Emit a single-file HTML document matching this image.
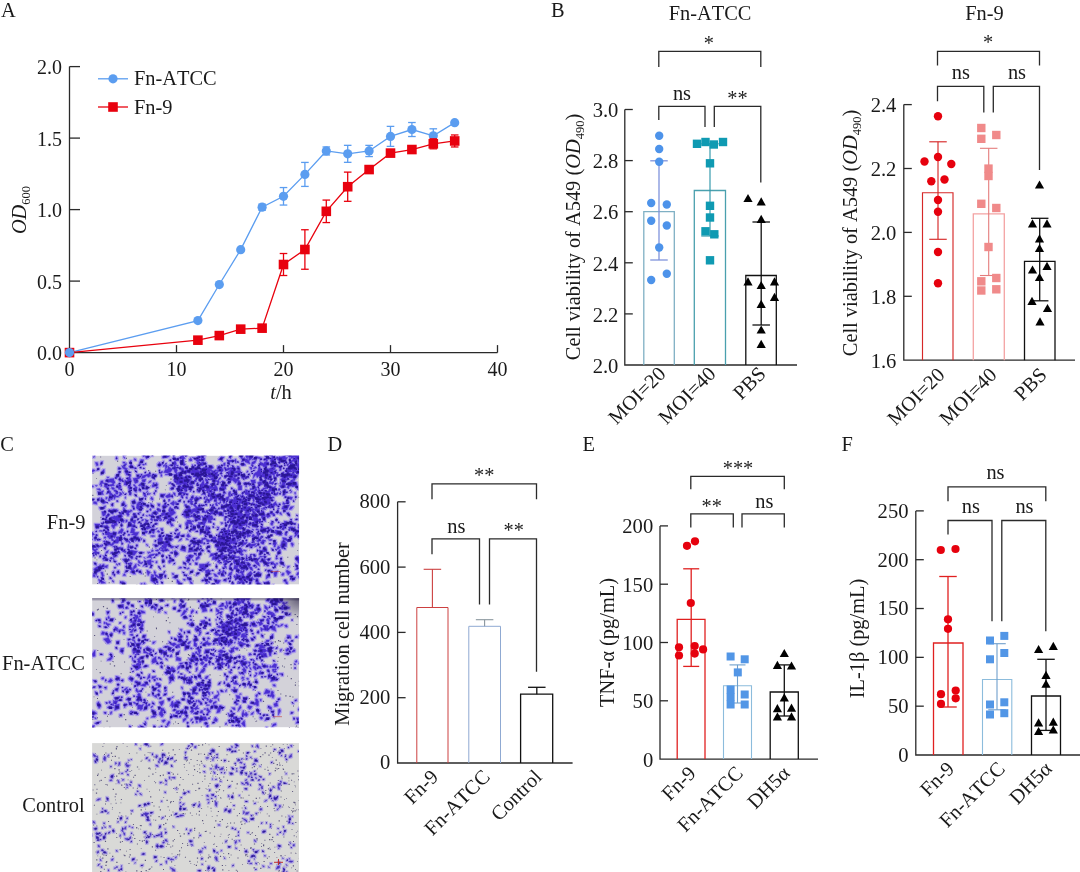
<!DOCTYPE html>
<html lang="en"><head><meta charset="utf-8"><title>Figure</title>
<style>html,body{margin:0;padding:0;background:#fff}svg{display:block}text{font-family:"Liberation Serif","DejaVu Serif",serif;font-kerning:none}</style>
</head><body>
<svg width="1080" height="872" viewBox="0 0 1080 872">
<rect width="1080" height="872" fill="#fff"/>
<g opacity="0.999">
<text x="1.00" y="16.50" text-anchor="start" font-size="20.4" fill="#1a1a1a">A</text>
<text x="551.00" y="16.50" text-anchor="start" font-size="20.4" fill="#1a1a1a">B</text>
<text x="0.30" y="450.80" text-anchor="start" font-size="20.4" fill="#1a1a1a">C</text>
<text x="327.50" y="450.50" text-anchor="start" font-size="20.4" fill="#1a1a1a">D</text>
<text x="582.50" y="450.50" text-anchor="start" font-size="20.4" fill="#1a1a1a">E</text>
<text x="841.50" y="450.50" text-anchor="start" font-size="20.4" fill="#1a1a1a">F</text>
<path d="M69.5,66.60V352.6H497.50" stroke="#2a2a2a" stroke-width="1.3" fill="none"/>
<text x="62.10" y="360.20" text-anchor="end" font-size="20" fill="#1a1a1a">0.0</text>
<line x1="69.50" y1="281.10" x2="80.00" y2="281.10" stroke="#2a2a2a" stroke-width="1.3"/>
<text x="62.10" y="288.70" text-anchor="end" font-size="20" fill="#1a1a1a">0.5</text>
<line x1="69.50" y1="209.60" x2="80.00" y2="209.60" stroke="#2a2a2a" stroke-width="1.3"/>
<text x="62.10" y="217.20" text-anchor="end" font-size="20" fill="#1a1a1a">1.0</text>
<line x1="69.50" y1="138.10" x2="80.00" y2="138.10" stroke="#2a2a2a" stroke-width="1.3"/>
<text x="62.10" y="145.70" text-anchor="end" font-size="20" fill="#1a1a1a">1.5</text>
<line x1="69.50" y1="66.60" x2="80.00" y2="66.60" stroke="#2a2a2a" stroke-width="1.3"/>
<text x="62.10" y="74.20" text-anchor="end" font-size="20" fill="#1a1a1a">2.0</text>
<line x1="176.50" y1="352.60" x2="176.50" y2="345.10" stroke="#2a2a2a" stroke-width="1.3"/>
<line x1="283.50" y1="352.60" x2="283.50" y2="345.10" stroke="#2a2a2a" stroke-width="1.3"/>
<line x1="390.50" y1="352.60" x2="390.50" y2="345.10" stroke="#2a2a2a" stroke-width="1.3"/>
<line x1="497.50" y1="352.60" x2="497.50" y2="345.10" stroke="#2a2a2a" stroke-width="1.3"/>
<text x="69.50" y="375.50" text-anchor="middle" font-size="20" fill="#1a1a1a">0</text>
<text x="176.50" y="375.50" text-anchor="middle" font-size="20" fill="#1a1a1a">10</text>
<text x="283.50" y="375.50" text-anchor="middle" font-size="20" fill="#1a1a1a">20</text>
<text x="390.50" y="375.50" text-anchor="middle" font-size="20" fill="#1a1a1a">30</text>
<text x="497.50" y="375.50" text-anchor="middle" font-size="20" fill="#1a1a1a">40</text>
<text x="281.00" y="398.50" text-anchor="middle" font-size="20.4" fill="#1a1a1a"><tspan font-style="italic">t</tspan>/h</text>
<text x="25.50" y="210.00" text-anchor="middle" font-size="20.4" fill="#1a1a1a" transform="rotate(-90 25.50 210.00)"><tspan font-style="italic">OD</tspan><tspan font-size="12.5" dy="4">600</tspan></text>
<polyline points="69.50,352.60 197.90,320.57 219.30,284.53 240.70,249.64 262.10,207.17 283.50,196.30 304.90,174.42 326.30,150.97 347.70,153.83 369.10,150.97 390.50,136.38 411.90,129.52 433.30,135.81 454.70,122.66" fill="none" stroke="#5b9df0" stroke-width="1.3"/>
<line x1="262.10" y1="204.17" x2="262.10" y2="210.17" stroke="#5b9df0" stroke-width="1.3"/>
<line x1="258.30" y1="204.17" x2="265.90" y2="204.17" stroke="#5b9df0" stroke-width="1.3"/>
<line x1="258.30" y1="210.17" x2="265.90" y2="210.17" stroke="#5b9df0" stroke-width="1.3"/>
<line x1="283.50" y1="187.55" x2="283.50" y2="205.05" stroke="#5b9df0" stroke-width="1.3"/>
<line x1="279.70" y1="187.55" x2="287.30" y2="187.55" stroke="#5b9df0" stroke-width="1.3"/>
<line x1="279.70" y1="205.05" x2="287.30" y2="205.05" stroke="#5b9df0" stroke-width="1.3"/>
<line x1="304.90" y1="162.42" x2="304.90" y2="186.42" stroke="#5b9df0" stroke-width="1.3"/>
<line x1="301.10" y1="162.42" x2="308.70" y2="162.42" stroke="#5b9df0" stroke-width="1.3"/>
<line x1="301.10" y1="186.42" x2="308.70" y2="186.42" stroke="#5b9df0" stroke-width="1.3"/>
<line x1="326.30" y1="146.97" x2="326.30" y2="154.97" stroke="#5b9df0" stroke-width="1.3"/>
<line x1="322.50" y1="146.97" x2="330.10" y2="146.97" stroke="#5b9df0" stroke-width="1.3"/>
<line x1="322.50" y1="154.97" x2="330.10" y2="154.97" stroke="#5b9df0" stroke-width="1.3"/>
<line x1="347.70" y1="145.33" x2="347.70" y2="162.33" stroke="#5b9df0" stroke-width="1.3"/>
<line x1="343.90" y1="145.33" x2="351.50" y2="145.33" stroke="#5b9df0" stroke-width="1.3"/>
<line x1="343.90" y1="162.33" x2="351.50" y2="162.33" stroke="#5b9df0" stroke-width="1.3"/>
<line x1="369.10" y1="145.37" x2="369.10" y2="156.57" stroke="#5b9df0" stroke-width="1.3"/>
<line x1="365.30" y1="145.37" x2="372.90" y2="145.37" stroke="#5b9df0" stroke-width="1.3"/>
<line x1="365.30" y1="156.57" x2="372.90" y2="156.57" stroke="#5b9df0" stroke-width="1.3"/>
<line x1="390.50" y1="126.38" x2="390.50" y2="146.38" stroke="#5b9df0" stroke-width="1.3"/>
<line x1="386.70" y1="126.38" x2="394.30" y2="126.38" stroke="#5b9df0" stroke-width="1.3"/>
<line x1="386.70" y1="146.38" x2="394.30" y2="146.38" stroke="#5b9df0" stroke-width="1.3"/>
<line x1="411.90" y1="122.52" x2="411.90" y2="136.52" stroke="#5b9df0" stroke-width="1.3"/>
<line x1="408.10" y1="122.52" x2="415.70" y2="122.52" stroke="#5b9df0" stroke-width="1.3"/>
<line x1="408.10" y1="136.52" x2="415.70" y2="136.52" stroke="#5b9df0" stroke-width="1.3"/>
<line x1="433.30" y1="128.81" x2="433.30" y2="142.81" stroke="#5b9df0" stroke-width="1.3"/>
<line x1="429.50" y1="128.81" x2="437.10" y2="128.81" stroke="#5b9df0" stroke-width="1.3"/>
<line x1="429.50" y1="142.81" x2="437.10" y2="142.81" stroke="#5b9df0" stroke-width="1.3"/>
<circle cx="69.50" cy="352.60" r="4.6" fill="#5b9df0"/>
<circle cx="197.90" cy="320.57" r="4.6" fill="#5b9df0"/>
<circle cx="219.30" cy="284.53" r="4.6" fill="#5b9df0"/>
<circle cx="240.70" cy="249.64" r="4.6" fill="#5b9df0"/>
<circle cx="262.10" cy="207.17" r="4.6" fill="#5b9df0"/>
<circle cx="283.50" cy="196.30" r="4.6" fill="#5b9df0"/>
<circle cx="304.90" cy="174.42" r="4.6" fill="#5b9df0"/>
<circle cx="326.30" cy="150.97" r="4.6" fill="#5b9df0"/>
<circle cx="347.70" cy="153.83" r="4.6" fill="#5b9df0"/>
<circle cx="369.10" cy="150.97" r="4.6" fill="#5b9df0"/>
<circle cx="390.50" cy="136.38" r="4.6" fill="#5b9df0"/>
<circle cx="411.90" cy="129.52" r="4.6" fill="#5b9df0"/>
<circle cx="433.30" cy="135.81" r="4.6" fill="#5b9df0"/>
<circle cx="454.70" cy="122.66" r="4.6" fill="#5b9df0"/>
<polyline points="69.50,352.60 197.90,340.16 219.30,335.58 240.70,329.15 262.10,328.15 283.50,264.51 304.90,249.50 326.30,211.32 347.70,186.72 369.10,169.56 390.50,153.12 411.90,149.54 433.30,143.82 454.70,140.96" fill="none" stroke="#e8000e" stroke-width="1.3"/>
<line x1="283.50" y1="253.51" x2="283.50" y2="275.51" stroke="#e8000e" stroke-width="1.3"/>
<line x1="279.70" y1="253.51" x2="287.30" y2="253.51" stroke="#e8000e" stroke-width="1.3"/>
<line x1="279.70" y1="275.51" x2="287.30" y2="275.51" stroke="#e8000e" stroke-width="1.3"/>
<line x1="304.90" y1="229.75" x2="304.90" y2="269.25" stroke="#e8000e" stroke-width="1.3"/>
<line x1="301.10" y1="229.75" x2="308.70" y2="229.75" stroke="#e8000e" stroke-width="1.3"/>
<line x1="301.10" y1="269.25" x2="308.70" y2="269.25" stroke="#e8000e" stroke-width="1.3"/>
<line x1="326.30" y1="200.07" x2="326.30" y2="222.57" stroke="#e8000e" stroke-width="1.3"/>
<line x1="322.50" y1="200.07" x2="330.10" y2="200.07" stroke="#e8000e" stroke-width="1.3"/>
<line x1="322.50" y1="222.57" x2="330.10" y2="222.57" stroke="#e8000e" stroke-width="1.3"/>
<line x1="347.70" y1="172.12" x2="347.70" y2="201.32" stroke="#e8000e" stroke-width="1.3"/>
<line x1="343.90" y1="172.12" x2="351.50" y2="172.12" stroke="#e8000e" stroke-width="1.3"/>
<line x1="343.90" y1="201.32" x2="351.50" y2="201.32" stroke="#e8000e" stroke-width="1.3"/>
<line x1="390.50" y1="150.12" x2="390.50" y2="156.12" stroke="#e8000e" stroke-width="1.3"/>
<line x1="386.70" y1="150.12" x2="394.30" y2="150.12" stroke="#e8000e" stroke-width="1.3"/>
<line x1="386.70" y1="156.12" x2="394.30" y2="156.12" stroke="#e8000e" stroke-width="1.3"/>
<line x1="411.90" y1="146.54" x2="411.90" y2="152.54" stroke="#e8000e" stroke-width="1.3"/>
<line x1="408.10" y1="146.54" x2="415.70" y2="146.54" stroke="#e8000e" stroke-width="1.3"/>
<line x1="408.10" y1="152.54" x2="415.70" y2="152.54" stroke="#e8000e" stroke-width="1.3"/>
<line x1="433.30" y1="138.82" x2="433.30" y2="148.82" stroke="#e8000e" stroke-width="1.3"/>
<line x1="429.50" y1="138.82" x2="437.10" y2="138.82" stroke="#e8000e" stroke-width="1.3"/>
<line x1="429.50" y1="148.82" x2="437.10" y2="148.82" stroke="#e8000e" stroke-width="1.3"/>
<line x1="454.70" y1="134.96" x2="454.70" y2="146.96" stroke="#e8000e" stroke-width="1.3"/>
<line x1="450.90" y1="134.96" x2="458.50" y2="134.96" stroke="#e8000e" stroke-width="1.3"/>
<line x1="450.90" y1="146.96" x2="458.50" y2="146.96" stroke="#e8000e" stroke-width="1.3"/>
<rect x="64.70" y="347.80" width="9.6" height="9.6" fill="#e8000e"/>
<rect x="193.10" y="335.36" width="9.6" height="9.6" fill="#e8000e"/>
<rect x="214.50" y="330.78" width="9.6" height="9.6" fill="#e8000e"/>
<rect x="235.90" y="324.35" width="9.6" height="9.6" fill="#e8000e"/>
<rect x="257.30" y="323.35" width="9.6" height="9.6" fill="#e8000e"/>
<rect x="278.70" y="259.71" width="9.6" height="9.6" fill="#e8000e"/>
<rect x="300.10" y="244.70" width="9.6" height="9.6" fill="#e8000e"/>
<rect x="321.50" y="206.52" width="9.6" height="9.6" fill="#e8000e"/>
<rect x="342.90" y="181.92" width="9.6" height="9.6" fill="#e8000e"/>
<rect x="364.30" y="164.76" width="9.6" height="9.6" fill="#e8000e"/>
<rect x="385.70" y="148.31" width="9.6" height="9.6" fill="#e8000e"/>
<rect x="407.10" y="144.74" width="9.6" height="9.6" fill="#e8000e"/>
<rect x="428.50" y="139.02" width="9.6" height="9.6" fill="#e8000e"/>
<rect x="449.90" y="136.16" width="9.6" height="9.6" fill="#e8000e"/>
<circle cx="69.50" cy="352.60" r="4.6" fill="#5b9df0"/>
<line x1="98.00" y1="78.80" x2="128.00" y2="78.80" stroke="#5b9df0" stroke-width="1.3"/>
<circle cx="113.00" cy="78.80" r="4.6" fill="#5b9df0"/>
<text x="134.00" y="85.00" text-anchor="start" font-size="20.4" fill="#1a1a1a">Fn-ATCC</text>
<line x1="98.00" y1="107.00" x2="128.00" y2="107.00" stroke="#e8000e" stroke-width="1.3"/>
<rect x="108.20" y="102.20" width="9.6" height="9.6" fill="#e8000e"/>
<text x="134.00" y="113.50" text-anchor="start" font-size="20.4" fill="#1a1a1a">Fn-9</text>
<path d="M624.8,109.50V365.0H797" stroke="#2a2a2a" stroke-width="1.3" fill="none"/>
<line x1="624.80" y1="313.90" x2="632.80" y2="313.90" stroke="#2a2a2a" stroke-width="1.3"/>
<line x1="624.80" y1="262.80" x2="632.80" y2="262.80" stroke="#2a2a2a" stroke-width="1.3"/>
<line x1="624.80" y1="211.70" x2="632.80" y2="211.70" stroke="#2a2a2a" stroke-width="1.3"/>
<line x1="624.80" y1="160.60" x2="632.80" y2="160.60" stroke="#2a2a2a" stroke-width="1.3"/>
<line x1="624.80" y1="109.50" x2="632.80" y2="109.50" stroke="#2a2a2a" stroke-width="1.3"/>
<text x="618.40" y="372.70" text-anchor="end" font-size="20.6" fill="#1a1a1a">2.0</text>
<text x="618.40" y="321.60" text-anchor="end" font-size="20.6" fill="#1a1a1a">2.2</text>
<text x="618.40" y="270.50" text-anchor="end" font-size="20.6" fill="#1a1a1a">2.4</text>
<text x="618.40" y="219.40" text-anchor="end" font-size="20.6" fill="#1a1a1a">2.6</text>
<text x="618.40" y="168.30" text-anchor="end" font-size="20.6" fill="#1a1a1a">2.8</text>
<text x="618.40" y="117.20" text-anchor="end" font-size="20.6" fill="#1a1a1a">3.0</text>
<text x="710.00" y="20.00" text-anchor="middle" font-size="20.4" fill="#1a1a1a">Fn-ATCC</text>
<text x="708.80" y="49.50" text-anchor="middle" font-size="20.4" fill="#1a1a1a">*</text>
<path d="M658.80,67.00V51.30H760.80V67.00" stroke="#2a2a2a" stroke-width="1.3" fill="none"/>
<path d="M658.80,120.00V106.30H705.00V127.00" stroke="#2a2a2a" stroke-width="1.3" fill="none"/>
<path d="M714.30,127.00V106.30H760.80V182.50" stroke="#2a2a2a" stroke-width="1.3" fill="none"/>
<text x="682.00" y="99.50" text-anchor="middle" font-size="20.4" fill="#1a1a1a">ns</text>
<text x="737.50" y="105.00" text-anchor="middle" font-size="20.4" fill="#1a1a1a">**</text>
<text x="579.50" y="237.00" text-anchor="middle" font-size="20.4" fill="#1a1a1a" transform="rotate(-90 579.50 237.00)">Cell viability of A549 (<tspan font-style="italic">OD</tspan><tspan font-size="12.5" dy="4">490</tspan><tspan dy="-4">)</tspan></text>
<path d="M643.80,365.00V211.70H674.30V365.00" stroke="#7fb0c4" stroke-width="1.3" fill="none"/>
<line x1="659.00" y1="160.80" x2="659.00" y2="260.00" stroke="#7f93dc" stroke-width="1.3"/>
<line x1="650.25" y1="160.80" x2="667.75" y2="160.80" stroke="#7f93dc" stroke-width="1.3"/>
<line x1="650.25" y1="260.00" x2="667.75" y2="260.00" stroke="#7f93dc" stroke-width="1.3"/>
<circle cx="659.20" cy="135.70" r="4.2" fill="#4d93ea"/>
<circle cx="659.20" cy="149.00" r="4.2" fill="#4d93ea"/>
<circle cx="659.20" cy="161.80" r="4.2" fill="#4d93ea"/>
<circle cx="651.20" cy="203.00" r="4.2" fill="#4d93ea"/>
<circle cx="666.80" cy="204.50" r="4.2" fill="#4d93ea"/>
<circle cx="651.20" cy="220.80" r="4.2" fill="#4d93ea"/>
<circle cx="666.80" cy="225.50" r="4.2" fill="#4d93ea"/>
<circle cx="659.20" cy="247.50" r="4.2" fill="#4d93ea"/>
<circle cx="666.80" cy="273.80" r="4.2" fill="#4d93ea"/>
<circle cx="651.20" cy="280.00" r="4.2" fill="#4d93ea"/>
<path d="M694.30,365.00V190.50H725.50V365.00" stroke="#4aa0ae" stroke-width="1.3" fill="none"/>
<line x1="710.00" y1="143.80" x2="710.00" y2="236.00" stroke="#2f97aa" stroke-width="1.15"/>
<line x1="701.25" y1="143.80" x2="718.75" y2="143.80" stroke="#2f97aa" stroke-width="1.15"/>
<line x1="701.25" y1="236.00" x2="718.75" y2="236.00" stroke="#2f97aa" stroke-width="1.15"/>
<rect x="692.80" y="139.60" width="8.4" height="8.4" fill="#0f9ab2"/>
<rect x="701.30" y="137.80" width="8.4" height="8.4" fill="#0f9ab2"/>
<rect x="709.60" y="140.30" width="8.4" height="8.4" fill="#0f9ab2"/>
<rect x="718.80" y="137.80" width="8.4" height="8.4" fill="#0f9ab2"/>
<rect x="705.80" y="159.10" width="8.4" height="8.4" fill="#0f9ab2"/>
<rect x="705.80" y="201.60" width="8.4" height="8.4" fill="#0f9ab2"/>
<rect x="705.80" y="213.30" width="8.4" height="8.4" fill="#0f9ab2"/>
<rect x="701.30" y="227.10" width="8.4" height="8.4" fill="#0f9ab2"/>
<rect x="710.10" y="230.10" width="8.4" height="8.4" fill="#0f9ab2"/>
<rect x="705.80" y="256.10" width="8.4" height="8.4" fill="#0f9ab2"/>
<path d="M745.80,365.00V275.50H776.30V365.00" stroke="#111" stroke-width="1.3" fill="none"/>
<line x1="761.20" y1="222.00" x2="761.20" y2="325.00" stroke="#111" stroke-width="1.3"/>
<line x1="752.45" y1="222.00" x2="769.95" y2="222.00" stroke="#111" stroke-width="1.3"/>
<line x1="752.45" y1="325.00" x2="769.95" y2="325.00" stroke="#111" stroke-width="1.3"/>
<path d="M748.00,193.90l4.60,8.20h-9.20z" fill="#000"/>
<path d="M761.20,197.20l4.60,8.20h-9.20z" fill="#000"/>
<path d="M761.20,214.70l4.60,8.20h-9.20z" fill="#000"/>
<path d="M748.00,277.20l4.60,8.20h-9.20z" fill="#000"/>
<path d="M761.20,280.90l4.60,8.20h-9.20z" fill="#000"/>
<path d="M774.50,277.20l4.60,8.20h-9.20z" fill="#000"/>
<path d="M774.50,292.70l4.60,8.20h-9.20z" fill="#000"/>
<path d="M761.20,299.70l4.60,8.20h-9.20z" fill="#000"/>
<path d="M761.20,325.40l4.60,8.20h-9.20z" fill="#000"/>
<path d="M761.20,339.70l4.60,8.20h-9.20z" fill="#000"/>
<text x="667.00" y="375.00" text-anchor="end" font-size="20.4" fill="#1a1a1a" transform="rotate(-45 667.00 375.00)">MOI=20</text>
<text x="717.00" y="375.00" text-anchor="end" font-size="20.4" fill="#1a1a1a" transform="rotate(-45 717.00 375.00)">MOI=40</text>
<text x="767.00" y="375.00" text-anchor="end" font-size="20.4" fill="#1a1a1a" transform="rotate(-45 767.00 375.00)">PBS</text>
<path d="M903.8,104.60V360.2H1075" stroke="#2a2a2a" stroke-width="1.3" fill="none"/>
<line x1="903.80" y1="296.30" x2="911.80" y2="296.30" stroke="#2a2a2a" stroke-width="1.3"/>
<line x1="903.80" y1="232.40" x2="911.80" y2="232.40" stroke="#2a2a2a" stroke-width="1.3"/>
<line x1="903.80" y1="168.50" x2="911.80" y2="168.50" stroke="#2a2a2a" stroke-width="1.3"/>
<line x1="903.80" y1="104.60" x2="911.80" y2="104.60" stroke="#2a2a2a" stroke-width="1.3"/>
<text x="896.40" y="368.00" text-anchor="end" font-size="20.6" fill="#1a1a1a">1.6</text>
<text x="896.40" y="304.10" text-anchor="end" font-size="20.6" fill="#1a1a1a">1.8</text>
<text x="896.40" y="240.20" text-anchor="end" font-size="20.6" fill="#1a1a1a">2.0</text>
<text x="896.40" y="176.30" text-anchor="end" font-size="20.6" fill="#1a1a1a">2.2</text>
<text x="896.40" y="112.40" text-anchor="end" font-size="20.6" fill="#1a1a1a">2.4</text>
<text x="984.50" y="20.00" text-anchor="middle" font-size="20.4" fill="#1a1a1a">Fn-9</text>
<text x="988.00" y="48.70" text-anchor="middle" font-size="20.4" fill="#1a1a1a">*</text>
<path d="M937.50,65.50V51.30H1039.50V65.50" stroke="#2a2a2a" stroke-width="1.3" fill="none"/>
<path d="M937.50,101.30V86.30H983.80V112.50" stroke="#2a2a2a" stroke-width="1.3" fill="none"/>
<path d="M993.30,112.50V86.30H1039.50V170.00" stroke="#2a2a2a" stroke-width="1.3" fill="none"/>
<text x="960.80" y="78.80" text-anchor="middle" font-size="20.4" fill="#1a1a1a">ns</text>
<text x="1017.00" y="78.80" text-anchor="middle" font-size="20.4" fill="#1a1a1a">ns</text>
<text x="857.00" y="233.00" text-anchor="middle" font-size="20.4" fill="#1a1a1a" transform="rotate(-90 857.00 233.00)">Cell viability of A549 (<tspan font-style="italic">OD</tspan><tspan font-size="12.5" dy="4">490</tspan><tspan dy="-4">)</tspan></text>
<path d="M922.50,360.20V192.70H953.00V360.20" stroke="#d62828" stroke-width="1.15" fill="none"/>
<line x1="938.00" y1="141.80" x2="938.00" y2="239.30" stroke="#d62828" stroke-width="1.15"/>
<line x1="929.25" y1="141.80" x2="946.75" y2="141.80" stroke="#d62828" stroke-width="1.15"/>
<line x1="929.25" y1="239.30" x2="946.75" y2="239.30" stroke="#d62828" stroke-width="1.15"/>
<circle cx="938.00" cy="116.30" r="4.2" fill="#e6000e"/>
<circle cx="924.50" cy="161.50" r="4.2" fill="#e6000e"/>
<circle cx="938.00" cy="157.00" r="4.2" fill="#e6000e"/>
<circle cx="951.30" cy="164.00" r="4.2" fill="#e6000e"/>
<circle cx="931.30" cy="181.30" r="4.2" fill="#e6000e"/>
<circle cx="944.50" cy="179.50" r="4.2" fill="#e6000e"/>
<circle cx="938.00" cy="200.00" r="4.2" fill="#e6000e"/>
<circle cx="938.00" cy="211.80" r="4.2" fill="#e6000e"/>
<circle cx="938.00" cy="252.00" r="4.2" fill="#e6000e"/>
<circle cx="938.00" cy="283.30" r="4.2" fill="#e6000e"/>
<path d="M973.30,360.20V213.80H1004.30V360.20" stroke="#f4a3a3" stroke-width="1.3" fill="none"/>
<line x1="988.70" y1="148.30" x2="988.70" y2="275.50" stroke="#e47c7c" stroke-width="1.1"/>
<line x1="979.95" y1="148.30" x2="997.45" y2="148.30" stroke="#e47c7c" stroke-width="1.1"/>
<line x1="979.95" y1="275.50" x2="997.45" y2="275.50" stroke="#e47c7c" stroke-width="1.1"/>
<rect x="977.10" y="123.80" width="8.4" height="8.4" fill="#f08a8a"/>
<rect x="977.10" y="134.60" width="8.4" height="8.4" fill="#f08a8a"/>
<rect x="992.10" y="130.80" width="8.4" height="8.4" fill="#f08a8a"/>
<rect x="984.30" y="164.40" width="8.4" height="8.4" fill="#f08a8a"/>
<rect x="984.30" y="171.80" width="8.4" height="8.4" fill="#f08a8a"/>
<rect x="977.10" y="199.60" width="8.4" height="8.4" fill="#f08a8a"/>
<rect x="992.10" y="203.80" width="8.4" height="8.4" fill="#f08a8a"/>
<rect x="984.30" y="242.80" width="8.4" height="8.4" fill="#f08a8a"/>
<rect x="977.10" y="277.10" width="8.4" height="8.4" fill="#f08a8a"/>
<rect x="992.10" y="273.80" width="8.4" height="8.4" fill="#f08a8a"/>
<rect x="977.10" y="286.30" width="8.4" height="8.4" fill="#f08a8a"/>
<rect x="992.10" y="285.10" width="8.4" height="8.4" fill="#f08a8a"/>
<path d="M1024.50,360.20V261.30H1055.00V360.20" stroke="#111" stroke-width="1.3" fill="none"/>
<line x1="1039.70" y1="218.30" x2="1039.70" y2="300.80" stroke="#111" stroke-width="1.3"/>
<line x1="1030.95" y1="218.30" x2="1048.45" y2="218.30" stroke="#111" stroke-width="1.3"/>
<line x1="1030.95" y1="300.80" x2="1048.45" y2="300.80" stroke="#111" stroke-width="1.3"/>
<path d="M1039.50,180.40l4.60,8.20h-9.20z" fill="#000"/>
<path d="M1032.50,219.20l4.60,8.20h-9.20z" fill="#000"/>
<path d="M1047.00,219.20l4.60,8.20h-9.20z" fill="#000"/>
<path d="M1039.50,234.20l4.60,8.20h-9.20z" fill="#000"/>
<path d="M1039.50,243.90l4.60,8.20h-9.20z" fill="#000"/>
<path d="M1032.50,265.40l4.60,8.20h-9.20z" fill="#000"/>
<path d="M1047.00,261.70l4.60,8.20h-9.20z" fill="#000"/>
<path d="M1039.50,272.90l4.60,8.20h-9.20z" fill="#000"/>
<path d="M1032.00,296.70l4.60,8.20h-9.20z" fill="#000"/>
<path d="M1047.50,303.90l4.60,8.20h-9.20z" fill="#000"/>
<path d="M1040.00,317.20l4.60,8.20h-9.20z" fill="#000"/>
<text x="946.00" y="376.00" text-anchor="end" font-size="20.4" fill="#1a1a1a" transform="rotate(-45 946.00 376.00)">MOI=20</text>
<text x="998.00" y="376.00" text-anchor="end" font-size="20.4" fill="#1a1a1a" transform="rotate(-45 998.00 376.00)">MOI=40</text>
<text x="1048.00" y="376.00" text-anchor="end" font-size="20.4" fill="#1a1a1a" transform="rotate(-45 1048.00 376.00)">PBS</text>
<text x="85.40" y="528.70" text-anchor="end" font-size="20.4" fill="#1a1a1a">Fn-9</text>
<text x="84.80" y="669.60" text-anchor="end" font-size="20.4" fill="#1a1a1a">Fn-ATCC</text>
<text x="84.60" y="812.00" text-anchor="end" font-size="20.4" fill="#1a1a1a">Control</text>
<defs><clipPath id="c1"><rect x="92.1" y="455.6" width="207" height="129"/></clipPath><clipPath id="c2"><rect x="92.1" y="598.2" width="207" height="129.2"/></clipPath><clipPath id="c3"><rect x="92.1" y="743.1" width="207" height="129"/></clipPath><filter id="halo" x="-2%" y="-2%" width="104%" height="104%"><feMorphology operator="dilate" radius="0.9" in="SourceAlpha" result="d"/><feGaussianBlur in="d" stdDeviation=".7" result="db"/><feFlood flood-color="#a08ef0" flood-opacity=".85"/><feComposite in2="db" operator="in" result="h"/><feMerge><feMergeNode in="h"/><feMergeNode in="SourceGraphic"/></feMerge></filter><filter id="halo3" x="-2%" y="-2%" width="104%" height="104%"><feMorphology operator="dilate" radius="0.5" in="SourceAlpha" result="d"/><feGaussianBlur in="d" stdDeviation=".6" result="db"/><feFlood flood-color="#9a8ae8" flood-opacity=".7"/><feComposite in2="db" operator="in" result="h"/><feMerge><feMergeNode in="h"/><feMergeNode in="SourceGraphic"/></feMerge></filter><filter id="soft" x="-2%" y="-2%" width="104%" height="104%"><feGaussianBlur stdDeviation=".45"/></filter><linearGradient id="vg" x1="0" y1="0" x2="0" y2="1"><stop offset="0" stop-color="#1a1040" stop-opacity=".55"/><stop offset="1" stop-color="#1a1040" stop-opacity="0"/></linearGradient><radialGradient id="vr" cx="1" cy="0" r="1"><stop offset="0" stop-color="#120a30" stop-opacity=".6"/><stop offset="1" stop-color="#120a30" stop-opacity="0"/></radialGradient></defs>
<g clip-path="url(#c1)"><rect x="92.1" y="455.6" width="207" height="129" fill="#d3d2da"/><g filter="url(#soft)"><path d="M245.0 554.0h0.8v0.8h-0.8zM275.4 506.0h1v1h-1zM290.8 455.8h1v1h-1zM216.3 500.1h0.8v0.8h-0.8zM101.1 550.0h1v1h-1zM267.9 522.2h0.8v0.8h-0.8zM141.9 551.0h0.8v0.8h-0.8zM141.8 481.9h0.8v0.8h-0.8zM213.3 555.0h1.2v1.2h-1.2zM282.5 477.2h0.8v0.8h-0.8zM136.5 584.5h0.8v0.8h-0.8zM268.5 475.2h1v1h-1zM220.2 466.0h1.2v1.2h-1.2zM171.7 580.7h1.2v1.2h-1.2zM104.8 498.3h1v1h-1zM243.1 543.0h1.2v1.2h-1.2zM293.3 565.9h1v1h-1zM219.7 553.5h1v1h-1zM185.2 460.9h1.2v1.2h-1.2zM239.7 468.7h1.2v1.2h-1.2zM172.3 549.6h0.8v0.8h-0.8zM181.9 470.3h1.2v1.2h-1.2zM273.3 515.2h1.2v1.2h-1.2zM117.0 460.6h1.2v1.2h-1.2zM167.7 577.8h1.2v1.2h-1.2zM282.4 566.7h1.2v1.2h-1.2zM149.7 473.3h0.8v0.8h-0.8zM120.0 558.8h0.8v0.8h-0.8zM117.7 495.5h0.8v0.8h-0.8zM244.4 555.7h0.8v0.8h-0.8zM165.7 473.4h1v1h-1zM114.4 477.2h1v1h-1zM104.0 575.3h0.8v0.8h-0.8zM137.4 509.9h1v1h-1zM254.8 540.1h1.2v1.2h-1.2zM287.0 512.5h1v1h-1zM215.4 527.3h1.2v1.2h-1.2zM251.1 559.6h1.2v1.2h-1.2zM100.3 456.6h0.8v0.8h-0.8zM164.7 519.3h1.2v1.2h-1.2zM150.3 482.0h0.8v0.8h-0.8zM222.1 572.4h1.2v1.2h-1.2zM265.2 520.9h0.8v0.8h-0.8zM271.6 513.3h1v1h-1zM251.2 495.2h0.8v0.8h-0.8zM186.2 565.5h0.8v0.8h-0.8zM293.9 485.7h1.2v1.2h-1.2zM144.7 575.4h1v1h-1zM143.0 573.4h1v1h-1zM102.0 555.2h0.8v0.8h-0.8zM97.1 583.0h1v1h-1zM186.5 555.0h1v1h-1zM224.0 463.1h1v1h-1zM189.5 503.3h1v1h-1zM176.8 495.8h1.2v1.2h-1.2zM286.5 462.6h0.8v0.8h-0.8zM106.7 573.6h1.2v1.2h-1.2zM271.0 475.4h0.8v0.8h-0.8zM213.1 562.8h0.8v0.8h-0.8zM211.6 517.3h1.2v1.2h-1.2zM131.2 504.4h0.8v0.8h-0.8zM194.7 462.2h0.8v0.8h-0.8zM267.7 529.4h1.2v1.2h-1.2zM172.4 533.9h0.8v0.8h-0.8zM279.4 565.4h1.2v1.2h-1.2zM183.3 574.4h1v1h-1zM150.2 485.4h1v1h-1zM250.5 533.5h1v1h-1zM295.7 461.9h1.2v1.2h-1.2zM140.9 520.9h1v1h-1zM100.5 516.7h1.2v1.2h-1.2zM105.0 533.0h0.8v0.8h-0.8zM111.0 508.7h1v1h-1zM196.0 517.3h0.8v0.8h-0.8zM104.3 505.5h1.2v1.2h-1.2zM297.3 550.0h0.8v0.8h-0.8zM200.0 487.9h1.2v1.2h-1.2zM114.9 496.7h1.2v1.2h-1.2zM219.1 533.5h1.2v1.2h-1.2zM125.5 552.9h1.2v1.2h-1.2zM257.8 510.5h0.8v0.8h-0.8zM214.9 539.1h1v1h-1zM115.1 487.6h0.8v0.8h-0.8zM151.1 517.9h1.2v1.2h-1.2zM148.8 546.6h1.2v1.2h-1.2zM224.2 527.4h1v1h-1zM262.5 518.7h0.8v0.8h-0.8zM287.3 556.7h1v1h-1zM155.2 470.7h1v1h-1zM180.8 538.2h1v1h-1zM164.9 489.4h0.8v0.8h-0.8zM255.2 466.8h1.2v1.2h-1.2zM280.1 571.8h1v1h-1zM147.0 573.7h1v1h-1zM228.7 576.8h0.8v0.8h-0.8zM100.6 571.1h0.8v0.8h-0.8zM279.9 563.3h1v1h-1zM259.7 532.8h0.8v0.8h-0.8zM245.5 519.9h0.8v0.8h-0.8zM295.8 459.7h1.2v1.2h-1.2zM237.3 565.5h1.2v1.2h-1.2zM128.4 468.8h1v1h-1zM113.8 567.0h0.8v0.8h-0.8zM117.9 472.8h1v1h-1zM174.6 547.9h0.8v0.8h-0.8zM206.5 477.8h1.2v1.2h-1.2zM286.9 470.7h1.2v1.2h-1.2zM155.0 516.1h1.2v1.2h-1.2zM230.9 552.3h1v1h-1zM272.2 485.8h0.8v0.8h-0.8zM133.5 459.3h0.8v0.8h-0.8zM141.7 481.5h1.2v1.2h-1.2zM96.5 559.4h0.8v0.8h-0.8zM92.3 472.7h1.2v1.2h-1.2zM94.4 557.2h1.2v1.2h-1.2zM275.3 484.9h0.8v0.8h-0.8zM256.7 560.0h1v1h-1zM132.7 479.9h1v1h-1zM228.7 513.5h1.2v1.2h-1.2zM298.6 496.7h1.2v1.2h-1.2zM131.4 568.9h0.8v0.8h-0.8zM144.0 502.5h0.8v0.8h-0.8zM196.2 497.7h1v1h-1zM129.7 576.0h1v1h-1zM278.6 545.1h1v1h-1zM267.5 533.0h1.2v1.2h-1.2zM112.3 514.2h1v1h-1zM130.0 512.0h1.2v1.2h-1.2zM298.7 543.2h1v1h-1zM217.8 582.9h0.8v0.8h-0.8zM211.4 573.3h1v1h-1zM134.5 565.8h0.8v0.8h-0.8zM125.8 457.8h1.2v1.2h-1.2zM192.5 580.4h1.2v1.2h-1.2zM280.1 478.2h1.2v1.2h-1.2zM252.5 459.5h1v1h-1zM119.2 526.8h1v1h-1zM248.9 549.7h0.8v0.8h-0.8zM263.4 537.4h1v1h-1zM252.8 467.4h1.2v1.2h-1.2zM115.8 486.7h1.2v1.2h-1.2zM193.6 574.6h1v1h-1zM257.1 485.5h0.8v0.8h-0.8zM256.0 518.4h0.8v0.8h-0.8zM243.7 479.6h1v1h-1zM106.6 558.9h1v1h-1zM290.0 572.7h0.8v0.8h-0.8zM170.4 478.6h1.2v1.2h-1.2zM293.6 484.2h1.2v1.2h-1.2zM108.7 582.2h1v1h-1zM159.0 498.6h1v1h-1zM115.7 543.4h0.8v0.8h-0.8zM192.0 539.4h0.8v0.8h-0.8zM104.8 570.4h1v1h-1zM101.5 491.9h0.8v0.8h-0.8zM204.1 564.1h1.2v1.2h-1.2zM92.2 494.7h1.2v1.2h-1.2zM215.2 553.9h0.8v0.8h-0.8zM253.6 523.3h1v1h-1zM267.1 563.9h0.8v0.8h-0.8zM129.7 566.7h0.8v0.8h-0.8zM256.1 576.8h1v1h-1zM177.1 521.6h1v1h-1zM165.5 571.0h0.8v0.8h-0.8zM249.2 567.8h1v1h-1zM295.1 462.2h1.2v1.2h-1.2zM155.5 548.0h1v1h-1zM150.2 572.0h1.2v1.2h-1.2zM188.9 521.5h1.2v1.2h-1.2zM132.9 499.9h0.8v0.8h-0.8zM152.4 544.4h1v1h-1zM235.4 513.0h1v1h-1zM145.3 572.1h1.2v1.2h-1.2zM225.8 572.8h1.2v1.2h-1.2zM111.6 536.6h1v1h-1zM150.3 536.2h1v1h-1zM174.4 508.5h1v1h-1zM148.1 470.1h1.2v1.2h-1.2zM204.3 479.4h1.2v1.2h-1.2zM165.9 512.6h1v1h-1zM125.6 462.3h1.2v1.2h-1.2zM136.6 568.2h0.8v0.8h-0.8zM159.7 538.7h0.8v0.8h-0.8zM186.6 579.0h0.8v0.8h-0.8zM130.5 511.8h0.8v0.8h-0.8zM165.9 485.0h0.8v0.8h-0.8zM182.7 490.6h0.8v0.8h-0.8zM235.4 562.2h0.8v0.8h-0.8zM268.0 563.5h1.2v1.2h-1.2zM193.7 519.0h1v1h-1zM206.1 538.3h1.2v1.2h-1.2zM216.8 465.1h0.8v0.8h-0.8zM148.3 502.1h1v1h-1zM184.2 517.0h1v1h-1zM118.8 470.7h1.2v1.2h-1.2zM128.6 543.1h1.2v1.2h-1.2zM199.0 531.9h0.8v0.8h-0.8zM186.8 495.1h1v1h-1zM159.7 551.5h0.8v0.8h-0.8zM118.7 514.3h0.8v0.8h-0.8zM240.0 542.9h1.2v1.2h-1.2zM103.1 523.4h1v1h-1zM275.9 456.1h1v1h-1zM166.5 551.0h0.8v0.8h-0.8zM132.4 538.0h1.2v1.2h-1.2zM96.1 478.0h0.8v0.8h-0.8zM169.2 534.7h1v1h-1zM247.1 474.8h0.8v0.8h-0.8zM166.7 548.5h1v1h-1zM229.9 569.3h1v1h-1zM130.2 559.6h1.2v1.2h-1.2zM187.8 575.2h0.8v0.8h-0.8zM131.7 469.4h0.8v0.8h-0.8zM152.0 501.2h1v1h-1zM228.5 580.8h1v1h-1zM151.1 520.1h0.8v0.8h-0.8zM271.4 476.8h0.8v0.8h-0.8zM191.5 498.4h0.8v0.8h-0.8zM231.2 530.2h1.2v1.2h-1.2zM212.0 499.0h1v1h-1zM162.2 462.0h0.8v0.8h-0.8zM188.4 561.6h1.2v1.2h-1.2zM191.3 505.4h1v1h-1zM295.1 499.2h1v1h-1zM226.0 560.8h1.2v1.2h-1.2zM105.0 539.0h1v1h-1zM209.6 465.1h1.2v1.2h-1.2zM229.0 540.0h1v1h-1zM186.2 505.1h1v1h-1zM200.9 570.1h1v1h-1zM125.4 469.1h1.2v1.2h-1.2zM179.1 523.7h0.8v0.8h-0.8zM267.5 554.5h0.8v0.8h-0.8zM270.7 466.7h1v1h-1zM249.5 475.2h1.2v1.2h-1.2zM152.0 547.7h1v1h-1zM277.3 544.6h1v1h-1zM195.1 543.4h0.8v0.8h-0.8zM102.3 516.7h0.8v0.8h-0.8zM130.7 502.8h1v1h-1zM110.1 488.2h0.8v0.8h-0.8zM189.3 482.0h1.2v1.2h-1.2zM204.5 553.4h0.8v0.8h-0.8zM107.2 565.3h1.2v1.2h-1.2zM278.5 483.2h1.2v1.2h-1.2zM254.0 539.5h1v1h-1zM164.0 500.1h1v1h-1zM92.4 500.7h0.8v0.8h-0.8zM152.5 557.3h1v1h-1zM187.0 531.8h0.8v0.8h-0.8z" fill="#3b3566" opacity=".8"/><path filter="url(#halo)" d="M254.4 521.7l-.9 -3.0l1.2 -2.0l.8 3.4zM256.0 521.8l.4 -1.8l1.7 1.0l-.2 .8zM255.6 527.2l-3.3 -.1l-.4 -4.3l2.2 .9zM249.7 497.2l.8 -2.5l2.3 -.0l-.8 1.2zM252.4 493.0l.6 -1.1l1.0 -.6l-.0 1.2zM254.5 495.4l-1.2 -2.0l.5 -.8l1.2 .3zM246.2 500.0l-1.8 -.8l-1.8 -2.9l2.6 1.4zM252.4 489.5l.6 -1.8l1.0 .6l-.2 1.2zM247.1 485.2l-1.4 .3l-.8 -1.2l1.7 .2zM180.1 483.5l-1.8 -1.0l-.9 -2.1l2.2 -.8zM176.0 482.8l-1.1 -.3l-.0 -1.7l1.3 .9zM174.1 481.9l.4 -2.1l2.1 .5l-.6 1.5zM181.3 486.6l-2.2 .5l-1.2 -1.5l1.5 -.1zM179.6 492.5l-1.3 -.3l-.6 -1.6l.8 .3zM177.4 488.6l.2 -2.4l2.8 -1.7l-.2 3.0zM184.5 473.9l1.4 -.9l.4 1.1l-.8 .7zM189.7 485.2l-.9 -2.2l2.1 -1.6l1.5 3.5zM236.0 539.7l-2.1 1.5l-1.3 -3.2l2.5 -.1zM230.9 541.1l-1.7 .6l-1.2 -1.1l1.0 -.6zM238.2 541.5l-1.6 -.0l.0 -1.0l1.9 -.3zM231.3 532.1l1.0 -.9l1.7 -.4l-1.1 1.1zM189.0 481.8l-2.1 .6l-.9 -.8l2.1 -.3zM186.4 483.4l-3.9 .7l-1.7 -2.0l2.3 -1.2zM187.3 489.1l-5.9 -1.3l1.0 -3.0l3.3 -2.2zM264.2 496.9l-1.0 -.9l.1 -1.5l.9 1.1zM259.3 498.8l-1.8 -1.7l.7 -1.2l1.3 1.2zM267.9 492.1l-2.6 -.7l-1.1 -1.4l1.8 -.3zM263.7 501.4l-2.4 -1.4l-.3 -1.7l1.9 1.0zM265.6 497.3l1.1 -1.2l3.7 1.0l-2.6 1.1zM258.9 503.2l1.4 -1.2l2.4 -.3l-.2 1.9zM259.6 506.1l.4 -.8l1.6 1.0l-.4 .4zM261.5 489.9l2.0 -2.1l2.8 .0l-2.8 2.2zM262.5 562.5l-1.6 -2.8l1.3 -1.9l2.8 2.9zM263.0 556.8l1.6 -1.0l2.1 .8l-1.4 1.7zM179.7 458.9l.9 -2.8l3.3 -.3l-1.1 2.7zM183.9 461.2l-2.1 -.2l.6 -2.6l1.3 1.5zM185.2 455.4l-2.8 .1l-3.5 -3.4l6.4 .7zM266.4 485.5l1.4 -1.7l1.1 .8l-1.1 .9zM265.3 487.5l-1.1 -1.5l.2 -1.5l1.0 1.3zM273.4 492.4l-.9 -3.7l2.0 -1.5l.7 1.9zM263.1 480.6l-1.6 .1l-1.5 -1.6l1.3 -.4zM264.8 478.3l.5 -2.3l1.2 -.8l.6 3.4zM272.0 485.1l-.1 -2.2l1.7 -2.1l-.1 2.4zM214.6 483.3l-2.4 -2.0l1.9 -3.3l2.4 2.5zM216.5 478.8l-1.2 -1.0l1.2 -2.8l1.6 2.0zM214.8 481.9l-1.1 -4.9l2.7 -3.0l1.3 3.2zM141.9 573.9l-3.0 -1.6l-.5 -1.6l2.4 -.4zM135.4 571.9l1.2 -2.3l1.7 -.4l-.6 2.3zM135.3 574.3l-1.9 -.8l-2.4 -4.6l3.5 1.2zM145.2 566.4l.5 -.8l2.5 .2l-1.2 1.0zM238.0 576.8l-1.2 -.6l-.3 -1.3l1.7 1.1zM237.0 578.8l-1.9 -.1l-1.5 -2.3l2.1 .5zM240.9 575.6l1.3 -1.8l1.3 .2l.6 2.0zM236.0 496.7l-.7 -2.5l.8 -1.9l1.4 1.4zM237.8 500.1l-1.3 -.7l.5 -1.9l.8 .9zM233.3 492.5l-.5 -3.0l1.6 -.2l1.2 1.6zM199.5 464.3l-2.6 -.1l-.2 -2.1l2.4 .3zM196.9 467.5l.7 -1.5l1.3 -.4l-.4 1.1zM201.2 465.2l4.1 -3.2l1.4 1.8l-2.9 1.2zM196.8 459.7l-2.8 -.7l-1.9 -1.7l3.5 .8zM279.4 528.5l-2.6 -.0l.0 -2.0l1.8 .5zM282.0 535.3l-2.9 -.1l-3.7 -5.0l4.7 .5zM184.5 488.7l.1 -3.6l4.0 .3l-2.1 3.4zM181.2 489.2l-.5 -1.3l.4 -.8l1.0 1.1zM179.2 494.3l-.1 -1.6l1.8 -.9l-.8 2.4zM182.8 496.0l1.0 -1.8l1.2 .2l-.6 .9zM186.3 492.9l-2.3 1.7l-4.5 -2.6l3.6 -.1zM182.8 498.8l-1.1 -1.2l.6 -1.9l1.0 1.4zM177.8 501.9l.5 -1.4l3.0 -1.4l-1.2 3.0zM179.4 484.3l-3.0 .3l-.4 -3.2l1.5 .4zM145.8 492.8l.4 -.8l1.6 -1.2l-.2 1.4zM145.2 489.0l.8 -1.0l2.0 .4l-1.6 1.4zM287.6 542.2l-.6 -1.1l.4 -.8l.7 .3zM282.8 462.3l.7 -2.4l2.7 -1.0l-.5 3.5zM289.0 461.0l-.1 -1.6l1.0 -1.1l.9 1.7zM288.6 463.7l1.5 -3.4l2.8 .2l-1.0 2.0zM276.5 458.9l-.1 -1.3l1.4 -.9l.2 1.3zM286.2 465.1l2.3 -1.0l.2 .6l-1.2 1.1zM189.6 574.2l.5 -2.9l2.9 -1.4l.4 1.7zM259.3 473.8l-2.4 -1.9l1.3 -2.0l1.3 .9zM253.0 498.3l-2.9 .0l-.3 -3.4l3.2 1.9zM255.3 491.9l-1.2 1.7l-1.4 -1.7l1.1 -.8zM246.4 501.4l-1.7 -.2l-.4 -.9l.9 -.4zM255.1 521.1l-1.9 -1.3l.2 -1.9l2.5 1.9zM254.7 523.3l.9 -2.0l1.4 -.1l-.9 1.4zM251.5 525.4l-2.4 -1.9l.4 -1.8l1.5 .3zM256.8 527.6l-.5 -.4l1.3 -2.0l.8 .8zM255.9 488.9l-1.9 -1.6l.8 -.9l1.8 .9zM242.6 531.8l.1 -2.4l3.6 -2.1l-1.7 3.4zM245.4 534.1l1.2 -1.9l3.0 -1.0l-1.0 2.5zM219.7 532.2l1.8 -2.0l1.8 2.2l-.3 1.6zM228.4 533.3l-3.4 -.3l-2.7 -2.3l6.3 .3zM225.0 532.4l.5 -2.1l.9 -.0l1.0 1.0zM160.5 580.0l-.2 -2.7l1.9 -.1l-.5 1.5zM159.5 577.4l-.6 -3.5l5.6 -.5l-2.9 3.3zM163.6 573.2l.2 -1.4l1.4 -1.1l-.9 2.1zM157.7 588.3l-.9 -3.5l.9 -1.1l1.3 3.2zM165.4 578.3l-1.1 -1.4l.4 -2.6l1.6 1.1zM153.0 576.2l-1.1 -.2l-.8 -1.6l2.2 .3zM174.2 575.1l-1.9 -.6l-.3 -1.3l1.6 .2zM238.7 561.6l.3 -2.1l1.0 .0l-.4 1.1zM234.6 564.4l-.8 -1.3l1.5 -2.0l.9 1.2zM244.9 564.6l-1.2 -.3l-1.3 -1.4l1.4 -.4zM236.8 563.9l-3.6 -1.4l.7 -3.9l2.9 2.3zM259.1 502.4l-1.6 .5l-.8 -2.2l1.4 .1zM252.1 504.7l-.0 -1.8l1.9 .3l-.7 2.2zM255.9 507.3l-.0 -1.7l2.2 -.1l-.4 1.5zM259.8 496.6l.6 -.7l1.4 .2l-1.1 1.6zM194.5 483.9l-3.3 .5l-.8 -4.3l4.1 2.0zM197.1 485.3l-.5 -1.3l.5 -1.4l1.5 .2zM178.5 530.3l-2.4 -.4l.3 -1.3l1.7 .9zM177.4 535.8l-.6 -1.8l3.0 -1.7l-.5 2.3zM178.2 536.6l-.2 -1.3l1.3 -2.6l.5 2.2zM175.6 534.7l-.8 -.4l-.6 -1.9l2.0 .8zM253.1 513.0l-.9 -1.9l1.7 -.7l.6 1.1zM251.9 518.1l.0 -3.8l3.3 -1.1l-1.1 4.0zM227.6 520.9l1.3 -.9l1.0 .0l-.9 1.0zM225.4 524.5l-.5 -1.6l.7 -.9l.3 1.4zM229.5 524.9l1.8 -4.9l1.9 -.7l-.3 4.9zM225.9 521.4l-1.6 -1.1l.1 -2.6l1.4 .6zM202.6 543.3l-2.1 .2l.1 -3.2l2.3 -1.0zM199.2 545.3l-1.4 -.5l.1 -1.6l1.2 .3zM201.5 546.9l-1.6 -.0l-.2 -.9l.9 -1.2zM203.0 539.3l1.3 -1.9l2.0 .8l-1.1 1.3zM198.8 546.9l-1.3 -2.4l.2 -1.9l1.4 1.3zM202.5 551.7l-1.7 -1.4l1.4 -1.0l1.6 1.3zM210.2 540.7l1.3 -1.7l2.7 1.5l-1.9 .7zM201.0 549.6l-1.0 -1.0l1.1 -1.2l.6 .6zM282.8 477.0l-1.0 -1.0l-.2 -1.0l.9 .6zM279.0 476.3l-1.0 -.9l.9 -1.3l.4 .4zM280.5 484.6l-.6 -1.6l1.0 -1.6l.2 1.4zM277.3 472.6l-1.7 1.4l-1.7 -1.1l2.2 -1.2zM163.9 549.1l-1.7 .6l-1.4 -1.7l2.2 -.0zM266.2 509.4l-4.0 .0l-1.5 -.7l3.1 -.5zM255.3 507.0l1.1 -2.5l4.8 1.3l-1.8 1.7zM230.7 504.1l-1.8 -1.3l.9 -4.1l2.7 2.8zM228.1 501.2l-3.3 -2.4l1.8 -1.9l2.5 -.2zM276.9 550.6l-.9 -.3l-.9 -1.6l1.4 1.0zM273.9 551.1l-1.5 -.7l-1.2 -2.2l2.1 .9zM282.1 549.1l-1.8 -3.5l2.2 -2.7l2.1 3.8zM275.7 559.1l.3 -1.9l2.0 1.0l-1.0 1.1zM296.4 461.7l-1.2 -4.1l1.9 -1.9l.7 2.5zM302.9 462.2l-2.7 -2.3l1.3 -2.5l2.5 2.9zM297.1 463.5l-2.3 -1.1l-.2 -1.2l1.9 .4zM300.5 468.3l-2.0 .3l-.5 -.9l1.3 -.9zM113.6 552.7l-.8 .7l-2.1 -.9l2.5 -.8zM117.8 556.0l-2.0 .2l-1.2 -1.2l.8 -.8zM114.3 559.9l-2.1 -1.4l.2 -.6l1.0 -.0zM96.8 548.6l-4.3 -1.8l-1.3 -2.7l4.9 2.2zM90.8 546.1l-1.3 -1.2l1.0 -3.1l1.6 2.1zM99.3 546.6l.6 -1.1l.9 -.4l-.6 1.6zM100.0 547.3l-.6 -1.6l1.0 -.7l.3 1.0zM227.7 514.1l.2 -1.7l3.3 -.3l-.6 1.2zM233.5 513.6l-2.0 -2.1l2.7 -1.9l1.9 2.8zM231.7 513.2l-.8 -2.8l3.0 -1.7l.1 3.5zM223.8 514.5l-3.9 1.2l-2.7 -3.1l4.0 .1zM230.4 505.4l-2.3 .5l-1.4 -1.3l2.6 -.3zM223.8 512.3l-.4 -1.8l1.4 -.2l.2 .9zM262.4 560.8l-1.4 -1.4l.9 -.7l1.7 -.1zM259.4 556.8l1.1 -.7l2.6 .3l-1.8 .9zM255.1 516.2l-.5 -2.0l1.9 -.7l.9 1.7zM254.7 510.8l.6 -2.2l2.1 1.2l-.7 2.3zM260.6 520.4l-1.2 -.1l.2 -2.0l.7 -.1zM258.0 521.4l.5 -1.8l2.5 .9l-1.7 1.5zM257.7 506.9l-1.5 1.9l-1.7 -1.5l2.3 -1.2zM251.4 509.5l1.0 -1.2l2.8 .6l-1.0 1.1zM127.3 553.9l3.9 -4.0l2.2 .7l-1.3 4.6zM130.1 558.0l1.2 -1.4l1.4 -1.2l-.5 2.0zM129.9 549.6l-2.6 .4l.1 -1.0l2.1 -.2zM137.6 559.2l-1.2 .2l-1.6 -1.3l1.2 -.6zM243.4 506.9l-1.3 -.4l-.6 -1.5l.8 .4zM243.4 510.8l1.2 -1.3l1.4 .6l-1.2 .4zM247.7 512.9l-1.0 .6l-2.1 -.9l1.7 -1.4zM250.7 511.6l-1.7 -1.8l-.8 -2.8l2.0 1.3zM225.8 535.9l1.7 -2.7l2.6 .0l-.8 2.0zM225.1 539.5l-1.6 -1.6l.9 -1.0l.9 1.0zM229.8 542.5l-.7 -4.0l4.2 .2l-.2 2.8zM237.7 535.5l-2.7 -2.1l1.0 -2.5l2.3 2.5zM233.2 540.6l-.3 -2.3l.9 -.5l.5 1.5zM234.5 540.3l-.6 -1.9l.2 -1.8l.9 2.5zM222.4 540.8l-1.5 -4.0l1.9 -1.0l2.7 3.5zM216.4 538.1l-1.4 -.4l-.5 -1.3l1.2 .7zM228.6 496.6l-.1 -3.8l2.1 -1.5l.1 2.8zM271.0 466.9l-.9 -2.2l1.6 -3.5l1.5 4.2zM270.9 469.3l.8 -1.3l1.8 .0l-.8 1.1zM265.0 470.7l-1.5 -2.7l2.0 -1.3l2.0 2.1zM273.1 471.7l-1.1 -.6l-.2 -.8l1.7 .9zM275.7 468.3l-1.3 .1l-.4 -.8l1.0 .1zM279.7 462.2l1.2 -2.4l3.6 .6l-1.7 1.5zM272.5 456.7l-3.0 -1.3l-.5 -2.7l3.7 2.2zM270.2 458.0l-1.6 1.4l-4.2 -3.5l3.9 .0zM130.8 484.7l-.9 -.4l-.8 -1.8l1.5 .8zM130.3 489.7l-1.5 -2.2l1.4 -1.8l1.7 2.9zM135.3 485.9l-1.4 .0l-.8 -1.2l1.9 -.1zM128.7 492.7l1.9 -.8l1.0 .6l-1.8 .9zM242.3 519.3l-1.1 -.1l-.5 -1.9l1.2 .0zM242.6 524.0l-1.7 -2.8l.6 -1.7l.9 1.3zM241.3 523.8l.9 -1.9l4.0 .6l-1.6 1.5zM247.6 519.8l-1.6 -1.3l1.0 -4.1l1.6 2.9zM236.0 527.3l-1.2 -.2l-.4 -1.3l1.3 .0zM249.5 519.8l-.9 -1.9l3.0 -2.3l-.9 3.6zM233.5 516.4l-1.8 -.8l.0 -1.0l1.7 .3zM238.7 505.9l-1.7 -.5l-.5 -1.1l1.0 .0zM184.5 483.2l1.2 -3.0l4.6 -1.4l-.4 2.8zM224.1 543.1l1.8 -3.8l3.3 -.2l-.8 3.1zM221.3 543.4l.7 -2.0l1.4 .1l-1.6 2.1zM230.5 536.8l-1.0 -1.1l.9 -1.4l.5 1.7zM219.0 538.1l-1.0 -.7l1.1 -4.3l1.0 2.1zM220.4 542.8l-2.0 1.0l-2.7 -2.0l4.8 -1.2zM233.6 537.2l-2.0 -1.4l.7 -1.0l1.4 .3zM216.5 547.6l-.2 -2.1l2.3 -2.9l.0 3.6zM226.2 530.8l-2.1 -.6l-.9 -1.9l1.8 -.6zM243.2 526.0l-4.9 -2.9l1.3 -3.9l4.2 2.4zM258.9 510.9l-3.1 -1.8l-.4 -2.0l2.5 1.5zM253.4 514.3l.1 -1.9l1.0 -1.0l.1 1.9zM294.5 537.2l.6 -3.0l4.6 -3.4l-2.5 4.3zM297.8 533.7l-2.8 -2.0l1.8 -2.5l1.7 1.9zM195.7 460.6l1.4 -1.4l1.9 1.1l-2.1 .9zM141.6 556.8l-2.7 .5l-.6 -.6l2.2 -1.1zM136.4 557.5l-.3 -1.6l1.7 .2l-.6 1.4zM249.4 460.7l-1.5 -4.7l6.1 -2.3l-1.3 4.4zM255.0 453.7l-1.3 -.2l-.2 -1.0l.9 .2zM247.3 459.0l-1.5 -2.0l.1 -4.4l2.7 2.3zM257.5 458.5l.2 -1.5l2.6 .3l.0 1.2zM251.8 460.0l4.0 -3.7l2.1 .6l-.9 1.7zM258.5 467.2l-.1 -2.4l1.1 -.7l.0 2.0zM251.1 470.1l-1.5 -2.8l2.0 -.2l.7 .9zM268.3 503.7l-4.3 .2l.2 -2.2l3.2 -1.0zM269.1 504.3l-.4 -1.8l1.5 -.8l.2 1.6zM233.5 504.8l1.5 -5.4l3.9 -.9l-.3 2.8zM280.4 460.1l-.1 -2.9l5.0 -1.7l-.0 2.9zM223.6 468.4l.9 -1.7l1.6 1.2l-1.7 1.1zM220.6 468.8l.2 -1.5l1.0 -.5l-.6 1.6zM256.4 564.2l-2.6 -3.5l.8 -2.5l3.5 2.9zM223.4 551.7l1.5 -1.1l2.2 .6l-1.7 1.1zM228.7 552.3l-1.2 -1.2l-.2 -1.1l1.0 .8zM224.3 550.0l-1.8 -4.0l3.3 .3l2.5 1.2zM220.7 559.1l1.2 -.8l1.7 .9l-1.8 .2zM241.3 547.0l.4 -1.4l2.0 -1.4l.2 .9zM238.3 547.1l-1.1 -.7l.7 -1.1l1.2 1.3zM241.0 548.6l-1.1 .7l-1.1 -1.2l1.9 -.6zM235.6 544.8l-1.0 -.6l.7 -2.6l.8 1.3zM214.3 525.2l-1.3 -.8l.4 -1.6l.9 1.3zM213.3 519.5l.6 -.7l1.2 -.1l-.0 1.2zM209.7 529.9l-1.3 -1.0l.0 -2.7l1.7 1.4zM258.6 582.4l-3.1 -.2l.4 -3.8l2.1 .2zM255.6 579.8l-3.3 -.5l-1.8 -1.6l3.1 .7zM260.4 585.9l-1.4 .1l-1.6 -1.7l2.3 -.6zM261.3 583.8l-2.1 2.6l-3.4 -2.6l1.8 -2.0zM258.0 576.5l-3.3 .7l-1.1 -2.8l2.6 .2zM266.5 589.3l-2.0 -1.7l1.4 -4.2l1.5 3.5zM257.8 576.0l-.7 -1.9l4.5 -.6l-1.1 3.3zM250.0 585.8l-1.0 -1.9l1.7 -3.4l.6 2.3zM152.2 487.3l.1 -2.5l1.5 .5l.3 1.2zM153.3 484.8l-.4 -1.7l1.3 -.5l.2 1.3zM148.3 483.2l1.2 -2.2l2.0 -.4l-1.0 1.5zM156.0 488.8l.1 -1.6l1.5 -.4l.5 .7zM298.6 471.3l-.1 -2.3l1.1 -1.8l.0 3.0zM300.9 471.7l-3.0 2.8l-3.6 -2.9l3.8 -1.6zM294.7 475.8l-2.1 .4l-3.0 -2.3l2.9 -.5zM289.4 466.3l.1 -.7l1.8 -.4l-.7 .9zM291.5 474.5l-3.7 2.6l-1.9 -1.9l1.6 -3.7zM235.5 544.5l-3.2 -2.0l2.6 -5.6l1.0 4.1zM234.9 546.1l.2 -3.4l1.6 -.9l.5 2.3zM113.7 533.8l-2.1 .5l-1.8 -1.2l2.9 -.3zM114.8 538.4l-2.2 -2.0l1.8 -2.2l.4 2.5zM111.0 534.1l-2.8 -.0l-.9 -1.6l1.8 -.1zM117.8 533.5l1.3 -2.6l3.3 .1l-1.9 2.3zM109.8 536.0l-4.7 -1.5l-.1 -4.6l4.9 2.6zM98.7 531.1l1.7 -.8l2.2 .3l-.7 .9zM111.6 544.9l.9 -2.3l1.2 .5l-.7 1.9zM121.6 534.1l-1.6 -3.7l1.6 -2.2l1.9 1.6zM196.8 550.8l-1.4 -1.5l2.7 -3.3l1.3 2.4zM192.9 551.3l2.2 -2.6l1.0 1.1l-.7 1.6zM197.9 557.8l.4 -3.4l2.7 -3.6l.5 3.1zM203.9 550.9l-2.3 .3l-.7 -1.1l1.4 -.5zM223.9 489.9l-.0 -1.6l1.8 -.8l.2 1.2zM222.5 489.1l-1.8 -4.4l2.4 -2.6l1.7 3.9zM180.7 475.4l-2.2 -2.3l3.1 -1.4l1.6 .9zM177.2 476.0l1.0 -1.5l1.2 .2l-.5 1.4zM188.7 469.8l-2.7 -1.0l-.3 -1.5l1.4 .0zM178.7 468.2l1.3 -1.8l2.3 1.5l-2.4 2.2zM188.0 478.7l-.8 -3.0l2.8 -.8l-.3 3.0zM189.2 479.8l.7 -1.3l2.0 -1.1l-.4 2.1zM130.6 494.4l-1.6 -1.9l-.2 -3.4l1.3 1.3zM130.0 495.3l-.2 -1.2l1.4 -1.0l.3 .8zM163.5 472.4l2.3 -3.5l3.2 1.0l-.6 3.3zM160.3 473.7l.9 -2.3l1.4 -.4l-.3 1.9zM167.0 474.9l-1.2 .2l-.7 -.6l.9 -.4zM165.6 469.4l-.6 -4.0l1.7 -.6l1.0 1.6zM269.6 536.1l.9 -1.5l2.3 -.2l-.5 1.4zM167.0 505.0l.7 -1.1l1.8 1.1l-1.0 .7zM164.6 505.4l.2 -2.7l1.8 -.4l-.3 1.3zM172.9 511.1l-.5 -1.9l.8 -.2l.5 .8zM163.0 509.8l-1.0 -3.6l3.0 -2.8l2.7 3.0zM275.1 564.3l-3.1 -.1l.5 -1.6l1.5 .3zM275.2 568.1l-.7 -.0l-.2 -2.5l1.5 1.9zM266.7 566.0l-2.8 -2.7l1.6 -2.7l3.1 3.3zM273.9 568.9l-1.2 -1.3l-.3 -1.0l2.1 1.2zM160.1 548.0l1.2 -1.1l1.0 .1l-1.2 .9zM163.5 544.1l-2.1 -1.2l-.7 -1.7l2.2 1.1zM165.2 543.7l2.4 -1.5l1.0 1.5l-2.0 1.8zM158.7 544.8l-.6 -.5l.8 -1.4l.7 1.5zM162.3 543.2l-4.6 -3.5l1.9 -3.0l3.1 1.5zM165.6 551.4l-.6 -1.0l1.4 -1.4l.6 1.7zM166.0 546.2l-.7 -1.5l.7 -.8l.4 1.2zM163.5 561.3l-1.1 -1.8l.6 -1.1l.9 1.7zM185.2 528.7l1.1 -.7l1.4 -.2l-.7 .7zM188.1 526.0l-2.2 -.2l-.6 -2.6l2.9 .1zM190.0 523.0l-.7 -1.4l1.8 -1.0l.1 2.1zM190.5 536.5l-2.7 .9l-1.3 -1.4l1.7 -2.5zM139.4 510.7l-3.3 -2.7l1.5 -3.0l2.4 2.5zM141.3 504.9l-.2 -1.9l.8 -.2l.5 .9zM136.4 503.3l-3.6 1.2l-1.4 -3.1l3.2 -1.8zM133.1 509.8l-.2 -1.9l1.1 -1.2l.4 2.9zM132.5 511.0l-1.8 .6l-.7 -1.6l1.2 -.2zM139.7 514.9l-2.1 -.6l.3 -1.5l.6 -.1zM269.8 472.1l.3 -4.0l3.6 -1.3l1.3 3.0zM270.5 474.6l-.1 -1.9l1.5 -2.7l.3 3.2zM118.0 548.1l-1.5 -.5l-1.0 -2.1l1.4 .7zM117.3 551.4l1.3 -.8l1.3 1.3l-.3 1.5zM112.6 546.7l.6 -.7l1.5 -.1l-1.5 .9zM121.7 545.1l-.1 -2.0l.7 -.7l1.0 1.4zM124.0 551.4l-2.6 -.7l-1.6 -2.6l1.7 -.9zM118.0 553.4l-3.4 1.8l-4.5 -2.1l2.4 -.7zM279.6 494.6l-.8 -1.4l2.0 -.3l-.3 1.6zM282.7 495.7l.2 -2.0l.8 -1.2l1.2 2.5zM284.5 497.8l.1 -2.0l2.0 .5l.0 1.9zM269.6 491.1l3.2 -4.4l2.4 2.8l-.3 2.3zM278.9 491.0l-.9 -1.8l1.3 -1.2l1.1 1.4zM285.0 485.2l2.6 -2.7l2.6 .5l-2.9 1.9zM272.4 491.5l-.2 -3.2l3.3 -2.6l-.3 5.1zM289.2 491.2l.4 -.7l1.2 -1.3l.0 1.3zM201.6 487.5l1.0 -1.6l1.8 .9l-.2 2.2zM136.9 505.3l.8 -2.8l2.6 -.9l.1 3.6zM142.1 506.6l-1.4 1.0l-1.7 -1.6l1.7 -.2zM158.5 550.4l.8 -2.1l1.4 -.6l-1.2 2.2zM160.5 554.2l-2.8 -.5l1.0 -2.1l1.8 1.1zM158.7 554.7l-3.2 1.2l-.3 -1.7l1.3 -.6zM169.2 550.7l-3.3 .0l-2.1 -1.0l3.8 -.9zM158.9 543.4l2.0 -1.9l1.2 1.6l-2.3 1.7zM166.4 550.3l-4.6 -3.3l.2 -2.1l4.1 .5zM167.7 546.2l.3 -3.8l2.2 .2l-.2 3.7zM161.6 544.9l-1.4 -1.1l.6 -1.6l1.4 .9zM215.4 498.8l-.7 .4l-1.2 -.3l.8 -.6zM210.4 498.0l1.8 -4.1l2.6 1.7l-1.4 3.0zM211.8 506.1l1.2 -1.7l1.1 -.2l-.7 1.2zM207.7 501.6l1.4 -.7l.8 1.2l-.7 .7zM211.3 490.4l-2.1 .7l-2.5 -.6l2.0 -.9zM220.8 499.6l-1.6 -2.2l4.3 -2.6l-.2 2.0zM209.6 501.0l-1.1 -.3l-1.8 -1.0l1.7 -.2zM212.9 513.3l-2.6 -5.1l1.6 -.8l1.2 1.2zM266.2 496.6l1.3 -2.6l1.7 1.0l.1 1.5zM264.4 496.6l-1.5 -3.8l1.3 -2.5l1.1 2.6zM274.6 492.0l-1.6 .7l-1.7 -1.9l1.9 -.3zM270.2 490.8l-.9 -1.2l1.0 -2.4l.7 2.3zM270.7 493.5l.5 -1.5l2.0 .0l-.3 2.2zM256.6 494.4l-.9 -.4l-.1 -2.3l1.3 1.1zM198.5 461.7l-1.0 .4l-.9 -1.7l1.2 -.1zM194.8 458.8l2.7 -2.2l1.8 .8l-1.2 2.2zM211.6 499.7l.7 -2.0l1.9 -1.2l-.1 1.5zM208.3 496.2l1.5 -2.3l2.1 .4l-.7 3.1zM209.0 491.6l1.3 -1.1l1.8 .3l-2.0 .9zM281.7 508.9l1.3 -3.2l6.6 -.9l-2.5 5.1zM289.0 509.5l1.5 -2.8l3.1 -.3l-2.4 3.0zM278.4 507.5l-1.0 -.7l1.6 -1.9l.4 1.5zM289.2 513.7l-2.2 .3l-.7 -1.3l1.2 .1zM118.1 550.4l.2 -1.6l2.1 -2.0l-.6 2.7zM114.7 551.7l-.6 -3.2l2.6 -.5l.5 2.0zM114.2 555.1l.4 -3.0l2.5 -2.2l-.4 3.5zM118.6 554.1l-2.2 .2l-.7 -.5l1.3 -.6zM125.6 557.1l-1.1 -1.4l.2 -1.2l.9 .6zM124.3 551.1l-.6 -1.4l1.6 -.5l-.1 1.3zM129.7 554.4l-2.9 -.5l.2 -2.2l3.0 1.2zM124.3 552.6l.8 -1.0l1.2 -.3l-.7 1.1zM205.9 537.4l-.7 -.9l-.1 -1.6l.9 1.2zM243.4 564.1l-1.6 -1.1l-.1 -3.5l1.5 1.7zM246.8 570.7l-4.3 -3.6l2.6 -3.5l2.0 4.0zM245.3 558.2l-3.0 2.0l-2.2 -1.1l3.3 -1.5zM248.5 568.4l-1.4 1.2l-.7 -2.7l1.9 .5zM239.3 573.8l-3.3 -2.2l.5 -4.7l1.9 2.0zM235.7 551.9l.8 -1.1l2.0 1.0l-1.8 1.1zM242.0 569.2l.9 -1.9l2.8 -.4l-1.2 2.7zM250.0 555.8l1.0 -1.9l.5 .0l-.2 1.7zM147.0 495.2l.2 -1.4l1.2 -1.4l-.1 1.9zM146.4 496.9l-2.4 -.5l-.8 -4.0l2.4 .9zM145.4 489.2l-3.4 -.4l-1.0 -3.2l2.5 1.0zM152.5 500.2l-1.1 -.6l-.1 -2.9l2.1 2.3zM142.4 489.4l1.5 -1.4l.9 .2l-.4 .6zM145.9 506.2l-2.5 -1.3l-1.2 -3.5l3.2 2.2zM110.9 498.3l.4 -1.4l1.5 -.6l-.6 1.8zM114.1 499.7l-.6 -3.2l1.5 -2.2l.4 3.5zM111.5 504.6l1.2 -1.6l.9 .6l-.6 1.3zM293.2 577.0l-2.2 1.3l-1.5 -2.2l3.4 -.3zM292.2 580.9l.6 -3.4l2.8 -.6l-1.0 2.9zM300.5 578.4l-1.9 -.9l-.4 -1.4l1.2 .9zM288.2 575.2l-2.2 -3.9l1.0 -1.3l3.7 2.3zM238.2 551.0l.5 -3.2l3.6 1.3l-2.8 2.6zM209.2 475.9l-.2 -1.7l1.0 -1.5l.1 1.6zM206.6 475.1l-2.3 -.6l-.6 -2.8l3.1 .0zM217.7 477.4l-3.0 3.1l-5.2 -.8l3.3 -2.8zM214.4 473.5l-1.5 -.3l-3.5 -3.4l3.2 .4zM287.2 476.9l-2.0 .3l-1.2 -1.8l2.0 -1.0zM282.8 476.8l-1.8 .1l-.1 -1.6l1.4 -.1zM282.1 480.7l1.6 -2.3l3.4 .7l-2.0 1.5zM285.0 479.1l-1.0 -1.6l-.3 -2.3l1.7 1.6zM100.5 566.5l2.9 -2.5l1.3 .9l-2.2 3.1zM102.7 568.8l-1.6 .6l-.8 -1.4l1.2 -.7zM98.7 571.5l-1.7 -3.2l3.3 -4.1l1.9 4.1zM172.0 517.8l-5.3 -.2l-2.6 -3.8l4.4 -1.3zM167.8 519.9l.4 -.8l2.0 -.0l-.3 1.9zM167.6 518.4l-1.5 1.0l-3.8 -2.2l4.3 -.5zM164.4 514.7l-1.9 1.5l-1.3 -2.0l1.4 -.9zM242.3 564.0l-.9 -.8l.7 -1.6l.7 .8zM242.0 567.2l-.8 -.8l1.1 -2.3l.9 .3zM239.5 564.8l-2.5 -.6l-.3 -3.3l2.2 .7zM244.9 569.2l-3.3 .8l-2.7 -2.5l4.2 -.6zM126.0 478.7l1.7 -1.3l1.5 .7l-1.2 1.2zM125.4 482.7l1.5 -1.9l.7 .9l.0 1.0zM127.5 484.2l-3.4 .5l.7 -4.9l2.8 1.7zM124.0 482.2l-2.2 -.8l-.6 -1.3l1.5 -.2zM229.7 542.7l.4 -1.1l1.9 -.8l-.8 1.4zM229.8 544.7l-1.5 .5l-2.6 -1.3l2.3 -1.7zM204.9 531.4l1.1 -5.7l2.3 1.6l.1 4.3zM210.8 532.5l-2.2 1.8l-1.3 -3.7l2.3 .5zM204.3 530.2l-2.0 -.7l-.1 -1.4l1.8 1.2zM208.7 522.2l1.2 -1.5l2.3 1.4l-1.4 .6zM253.6 524.3l-1.6 -1.6l1.4 -.6l.9 1.4zM249.5 525.7l.4 -1.5l1.7 -1.1l-.7 2.1zM247.9 524.8l.6 -1.6l1.7 .2l.1 1.1zM117.4 521.9l1.1 -1.9l1.1 -.6l-.2 2.0zM141.3 510.7l-2.5 -1.1l-.8 -1.9l2.8 1.0zM139.2 509.7l-2.6 -2.3l.3 -3.3l2.3 1.2zM228.5 462.1l-1.3 -1.3l.1 -1.3l1.7 1.3zM231.1 458.5l-.9 .1l-1.2 -1.6l1.9 .3zM225.2 465.8l-1.9 -.1l.2 -2.5l1.8 -.5zM230.3 457.3l-.6 -2.6l1.5 -.8l.8 2.7zM218.3 459.9l2.8 -3.2l3.3 .5l-3.1 3.0zM239.1 462.8l-1.9 -.3l-.2 -1.0l1.1 -.3zM235.1 471.6l-2.3 -1.3l.4 -1.8l1.4 1.7zM239.9 468.6l-2.5 .0l-.2 -2.5l2.0 .5zM238.0 522.9l-1.8 -1.9l3.2 -3.1l.6 2.0zM238.2 526.3l.3 -4.8l3.5 .5l-.9 3.1zM233.2 517.2l1.7 -1.9l1.6 1.8l-.7 1.2zM230.8 518.1l.4 -2.1l2.9 -.5l-1.3 2.3zM275.0 476.6l-4.4 -3.1l-1.4 -2.8l4.3 .5zM274.6 478.4l.8 -1.3l1.1 -.6l-.1 1.0zM269.8 473.8l-.8 -1.9l.2 -.8l.8 .3zM276.5 480.5l-2.8 -1.5l-.3 -3.1l2.7 1.9zM253.4 561.4l-2.5 -1.2l-.9 -2.7l3.1 1.9zM251.4 557.9l-1.1 -.2l-.0 -2.4l1.2 1.3zM248.6 566.5l-1.4 -1.5l1.0 -2.8l1.2 .9zM256.9 560.3l-1.0 -.6l.2 -1.6l1.1 .4zM258.1 560.5l-1.0 .1l.2 -1.8l1.1 -.3zM257.8 558.5l2.0 -1.3l.6 1.0l-1.7 1.1zM113.7 557.8l-1.2 -3.4l1.8 -1.1l2.0 3.1zM261.2 554.7l-1.0 -1.1l1.1 -3.2l1.2 2.4zM260.0 548.8l-.5 -1.8l.3 -1.3l.7 1.4zM256.4 555.3l-1.8 1.0l-2.4 -1.7l1.9 -.6zM257.4 552.0l-.6 -2.0l.7 -.9l.9 1.7zM269.9 560.3l-1.5 1.1l-2.1 -2.4l4.4 -.8zM265.2 551.4l-2.1 -1.7l2.8 -3.2l1.1 4.4zM194.9 531.6l2.7 -1.1l.6 .9l-.3 .7zM200.1 534.4l-.4 -5.8l2.3 -1.3l1.4 4.4zM191.4 530.1l1.7 -5.1l3.0 1.2l-.7 4.0zM203.9 539.2l-1.9 .9l-.3 -1.7l1.4 -.1zM203.3 524.3l-4.3 .4l-1.0 -2.5l2.4 .1zM190.7 527.2l-.2 -1.4l.9 -.8l.2 1.6zM193.7 540.8l-3.0 1.7l-.9 -1.6l2.0 -1.7zM205.8 534.9l.4 -1.0l2.1 -.5l-.2 1.9zM159.3 473.4l-.1 -1.7l1.1 .0l.1 1.5zM161.0 476.8l-.3 -2.2l.8 -.5l.6 1.7zM159.4 466.9l-2.2 -1.8l2.4 -2.8l2.2 2.7zM253.8 521.1l-4.7 -1.8l-.8 -2.7l2.8 .4zM252.5 524.0l-.6 -1.2l2.5 -1.3l.2 2.3zM254.4 520.7l1.0 -1.6l3.0 .2l-2.7 1.8zM244.4 516.6l.7 -2.6l5.6 -.9l-2.4 4.2zM241.6 523.7l-2.4 .2l.1 -2.0l1.3 -.1zM241.1 519.4l1.1 -4.0l3.2 -.4l-.8 2.3zM185.9 495.1l-.3 -1.9l2.8 .6l-.8 1.6zM263.1 527.7l-2.4 -.6l-.6 -1.2l1.6 .1zM264.6 531.6l-1.9 -.8l-.2 -2.8l2.6 2.5zM266.9 528.8l.2 -1.6l2.5 .4l-.7 2.4zM255.7 523.0l.3 -2.3l2.6 -.5l-1.5 3.1zM255.7 529.4l.8 -.9l2.3 .7l-2.0 1.0zM272.1 525.7l-1.8 -1.8l1.4 -2.5l1.5 2.2zM250.8 533.4l-1.9 -.3l.7 -1.4l1.1 -.2zM256.7 518.0l-2.2 -1.0l.8 -4.9l2.4 3.1zM229.5 461.2l.2 -1.1l2.3 -.2l-.5 1.6zM236.0 463.6l-2.0 -3.2l1.9 -1.6l.5 3.3zM234.4 467.1l-1.4 .1l-1.6 -1.8l1.3 -.2zM222.5 461.9l-1.2 -1.2l-.5 -1.5l1.2 -.0zM235.6 470.1l-1.9 1.8l-4.4 -3.6l5.8 -.6zM242.2 459.8l-3.1 -3.8l2.2 -2.3l2.0 .9zM116.7 459.5l-1.0 -.9l.9 -2.1l.9 2.3zM222.4 490.2l.6 -2.4l3.0 -1.2l-2.0 2.9zM225.2 487.3l-.8 -.9l1.6 -2.8l.6 1.4zM215.8 489.7l.4 -1.6l.9 .4l.2 1.5zM219.4 482.5l-1.3 .7l-2.3 -2.1l2.8 -1.2zM273.6 458.5l-.3 -1.3l1.3 -.9l.4 1.7zM270.0 460.8l2.9 -2.2l3.0 2.9l-3.5 2.2zM266.8 456.1l-1.6 -1.6l2.5 -4.3l2.1 3.2zM280.0 464.0l-1.2 -.5l-.9 -1.4l2.3 -.8zM281.5 461.7l-1.1 -1.3l1.2 -1.7l1.1 1.3zM271.2 506.8l-.6 -1.5l.6 -2.3l.6 1.3zM268.2 506.7l.5 -1.3l2.3 .3l-1.2 .8zM274.4 497.8l-2.1 .1l-.7 -.8l1.4 -.5zM269.8 503.2l-4.7 -3.0l1.7 -2.5l2.8 1.0zM260.3 504.4l2.1 -2.5l3.9 2.8l-1.6 1.5zM274.8 514.4l-2.3 .0l.1 -1.0l1.2 -.3zM202.2 491.7l-.2 -2.1l2.1 .3l.4 1.7zM201.3 495.1l1.7 -2.6l1.7 -.1l-.5 1.7zM208.8 487.7l-1.7 .0l-1.9 -2.3l3.8 .4zM250.3 500.4l-1.4 -.4l-.3 -3.2l1.4 .2zM245.2 500.0l.5 -1.0l2.2 .8l-1.1 1.4zM253.9 502.8l-1.1 -2.2l.2 -3.4l1.6 2.9zM258.4 499.9l-.8 -1.3l-.0 -1.3l.7 1.1zM185.0 492.3l-1.3 -3.1l1.1 -2.9l2.6 3.6zM188.6 488.2l-1.9 -.9l-.2 -1.6l2.7 .6zM178.4 495.8l.5 -2.5l2.6 -1.6l-1.5 3.4zM183.4 491.0l-3.6 .1l.3 -2.4l1.6 .2zM179.6 482.2l1.2 -.9l.8 .5l-.7 2.0zM194.1 492.7l-1.1 -.5l.3 -1.4l1.2 .7zM196.9 491.4l.1 -2.3l.7 -.8l.5 1.4zM183.6 478.7l-3.3 .1l-.6 -1.5l2.5 .3zM123.9 494.7l1.8 -1.2l1.2 .1l-1.2 1.1zM130.3 495.2l-1.1 -.6l.4 -2.3l1.4 1.9zM125.3 498.8l-.5 -1.2l.7 -1.1l.3 1.0zM252.5 565.9l2.0 -1.4l2.0 .8l-2.0 1.7zM255.0 568.0l1.2 -1.7l.7 -.1l.2 1.4zM259.7 566.3l-2.9 -1.9l-.3 -2.5l2.4 .7zM254.0 560.3l-1.8 .9l-1.7 -.9l2.5 -.7zM253.3 572.8l1.1 -1.3l1.6 .3l-2.0 1.4zM253.8 575.8l4.2 -4.3l2.8 1.6l-2.5 2.6zM276.9 477.1l-.2 -3.1l1.3 -2.0l.0 4.1zM208.0 485.4l-.8 2.3l-3.3 -2.5l1.4 -1.3zM210.2 488.3l.2 -1.7l2.5 -1.4l-.8 3.1zM202.5 487.2l-2.1 -2.4l3.2 -5.1l.8 4.5zM202.7 489.4l-2.1 -.1l-1.2 -.2l2.2 -.5zM213.1 481.9l-1.1 -.4l1.0 -1.8l1.2 .8zM206.9 497.4l-.9 -.2l-.7 -1.7l1.5 1.2zM223.6 564.8l.4 -1.2l3.6 -.6l-2.2 2.6zM222.5 568.6l.1 -1.7l2.6 1.0l-1.3 1.3zM226.8 561.4l-.8 -1.2l1.0 -1.0l.2 .6zM210.3 574.5l-2.3 .2l-2.1 -.6l2.1 -1.8zM207.8 575.2l-1.4 .8l-.5 -.5l.7 -1.0zM211.2 570.6l1.3 -.8l1.5 .7l-1.5 .5zM201.4 580.7l1.4 -1.2l1.4 1.1l-1.3 .9zM205.3 583.8l1.3 -1.3l1.5 .7l-1.9 .7zM201.1 569.9l1.1 -2.5l1.4 .2l-.5 2.0zM150.7 553.1l-1.0 .1l-.7 -1.0l.9 -.5zM151.5 552.1l.0 -1.5l.7 -1.1l1.5 1.5zM151.8 558.7l-1.3 -.8l-1.2 -2.7l1.7 .7zM148.2 546.2l-1.6 -1.0l-.4 -1.2l1.1 .5zM265.0 466.7l-3.9 -1.4l-1.4 -3.9l4.9 2.6zM261.0 464.8l-.9 .6l-1.4 -1.7l2.1 -.3zM269.0 464.6l-3.5 .9l-.2 -4.0l3.7 .8zM220.3 564.1l-3.0 -2.0l.6 -1.9l1.3 .5zM217.6 559.6l.3 -1.2l1.8 .1l-.9 1.5zM217.1 568.8l-1.3 -1.6l.5 -3.3l.9 2.4zM216.3 556.6l-1.0 -.5l-.6 -1.6l1.6 .9zM219.3 571.2l-.3 -.9l1.2 -1.0l-.1 1.0zM230.1 566.4l-.3 -1.8l1.9 -.8l-.1 1.2zM120.2 537.1l.6 -2.2l1.2 .7l-.4 1.1zM121.6 542.9l-2.4 -4.7l.9 -3.3l1.5 1.8zM125.5 533.8l-1.3 .7l-.9 -2.0l1.8 -.5zM168.3 522.1l-.8 -.6l1.6 -1.1l.5 .7zM172.7 521.4l.1 -1.6l1.2 .1l-.2 1.1zM170.6 518.0l-2.9 -1.9l-.4 -1.9l1.9 1.3zM175.0 520.5l-4.0 -.1l-1.9 -2.3l3.8 -.3zM166.4 516.7l-1.6 -3.2l3.8 -1.5l-.2 2.1zM166.4 515.9l-.6 -1.2l.8 -1.8l.9 1.8zM200.2 487.2l-.7 -1.1l1.6 -1.2l-.0 1.3zM199.5 487.9l-1.5 .5l-.7 -1.1l1.1 -.5zM204.0 490.8l.4 -1.3l1.4 1.0l-.5 .8zM205.2 484.5l1.6 -.9l.9 .1l-1.5 1.1zM200.8 479.7l-1.6 -.6l-.4 -1.5l1.0 .2zM204.9 485.4l-.5 -1.2l2.8 -1.9l.3 2.9zM206.8 476.5l-1.5 -.3l-.6 -3.6l2.4 .7zM207.3 481.0l-1.6 .2l-.3 -1.9l1.5 .0zM146.8 528.8l-2.8 2.0l-.8 -2.3l1.0 -1.1zM151.8 527.6l-4.9 2.0l-1.7 -2.5l3.6 -1.7zM146.5 533.2l-1.5 -1.0l-.1 -2.3l3.1 1.7zM175.8 463.1l-1.6 .7l-1.5 -.2l1.2 -1.7zM175.5 468.7l-.2 -.9l1.4 -.9l.1 1.2zM178.3 459.7l-3.7 .3l-2.5 -1.7l2.4 -1.1zM178.0 468.7l-.7 -1.8l.7 -.5l.5 .8zM163.7 467.0l-.6 -1.7l1.6 -.8l.1 1.5zM178.9 457.7l1.4 -.4l1.2 .3l-1.5 1.1zM203.4 519.5l-1.6 -2.4l-.1 -1.5l2.2 1.6zM208.5 517.6l-2.9 5.4l-3.7 -2.9l3.0 -4.7zM199.1 517.3l-.8 -1.1l.5 -.9l1.0 .9zM108.1 503.3l-1.2 -.4l-1.1 -1.1l1.1 .1zM103.8 503.4l-1.2 .0l-.2 -3.8l1.8 .3zM105.2 508.4l-4.6 1.2l-1.5 -2.0l2.2 -.6zM102.1 509.0l.5 -2.0l3.0 -1.3l-.4 1.8zM116.3 501.2l.6 -.9l1.4 .6l-.5 1.1zM113.1 497.5l-1.9 -.8l1.4 -2.3l2.0 1.4zM213.3 514.4l-1.3 -.5l-1.3 -1.5l1.4 .3zM216.0 515.5l-1.3 -.2l-1.1 -1.7l1.6 -.5zM214.2 509.4l-1.2 -1.0l-.2 -2.4l2.3 .7zM219.3 536.8l1.2 -1.3l3.3 .3l-1.6 1.6zM220.8 541.5l-2.4 1.7l-1.0 -4.1l3.2 -1.6zM224.5 544.5l-2.9 1.8l-2.8 -5.1l5.2 1.3zM226.0 549.9l-1.6 -1.0l1.0 -1.9l.9 1.6zM226.1 551.4l-3.0 -.7l-.8 -.7l2.7 -.2zM233.6 548.7l-2.8 .3l-.2 -2.9l1.5 -.0zM231.3 549.7l-1.8 -1.2l1.1 -.7l1.0 .9zM219.9 551.8l-2.7 -3.1l.3 -4.8l2.6 3.7zM215.6 543.8l3.8 -3.0l2.9 .6l-4.6 3.3zM231.3 560.7l.8 -3.0l1.4 -1.8l.9 2.0zM219.8 545.5l-.9 -.6l1.7 -1.6l-.0 1.7zM192.8 488.5l-.9 -1.3l.1 -1.2l1.5 1.1zM190.0 489.0l-1.1 -1.9l.2 -1.5l1.4 2.1zM186.1 491.8l-.2 -.8l.5 -1.2l.3 .8zM196.4 485.4l.3 -.7l2.6 .2l-1.8 1.4zM202.8 479.8l-4.2 .9l-.7 -2.2l2.7 .1zM203.5 487.6l-3.0 .7l-.6 -4.1l3.2 1.8zM298.0 533.1l-.3 -2.9l1.3 -.7l-.0 2.5zM300.1 529.0l-1.8 -.4l-.6 -1.7l1.8 1.1zM298.4 527.5l-.3 -3.3l4.7 .4l-1.8 3.8zM299.3 538.4l-2.2 -2.7l1.6 -1.4l2.6 2.6zM191.0 556.8l-1.2 .9l-.9 -2.6l2.2 .7zM185.8 557.8l2.0 -1.2l1.0 1.2l-1.1 1.5zM245.8 523.9l-2.2 -2.8l3.9 -2.6l1.1 2.0zM243.7 520.5l-1.0 -.3l.5 -3.3l1.0 2.8zM244.9 525.3l-1.6 -.0l-.2 -2.3l1.7 1.2zM239.2 529.0l-1.2 -1.2l2.1 -2.0l.3 1.5zM267.7 478.5l1.3 -4.5l2.5 .7l-.5 4.2zM237.8 578.2l1.3 -3.2l1.5 -.2l-.2 3.1zM238.8 579.5l-2.4 -.4l-.0 -3.1l2.7 1.0zM242.7 571.5l.7 -1.1l1.0 .0l-.3 .9zM236.0 576.6l-1.8 .4l-.2 -1.4l.9 -.3zM232.1 583.7l.1 -1.9l.8 -.7l-.4 2.4zM230.0 579.6l-.3 -2.3l1.7 .2l-.1 .7zM236.6 570.6l-1.1 -2.0l1.3 -1.1l.4 1.3zM248.0 569.9l-1.8 -.9l.4 -1.9l1.3 1.2zM240.1 576.6l-3.4 1.5l-1.2 -2.3l3.1 -1.0zM239.4 572.4l1.8 -1.9l2.8 1.3l-1.2 2.7zM241.3 578.8l-.6 -.3l-1.1 -1.6l1.6 .7zM245.9 581.6l-1.1 -.1l-2.1 -3.5l2.1 .6zM228.0 575.7l1.2 -2.7l3.1 -1.8l-1.0 4.0zM231.7 571.0l-2.4 -2.2l.2 -3.2l2.0 1.8zM245.7 577.6l-2.3 .8l-2.4 -2.0l3.0 -.5zM229.9 545.0l-.9 -1.6l.0 -1.0l1.1 1.1zM225.2 542.7l-.0 -2.9l2.4 -2.2l-.7 3.5zM217.5 475.1l-4.4 2.3l-3.1 -2.1l4.9 -2.4zM214.0 475.6l-1.7 .4l-4.1 -1.9l5.9 -2.5zM213.9 471.2l1.3 -1.4l1.8 .3l-1.0 1.3zM209.5 470.3l-2.8 -2.0l2.6 -1.7l2.3 1.5zM222.5 476.4l-.5 .4l-.9 -1.7l1.2 .3zM215.5 483.4l-3.0 2.5l-2.2 -1.1l4.0 -3.4zM224.1 501.9l.7 -2.0l1.0 -.7l-.3 1.5zM222.9 496.5l-.6 -1.4l.6 -.8l.8 1.0zM219.8 500.9l.2 -3.1l1.6 -1.9l.6 3.7zM230.8 507.2l-1.0 -1.0l1.7 -1.3l.9 1.1zM217.8 505.9l-1.9 -.2l-.9 -2.0l1.5 -1.5zM218.6 500.2l-.0 -2.0l1.7 -1.4l.1 2.6zM219.9 504.3l-1.4 -.3l-1.3 -1.4l1.5 .3zM216.1 495.4l-1.1 .7l-1.2 -1.7l1.6 -.6zM263.4 495.2l-4.9 -.9l-1.6 -3.8l6.1 1.8zM261.2 491.7l-2.1 .4l-.9 -1.9l1.5 -.3zM258.3 499.6l.6 -1.3l1.1 -.5l-.4 1.5zM254.2 487.3l-.5 -2.1l1.0 -.4l.4 1.0zM264.8 501.9l-1.6 -2.3l2.5 -2.3l.2 2.2zM267.0 501.7l-1.4 1.4l-2.3 -2.7l1.7 -.5zM240.3 553.6l-.9 .0l-.9 -1.7l2.1 .6zM111.8 545.6l-.1 -1.7l1.7 -.8l-.1 1.9zM106.6 544.3l1.6 -3.4l2.3 1.6l-1.7 2.6zM114.1 547.8l-.5 -1.7l1.8 .1l.1 1.7zM112.9 543.0l2.5 -3.5l4.9 .1l-2.5 3.6zM133.8 490.3l-.5 -2.0l2.5 -.6l-.4 1.4zM286.1 469.2l.4 -.7l1.8 -.4l-1.0 1.7zM283.9 469.5l-.8 -1.1l.7 -1.1l.7 1.3zM287.7 474.9l-.8 -1.6l.8 -1.7l1.1 1.2zM279.1 470.8l.9 -2.0l1.4 -.2l-.3 2.0zM292.7 469.9l-1.8 -3.5l-.1 -2.8l3.2 5.1zM284.7 464.5l-.8 -.6l.4 -1.6l.4 .8zM263.8 460.7l-.5 -1.6l2.9 -1.1l-.8 2.2zM297.3 463.1l-1.7 -1.9l-.0 -1.6l1.5 1.4zM295.7 465.4l-2.8 1.6l-1.0 -2.2l2.8 -1.0zM299.3 464.1l.1 -3.5l3.4 -.6l-1.1 3.4zM294.8 453.9l-1.8 1.5l-.7 -1.7l1.7 -.7zM303.2 456.9l-5.9 .7l-.1 -3.5l4.5 -.0zM287.6 463.4l-1.7 -.3l-.4 -1.2l1.0 -.1zM227.9 510.5l.3 -1.6l.7 -.6l.3 1.3zM224.1 511.9l1.0 -1.4l1.8 .9l-1.1 .7zM235.0 507.3l-3.9 -1.6l1.6 -2.5l1.8 -.3zM227.1 515.9l2.1 -1.3l1.6 .4l-1.5 1.3zM233.5 504.4l-1.0 -.7l-.4 -3.2l1.6 .8zM236.7 511.0l-2.0 .1l-.2 -1.1l1.7 .1zM283.6 530.3l-1.6 -4.3l2.3 -2.9l2.3 2.7zM245.8 465.2l-3.6 .6l-2.4 -1.7l3.9 -1.5zM241.3 462.3l1.1 -3.2l2.1 -1.8l-.1 3.7zM250.2 464.0l-5.2 -2.0l-.3 -3.5l3.8 1.0zM240.0 469.4l-2.4 .1l-1.4 -1.6l1.7 -.4zM245.5 475.4l-2.1 -.6l-.1 -1.2l1.5 .1zM241.7 473.4l-1.4 -.0l.2 -1.7l1.9 1.0zM287.6 477.5l-1.1 -.6l-.7 -1.6l1.0 .2zM289.5 479.7l-2.7 -.2l-.1 -1.8l1.9 .2zM285.2 482.6l-.1 -1.5l.8 -.5l-.2 1.9zM221.9 467.7l-.8 -2.2l.8 -1.3l1.0 1.9zM225.3 471.0l-.3 -2.0l1.1 -1.4l.4 2.1zM230.2 465.3l-2.4 -1.3l-.7 -2.0l2.1 .7zM158.2 546.2l-2.6 1.2l-2.3 -3.0l3.1 -.2zM154.3 541.3l.9 -1.2l1.2 .3l-.9 1.8zM257.4 496.1l-.9 -1.0l.7 -1.3l.6 .5zM254.0 492.2l.8 -3.1l2.4 -.2l-.8 1.8zM259.0 491.0l-.6 -1.2l-.2 -2.8l1.4 1.8zM261.5 497.6l-1.9 -2.0l1.3 -2.8l1.9 1.9zM256.4 490.5l-1.5 .4l-1.5 -.5l1.3 -.6zM259.7 500.5l3.6 -3.6l2.2 -.3l-3.0 3.5zM252.1 488.9l.0 -1.4l3.2 -.9l-2.0 2.2zM258.4 503.7l-.9 -2.4l.9 -1.3l1.0 2.7zM227.1 532.6l-3.0 .1l-1.1 -1.8l2.4 -.7zM227.6 534.0l.7 -1.6l3.2 1.1l-3.0 2.1zM221.2 530.4l.2 -1.4l1.7 -.3l-.4 1.2zM217.8 539.0l.7 -1.5l1.4 -.6l-.3 1.0zM218.8 528.4l-1.3 -.7l-.5 -.9l1.9 .4zM228.4 528.7l-.6 -.3l1.1 -1.8l.3 1.2zM224.2 542.5l-1.7 -4.4l.4 -3.1l1.9 3.1zM217.0 530.3l-.2 -.8l2.2 -1.7l-1.0 2.3zM265.1 587.3l-1.0 -4.8l4.8 -1.4l.9 3.8zM265.5 584.9l-1.7 -1.7l-.1 -1.4l2.2 2.0zM262.5 585.4l-1.8 1.0l-2.2 -1.4l3.2 -.1zM267.4 577.4l.5 -2.5l.7 .1l-.4 2.2zM271.4 588.7l-.0 -2.3l2.0 -1.8l-.3 2.7zM261.5 586.5l-1.8 -.4l-.2 -.6l1.0 .1zM260.7 472.7l.5 -1.4l1.0 -.7l-.4 1.4zM261.5 476.7l1.2 -4.3l5.8 1.1l-1.6 2.9zM266.1 475.0l-2.4 -.9l.3 -1.8l1.3 .0zM297.2 464.3l-1.4 .3l-1.4 -2.4l2.1 .3zM296.6 460.3l-2.0 .8l-2.0 -2.8l2.9 .0zM295.0 471.8l-.7 -1.3l.7 -1.2l.5 1.2zM290.0 468.9l-.8 -1.8l1.6 -1.5l.5 1.1zM295.5 458.7l-1.1 .6l-1.6 -1.7l1.8 -.1zM295.9 458.4l-3.3 -4.1l2.7 -.5l2.1 .4zM299.0 455.3l2.4 -3.0l1.0 2.2l-1.8 1.0zM265.3 570.8l-.4 -.4l1.5 -1.6l-.4 1.9zM267.1 565.7l.7 -.8l1.6 .9l-2.0 .8zM269.9 577.6l-1.6 -1.7l.4 -4.3l1.0 3.0zM266.0 579.1l.4 -3.5l1.4 -.9l1.2 2.3zM127.5 484.4l-1.5 -.5l.4 -1.5l1.2 .7zM130.7 483.9l-1.4 -.4l-1.3 -3.6l2.4 .7zM118.0 484.4l1.5 -1.8l1.5 1.0l-1.1 1.0zM130.5 475.1l-1.0 .3l-2.7 -.5l1.2 -1.4zM132.4 487.7l-3.2 1.9l-1.2 -2.3l1.3 -1.3zM129.2 477.1l.8 -2.3l.6 -.7l.3 2.2zM140.2 477.8l-2.2 1.0l-.8 -.9l1.0 -1.0zM117.1 488.1l-1.2 -2.3l1.6 -1.4l.7 2.6zM160.5 533.8l1.6 -1.5l1.8 .1l-2.0 1.7zM161.5 537.5l.4 -1.5l1.5 .1l-.7 1.2zM163.1 530.7l-1.4 .6l-1.3 -2.7l2.3 -.4zM170.4 533.6l-.1 -.8l1.7 -.1l-.8 1.7zM185.4 458.6l-3.2 1.0l-1.5 -2.4l1.7 -2.1zM184.4 463.7l-4.7 -1.0l.5 -3.0l3.7 .7zM185.0 456.7l.8 -1.8l1.8 -.2l-1.0 1.4zM180.8 465.5l.2 -4.8l2.8 1.5l-.2 1.7zM178.6 465.8l-1.6 .5l-.9 -1.5l1.1 .2zM185.7 464.5l-1.6 1.4l-3.2 -1.6l2.4 -1.1zM240.6 570.7l-2.6 .7l-.1 -1.8l1.0 -.8zM233.5 569.3l1.0 -4.4l3.1 .7l-2.0 3.5zM246.1 568.6l-2.5 -.6l-.9 -2.8l3.6 -1.1zM232.1 568.1l-2.3 1.7l-.8 -1.7l2.1 -.4zM240.9 565.0l-2.1 .6l-1.9 -1.5l2.5 -.5zM240.7 565.5l-1.5 -.1l-.1 -1.4l1.0 .2zM269.4 537.7l-1.3 .4l-1.0 -1.6l.9 -.2zM267.7 538.9l-2.2 -.9l.0 -.7l1.5 .3zM281.6 524.5l.8 -1.5l2.3 .2l-.6 1.1zM285.1 528.2l-1.1 -5.6l2.3 -1.3l1.1 3.5zM293.4 523.1l-2.8 .1l-1.3 -2.3l2.5 .2zM290.5 530.6l-1.3 -.2l-1.4 -.8l2.1 .1zM291.4 521.0l-1.1 -1.3l.5 -1.0l1.0 .6zM289.4 516.6l-2.0 -2.0l.7 -2.7l2.1 3.3zM274.1 522.6l-1.8 -.4l-1.0 -1.4l2.3 .8zM293.2 532.0l-.6 -1.4l2.3 -4.1l1.0 4.6zM187.7 514.6l-.7 -3.7l2.2 -4.4l3.3 5.8zM186.0 514.2l-2.4 -2.2l1.8 -2.8l2.1 3.6zM183.5 513.7l-.3 -1.4l.8 -.3l.2 .8zM189.3 518.4l-1.2 -.5l-.5 -1.0l.9 .5zM199.3 512.0l-1.7 2.1l-4.6 -3.4l4.6 -3.5zM196.7 506.9l-2.0 -.5l-2.1 -1.9l2.9 -.2zM178.8 508.6l-1.9 .2l-.8 -1.2l1.3 -.8zM185.7 515.4l-1.5 1.0l-1.0 -2.2l1.2 -.2zM242.3 545.3l1.5 -2.2l3.6 -1.0l-1.2 2.2zM249.4 546.4l-1.2 -.8l.5 -2.1l1.5 .8zM244.4 542.4l-2.4 -.7l.0 -1.7l1.2 .0zM249.8 547.5l1.1 -.4l1.5 .1l-1.0 1.1zM253.7 542.1l-1.5 1.0l-1.0 -1.1l2.3 -.3zM244.6 537.4l.2 -.7l1.5 -.7l-.4 1.0zM239.4 563.0l-3.4 -.1l-2.6 -2.1l3.8 -1.8zM233.5 559.3l-2.8 -2.0l1.7 -2.9l1.7 1.8zM241.1 567.0l-1.3 -.4l-.0 -2.3l1.7 2.0zM139.9 565.7l-1.7 -.3l-.6 -1.4l1.6 .7zM133.1 569.7l.2 -2.7l2.8 -3.5l.4 3.7zM280.9 529.2l-1.6 -1.0l.7 -3.0l1.8 2.0zM280.1 525.7l.4 -1.9l.9 -.6l.1 1.2zM230.7 477.0l-.7 -.6l.1 -1.2l1.1 .8zM226.9 476.0l1.5 -1.0l1.5 .7l-1.4 .9zM235.2 474.9l-3.9 -1.4l-.7 -2.5l3.3 1.3zM236.2 477.2l-1.1 -.4l-.9 -1.0l1.0 -.6zM233.2 472.8l4.2 -2.6l3.6 .8l-2.3 2.1zM219.1 471.1l1.1 -2.4l2.2 -.6l-2.2 3.4zM221.5 472.7l-3.9 -4.2l1.6 -3.2l4.4 4.6zM217.6 476.7l-1.2 .2l-1.0 -.8l1.0 -.4zM186.4 528.8l-.2 -2.6l1.9 -1.1l-.0 3.0zM190.4 531.2l.1 -2.2l1.1 -1.7l-.4 3.0zM192.9 525.0l-3.5 -1.1l-2.6 -4.0l3.5 -.0zM180.6 527.8l-1.8 -1.9l1.6 -1.2l.6 1.1zM190.5 532.0l-1.1 -.3l-.7 -2.0l1.9 1.0zM176.0 532.0l-.7 -1.2l.6 -1.5l.8 1.1zM197.0 521.0l-1.9 -1.3l-.2 -2.2l2.5 1.2zM196.0 520.3l2.2 -4.5l2.4 1.0l-.6 2.9zM197.9 520.3l.8 -3.0l1.6 -.1l-.6 1.6zM204.5 526.2l-2.1 -2.2l-.1 -4.3l3.1 2.3zM232.1 549.5l-.0 -2.0l.2 -1.2l.8 1.7zM232.7 544.4l.2 -1.4l1.6 -1.0l-.3 1.9zM228.2 544.7l-1.0 .8l-2.9 -.8l1.9 -1.1zM236.5 553.0l.4 -1.9l1.3 -.5l.8 1.7zM246.6 583.1l-1.2 -1.3l.4 -1.5l2.5 1.6zM244.0 578.0l3.6 -3.3l3.2 3.7l-2.5 2.3zM249.5 577.7l-1.5 -1.9l1.6 -2.9l1.7 1.8zM201.2 460.7l-1.5 .3l-1.0 -1.7l1.2 -.3zM200.8 463.0l-2.0 -.4l-.8 -1.3l1.5 .3zM204.2 458.4l-2.2 -.7l-.7 -1.9l2.1 .1zM203.1 465.9l-2.1 -.3l.5 -4.2l2.6 .4zM201.1 457.8l-.1 -4.0l4.4 -2.1l-.0 3.8zM190.7 460.9l-.7 -1.7l.8 -1.8l1.3 3.0zM122.3 550.2l-.5 -1.1l.9 -1.9l.5 2.1zM126.0 552.1l-3.1 -.3l-2.3 -2.5l3.7 .7zM128.1 548.9l-.6 -1.2l1.0 -3.6l1.0 2.4zM221.2 539.8l-1.5 -.7l-.7 -1.1l1.3 .3zM220.3 535.8l-1.9 -1.0l.8 -1.5l.9 -.0zM221.6 543.9l-.8 -.7l.2 -1.1l.9 -.3zM215.2 547.0l1.1 -1.9l2.1 1.5l-.6 .6zM216.2 536.2l.3 -1.7l.8 -.3l-.0 1.0zM224.4 537.6l1.8 -1.2l2.8 -.4l-1.5 1.2zM225.1 544.3l-.8 -1.1l.1 -2.0l1.1 1.7zM226.9 537.3l-4.7 -1.3l.3 -3.8l4.4 .7zM105.7 548.1l-.5 -4.3l1.7 -2.1l.3 2.8zM111.8 545.7l-2.6 -.8l-.2 -1.9l2.2 .4zM110.4 539.1l-1.2 -.4l-.6 -.9l1.8 .7zM150.3 523.5l-.1 -1.1l2.0 -.7l-.2 1.1zM154.7 526.8l-1.6 -.5l-.0 -2.3l1.1 .9zM158.0 521.1l-1.3 -.6l-.3 -.8l1.4 .0zM141.3 520.6l.8 -1.4l2.0 .6l-1.5 1.1zM148.6 533.7l.8 -2.5l2.0 -1.2l-.6 3.6zM161.3 518.4l-3.0 1.5l-2.6 -3.2l3.7 -1.5zM142.6 535.0l.8 -3.4l3.2 -.0l-2.0 2.6zM150.4 535.8l2.6 -.6l2.4 .9l-2.7 1.0zM233.4 586.1l-2.2 -2.0l.7 -1.3l2.2 .3zM246.3 523.0l-2.8 1.4l-4.9 -1.2l2.8 -2.6zM237.5 524.1l-.7 -2.2l.7 -2.4l1.3 2.5zM246.6 527.0l-1.0 -1.9l1.7 -1.7l-.1 1.3zM236.7 528.1l-.1 -1.7l1.1 -.8l.5 1.6zM250.1 528.1l-2.2 -1.0l-.3 -1.4l1.7 .8zM237.3 528.9l-1.7 -.8l.2 -1.8l1.1 -.3zM256.2 527.5l-4.2 -1.9l3.8 -2.9l2.0 1.4zM242.1 535.7l-2.3 .2l-2.1 -2.7l3.5 -.3zM196.0 465.5l-1.6 .6l-.1 -.9l.4 -.6zM199.8 468.8l-2.0 .2l-1.7 -1.5l2.0 -.7zM202.6 469.8l-5.3 -1.1l-3.0 -1.9l6.2 .7zM191.1 473.1l1.5 -4.1l5.5 -.7l-2.7 5.8zM194.8 469.8l-.8 .9l-1.2 -.9l1.0 -1.5zM195.8 476.0l1.0 -5.0l1.7 .2l2.1 2.2zM299.3 472.7l-2.9 .5l-1.7 -1.8l4.1 .2zM301.6 475.5l-1.3 -.5l.3 -1.7l1.6 1.3zM100.8 539.6l-.8 .4l-2.3 -1.0l1.3 -.3zM200.9 481.9l-2.3 -.9l.6 -1.4l1.8 .5zM198.1 478.0l-.3 -1.0l1.5 -.6l-.2 1.5zM269.7 555.0l-3.1 -1.5l-.8 -2.9l2.9 2.4zM266.4 550.0l-1.6 .6l-1.1 -.7l1.7 -.3zM259.8 555.6l-1.1 -1.5l1.7 -2.1l1.5 1.9zM262.3 561.4l1.3 -1.1l.9 .3l-.2 .7zM261.3 552.1l-1.7 -.3l-.2 -1.6l1.4 .8zM276.7 549.4l1.3 -3.3l2.4 1.1l-1.7 2.0zM263.1 553.9l-2.2 -.5l-1.5 -3.6l2.2 .7zM275.9 564.7l-1.1 1.1l-1.3 -1.4l2.1 -.7zM228.1 462.8l1.0 -2.3l1.3 -.2l-.1 1.9zM164.2 519.9l-.0 -1.6l1.3 -1.1l.2 1.1zM169.4 521.8l-.7 .5l-1.6 -.8l1.4 -.6zM160.9 513.9l1.8 -1.5l1.1 .9l-.7 1.1zM173.5 525.8l-2.3 .5l-.6 -2.3l1.7 -.5zM261.7 517.5l-1.2 -5.5l3.1 -1.4l1.9 5.5zM261.3 511.9l-.2 -1.6l.8 -.6l.3 1.3zM258.0 513.3l-1.5 -2.5l2.9 -3.0l.6 5.1zM269.2 508.3l-1.0 -1.4l.8 -.9l.8 .1zM258.5 523.6l-2.5 -.2l-.9 -1.8l1.9 .2zM256.7 509.4l-2.5 -3.0l1.6 -2.9l1.7 .9zM274.0 510.7l-.8 -1.6l.5 -.9l.5 1.2zM274.4 508.1l-2.2 -.2l-1.3 -1.2l1.2 -1.3zM270.4 506.0l2.7 -2.4l2.8 .7l-2.0 2.7zM275.3 512.3l1.2 -1.1l2.2 .4l-2.4 1.7zM269.3 506.8l-1.2 .1l-.8 -.7l1.1 -.2zM268.0 504.3l-2.0 .7l-2.0 -1.7l1.3 -.4zM267.9 504.0l-1.7 1.3l-1.7 -2.1l2.1 -1.0zM264.0 507.5l1.7 -1.6l.3 1.1l-.7 .8zM255.1 474.9l.2 -2.1l2.1 -.9l-.9 2.2zM253.3 468.7l.7 -1.0l.9 -.1l-.1 1.1zM253.5 474.0l-1.7 -.2l-.4 -1.1l1.5 .7zM259.6 473.1l-1.6 -4.0l1.6 -3.7l1.7 5.1zM253.7 465.8l-.8 .9l-1.7 -.9l.8 -.7zM262.9 476.8l-2.1 .6l-.8 -2.0l2.8 -.0zM198.0 543.8l-3.6 2.2l-3.2 -3.9l2.3 -2.5zM189.7 545.2l1.3 -1.8l1.0 .0l-.5 .9zM202.7 543.3l-4.9 -.4l-1.6 -2.7l3.7 -.6zM194.9 547.5l-1.7 -.6l.4 -1.5l1.5 .6zM109.3 527.7l-2.4 1.7l-3.7 -2.3l4.0 -2.2zM106.9 523.6l-.0 -1.2l1.8 -.8l-.0 1.3zM102.6 531.6l1.3 -2.5l1.5 .6l-1.5 1.6zM99.3 526.5l2.1 -1.4l2.7 1.0l-2.0 1.3zM96.0 529.0l-1.2 -5.1l5.3 .2l-1.2 4.3zM101.5 519.4l1.7 -1.6l1.5 .7l-.2 1.3zM104.4 516.0l-1.3 -.1l-.6 -.8l1.0 -.0zM108.5 543.1l-2.8 -.5l.1 -2.0l1.6 .3zM246.8 476.4l-4.9 2.3l-1.5 -3.2l3.5 -1.1zM244.8 479.2l-.9 .3l-1.3 -.6l1.8 -.4zM248.6 476.9l-1.4 1.1l-1.7 -.9l1.4 -.9zM252.9 471.9l-1.6 .4l-.3 -1.2l1.5 .0zM157.0 582.3l-2.2 -3.1l1.3 -1.1l1.4 2.0zM155.1 583.7l-4.3 -2.9l.2 -5.0l4.7 2.2zM162.6 584.3l-1.1 -.8l-.7 -2.2l2.2 .9zM156.1 584.6l-1.1 -.1l-.3 -1.4l1.4 .7zM217.2 475.7l-.4 -.9l2.4 -.6l-.7 1.7zM238.8 504.4l-.2 -2.8l3.3 -1.8l.1 3.3zM229.3 474.8l-.9 .4l-1.3 -2.5l2.7 .5zM230.7 474.1l-1.9 -1.2l1.3 -3.0l1.3 2.4zM226.3 480.4l2.5 -2.6l2.3 .6l-.2 1.8zM262.9 550.8l.5 -3.6l1.1 -.8l.7 1.6zM265.7 551.7l-2.5 .6l-1.3 -2.2l2.6 -.9zM269.2 531.8l-1.1 -1.0l-.2 -2.2l2.8 1.0zM275.3 533.1l-4.4 -.5l-.7 -4.6l3.4 2.5zM250.0 583.4l-1.2 -3.6l3.8 -3.3l.0 4.2zM245.2 579.0l1.1 -1.4l2.2 .0l-1.7 1.4zM243.6 579.9l-1.6 -1.8l1.4 -2.5l1.3 2.7zM249.4 586.5l-.4 -1.7l.4 -2.0l.8 1.2zM234.1 495.7l.2 -3.9l2.5 -2.0l.0 3.9zM239.6 495.3l-1.2 1.8l-1.4 -1.5l2.2 -1.1zM169.6 511.1l-.9 -1.5l1.4 -3.1l1.8 2.6zM170.8 516.3l-2.4 -6.1l4.0 -1.7l3.2 4.6zM224.5 541.3l-2.0 -1.5l.7 -2.1l1.5 .5zM223.7 540.0l-3.6 1.6l-2.2 -3.2l1.8 -.4zM106.2 516.0l2.0 -3.1l1.9 1.7l-1.3 1.9zM105.2 515.4l-2.9 -.6l-.5 -3.3l4.4 .4zM104.4 519.9l1.1 -2.0l1.9 1.3l-1.4 1.4zM111.4 512.6l-2.7 -.7l-.8 -1.5l1.9 -.9zM103.4 523.9l-.8 -.5l.8 -2.2l1.2 1.4zM112.6 522.1l-2.3 -2.0l.6 -2.1l1.6 2.1zM103.1 525.1l-1.6 -1.0l-.5 -1.4l1.6 .0zM118.4 510.6l-2.9 2.0l-3.9 -2.5l1.9 -1.2zM154.6 521.3l.9 -1.9l1.8 -1.1l.0 2.6zM152.6 521.1l-2.4 -1.6l.7 -1.2l2.0 .9zM154.0 524.8l1.8 -2.2l2.0 .8l-.6 1.0zM158.9 520.2l2.5 -1.1l.7 1.0l-1.8 .9zM168.4 519.1l-2.3 -1.0l-1.7 -2.5l3.4 -.2zM160.5 511.6l-1.5 -1.4l.3 -1.8l1.0 1.0zM295.2 494.5l-.9 -1.8l1.1 -.7l.3 1.6zM290.5 493.1l-.0 -.9l.8 -1.5l.6 1.2zM293.4 468.5l-1.8 -.3l.2 -2.2l1.1 .4zM290.1 470.5l-2.4 -1.4l.4 -2.9l2.8 2.5zM286.1 470.7l.2 -2.5l.9 -.1l-.3 1.6zM285.2 470.8l1.9 -.8l4.8 1.3l-4.6 1.2zM288.6 463.4l1.5 -1.7l2.1 .2l-1.8 2.4zM297.8 474.2l-1.7 -1.1l-.2 -1.3l1.5 .9zM237.4 581.8l1.3 -.9l1.2 -.0l-1.6 1.6zM235.4 580.4l-.4 -1.2l1.2 -1.5l.3 2.0zM240.1 578.9l-.0 -1.4l3.7 -1.6l-2.0 2.9zM240.8 587.4l-2.6 -.0l-3.4 -1.1l2.0 -.8zM242.2 524.9l2.3 -1.9l2.6 .2l-2.4 2.3zM242.8 523.4l-1.0 -1.2l1.2 -2.7l1.9 1.8zM243.6 521.4l-2.6 .9l-.5 -1.1l1.8 -1.0zM192.6 550.3l1.9 -1.1l4.9 .6l-4.8 1.4zM198.8 550.2l.3 -.6l1.4 -1.0l-.5 1.5zM194.4 554.3l1.5 -1.2l1.1 -.2l-1.4 1.4zM196.5 543.8l-1.6 -.3l-.9 -1.1l2.5 .2zM188.4 552.3l.6 -4.3l4.3 -1.3l-.0 4.8zM198.0 544.2l-3.6 -1.6l-.3 -1.3l3.6 1.4zM206.1 547.7l3.1 -2.5l1.2 1.6l-.8 1.1zM188.7 539.9l-2.4 -.4l-.5 -.8l1.3 -.4zM134.2 540.6l-1.0 -4.1l2.4 -1.3l1.6 2.6zM134.1 542.5l-2.5 -.9l-1.5 -1.8l3.4 1.0zM130.4 543.1l-1.5 -.5l.0 -1.1l1.2 .6zM138.1 541.5l-.2 -2.2l2.6 -2.1l-.9 4.3zM144.5 542.0l-1.1 .1l.2 -3.0l1.8 1.7zM133.1 548.1l-2.2 .9l-2.0 -2.1l3.1 -.2zM263.1 516.7l-3.8 -1.9l-1.7 -2.5l2.7 1.0zM263.6 513.8l-.7 .6l-2.1 -.7l2.4 -.5zM261.7 521.6l-2.6 1.8l-.1 -1.2l1.7 -1.1zM258.3 522.3l-1.4 -2.8l-.3 -2.5l2.0 2.8zM251.1 518.1l-1.8 -.6l-.4 -1.3l2.5 .4zM261.7 518.8l3.0 -2.3l1.2 .1l-1.4 2.1zM250.5 546.8l.9 -1.5l1.2 .3l-.4 1.5zM252.1 545.6l-1.7 .1l-1.6 -2.6l2.9 .8zM230.1 507.1l-2.0 .2l-3.7 -3.4l3.1 .3zM226.3 502.4l.5 -1.8l.8 -.4l-.3 1.7zM229.2 506.8l2.9 -.9l1.9 1.1l-3.6 .8zM233.0 505.8l-.6 -1.9l1.5 -.2l.2 .9zM217.6 509.5l1.0 -2.1l1.3 .4l-.3 1.7zM223.7 501.9l-.8 -.9l2.0 -1.5l.1 3.2zM238.5 512.8l-2.4 -.0l-.1 -1.9l1.9 1.0zM221.1 497.1l.8 -1.6l2.7 -1.1l-1.7 3.9zM226.6 531.1l.7 -1.0l3.2 -.3l-.8 2.2zM224.3 531.7l-1.3 -1.6l.8 -.7l1.0 .7zM252.3 533.7l-4.5 -.4l-1.4 -3.8l2.5 -.3zM243.9 531.1l-.3 -2.0l.7 -1.1l.5 2.3zM236.8 539.6l.5 -2.0l1.4 -1.5l.4 3.5zM241.9 537.8l-2.7 .5l-4.0 -3.2l4.6 -1.6zM231.0 540.7l-1.2 -2.0l-.3 -1.2l1.9 1.3zM108.1 531.5l-1.3 -1.7l1.2 -1.8l1.2 2.7zM106.9 534.6l-1.8 -1.7l.0 -1.8l1.8 .1zM111.5 538.8l-4.0 -1.7l-.1 -1.2l1.4 -.3zM113.6 526.7l-2.0 -.6l.1 -1.5l1.9 .6zM224.6 559.9l-1.5 -1.3l-.0 -1.0l1.4 .7zM224.4 562.7l-1.4 -.1l.8 -1.8l1.1 .7zM241.6 498.8l-.5 -1.9l.2 -.8l.6 1.0zM236.9 499.8l.4 -1.1l3.3 .0l-2.0 1.8zM243.3 502.9l-.9 -1.8l.5 -2.2l.7 1.7zM248.2 497.5l-2.0 .7l-.3 -1.6l1.2 -.1zM236.0 504.3l-1.8 -1.1l-1.6 -3.7l3.8 -.6zM230.9 501.7l.7 -2.9l.9 .6l.2 2.0zM232.8 495.9l-1.9 -.6l-.0 -1.7l1.7 1.1zM228.9 494.7l-.1 -2.1l.6 -1.2l.5 2.3zM211.0 490.8l-1.1 .5l-1.0 -1.5l1.1 -.6zM207.4 490.0l-1.8 -.9l.4 -1.8l1.4 1.2zM234.0 509.8l-3.2 -.4l-1.9 -2.8l4.7 .9zM232.4 504.3l1.6 -1.3l1.0 .2l-.6 1.2zM264.1 513.0l-1.1 .0l-.8 -1.2l1.5 .4zM269.7 514.1l-2.4 1.9l-1.8 -1.3l3.7 -1.9zM262.7 508.0l.6 -.6l1.9 .7l-.8 .6zM146.8 557.9l2.7 -3.2l2.7 -.5l-1.9 3.1zM150.9 555.5l1.7 -1.4l2.5 -.4l-1.8 2.0zM145.6 558.5l-1.1 -.3l-.9 -.6l1.4 .1zM157.6 554.8l-.8 1.3l-1.9 -1.2l1.7 -.8zM142.7 566.4l2.1 -3.2l2.8 -.9l-1.3 2.5zM153.2 557.7l1.3 -.9l1.3 -.1l-1.1 1.0zM144.4 552.7l-4.4 1.5l-1.8 -1.8l3.1 -.3zM158.6 550.6l-1.3 .9l-2.2 -1.1l2.8 -.9zM259.6 501.9l-1.4 -2.2l1.3 -2.2l1.3 .8zM256.1 500.9l2.3 -.8l2.6 1.9l-2.7 1.7zM252.9 497.3l1.2 -1.8l1.1 .2l-.4 1.5zM214.9 472.8l-1.0 -.6l-.3 -1.8l1.2 .9zM213.8 476.5l-.6 -2.3l2.4 .2l-.6 1.7zM247.2 506.2l-1.6 -1.5l.1 -.8l1.0 .3zM247.4 501.0l1.2 -2.3l1.3 .8l-.4 1.8zM242.4 504.4l-1.8 -2.3l1.5 -1.5l2.0 1.5zM140.1 509.7l-.2 -2.7l.9 -1.9l1.9 1.5zM140.1 513.5l-1.1 -.5l1.3 -1.5l.6 .8zM150.3 475.3l-.9 -1.3l.0 -2.2l.9 1.9zM154.9 474.5l-1.8 1.0l-1.4 -1.0l1.9 -.7zM154.8 479.6l-1.3 -.5l.3 -1.8l.7 -.1zM107.3 523.9l-1.8 -.5l-.5 -4.2l2.3 1.5zM107.0 518.6l-.8 -.1l-.5 -2.0l1.8 -.3zM110.7 521.4l.6 -1.3l1.9 -.3l-.1 1.1zM106.9 528.4l-1.6 .2l-1.6 -3.1l3.4 .6zM112.8 522.3l1.8 -3.1l1.4 1.9l-.5 1.4zM105.9 513.3l-3.2 -.9l2.1 -2.3l1.3 1.1zM274.3 500.3l-1.9 1.0l-3.2 -1.2l3.0 -.7zM245.3 503.1l-1.1 -1.5l.7 -3.3l1.1 2.9zM243.4 498.1l-1.7 -1.1l.3 -2.0l.9 .1zM247.4 499.5l.7 -1.5l1.0 .0l-.3 .8zM247.0 493.8l-.7 .4l-1.4 -1.4l1.9 -.3zM246.7 509.7l-.4 -1.3l.9 -1.0l.6 1.1zM245.5 509.0l2.2 -1.1l.4 .6l-1.3 1.4zM179.3 477.2l-.1 -1.7l1.1 -.7l.1 1.4zM174.9 475.5l.4 -.9l1.9 -.4l-.9 1.8zM181.0 479.4l-.0 -.5l1.6 -.8l.0 .7zM183.5 472.9l-1.4 -.5l-1.4 -1.9l2.5 .0zM176.2 472.9l-1.4 -.5l-.4 -1.8l1.5 1.2zM180.3 483.8l-.7 -4.5l5.1 -.9l-1.4 5.2zM168.6 465.3l2.2 -.7l2.7 .3l-.9 1.3zM178.6 489.3l-.4 -1.0l1.0 -2.0l.3 1.9zM194.8 474.9l-3.2 -.2l-1.1 -1.6l4.0 -.2zM229.3 562.7l-1.4 .2l-.9 -1.0l1.5 -.6zM244.9 511.6l1.3 -2.7l4.8 -.9l-1.4 2.2zM244.4 510.9l-1.2 -1.1l-.6 -2.7l2.4 1.5zM251.3 503.8l-1.9 .5l-1.3 -1.2l2.2 .0zM242.1 505.5l1.9 -2.9l6.1 1.0l-3.3 1.9zM233.0 526.9l1.6 -4.0l3.1 -1.7l-1.1 2.6zM233.6 524.6l-2.0 -1.8l.1 -1.9l2.8 1.9zM234.9 518.9l-.4 -1.2l1.6 -1.8l.3 2.7zM198.9 507.0l-1.0 -1.3l1.9 -1.9l.9 1.9zM197.9 509.9l3.1 -1.4l2.3 -.2l-3.1 2.2zM272.9 544.5l.5 -1.9l1.5 -.6l-.3 1.8zM268.5 540.0l2.5 -1.0l1.8 1.2l-2.6 .6zM271.4 543.7l-1.7 .3l-1.0 -.3l1.9 -.5zM190.7 498.2l1.3 -2.4l1.2 1.1l-.4 1.5zM264.5 482.7l-.9 .3l-.9 -1.9l1.2 -.3zM265.4 479.9l-1.0 -1.6l.9 -1.7l.7 2.0zM267.1 483.5l-.9 -1.0l-.3 -.9l1.6 .2zM258.9 488.3l-1.7 -.7l.1 -1.4l1.5 .6zM267.8 489.2l-1.7 -2.9l.6 -3.9l2.0 1.2zM267.9 479.9l-.6 -1.2l1.3 -1.0l.7 1.4zM119.6 572.6l-2.2 1.0l-1.1 -1.6l1.9 -1.3zM114.1 576.4l-.6 -2.5l1.4 -.2l.1 1.8zM114.9 568.8l-.9 -1.7l1.3 -.1l.9 .4zM112.4 574.8l-.1 -2.2l1.7 -1.9l-.1 2.9zM286.8 464.3l-1.2 -1.6l.2 -2.7l1.0 1.9zM284.0 460.1l-1.4 -1.5l1.7 -2.7l1.5 1.6zM287.0 455.7l.4 -.9l1.8 -.0l-.4 .7zM279.4 467.6l-1.6 -1.0l.0 -.7l.8 .3zM135.0 483.6l-2.0 -5.0l4.7 -1.0l.2 4.9zM139.5 477.9l-2.9 -1.1l-.2 -2.4l3.0 -.1zM230.7 550.5l-1.3 .3l-1.5 -.8l1.5 -1.6zM96.5 553.2l1.4 -1.2l1.6 .8l-1.0 1.5zM99.6 557.4l.0 -1.9l1.2 -.6l.1 2.4zM93.9 556.9l-.6 -1.5l.3 -1.1l.7 .8zM94.4 547.3l-2.9 .2l-.9 -1.1l2.9 -.5zM96.6 565.6l-2.0 -1.0l-.8 -2.1l2.5 .6zM89.1 556.3l-.6 -1.6l1.9 -1.4l.2 1.9zM105.6 557.1l-1.9 1.0l-.4 -2.2l.7 -.5zM88.6 559.8l-1.8 -2.7l1.4 -1.5l1.3 .6zM219.6 491.4l.0 -4.0l1.8 -1.2l-.2 4.4zM221.8 486.3l1.4 -1.6l1.7 -.1l-1.3 1.6zM220.1 483.5l.2 -1.1l1.2 -1.4l-.2 1.0zM224.4 486.7l-2.5 -5.5l1.0 -.6l2.3 2.0zM210.2 486.2l2.5 -1.9l1.0 .9l-1.2 1.6zM216.0 487.8l-2.8 1.2l-2.1 -.7l1.3 -1.9zM167.0 498.0l-1.7 -1.9l4.5 -2.6l1.7 3.3zM172.0 498.1l-.7 -2.6l.9 -1.4l1.0 3.0zM161.9 495.2l1.4 -1.0l1.0 .1l-1.0 .8zM168.5 501.8l.0 -2.7l1.5 -.0l-.2 2.0zM162.2 496.4l-1.8 -.9l.3 -.7l1.2 -.4zM171.4 490.0l.2 -1.3l2.7 -1.5l-.5 1.2zM221.7 557.3l-1.1 -.2l1.5 -2.3l.5 .9zM240.1 559.9l1.0 -.4l1.3 -.2l.0 .8zM240.9 564.0l.3 -2.1l1.4 -.3l.6 1.1zM244.5 562.9l-.2 -1.8l.5 -1.1l.4 2.4zM243.5 563.7l-2.6 2.0l-.8 -2.7l2.1 -1.4zM223.6 550.8l-1.1 .5l-1.1 -1.4l1.4 .2zM220.4 555.9l.3 -2.2l1.5 -1.4l-.5 3.1zM227.3 547.4l-1.8 .4l-.3 -1.3l1.8 .4zM228.2 550.4l.5 -2.3l1.2 -2.1l.8 2.9zM219.3 557.7l1.1 -2.2l3.5 1.5l-3.6 1.8zM232.6 552.8l-1.2 -1.5l1.6 -1.8l.5 1.7zM217.0 542.8l-2.9 -1.2l.8 -1.4l2.0 .3zM223.7 540.5l-3.2 .6l-2.6 -2.1l3.3 -.6zM228.9 543.5l-5.7 1.6l-2.2 -3.9l3.1 -.3zM222.4 547.9l-.4 -1.3l1.5 -2.2l.2 2.2zM218.9 546.9l1.5 -1.8l1.8 -.4l-.6 1.5zM121.2 527.3l-.5 -3.0l.8 -1.7l1.3 3.1zM120.8 521.4l-1.1 -1.1l.6 -1.1l.6 .6zM124.5 521.1l-1.7 .1l-1.0 -.9l1.7 -.2zM122.0 522.6l-1.1 -1.6l.4 -1.2l1.1 1.5zM111.3 526.1l3.6 -1.8l2.9 .5l-4.3 1.9zM131.8 521.8l-1.3 -.5l1.5 -5.1l1.4 1.9zM127.8 535.6l.3 -1.5l2.1 .2l-.5 1.3zM116.1 521.7l-1.6 -4.9l3.8 -1.7l2.2 4.5zM235.0 511.5l-1.7 -.6l-.8 -1.2l1.9 .9zM239.5 510.0l-2.1 .3l-2.1 -1.3l2.6 -.9zM236.5 510.3l1.1 -2.7l1.7 .9l-.4 1.9zM233.5 519.9l-.7 .2l-.8 -1.2l.5 -.1zM238.3 521.3l.4 -2.3l1.2 .6l-.5 2.1zM225.4 512.0l-1.9 -1.0l.3 -.8l1.7 .3zM243.4 519.0l-1.0 -1.5l.8 -.8l1.0 .7zM228.6 517.6l-3.5 .5l-.9 -1.7l2.5 -.3zM171.0 524.6l-2.0 -1.8l.5 -1.1l1.6 1.3zM228.1 561.2l1.6 -.3l1.5 .4l-1.2 .9zM227.3 563.1l-1.0 -2.2l1.2 .0l.5 1.3zM131.0 559.0l.3 -1.7l1.9 -.6l-.5 2.1zM130.6 555.5l.1 -2.8l1.9 -.4l-.3 2.1zM129.5 560.8l-1.5 -.0l-.3 -1.6l1.2 -1.0zM141.3 563.4l-2.7 -.2l-.6 -2.7l1.0 -.3zM136.1 549.7l-1.4 -1.1l.1 -1.4l1.4 1.3zM124.0 551.6l-2.4 -1.0l-.8 -1.4l2.0 1.1zM130.6 566.8l-2.0 -2.4l1.5 -2.2l2.1 1.0zM127.0 567.5l-1.9 -.6l1.2 -1.4l1.0 .2zM149.2 531.2l2.1 -2.5l4.4 .5l-1.8 2.3zM127.5 532.9l-.9 -1.5l1.1 -1.2l.8 1.0zM187.2 569.5l.1 -1.3l1.5 -.6l.5 1.0zM185.6 565.6l-.9 -1.4l.3 -2.3l1.1 1.7zM189.2 564.6l-.2 -.9l2.0 -.5l-.1 1.4zM178.3 568.4l1.6 -1.7l2.2 .9l-.9 .7zM188.3 578.6l-1.4 -.4l.4 -1.1l1.4 .4zM191.4 580.6l-4.1 -1.0l1.4 -2.3l1.9 -.1zM227.0 470.0l-1.3 .7l-.6 -.5l.9 -1.2zM225.8 473.5l1.3 -1.5l1.3 -.1l-.5 .8zM262.5 525.6l-1.2 -1.0l.4 -1.5l1.1 1.6zM289.8 472.3l-1.8 -4.5l3.5 -3.8l.6 4.5zM292.5 466.0l.2 -1.1l1.3 -1.2l-.1 1.6zM296.5 466.0l-.9 -.3l.5 -2.3l.8 1.0zM230.5 509.5l1.8 -1.5l1.2 .5l-1.2 1.1zM230.9 511.7l-.4 -.7l1.2 -1.3l.1 1.5zM231.0 512.2l-1.8 -.3l.4 -1.0l1.2 -.3zM235.4 504.7l-1.4 -1.2l-.2 -1.2l1.2 1.0zM238.1 509.3l-1.8 .6l-1.3 -1.6l2.0 -1.0zM223.6 507.5l1.4 -1.7l.7 .8l-.7 1.5zM189.2 500.3l1.2 -1.7l2.9 .2l-1.5 1.6zM105.9 499.6l-.1 -2.4l1.4 .0l.2 1.1zM110.3 496.6l-.7 -1.7l-.4 -3.3l1.5 3.2zM112.2 499.2l-3.9 .2l1.3 -4.2l2.7 1.1zM214.9 514.2l-1.5 -1.9l4.0 -3.4l.5 3.4zM213.8 508.7l.7 -1.0l1.9 .4l-.7 1.7zM209.1 516.8l.5 -2.7l2.7 -4.1l-.2 3.6zM224.7 510.1l-4.3 -1.2l1.0 -4.8l2.9 1.3zM244.1 539.1l-.6 -2.0l1.5 -1.1l.3 2.7zM247.6 536.4l-1.1 -1.4l.5 -1.6l.9 1.9zM245.0 536.9l-3.0 -4.7l.5 -1.6l4.2 2.0zM239.0 540.8l.6 -1.7l1.2 -.6l-.5 1.6zM281.6 492.4l-1.1 .2l-.5 -1.5l.7 .3zM277.1 491.0l-2.0 -1.6l-.5 -1.4l2.5 1.5zM273.5 492.0l.8 -.9l.7 -.0l-.9 1.1zM276.7 494.9l-2.7 .2l-.6 -1.5l2.2 .1zM119.8 538.6l-3.0 1.4l-.9 -3.0l2.6 -.5zM117.2 539.7l3.9 -1.0l2.2 .5l-4.0 1.5zM115.5 536.7l-4.0 -1.6l1.8 -3.7l3.7 1.1zM114.2 543.5l-.4 -1.8l.8 -1.4l.9 2.0zM136.0 526.9l-2.2 .6l-2.2 -1.9l2.8 -1.5zM127.2 527.7l1.1 -5.4l2.4 -.8l2.2 3.9zM131.3 521.6l2.3 -1.7l2.6 .3l-1.5 3.8zM194.4 504.8l.1 -1.5l1.8 -1.6l.7 1.2zM189.7 502.6l1.9 -.8l1.2 .4l-2.4 1.9zM193.8 498.9l2.2 -2.3l4.5 2.0l-3.4 2.3zM198.7 509.4l-2.2 .1l-2.1 -4.1l3.8 1.9zM201.7 507.8l-1.7 1.0l-1.3 -2.2l1.6 -.7zM190.1 512.9l-1.6 -.2l-.3 -1.6l1.9 -.2zM188.6 503.0l-1.2 -1.3l1.2 -1.9l1.1 1.9zM195.0 518.7l-2.6 -4.9l2.6 -.8l1.3 4.0zM245.0 533.6l1.0 -2.1l2.5 -.1l-.5 2.2zM241.3 535.3l-.2 -1.2l.9 -1.9l.8 1.5zM239.8 535.9l.9 -1.5l.9 -.0l-.6 1.5zM185.2 505.9l-.7 -1.4l2.0 -.4l-.1 1.8zM190.5 507.7l-2.9 1.3l-3.1 -3.4l4.7 .1zM187.3 512.4l-1.0 -3.7l.3 -2.0l1.6 4.7zM184.5 515.5l1.1 -6.0l1.7 .5l1.4 2.4zM192.9 498.9l-1.1 -1.9l1.2 -1.9l1.0 2.2zM193.5 501.9l-2.2 .5l-2.3 -1.3l3.0 -.7zM186.4 498.8l-.7 -1.8l1.6 -.5l.2 2.2zM175.5 505.0l1.6 -2.0l1.9 .3l-1.2 1.8zM293.9 524.7l.3 -1.7l1.5 .1l-.0 1.7zM300.5 526.8l-1.5 -1.4l.7 -.7l1.4 .3zM294.8 520.0l2.3 -1.4l1.0 .8l-1.1 .8zM293.1 523.4l-2.6 1.0l-1.0 -1.3l1.9 -.5zM246.6 521.4l-1.5 .3l-.7 -1.2l1.9 -.0zM245.6 522.3l-4.5 .6l-2.4 -2.5l4.0 -1.2zM237.9 526.4l2.5 -2.9l2.5 1.6l-1.7 1.7zM243.5 517.1l.8 -1.8l1.2 -.2l-.3 1.2zM216.3 539.4l-4.0 .4l-.2 -2.9l3.4 .1zM216.8 541.6l-1.9 -1.1l.5 -1.1l.7 .1zM217.9 543.8l1.7 -1.4l1.0 .3l-.8 1.1zM215.4 547.1l-.6 -2.0l1.7 -1.8l.4 1.0zM211.9 476.4l-2.8 .3l-.5 -.7l1.7 -.3zM209.5 480.1l-1.0 -.2l-.7 -1.3l1.5 .5zM212.2 476.4l.4 -3.0l4.4 -1.5l-.0 2.3zM229.4 582.4l-.3 -2.0l1.4 -.9l.1 1.8zM227.8 579.8l.3 -2.0l1.1 -.4l.2 1.2zM230.6 577.9l-1.0 -1.3l1.1 -1.7l.5 2.1zM177.6 478.0l.8 -5.5l3.8 -.8l-.7 4.5zM184.0 474.3l-2.7 -2.7l2.1 -2.0l1.7 2.2zM184.0 481.2l-1.1 -.9l.4 -3.9l1.8 2.6zM184.0 469.4l-1.9 .9l-2.3 -.7l3.2 -1.9zM128.1 552.2l.4 -2.7l2.0 1.0l-1.2 2.0zM131.4 548.3l-1.2 -1.0l-.1 -2.1l1.7 1.8zM133.9 547.4l-1.9 .7l-.6 -2.0l.9 -.5zM131.5 557.2l-1.8 .5l-1.7 -2.8l1.4 -.7zM131.2 553.7l1.5 -3.1l4.8 .7l-3.4 4.4zM136.5 547.2l-.8 -2.2l1.4 -1.0l.9 1.8zM210.7 488.9l-3.0 .9l-2.9 -3.0l4.9 -1.4zM211.2 486.4l.6 -1.7l2.1 -.2l-.7 1.5zM209.9 487.7l1.0 -1.8l2.2 .0l-1.0 2.3zM207.9 496.4l.0 -.9l1.0 -.7l.1 .9zM214.6 495.2l-2.6 1.0l-1.7 -4.0l3.4 .5zM210.4 496.0l.1 -1.7l1.6 -.2l-.3 1.0zM214.4 498.2l2.6 -4.2l2.8 1.0l-.8 2.9zM214.9 491.2l-.1 -1.2l.7 -.6l.1 1.3zM270.9 508.7l-2.1 -2.0l1.6 -2.5l1.6 2.5zM269.5 505.9l-2.1 -3.3l1.3 -4.3l2.1 4.4zM277.7 506.2l-1.5 -.5l.3 -2.2l1.1 1.5zM262.9 499.6l.9 -2.6l5.6 -1.6l-3.2 4.0zM199.7 471.5l-4.5 3.0l-1.2 -3.3l2.5 -3.4zM197.7 469.7l-2.2 -1.7l1.0 -1.1l1.5 .9zM202.5 473.6l.1 -1.1l.9 -.9l1.0 1.8zM201.5 470.8l2.1 -1.9l3.3 .9l-.7 2.3zM207.3 466.6l-1.3 1.3l-.6 -2.4l1.0 -.9zM210.5 472.9l-4.8 .4l.7 -3.6l3.6 -.1zM199.2 464.7l.1 -1.4l3.1 -.2l-.7 1.8zM267.9 478.0l-3.1 -2.9l.7 -3.9l3.4 3.0zM267.2 472.8l-1.2 -.2l-1.3 -3.4l2.3 .8zM268.7 470.5l.5 -1.0l1.7 -.3l-.6 1.8zM264.1 482.2l-.6 -1.7l2.5 -1.3l.4 1.8zM263.8 484.0l-1.7 -.9l.5 -2.2l2.2 1.2zM271.8 480.5l-.8 .0l-1.4 -1.0l1.0 -.1zM145.5 499.8l-.6 -1.2l.2 -1.1l.8 .5zM143.6 504.3l-1.3 -1.1l.3 -.7l1.1 .7zM141.7 502.2l-2.2 -1.7l-.5 -3.1l2.9 2.2zM148.6 494.6l.9 -1.3l1.1 .2l-.4 .7zM143.5 494.4l-.2 -2.1l1.8 1.1l-.2 1.0zM141.2 502.7l-1.5 .4l-.9 -1.4l1.9 .5zM232.0 472.6l-.5 -1.7l1.0 -1.3l.5 1.0zM235.4 472.9l2.4 -.8l1.2 .4l-1.4 .4zM225.0 471.2l3.0 -3.6l2.0 .5l-.5 1.8zM235.5 475.7l.5 -.9l1.0 -.1l-.2 .5zM237.1 478.1l2.0 -.8l.8 .9l-1.3 .9zM240.3 481.4l-1.0 .4l-1.2 -1.1l1.4 -.3zM271.8 462.5l-.7 -3.6l1.6 -4.1l.8 2.7zM273.1 459.0l.8 -2.6l1.2 -1.0l-.6 2.5zM269.4 464.9l-2.0 .4l-1.8 -2.0l2.7 -.6zM272.9 466.7l-.9 -3.0l3.3 -5.1l.8 6.0zM269.4 455.6l-2.4 -1.5l-.7 -2.3l3.0 1.4zM283.1 462.6l-.5 -1.6l.5 -1.3l.9 .9zM259.8 460.5l.2 -2.0l1.8 -.6l.4 1.7zM273.4 472.3l.9 -1.5l2.5 -.5l-1.7 2.0zM238.5 518.0l-1.0 -3.4l1.9 -4.6l3.5 4.5zM239.1 517.0l.9 -1.3l1.7 .4l-1.7 1.2zM236.2 508.4l1.3 -2.7l2.8 1.6l-3.0 2.5zM194.1 560.9l-.9 .5l-1.2 -1.6l.8 -.2zM188.7 563.0l-2.7 -1.6l2.1 -5.0l3.0 1.4zM195.9 560.5l-.0 -2.8l2.8 -1.6l1.1 2.0zM197.4 564.9l-2.2 -.5l-.2 -2.0l2.6 .3zM197.0 555.5l-1.1 -.0l-.8 -1.3l1.5 .1zM197.6 551.5l-1.7 -.0l-.8 -1.1l2.1 -.6zM215.6 555.5l-2.1 -1.2l2.9 -1.8l.2 2.9zM218.5 557.8l-1.2 -1.5l.5 -1.8l1.7 1.3zM215.7 560.9l-1.1 -3.6l1.9 -2.1l1.4 3.5zM210.3 553.1l-3.0 -1.8l.3 -1.9l2.5 1.7zM266.0 471.1l.6 -1.5l1.3 -.5l-.1 1.6zM270.1 471.3l-1.5 -1.9l.3 -1.6l1.4 1.9zM266.0 466.2l-.8 -.8l.3 -1.8l.7 1.0zM264.7 477.7l-2.2 -.9l-1.0 -2.6l2.5 .8zM268.8 479.8l1.7 -1.3l2.7 .2l-1.0 1.0zM266.9 461.8l-1.9 -2.2l1.4 -2.3l1.5 2.7zM178.5 507.2l-2.6 .8l-1.8 -1.3l2.3 -.7zM170.1 503.4l3.8 -2.6l.9 2.2l-1.1 2.8zM171.8 511.4l-.7 -1.1l1.7 -1.2l-.0 2.0zM240.9 509.3l-3.3 -2.8l-.7 -4.2l3.7 2.5zM237.8 508.2l-3.2 .5l-1.6 -4.8l5.8 1.8zM241.0 500.5l-2.9 -.1l-.4 -1.7l1.8 -1.4zM242.7 499.4l.2 -1.8l.9 .2l.2 1.3zM249.5 511.3l-1.7 1.0l-1.5 -2.9l1.1 -.1zM246.2 517.1l-1.2 -1.6l.5 -1.1l1.3 1.2zM253.3 511.5l-3.8 -1.0l-1.6 -1.8l4.8 -.1zM245.4 504.6l-.5 -2.9l5.0 .3l-2.8 3.6zM292.8 457.6l.8 -2.1l1.3 -.7l-.5 1.9zM290.1 458.5l1.2 -1.0l1.0 .5l-.8 .5zM300.3 457.7l-1.7 -.2l-.2 -1.9l1.2 .1zM302.5 461.4l-3.9 1.7l-1.1 -3.2l3.4 -1.6zM286.1 455.9l-1.3 -1.4l-1.1 -2.4l3.3 2.1zM113.1 514.2l-1.9 -.7l-2.2 -4.0l4.7 .9zM113.7 512.2l.4 -2.9l2.4 .6l.3 1.7zM112.6 506.4l-1.8 -1.5l1.1 -1.1l1.5 1.4zM108.5 520.9l.9 -2.9l3.4 .9l-1.4 1.4zM108.3 521.5l1.1 -3.2l2.2 -1.6l-.1 2.1zM121.5 513.5l-1.6 .2l-1.5 -1.8l1.0 .1zM121.4 505.6l1.5 -1.9l2.3 .2l-1.6 1.8zM110.9 519.7l-1.6 -1.0l1.2 -.9l.6 .4zM233.5 540.9l-1.3 -1.2l.5 -2.8l2.2 1.8zM236.4 538.7l-.9 -1.7l2.2 -3.2l1.0 3.6zM232.5 536.7l-1.2 -5.0l.5 -3.3l1.6 3.9zM237.5 542.8l4.1 -1.6l2.8 1.5l-4.3 2.9zM224.1 544.6l1.3 -3.1l1.0 -1.0l.8 1.8zM228.8 543.9l.2 -1.4l1.6 -1.4l-.9 2.2zM273.8 488.1l-1.7 .9l-1.2 -.5l1.6 -1.3zM268.6 484.0l1.8 -1.8l3.5 -.3l-.8 2.2zM268.6 497.4l-1.5 -3.1l1.2 -1.7l1.8 .6zM275.4 494.4l-1.2 -.7l-.3 -2.2l1.3 1.0zM108.7 490.0l-1.5 -.5l-.2 -3.2l2.1 1.4zM106.4 494.1l.8 -2.3l2.2 -2.1l-1.0 3.7zM217.2 557.4l1.1 -2.5l3.9 -.6l-2.4 2.5zM224.3 559.3l-.8 .6l-1.6 -.6l.9 -.5zM221.7 563.6l-1.9 -1.1l.7 -.8l.7 .3zM219.0 549.8l-1.6 .4l-.8 -.5l.7 -.5zM177.8 479.3l.8 -2.2l4.0 1.5l-2.2 1.9zM178.3 484.6l-.8 -3.2l4.8 -3.4l1.8 4.0zM178.2 483.0l-1.8 .0l-.2 -2.1l1.5 .4zM181.6 485.3l-2.2 -1.1l-.3 -1.4l2.3 .5zM173.6 476.9l2.9 -4.1l1.4 -.0l-2.1 3.1zM180.6 490.3l-1.4 1.4l-3.3 -3.1l5.0 -1.4zM237.8 508.6l.8 -1.2l1.8 -.5l-1.2 1.4zM237.7 515.2l.7 -3.1l1.6 -.3l-.9 2.6zM241.4 514.9l-2.1 -2.3l1.7 -1.6l1.2 2.0zM234.6 506.4l.2 -1.8l.5 -.3l-.1 1.8zM232.8 510.1l-2.9 -.0l-2.3 -3.3l5.5 -1.2zM237.9 502.6l-.7 -.8l-.6 -1.6l1.0 1.0zM246.8 505.7l-2.7 -2.7l.5 -3.7l3.3 3.2zM229.6 519.7l1.0 -1.1l1.7 .7l-1.3 .7zM219.6 503.8l-.2 -1.5l1.3 -1.3l.3 1.7zM223.6 503.7l-1.3 -3.9l1.5 -.1l1.4 2.5zM223.7 500.3l-1.3 -1.0l.7 -2.2l1.5 1.5zM210.5 500.4l.3 -1.9l1.3 .1l-.1 1.4zM216.7 501.1l-1.1 -.0l-1.0 -2.5l1.8 1.8zM211.2 506.1l-1.1 -.6l-.2 -1.1l1.2 .6zM215.2 502.4l-1.3 -1.3l.6 -1.3l1.1 .3zM212.9 508.7l-1.0 -1.3l.7 -2.6l1.1 2.3zM135.1 468.2l-5.1 .0l-1.2 -1.8l2.2 -2.2zM119.4 519.6l-1.5 -3.9l3.3 -3.3l1.4 4.3zM123.9 522.6l-4.6 -2.6l.0 -3.6l4.9 3.6zM118.8 523.5l-.3 -1.6l1.2 -.5l.4 1.1zM117.3 524.2l-3.2 1.0l-.7 -4.6l2.7 -.3zM127.4 521.6l-1.7 1.0l.1 -2.8l1.5 .3zM121.9 506.1l-.2 -2.6l2.2 -2.2l1.2 3.0zM286.2 507.2l-.1 -.9l1.0 -.8l-.1 1.6zM284.9 504.8l-2.4 -.5l.9 -2.3l1.8 1.7zM288.1 503.1l-2.3 -1.0l1.4 -3.2l1.3 .9zM277.2 533.5l-2.2 -.2l-1.5 -1.5l.9 -.1zM277.9 534.6l2.4 -1.9l2.5 .6l-2.4 1.7zM268.7 539.6l-1.0 -2.2l1.0 -2.9l1.4 2.9zM272.4 528.0l.8 -1.0l1.5 -.3l-.9 1.8zM226.7 538.0l-2.6 -2.1l-.1 -3.1l2.8 2.1zM150.0 487.7l-1.9 .8l-1.8 -2.0l2.7 .5zM145.1 486.6l-2.5 .7l-1.5 -3.2l4.1 1.1zM213.3 537.9l-3.6 .1l-2.4 -4.5l4.2 1.1zM205.6 533.9l1.1 -1.9l2.6 .2l-1.4 2.1zM217.2 542.4l-3.4 .7l-1.4 -1.5l2.7 -2.2zM97.4 501.4l-.3 -2.4l2.5 -1.4l.3 2.8zM97.0 504.3l-3.6 -.8l.1 -1.9l3.0 .2zM106.6 502.6l-2.9 1.2l-3.6 -2.6l1.1 -3.7zM144.4 473.2l.8 -1.5l1.0 .1l-.6 1.7zM150.9 476.1l-2.5 1.2l-2.3 -1.7l2.6 -2.2zM140.3 477.5l-.6 -1.2l.6 -1.1l.9 1.4zM144.1 465.3l-1.5 -.2l.0 -1.2l2.0 .2zM141.5 468.4l-1.5 -.1l-.5 -1.4l1.8 -.1zM151.4 476.8l-.2 -1.0l1.8 -.9l-.1 1.3zM155.0 478.4l-2.9 -.4l-.7 -.8l1.4 -.7zM151.7 477.6l3.4 -3.5l2.1 1.1l-2.3 2.2zM186.4 483.7l.5 -1.4l1.8 -.6l-.6 1.6zM199.4 473.5l-1.8 1.1l-1.5 -1.3l1.6 -1.3zM193.0 477.0l1.1 -2.8l2.5 -1.8l1.1 4.7zM193.0 475.7l-1.0 -1.5l-.0 -1.7l1.4 .2zM200.0 470.5l3.5 -3.2l3.1 .4l-3.6 3.7zM194.3 470.7l-2.8 -2.2l.7 -4.2l2.3 3.3zM211.6 477.7l-2.1 .1l-2.2 -2.7l3.3 -.0zM193.7 484.2l-1.3 -1.7l.2 -1.9l1.4 2.0zM206.4 470.6l-3.0 -.2l-1.0 -.7l3.3 -.2zM209.7 475.1l-1.4 -.5l-1.2 -1.4l2.6 -.3zM205.2 474.3l-1.5 1.3l-.8 -1.6l1.2 -.5zM211.5 475.0l-.1 -1.0l1.4 -.4l.1 1.1zM214.6 473.7l2.3 -2.3l1.3 .3l-.6 2.0zM205.0 492.7l-.6 .6l-1.6 -1.1l.8 -.9zM206.5 492.4l.6 -.9l1.9 .1l-.8 .9zM228.1 539.2l-4.4 -2.0l-.8 -3.2l4.5 1.0zM231.9 535.7l-1.3 .3l-.6 -1.0l1.1 -.4zM128.0 516.6l-1.7 -2.6l1.5 -1.9l1.6 2.1zM244.2 498.9l-2.2 -2.8l.3 -2.0l1.2 1.4zM244.6 500.3l.0 -.8l3.2 -1.3l-.9 3.4zM241.5 494.0l.7 -2.1l1.7 .6l-.3 1.6zM204.9 474.9l-.9 -2.9l2.2 -.9l1.3 1.8zM204.6 471.8l-.9 -1.5l1.5 -.3l.5 1.2zM201.4 474.6l-2.3 -1.0l.9 -3.8l2.3 1.6zM209.3 476.3l-2.6 .7l-.9 -.6l1.2 -1.5zM258.8 533.1l-1.5 -1.3l.7 -1.7l1.2 .9zM259.1 536.9l-1.8 -1.5l-1.0 -3.3l2.2 2.0zM262.8 537.8l-2.2 -.5l.4 -1.5l2.3 .6zM258.6 539.4l-1.0 -1.6l.2 -1.7l.9 1.3zM131.3 466.4l-2.0 -4.3l1.8 -1.9l.6 3.5zM124.7 464.9l.9 -1.6l1.4 .7l-1.1 1.1zM134.2 468.4l1.3 -1.0l1.2 .5l-.6 1.1zM126.6 475.2l-2.3 -4.4l2.4 -1.5l2.4 3.0zM125.1 463.5l-2.3 -.4l.5 -1.2l1.6 .1zM123.6 455.3l.4 -1.6l1.1 -.2l.5 1.0zM125.1 458.7l-1.5 -1.1l-.1 -1.4l1.2 1.1zM127.8 472.5l1.3 -.7l2.2 .5l-1.1 .6zM257.0 502.6l.9 -1.8l1.1 -.5l-.5 2.7zM256.7 501.3l-1.7 -2.9l-.2 -3.2l2.9 4.0zM259.9 504.4l.7 -1.4l2.0 .5l-.8 1.3zM257.8 498.8l-.6 -1.5l2.0 -1.2l-.3 2.2zM119.7 565.0l-1.0 -.5l-.4 -1.1l1.9 .1zM117.5 565.7l-1.2 -1.0l.1 -1.3l1.3 .8zM126.8 564.8l-1.5 -2.2l1.0 -.9l1.3 1.8zM115.6 557.2l-.9 -1.7l.0 -1.0l1.2 1.3zM174.0 484.5l-2.1 .4l-.9 -1.4l1.0 -.3zM141.4 585.6l-.9 -1.6l1.6 -.8l.2 1.4zM145.3 589.6l-2.9 -2.1l2.0 -4.8l3.5 5.4zM251.6 546.2l.5 -2.2l4.7 -.7l-1.9 2.5zM251.0 545.5l-2.4 .6l-.9 -2.0l3.0 -.1zM95.3 470.6l-4.1 2.2l-1.0 -2.4l3.4 -.8zM140.5 491.7l-2.2 -1.5l1.0 -2.7l2.0 2.5zM134.0 574.3l-3.7 -2.1l1.3 -2.0l3.3 .8zM233.1 519.4l.1 -1.7l1.6 -.3l-.7 2.4zM238.4 522.1l-3.0 -.3l.0 -1.2l2.6 -.4zM226.3 522.9l1.5 -1.7l1.9 -.2l-.8 1.8zM152.7 581.3l.2 -1.0l2.6 -.6l-1.0 1.4zM159.8 578.9l-4.9 -2.8l-.1 -2.4l4.3 2.9zM158.1 583.0l-2.0 -.3l-.3 -1.4l2.0 -.1zM94.2 550.2l1.4 -.9l2.5 -.6l-1.3 1.6zM92.9 553.1l2.8 -2.7l2.0 2.2l-1.9 1.6zM92.5 554.4l-.1 -1.1l1.6 -1.4l-.7 1.8zM99.2 581.1l-.6 -.9l-.0 -1.5l1.1 .7zM99.2 583.0l.1 -1.7l1.2 -.8l-.4 2.3zM102.9 578.1l-1.2 .6l-.8 -.6l.6 -.9zM191.2 521.4l1.2 -.9l1.5 .3l-.1 1.0zM197.0 521.1l-1.6 .5l-.7 -1.9l1.0 -.9zM198.1 520.3l-2.8 1.1l-.8 -1.2l2.3 -.5zM191.2 516.8l-5.2 1.4l-2.3 -4.8l4.9 .1zM197.9 517.0l1.1 -1.9l1.6 .9l-1.5 1.4zM186.9 514.0l-2.2 -2.4l2.7 -1.2l-.1 1.7zM202.0 531.4l-.0 -2.8l1.4 -1.9l.0 2.7zM192.5 530.5l.7 -1.2l1.0 -.0l-.1 .7zM227.5 478.7l1.4 -1.3l.3 .8l-.8 1.2zM229.4 477.5l-.0 -2.9l4.7 .4l-2.0 4.4zM258.7 535.4l.2 -2.1l1.1 -.6l-.1 1.9zM263.5 532.0l-.8 1.6l-3.2 -3.7l3.1 -1.4zM260.9 530.3l-.4 -1.4l.9 -2.8l.6 2.8zM263.3 532.9l-1.2 -5.2l3.6 .2l1.1 3.8zM155.5 492.3l-.5 -1.6l1.2 -.9l.2 1.6zM154.5 494.8l-.9 -1.1l.8 -1.8l.5 .8zM153.2 486.6l.9 -2.1l4.0 -.3l-1.1 2.4zM242.5 499.5l-2.8 .5l-3.1 -2.1l2.7 -.2zM258.8 533.4l-1.0 -.0l-1.2 -.7l1.6 -.4zM230.4 563.5l1.0 -.8l1.5 1.3l-.8 .4zM235.6 564.4l.8 -1.2l1.4 -.3l-.2 .7zM237.5 567.8l-1.4 -6.6l2.8 -.1l.6 1.3zM240.5 567.1l-3.3 -1.3l-2.2 -4.4l2.3 .8zM230.8 570.4l1.2 -1.0l1.5 .7l-.7 .5zM238.6 557.9l-1.1 .2l-1.5 -1.4l1.6 -.1zM243.0 515.8l1.8 -2.4l2.5 .8l-1.8 2.4zM249.4 513.2l-1.9 -.8l-2.5 -2.0l3.9 1.0zM241.9 508.9l1.5 -2.9l3.1 1.0l-1.3 2.9zM240.0 519.8l-1.8 -1.0l1.7 -2.3l1.3 .5zM240.3 509.6l1.0 -1.9l2.1 -.2l-.9 2.0zM259.1 515.3l-3.3 .0l-1.3 -1.2l1.5 -.6zM171.3 461.4l-1.7 -.6l-.5 -.6l2.0 -.9zM165.7 457.9l.6 -1.9l3.4 -.8l-.5 1.4zM175.7 461.0l.8 -2.0l1.8 -1.5l.7 3.2zM217.0 469.5l.6 -3.1l3.4 -.6l-.9 2.7zM216.9 470.7l1.9 -.9l1.0 1.0l-.7 .9zM186.0 484.6l1.4 -.8l1.2 .5l-.4 .8zM187.1 483.6l-1.0 .1l-1.8 -1.3l1.7 -.0zM192.7 487.5l-1.6 1.4l-2.4 -2.4l2.3 -1.1zM193.1 487.5l-1.3 -.3l.0 -2.2l1.2 .9zM177.7 491.7l-.7 -2.8l2.1 -2.9l.1 3.5zM184.0 488.9l-1.8 -.1l-.2 -1.0l1.2 -.3zM184.2 495.1l-.8 -1.3l.6 -.6l1.3 1.2zM175.5 480.5l-2.2 -.3l3.1 -4.6l1.9 2.2zM233.8 536.0l1.4 -1.1l1.9 .2l-.3 .8zM238.9 531.3l-1.6 1.6l-5.4 -1.1l4.3 -1.8zM242.4 532.0l-1.9 1.1l-1.9 -1.4l1.3 -.7zM243.7 537.4l-2.9 -1.8l.8 -3.1l3.2 2.1zM231.3 538.3l-2.4 -.3l-.2 -1.0l1.6 .2zM245.2 541.1l.6 -1.6l1.5 .3l-.4 1.6zM205.4 502.0l.2 -2.8l2.0 -1.8l.2 2.0zM238.8 528.9l1.1 -2.6l1.9 .7l-.6 2.4zM260.3 542.9l2.5 -3.4l2.1 1.1l-1.6 3.9zM160.4 496.9l.3 -3.0l3.8 .6l-1.0 3.5zM164.5 495.7l-.6 -.8l1.3 -1.2l-.2 1.6zM165.1 502.5l-1.9 -1.3l1.1 -2.4l.9 1.5zM242.9 483.2l2.4 -.6l2.1 .4l-2.4 .9zM248.6 484.0l-.4 -.8l1.0 -1.6l.0 1.3zM251.3 482.5l-.5 -2.4l4.9 -.3l-1.7 2.6zM247.2 478.4l-2.3 .7l-.1 -2.0l1.5 .0zM255.8 483.0l-2.4 .4l-1.1 -1.5l3.1 -.6zM253.3 485.7l-1.3 -1.4l.9 -3.1l1.8 3.6zM169.8 488.9l1.9 -1.8l2.1 -.1l-2.0 2.4zM175.5 486.9l-2.9 -.6l-.2 -1.7l2.1 -.3zM171.3 483.3l-1.4 .7l-1.3 -.8l2.0 -1.3zM232.1 551.4l2.4 -.8l.4 .9l-.5 1.0zM228.6 552.6l3.8 -3.2l2.0 .5l-2.7 3.3zM237.5 552.0l.5 -1.5l2.4 .6l-1.0 1.6zM238.6 546.8l-.0 -1.8l1.2 -1.4l.4 1.7zM246.6 550.7l-1.3 .9l-2.2 -1.7l1.2 -.2zM224.3 551.4l-1.2 -1.8l1.1 -1.1l.7 1.9zM226.0 563.7l-2.4 -2.8l.8 -1.4l2.9 1.0zM245.7 547.2l1.8 -3.0l1.6 .9l-1.5 2.0zM204.4 499.1l-.5 -.7l.9 -1.8l.6 .9zM205.6 495.2l-1.5 -.8l-1.3 -3.0l2.4 1.1zM205.3 503.3l-1.0 -1.1l1.9 -2.6l.8 1.7zM134.3 533.2l-4.0 -.2l1.3 -5.4l3.2 1.3zM131.2 534.8l3.5 -2.5l4.1 -.1l-1.7 3.5zM136.6 528.2l-1.0 -1.0l.7 -.5l.8 .3zM128.9 539.5l2.5 -2.3l3.9 .2l-2.0 4.5zM128.4 540.3l-3.4 .1l.1 -1.6l2.1 -.4zM122.4 535.1l.9 -1.3l1.3 1.2l-1.1 .4zM135.6 541.6l-.5 -3.8l3.1 -1.4l.9 2.0zM137.3 517.7l-3.9 .5l-.5 -2.8l2.9 -2.2zM297.5 468.4l-.8 -3.6l2.7 -2.4l.9 6.2zM294.4 469.9l-1.2 -2.4l1.5 -2.7l.9 2.6zM301.0 473.3l-4.4 .2l.7 -3.0l2.5 .2zM294.9 471.6l.1 -1.4l1.6 -.6l-.5 1.2zM196.1 542.6l-4.2 -1.0l.8 -1.8l2.9 .2zM197.7 543.3l-1.9 .5l-.7 -1.1l1.7 -.5zM190.5 546.8l-1.6 .3l-.4 -1.9l1.8 -.8zM199.5 567.3l-.3 -3.1l5.4 -.2l-1.9 3.2zM203.8 568.8l-.2 -2.9l5.1 -3.8l-.9 4.8zM199.3 567.8l4.3 -3.1l2.8 3.4l-2.4 3.0zM210.7 564.8l-1.9 1.0l-1.8 -1.2l2.3 -.6zM190.3 487.2l-2.3 .4l-1.7 -2.9l2.4 .9zM188.1 489.6l2.6 -1.5l1.9 .4l-1.5 1.7zM187.1 491.0l-1.2 -.4l-.3 -.9l1.4 .4zM180.9 488.1l2.0 -1.8l2.1 -.1l-1.0 1.5zM249.3 486.0l.6 -1.9l1.2 -1.1l.5 1.1zM248.4 484.8l-1.4 -1.0l-.2 -1.0l1.5 -.1zM244.4 485.1l-.6 -.5l1.0 -2.1l.7 2.2zM248.4 478.3l-1.0 -1.5l.5 -1.2l1.0 1.6zM258.9 485.6l-1.5 -2.9l2.9 -1.5l2.4 3.3zM247.3 495.0l-2.4 -.8l.5 -5.0l2.5 1.0zM224.9 536.1l.3 -2.7l.8 -1.2l.7 1.9zM222.4 532.6l-2.5 .6l-.6 -1.2l2.6 -.5zM276.4 466.9l.1 -2.3l1.5 -.1l.3 2.2zM276.1 467.2l-1.9 -.1l-1.4 -2.8l2.9 .2zM270.9 463.0l1.8 -1.1l1.5 1.0l-1.7 1.2zM281.3 476.2l-.8 -2.3l3.6 -2.4l.2 1.9zM298.0 567.0l-2.0 .3l-.9 -3.8l3.0 1.8zM296.0 569.2l1.2 -2.6l1.5 1.9l-1.4 1.4zM298.8 563.6l-.4 -.8l1.3 -1.3l.2 1.6zM296.8 561.1l-1.5 -2.7l1.5 -2.1l1.2 2.7zM299.0 572.6l.1 -1.6l1.6 -1.2l-.0 1.4zM300.3 559.2l-2.2 3.7l-2.4 -4.9l2.2 -1.9zM209.7 556.6l1.1 -3.1l4.3 .1l-1.4 2.1zM214.9 556.4l.7 -1.7l1.3 .3l-.2 1.6zM218.9 558.5l-1.7 .1l-.3 -1.8l1.5 .4zM212.0 559.4l.9 -3.2l4.2 .2l-.4 3.4zM206.9 549.7l-.7 -1.6l1.0 -1.5l1.0 1.0zM205.6 565.5l-1.4 -.8l1.8 -1.0l.7 .7zM291.8 473.4l.7 -1.2l2.0 .1l-.8 1.5zM229.2 549.8l-.8 -1.7l2.0 -4.3l1.4 4.2zM229.9 542.9l.4 -2.2l.8 -.5l.2 2.3zM230.0 543.4l1.1 -2.6l1.5 -.1l-.4 3.2zM263.0 476.0l.2 -.8l2.3 -1.1l-1.6 2.2zM268.2 476.7l-3.1 -.7l-1.6 -2.8l2.7 .4zM255.4 473.3l3.1 -2.2l4.4 1.3l-5.8 5.4zM268.9 482.7l.6 -1.6l2.1 -.8l-1.1 2.2zM226.1 545.7l1.6 -1.3l2.5 .5l-1.7 1.6zM224.9 544.8l.5 -1.4l1.0 -.2l-.2 1.1zM228.4 539.7l.4 -1.9l2.5 -2.0l-1.1 2.9zM238.1 550.3l-2.3 .3l-.5 -.6l1.2 -.9zM220.5 543.9l-2.8 -.9l.2 -.9l1.5 .8zM232.5 547.7l.2 -1.8l1.8 .3l-.4 1.6zM228.1 536.2l-.5 -1.2l1.2 -1.7l.9 1.2zM217.3 552.3l2.3 -1.8l3.1 -1.2l-.8 2.3zM207.5 502.9l1.1 -3.4l2.9 -.5l-1.3 2.3zM211.1 500.0l-1.4 -.6l.6 -1.9l1.4 .8zM213.0 507.5l-1.5 .1l-.6 -.2l1.5 -.9zM204.6 499.6l-.7 -1.0l.4 -1.5l.8 1.1zM203.8 511.3l-3.1 -2.9l.3 -1.2l2.6 1.2zM208.5 496.9l-.6 -3.2l1.4 -2.8l1.3 4.5zM218.8 497.0l-1.4 -.3l-1.1 -1.6l1.5 .1zM214.6 493.9l-.8 -.2l-.7 -2.3l1.5 .5zM225.5 574.5l-.6 -1.2l-.1 -2.4l1.2 1.8zM224.6 576.3l-3.3 -.0l-.3 -3.2l2.9 .8zM226.6 568.8l-2.6 -2.1l.5 -1.8l1.8 1.3zM261.7 539.0l-1.8 .2l-.4 -1.4l1.5 -1.1zM257.1 540.9l-1.1 -3.2l.2 -2.4l1.4 2.6zM206.9 519.2l.4 -4.4l2.0 -.1l.2 3.9zM203.8 516.7l1.5 -1.9l1.2 .2l-.7 1.0zM209.5 513.6l-1.3 .5l-2.5 -2.5l2.1 .2zM205.7 513.3l-.9 -.6l-.4 -1.3l1.1 .7zM130.3 491.2l.4 -1.1l1.2 -.9l-.5 2.0zM131.8 489.1l-1.4 -.6l-.7 -1.7l1.5 .1zM137.3 496.7l-1.9 -.8l-1.2 -1.9l1.7 .6zM128.9 487.9l-1.1 -1.8l2.1 -2.5l.9 1.7zM230.8 502.6l1.9 -2.2l.9 .8l-1.1 1.7zM237.5 497.4l-1.0 1.2l-2.1 -.6l1.2 -1.1zM231.3 505.9l-3.0 -.7l1.3 -2.4l1.6 .7zM237.0 497.7l-1.9 -.4l-.3 -1.3l.9 -.1zM228.9 512.3l-2.2 -2.1l.2 -2.8l2.6 2.3zM242.4 503.9l-.0 -.7l2.2 -1.0l-.7 1.2zM227.9 507.7l-1.8 -1.7l.1 -3.8l2.0 2.9zM224.0 508.1l-.6 -2.0l2.2 -1.8l1.1 3.6zM246.6 473.0l.3 -1.7l.8 -.6l.6 .9zM247.9 475.5l-.0 -1.4l1.8 -.8l.1 2.0zM252.5 471.2l.8 -1.2l2.1 .1l-.9 .7zM237.4 476.5l.2 -2.4l2.5 -2.3l-.3 3.9zM283.2 580.8l2.0 -1.3l1.7 .5l-2.4 1.7zM288.0 584.7l-2.0 -.8l-1.4 -3.7l2.7 1.5zM283.1 575.7l-1.7 -.7l1.4 -2.3l1.6 1.1zM289.8 579.0l1.5 -1.2l.8 .9l-.8 1.5zM116.6 549.7l.7 -2.2l2.7 -.0l-1.9 2.1zM118.2 553.2l-1.2 -.3l-1.3 -1.1l2.0 .2zM140.2 527.0l.3 -2.6l3.6 -.0l.0 1.5zM140.1 523.3l.6 -.6l1.2 .3l-1.0 1.4zM143.1 531.1l-1.2 -2.0l.1 -1.3l1.0 .5zM284.8 477.7l.2 -4.3l2.9 -1.5l.2 5.6zM285.3 478.9l-.7 -.4l1.6 -2.1l.4 1.2zM280.4 475.2l-.8 .0l-1.5 -.8l2.4 .0zM289.1 476.8l1.3 -3.0l2.4 .4l-.2 2.9zM288.2 467.0l1.2 -1.4l1.2 .2l-.6 .9zM293.2 480.8l.4 -1.6l1.4 -.3l-.4 1.8zM294.7 479.8l-2.8 -3.2l2.1 -3.2l3.8 2.3zM294.4 470.6l.1 -3.2l1.8 -1.2l.3 2.4zM200.2 481.4l-.7 -3.0l3.7 -.7l-.2 2.3zM201.2 480.0l-3.1 -2.2l1.7 -2.7l1.3 2.7zM196.9 479.6l-1.5 -.6l.4 -1.2l1.3 .6zM199.2 478.4l-1.5 -1.8l1.1 -4.2l2.3 3.4zM103.3 560.4l3.2 -2.4l2.0 .9l-.7 1.8zM103.2 560.0l-.5 -1.7l.5 -.5l.5 .5zM103.5 566.8l1.3 -.9l2.8 -.8l-.4 3.0zM113.1 561.3l.8 -1.4l2.6 1.6l-1.0 .9zM184.4 473.4l-3.9 1.3l-1.9 -2.0l3.9 -1.5zM178.2 477.9l1.4 -2.4l3.4 -.1l-1.3 3.8zM178.1 478.3l-.6 -.6l1.0 -1.1l-.0 1.2zM185.1 469.0l-.3 -2.4l1.2 -.5l.8 1.8zM182.3 480.6l-2.5 1.4l-1.6 -3.6l2.4 .6zM183.3 484.5l1.6 -1.2l1.0 .9l-.8 1.3zM175.2 480.2l2.0 -1.5l1.5 .8l-1.3 .8zM184.9 478.6l1.1 -1.2l1.0 .6l-.5 .7zM285.1 459.2l.6 -1.5l2.1 -.4l-1.3 2.0zM283.2 461.6l-1.1 -.7l-.3 -1.7l1.1 .7zM289.5 457.6l-1.1 -1.5l2.3 -2.9l.4 2.7zM296.4 460.6l-1.4 .3l-1.4 -1.4l2.1 -.1zM290.4 462.7l-1.6 -2.6l.6 -1.6l1.6 2.4zM108.4 486.8l-.2 -1.8l.9 -.3l.1 1.0zM107.1 488.6l-3.3 -2.4l.9 -.8l2.6 -.1zM113.0 489.3l-1.3 -.5l-.2 -2.2l1.8 1.3zM108.4 482.3l1.0 -3.4l4.9 -.5l-1.6 3.7zM226.3 493.3l-3.0 .7l-.4 -2.3l1.6 -.8zM221.1 490.6l-.4 -2.6l4.6 -.3l-1.1 3.4zM221.2 497.6l-1.4 -.3l-1.1 -2.7l1.9 1.1zM228.8 496.6l1.0 -1.6l2.1 .3l-1.2 1.3zM216.5 502.2l-2.0 -1.6l.6 -4.7l2.3 -.1zM219.4 499.9l2.6 -3.2l4.0 3.3l-2.1 1.0zM213.0 489.4l-.6 .6l-1.3 -.5l1.4 -.4zM231.5 494.2l3.3 -2.2l1.9 .7l-.9 1.4zM138.3 485.5l1.9 -.4l.9 .6l-1.6 .6zM136.8 491.0l-2.2 -3.5l.3 -1.8l2.3 1.5zM138.7 484.9l2.8 -2.6l4.1 1.3l-1.4 1.7zM142.6 481.7l-.4 -2.3l3.8 -.4l-1.0 3.1zM136.3 492.7l-2.5 -2.0l.1 -1.9l2.9 1.3zM147.5 490.1l-1.3 -.5l-.1 -4.3l1.3 1.3zM281.8 515.1l-2.1 -1.2l.1 -1.5l1.3 .1zM286.1 511.4l-2.6 1.2l-.5 -3.1l2.5 .6zM279.3 512.3l-1.6 .7l-1.1 -1.2l2.0 -.4zM276.6 521.6l-1.3 -1.0l1.0 -2.6l1.1 1.2zM194.2 469.8l-4.5 .6l-1.0 -2.1l3.3 .2zM192.0 472.0l-2.6 1.5l-4.9 -3.1l4.9 -1.1zM198.1 473.8l-1.6 .1l-2.6 -1.8l3.0 .4zM187.4 473.0l-4.0 .6l-.6 -1.0l3.0 -2.4zM194.5 468.8l.5 -.8l2.0 .6l-1.0 .5zM185.4 479.7l1.5 -1.1l1.4 .4l-1.2 .4zM201.5 472.7l-.6 -1.9l1.9 -.3l.2 1.3zM189.2 460.6l.1 -1.5l2.8 .4l-1.2 1.6zM247.0 509.0l.4 -1.2l1.1 -.0l-.2 .8zM274.6 547.3l-.7 -.7l.1 -1.3l1.4 1.2zM271.6 499.9l-3.0 -2.0l.2 -2.8l2.3 1.2zM267.9 501.8l.3 -2.3l2.6 -1.0l-1.4 3.3zM262.7 543.6l.2 -1.0l1.2 -.3l-.1 .7zM266.0 541.2l-.7 .0l-1.1 -.6l.8 -.5zM203.8 544.7l-.3 -2.0l1.1 -.2l.7 1.1zM206.5 543.7l1.3 -1.0l1.0 -.2l-.3 1.4zM209.7 541.7l-2.8 .2l-1.0 -2.9l3.7 1.1zM210.7 541.6l-.1 -1.3l2.1 -.6l-.2 1.5zM260.5 471.0l-.1 -2.1l1.3 -.4l.3 2.4zM259.4 474.3l-1.5 -1.2l1.0 -1.4l1.2 1.1zM256.9 468.1l-1.7 .2l-.7 -1.6l1.0 -.2zM263.1 473.8l3.5 -5.1l3.8 1.2l-4.0 3.9zM264.1 469.1l1.9 -2.9l1.1 .4l-.6 1.3zM252.9 478.8l.9 -4.8l2.1 -1.4l-.5 3.0zM203.4 474.9l-.8 .0l-.5 -1.4l.9 .3zM229.0 530.9l-1.2 -1.6l.4 -.7l.9 1.2zM230.4 532.1l-1.3 .2l-.6 -1.0l1.1 -.5zM230.0 526.5l-.8 -.3l.5 -2.0l1.0 1.4zM224.0 535.4l1.6 -2.0l1.6 1.4l-2.2 2.1zM236.8 558.0l-5.1 .3l-1.8 -2.4l4.8 -1.3zM231.8 554.3l-.8 -1.7l.4 -1.0l.9 .5zM239.6 562.4l-1.4 -.4l.2 -1.5l.9 .3zM238.9 559.9l.1 -2.0l.9 -1.0l.6 1.4zM237.9 557.6l.2 -.9l1.2 -.7l-.1 1.6zM229.7 551.0l-2.7 -.7l1.0 -2.2l1.3 1.1zM295.6 534.2l-1.3 -1.0l1.3 -2.1l1.2 1.0zM295.7 531.6l-4.6 -1.4l-1.0 -2.4l2.8 -1.0zM291.0 539.1l-1.9 -.4l-.0 -1.5l1.2 .2zM238.0 563.3l-1.8 -.8l.1 -2.8l1.6 .5zM274.2 461.2l-.2 -2.5l1.9 -1.1l-.2 2.0zM271.8 459.0l-1.9 .6l-.9 -1.7l1.5 -.2zM277.0 465.8l-1.2 .4l-1.1 -.9l2.3 -1.0zM264.2 566.1l-.6 -4.3l1.2 -2.6l.8 2.7zM265.4 559.7l-.7 .2l-.7 -1.7l1.2 .5zM233.3 480.1l-1.5 .2l-.9 -1.2l1.6 -.2zM227.8 484.1l-.3 -1.7l4.4 -3.0l-2.4 4.5zM229.1 477.4l-.0 -1.5l3.0 -.6l-.8 1.4zM239.2 550.9l1.9 -1.3l2.4 1.2l-2.1 2.6zM239.7 554.2l2.1 -1.2l1.7 1.5l-1.5 1.3zM218.0 582.3l-2.3 .6l-2.0 -3.9l3.5 .3zM215.9 585.0l-1.5 .7l-1.4 -1.0l1.6 -1.0zM217.5 586.7l2.0 -1.2l.6 .4l-.6 .7zM223.3 580.8l.2 -1.3l3.2 -1.2l-.4 3.1zM215.6 587.0l-2.1 .3l-1.6 -1.4l2.8 -.7zM209.8 582.7l-.7 -.1l-1.0 -1.3l1.0 -.0zM193.8 518.0l1.9 -1.8l4.5 1.2l-2.7 .9zM199.7 513.3l-1.8 -.3l-2.0 -2.0l3.3 .2zM193.1 517.5l-.6 -1.2l1.7 -2.4l.0 2.8zM198.0 525.9l.7 -1.7l1.9 -.3l-1.1 1.8zM203.7 523.4l-2.0 .5l-1.1 -1.2l1.6 -.5zM191.0 514.5l.2 -4.8l4.4 -2.0l-1.7 4.1zM198.5 529.1l-2.1 -4.2l2.7 -1.3l1.7 4.1zM201.1 528.3l1.1 -2.3l2.9 -.4l-2.2 2.3zM144.9 456.3l3.6 -1.0l1.4 1.1l-3.5 2.5zM149.3 453.7l-1.4 .2l-.3 -.9l1.0 -.2zM152.0 456.4l-.2 -1.5l.6 -.6l.5 1.0zM145.7 455.6l-2.6 1.1l-.6 -3.7l1.8 -1.2zM145.9 464.9l-.6 -1.4l.2 -.5l.4 .4zM151.5 513.3l3.7 -2.8l3.3 2.6l-2.8 2.0zM153.1 518.0l-1.4 .0l-1.4 -2.2l2.3 .7zM160.8 511.6l-2.4 -.3l-.3 -1.6l2.7 .2zM158.7 511.0l-2.0 -1.2l1.1 -2.0l1.2 .9zM159.6 506.4l-1.6 -.7l-.4 -2.1l2.5 .3zM161.7 516.4l-1.7 .4l-.8 -.9l2.0 -1.2zM298.7 465.1l-1.0 .1l-1.2 -.8l1.9 .1zM296.9 468.9l-2.1 .5l-1.0 -1.4l1.4 -.6zM294.2 472.3l-1.9 -.9l-.6 -3.3l2.7 1.2zM300.8 467.4l.9 -1.7l1.5 1.0l-.6 1.2zM293.4 455.7l-.8 2.0l-4.3 -1.5l2.4 -1.9zM292.3 461.0l.7 -2.3l3.7 .2l-1.4 3.3zM117.8 469.2l1.0 -2.3l2.7 1.8l-2.3 1.2zM124.0 467.0l-.6 -2.1l1.8 -.2l.1 1.6zM117.8 472.3l1.2 -1.2l2.0 .3l-.9 1.3zM125.7 466.1l-.8 .1l-.9 -1.9l1.2 .6zM115.6 478.5l.1 -3.1l4.3 -3.4l-1.3 5.0zM126.1 470.3l-3.5 -2.1l-.9 -2.7l5.9 3.2zM237.3 526.1l-1.8 .4l-2.3 -.7l3.3 -.8zM233.8 530.2l.5 -1.9l3.1 1.3l-2.3 1.5zM235.9 532.9l-2.2 -.0l-.8 -4.9l3.4 2.1zM236.1 535.8l-1.8 -.1l-.5 -1.4l1.6 .1zM229.1 528.1l-.7 -2.5l1.0 -.8l.3 1.9zM244.7 529.0l-1.6 .3l-1.6 -1.5l.5 -.3zM229.7 476.7l2.0 -5.0l2.4 -.3l-.7 2.7zM229.2 471.2l3.7 -4.0l3.6 1.7l-2.3 3.9zM237.1 472.3l1.0 -1.9l1.9 -.9l-.3 1.9zM235.1 476.1l.6 -.9l1.7 .4l-.6 .9zM231.8 471.2l-1.2 -2.5l-.1 -1.8l2.1 1.6zM235.8 471.1l-2.6 -1.3l-1.3 -2.2l2.6 .1zM150.7 511.0l-1.4 -1.3l1.3 -1.6l.7 1.7zM147.0 512.5l-.6 -1.7l1.9 -.3l.1 1.2zM152.4 508.3l-1.8 -2.1l.0 -3.1l3.2 3.0zM153.8 508.2l-1.6 -1.7l.8 -1.1l1.0 .4zM154.8 518.7l-1.6 -.6l-.6 -3.3l1.0 .7zM150.9 515.9l-1.6 .2l-.7 -1.2l1.5 -.5zM150.8 499.1l-.2 -.9l1.2 -.9l.6 1.0zM140.4 510.3l-.9 .1l-.3 -2.4l.9 1.1zM287.2 487.6l1.1 -5.3l3.4 -1.4l.5 4.9zM286.4 480.8l.7 -2.0l.7 .2l-.3 1.2zM297.5 486.5l-5.4 -.5l-.4 -5.5l5.2 2.0zM297.8 489.8l-2.3 -2.3l.9 -2.4l1.1 .7zM285.8 493.2l.9 -1.5l1.2 -.2l-.2 1.2zM284.8 495.3l-2.5 -3.6l1.9 -1.6l2.5 1.4zM205.4 535.3l-1.4 -2.3l-.5 -3.2l2.2 2.8zM208.2 531.2l-.3 -2.1l.6 -.3l.6 1.9zM203.8 532.1l-1.2 .9l-2.9 -2.9l3.0 -.0zM207.1 536.8l-1.7 -.4l-.9 -.9l1.6 .2zM146.5 521.7l-.1 -.7l1.9 -.8l-1.3 1.6zM150.5 525.0l-4.0 -.5l-1.5 -3.0l3.2 1.3zM142.4 516.2l.0 -1.3l1.4 -1.2l.1 1.9zM96.7 466.1l-1.4 -3.6l2.2 .1l.7 2.7zM100.3 465.2l.9 -3.4l1.6 -.3l-1.3 3.2zM93.7 457.9l-.2 -1.1l.9 -1.4l.2 1.2zM96.5 470.7l1.7 -2.9l1.2 .6l-.3 1.4zM208.3 513.4l1.4 -.4l.5 .5l-.7 .2zM214.8 511.4l-4.0 .7l-3.2 -1.9l4.4 -1.7zM205.4 512.4l-2.6 .1l-1.0 -2.9l3.2 1.6zM208.0 522.5l.1 -5.7l4.0 -1.4l1.2 3.6zM204.7 505.9l-1.8 -.0l-.4 -.9l1.3 -.4zM224.2 513.0l-5.0 2.8l-2.3 -3.7l4.1 -.6zM241.9 584.5l.8 -2.5l2.1 -.3l-.4 2.6zM238.2 583.7l1.4 -1.6l1.5 -.1l-.4 1.6zM242.5 581.3l-2.6 -1.2l-1.0 -3.0l2.3 .8zM238.3 574.8l-1.5 1.0l-1.0 -1.8l.8 -.4zM246.8 574.5l4.0 -3.6l1.8 3.0l-2.4 1.2zM149.5 526.6l-1.9 .0l-.4 -.8l1.8 -.6zM143.5 527.1l-.7 -2.6l2.9 -1.9l.4 2.7zM277.5 476.6l-1.2 -1.7l.7 -.9l.5 1.5zM275.9 478.2l-1.1 .9l-1.1 -2.2l1.5 -.2zM266.9 483.0l-1.9 .2l-.1 -1.9l1.2 -.4zM259.8 481.1l.3 -3.4l1.0 -.9l.9 3.6zM145.6 563.8l-1.6 -1.7l.1 -2.1l2.3 1.1zM151.2 565.3l-2.9 -.5l-1.5 -4.0l4.4 -1.5zM140.7 563.9l1.3 -2.1l1.1 .8l-1.2 1.0zM170.1 547.5l.3 -2.2l4.1 1.5l-2.6 1.5zM178.0 548.5l-2.4 -1.2l-.8 -1.3l1.8 1.0zM176.5 546.6l.4 -.7l2.2 -.2l-1.3 1.2zM173.5 539.1l-2.5 2.2l-4.7 -2.7l2.3 -1.7zM167.2 545.5l-2.2 -1.2l1.0 -5.1l4.1 2.3zM166.8 547.1l-1.5 -1.1l-.1 -1.5l1.5 .8zM165.8 550.1l-2.3 1.8l-3.5 -1.9l2.7 -.5zM166.8 559.1l-.8 -2.2l.8 -.9l.6 1.4zM192.4 538.9l1.0 -1.1l3.3 .6l-2.0 1.2zM190.9 540.7l1.3 -.5l1.9 -.3l-1.4 1.3zM265.0 477.2l-1.1 -1.5l4.0 -2.7l2.8 4.2zM230.2 551.3l.2 -1.3l.8 -.4l.3 .6zM230.1 554.1l-1.0 -.0l.0 -2.5l2.0 1.4zM225.0 550.3l-1.1 -1.6l.3 -1.7l1.2 2.4zM228.4 544.6l-2.0 -.4l-.3 -1.9l1.5 .7zM231.4 559.2l-1.1 -.7l.4 -1.2l1.5 .4zM234.9 557.8l-1.0 .2l-1.3 -1.9l.8 -.2zM220.6 545.7l-1.1 -1.4l1.2 -1.0l.6 1.9zM231.1 540.1l2.0 -1.8l3.0 1.4l-2.0 1.9zM113.5 582.4l-1.1 -1.3l.0 -1.2l1.3 1.5zM214.2 527.7l-1.1 -.0l-1.0 -.9l1.6 -.4zM202.9 506.4l-1.0 .7l-1.1 -2.2l1.2 -.7zM207.2 505.1l-1.3 .6l-1.2 -1.6l1.9 -.4zM203.7 512.3l-1.6 .3l-.3 -2.9l2.5 .4zM201.9 498.4l-2.0 -.2l-.7 -1.5l1.9 .8zM193.0 515.8l-1.0 .6l-1.3 -.5l1.1 -.6zM183.7 516.2l3.3 -2.2l4.2 -.2l-2.4 1.9zM189.7 523.5l-2.1 .5l-1.9 -1.9l2.2 -.8zM181.7 514.6l1.2 -1.0l1.0 1.0l-.7 .4zM206.7 473.1l-1.7 .8l-.9 -1.3l1.3 -.2zM199.1 476.8l2.1 -4.1l2.3 -.4l-.5 2.6zM201.7 469.8l.3 -.8l1.8 .4l-1.5 1.4zM208.5 482.5l-2.6 -1.2l-.9 -3.1l2.7 1.6zM213.5 468.1l-2.8 1.1l-2.4 -3.8l4.1 .4zM215.8 474.8l-1.0 -1.4l.4 -1.0l1.1 .7zM197.0 475.0l1.9 -.8l1.4 .5l-1.7 2.1zM201.1 461.0l-.2 -3.0l4.1 .4l-.7 2.6zM137.2 466.2l1.8 -1.6l2.4 -.3l-2.3 1.7zM139.0 463.8l1.8 -4.2l3.0 .2l-1.0 3.3zM137.1 473.1l-1.8 -1.4l-.8 -2.0l2.3 1.5zM144.8 468.5l-1.6 .5l-.2 -.7l.6 -.7zM136.2 460.8l-1.8 -.6l.0 -1.8l1.5 .8zM142.5 475.0l-1.0 .7l-.9 -.9l.8 -1.0zM290.7 523.8l-4.1 .3l-2.6 -3.1l3.1 .9zM290.2 524.8l.5 -.7l1.9 .0l-1.0 1.1zM294.5 524.1l-1.5 .4l-1.6 -1.4l.6 -.7zM95.7 550.7l-1.7 .3l-2.4 -2.3l1.6 -1.1zM259.3 541.4l-1.2 .3l-1.8 -.7l2.0 -.3zM261.3 540.7l-1.4 .7l-2.0 -2.3l1.6 -.4zM178.6 541.3l1.1 -2.0l2.2 -1.3l-.6 2.0zM174.1 537.7l3.0 -2.9l2.3 .9l-1.2 2.6zM184.9 536.6l-3.5 .4l-1.5 -1.5l4.4 -1.0zM185.4 551.5l-5.1 -1.6l1.7 -4.5l3.9 1.9zM267.6 492.1l2.0 -3.9l1.4 .8l-1.0 2.9zM271.0 486.7l-3.6 1.4l-1.9 -1.7l1.6 -1.1zM264.9 486.6l-1.7 -3.7l3.8 -1.0l1.1 4.1zM266.0 489.3l-.9 -1.3l1.6 -1.4l.6 1.5zM186.4 469.2l-.8 -1.2l.7 -2.1l1.7 1.0zM287.0 499.3l.6 -2.7l2.1 .1l-.7 2.5zM289.6 499.2l.5 -2.5l2.5 .6l-1.1 2.5zM295.8 498.3l-.9 -.7l.6 -1.8l1.2 .6zM284.5 503.4l4.1 -1.8l.6 1.2l-1.0 1.4zM293.8 502.1l-.9 -1.5l.6 -.9l.6 1.8zM275.7 495.6l.6 -2.5l1.9 -1.2l-.4 2.6zM236.4 524.2l-4.6 -2.6l-.4 -4.2l5.3 3.7zM231.9 520.9l-2.2 -.2l-1.3 -2.2l3.2 .1zM237.4 525.9l-.4 -1.2l.4 -1.2l.5 .5zM232.8 530.7l-.2 -4.8l1.1 -1.1l1.3 3.3zM228.0 514.1l.0 -1.6l1.1 -.4l.1 1.0zM223.4 522.9l-1.7 1.7l-1.1 -2.1l1.9 -.0zM116.1 492.1l.3 -1.0l1.6 .1l-.9 .8zM119.0 489.9l-2.2 -4.0l2.6 -1.2l2.1 2.2zM121.4 494.0l-1.3 -.3l-.9 -1.6l2.1 .7zM118.5 495.9l1.6 -3.1l2.3 1.2l-2.3 1.9zM98.0 540.8l-1.2 -1.2l-.1 -1.1l1.2 1.0zM95.1 541.0l-1.3 -3.0l2.3 -3.3l.8 2.5zM99.6 546.8l-1.5 1.3l-3.1 -3.7l2.5 -.6zM96.9 536.2l-1.2 -1.3l.1 -.7l2.2 .8zM104.1 534.8l-1.3 -.6l-.1 -1.6l1.3 1.1zM95.4 532.1l.3 -1.1l1.3 -.4l-.3 1.5zM255.2 562.7l.5 -1.5l1.1 .5l-.2 .8zM257.1 559.0l-3.2 .9l-1.7 -1.2l2.0 -1.0zM247.4 560.0l2.5 -1.6l1.6 .9l-2.3 1.1zM259.4 561.3l1.9 -1.1l.7 1.1l-.8 1.2zM249.3 559.7l-1.0 -2.4l1.4 -1.3l.1 2.3zM259.0 552.2l1.1 -1.1l2.6 -.1l-1.7 1.4zM245.5 564.1l-1.4 .2l-.8 -2.5l.9 .3zM259.5 570.0l-1.8 -.2l-.2 -.9l1.3 -.4zM239.1 516.3l-1.7 -.2l-3.1 -3.7l3.3 .5zM237.1 509.5l.4 -1.0l2.0 .2l-.9 .7zM230.8 514.1l-1.2 -2.0l.7 -.9l1.4 1.9zM230.7 518.0l-1.7 -2.2l.9 -.9l1.4 1.6zM242.5 521.2l-2.3 1.7l-.2 -1.7l.3 -.8zM237.2 520.6l-.9 -.8l1.4 -1.7l.6 1.1zM243.0 509.8l.3 -2.1l3.6 -1.6l-1.7 2.3zM245.0 529.4l-6.2 -1.2l.4 -2.7l3.4 1.1zM198.3 511.0l-.8 -1.3l.7 -3.1l1.8 1.4zM229.4 556.7l-1.5 -.6l.7 -2.6l.8 1.3zM230.0 558.1l-5.0 .4l-2.9 -1.6l3.1 -.5zM227.2 548.7l-1.4 -.8l-.1 -1.4l1.5 .5zM260.8 527.1l1.0 -.5l.8 .1l-1.3 .8zM264.5 529.1l1.6 -1.1l1.4 .1l-1.5 1.4zM258.1 502.2l-2.2 -.1l-.5 -.4l2.0 -.2zM154.9 574.7l-1.0 -2.3l.4 -1.8l1.7 2.0zM152.5 579.3l-1.0 -1.5l2.2 -3.1l-.1 3.4zM160.7 569.9l-.8 -.8l-.7 -1.5l1.3 .3zM162.8 578.0l-3.8 -.0l.9 -3.3l2.3 .0zM148.1 575.8l-1.1 -3.5l-.1 -2.3l3.4 2.1zM155.4 579.7l-.4 -1.8l.7 -.9l.3 1.1zM272.8 572.6l-1.4 -.1l-.2 -.5l1.0 -.5zM274.5 576.5l-.9 -3.9l4.1 -1.9l-1.5 5.6zM253.5 519.4l-.1 -2.2l3.3 -.4l.1 2.7zM257.3 523.5l-2.5 -1.2l.3 -2.5l1.6 -.3zM185.6 580.0l-1.4 .6l-1.2 -1.3l1.8 -.3zM185.1 576.2l-1.4 -1.3l1.2 -1.3l.8 .8zM181.7 588.7l-3.4 -3.1l.9 -3.3l3.1 .9zM185.9 576.4l-.5 -.8l1.7 -1.3l-.1 2.1zM172.5 577.2l4.0 -2.2l1.6 .4l-2.2 3.4zM178.7 584.4l-1.6 -1.8l-.2 -3.4l3.0 2.8zM192.5 584.2l-2.0 -.7l-1.2 -3.3l2.9 2.3zM184.0 479.7l-.9 .6l-.9 -1.8l1.9 -.0zM185.4 483.1l-2.6 -.3l.7 -4.8l4.1 1.8zM177.2 480.8l-.2 -2.7l2.0 -2.3l.5 2.6zM153.9 487.2l-1.2 -1.4l.2 -1.0l1.5 -.0zM156.6 484.9l-.9 -.6l.4 -1.9l1.1 1.1zM297.4 516.6l-1.0 -1.3l.4 -.9l.7 .8zM302.4 516.6l-1.6 -.2l.1 -1.7l1.5 .1zM187.1 477.4l3.8 -1.3l1.0 .8l-3.1 1.4zM186.7 479.5l.5 -1.2l.7 -.6l-.4 1.7zM185.7 472.2l-.4 -.7l.8 -1.5l.7 1.0zM183.9 477.5l2.6 -2.6l2.2 1.3l-2.0 2.7zM189.2 488.8l-1.5 -1.2l.5 -1.8l1.4 1.1zM191.6 490.2l-3.0 -.7l.3 -2.1l2.2 .5zM180.7 479.0l-1.7 .1l-1.1 -.8l1.5 -.3zM178.4 475.8l1.7 -1.3l1.0 .4l-1.1 1.4zM241.3 498.0l-1.3 -1.8l.6 -1.7l1.0 2.3zM236.2 497.1l1.2 -1.6l1.0 .2l-.8 1.8zM234.5 503.7l-1.0 -6.2l.9 -.4l2.0 3.2zM243.2 492.9l.0 -.9l1.7 -1.4l-.2 1.8zM238.2 490.1l.1 -4.4l3.5 -.3l-.0 4.5zM238.5 503.7l-1.6 .5l-1.8 -1.9l3.0 .4zM240.0 486.0l-2.8 -.9l.6 -4.8l3.2 2.8zM232.9 488.9l-1.6 .5l-.2 -1.7l1.3 .2zM270.2 504.3l-1.8 .1l-.3 -.9l.7 -.4zM272.6 506.1l-1.9 1.0l-1.9 -.6l.8 -.8zM198.3 459.0l-.2 -3.3l2.6 .4l-.2 1.7zM199.0 461.1l-.7 -.5l-.1 -1.3l.9 1.0zM250.5 506.4l.8 -3.1l1.8 -.7l-1.0 3.0zM250.3 508.0l.8 -.7l1.7 -.4l-.7 .8zM251.4 508.9l-3.7 .7l-2.3 -1.7l3.8 -1.8zM249.9 512.2l-.1 -1.6l.6 -1.6l.6 1.6zM245.7 507.7l.2 -2.7l1.6 .2l-.7 1.6zM254.5 497.7l-2.1 .6l-1.2 -1.8l1.1 -.1zM261.6 522.8l-.1 -1.6l1.4 -.8l.1 1.5zM262.7 525.8l-1.1 -.5l-1.3 -1.9l1.4 .8zM265.7 521.6l-2.6 -1.2l-1.7 -3.5l3.5 .7zM283.1 526.7l-1.2 -.3l-1.1 -1.8l2.0 1.2zM281.5 529.8l.5 -1.1l1.6 -.9l-.1 1.8zM279.5 522.9l-1.1 .3l-.6 -1.4l.7 -.5zM243.6 519.6l-2.3 .3l-.8 -1.2l1.8 -.4zM238.4 522.1l-.8 -3.4l1.0 -1.3l.4 2.7zM237.9 519.0l-.7 -2.5l2.9 -1.4l-.4 2.4zM243.1 515.6l-3.8 1.1l-.7 -3.1l2.8 -.8zM238.8 511.6l-1.1 -.8l.0 -1.4l1.4 1.4zM239.6 511.9l1.7 -2.6l1.8 1.1l-1.5 2.2zM270.6 516.2l-3.1 1.7l-1.4 -1.9l2.9 -2.5zM269.8 514.0l.3 -2.7l2.5 -.2l.1 3.3zM261.9 515.4l-1.4 -1.7l.7 -.9l.9 1.1zM266.1 564.2l.7 -2.3l3.8 .7l-3.5 2.6zM270.7 564.6l.1 -2.7l2.8 -.1l-1.1 2.6zM267.2 571.7l.1 -1.6l3.1 -.6l-1.4 2.4zM206.9 583.2l-3.2 -3.0l.7 -2.8l3.9 2.5zM208.3 579.3l.8 -2.0l3.2 .4l-3.0 2.2zM211.5 574.0l-4.2 .2l-.8 -1.4l2.0 -.2zM208.7 575.2l-3.0 -2.0l-.3 -3.1l5.5 .4zM215.5 583.1l2.6 -3.2l2.7 .6l-2.8 3.6zM196.0 575.8l.5 -2.8l3.1 -.8l.1 1.1zM211.1 587.7l.4 -3.7l3.7 -1.2l-1.6 3.4zM286.1 528.8l-.8 -.3l-.7 -1.8l1.6 1.0zM285.0 532.3l1.8 -1.0l1.2 .3l-1.0 1.6zM293.3 527.5l-3.6 2.3l-1.4 -2.4l2.5 -.8zM279.6 534.3l-3.1 .4l-1.5 -4.5l3.2 .3zM293.2 531.7l-.5 -1.2l1.9 -1.0l.1 .9zM292.0 539.0l-1.5 .3l-1.0 -1.3l2.0 -.1zM238.4 561.4l-.2 -1.7l.2 -1.0l1.5 .9zM233.6 546.7l1.2 -1.3l1.6 .9l-.5 1.1zM151.3 561.4l1.6 -.5l.7 .7l-.3 .6zM156.7 563.2l-1.2 -.8l1.2 -1.6l.7 1.3zM150.8 567.3l-.3 -1.8l1.5 -1.1l.7 1.3zM159.7 568.3l-1.4 -1.3l.2 -1.3l1.3 1.4zM148.3 553.9l-.7 -2.0l.5 -.3l.7 1.1zM149.6 567.8l.8 -1.7l1.4 1.1l-.5 1.0zM252.6 489.5l-2.5 .5l.1 -1.6l1.4 .0zM251.1 494.3l-.2 -2.8l1.9 -.8l.5 2.1zM247.8 484.6l-.1 -1.2l2.3 -.1l-.5 1.5zM260.1 479.8l.5 -1.1l1.8 .8l-.5 .6zM265.5 483.5l-4.7 -1.3l1.5 -1.7l3.0 .6zM260.4 476.9l-1.2 -1.8l1.4 -1.4l.7 1.2zM263.6 473.5l1.6 -1.6l1.6 .5l-2.2 1.1zM126.9 539.6l-1.7 .7l-2.0 -2.1l1.3 -1.1zM130.1 541.3l-3.6 .9l-1.1 -1.6l2.0 -.5zM116.2 521.6l-1.5 -.1l-.5 -2.1l2.3 .9zM114.1 523.2l-3.8 -.1l-.6 -2.0l2.3 .4zM122.0 522.3l-.8 -1.0l.5 -1.2l.9 .9zM224.7 556.7l-1.3 -1.1l.9 -.9l1.6 1.0zM221.7 555.2l-1.2 -2.6l1.3 -1.3l2.1 2.5zM296.4 575.1l1.0 -2.6l1.9 -.0l-1.1 2.8zM295.1 569.4l2.0 -1.5l.4 .5l-.5 1.2zM96.3 555.8l-.8 -1.5l.3 -1.9l.6 1.7zM106.8 485.2l-2.1 -.3l-.7 -1.8l2.3 .5zM108.7 479.8l-2.3 2.2l-1.5 -1.1l2.2 -2.0zM275.5 495.2l-1.8 -.3l-.2 -.9l.8 -.2zM216.1 496.7l-.6 -1.1l.1 -1.5l1.0 1.5zM216.1 498.2l-4.0 -1.1l1.3 -2.3l2.5 .6zM210.9 492.4l-.7 -1.7l1.6 -.9l.8 1.9zM234.7 530.2l-.4 -.8l1.6 -1.3l-.2 1.1zM237.2 533.7l.5 -1.9l.8 -.4l.1 1.3zM275.7 471.1l-.3 -.8l.6 -1.0l.3 1.1zM168.3 517.3l-.5 -2.8l1.7 -1.2l-.4 2.8zM164.7 515.5l1.0 -1.6l1.5 .2l-.8 1.8zM163.7 515.1l-1.3 -5.2l1.9 -1.5l1.6 3.4zM168.5 521.0l1.5 -1.9l3.9 -.7l-2.5 2.7zM217.5 574.0l1.1 -2.1l2.8 -.8l-1.6 3.6zM217.9 576.7l-3.0 -.3l-1.3 -2.9l2.5 .8zM223.0 574.5l-1.3 -1.8l1.6 -2.9l1.3 1.1zM252.6 559.3l-1.9 -.7l-.7 -1.2l1.4 .1zM246.6 559.3l-.8 -1.4l1.2 -.4l.6 1.2zM253.4 557.1l1.1 -1.6l1.2 .5l-.0 1.0zM246.2 560.5l-.2 -2.9l.5 -3.0l.8 2.0zM249.3 566.8l-1.7 -.8l-.1 -1.9l1.7 1.0zM252.4 546.8l-1.1 .9l-2.0 -.8l1.5 -1.1zM250.0 563.8l-1.9 .8l-2.8 -2.1l2.5 -.2zM265.9 554.9l-2.2 .5l.2 -1.1l.8 -.7zM291.7 539.3l-1.4 -.2l-.6 -1.1l1.9 .1zM285.8 540.6l3.3 -1.5l2.7 .3l-1.0 1.9zM288.8 541.0l-5.8 -1.3l-.4 -2.2l3.5 .5zM286.3 536.0l-1.7 -1.7l.7 -2.1l1.8 1.3zM120.8 486.5l-1.2 -.4l-.2 -1.4l.5 -.8zM119.7 481.1l-.1 -.9l3.6 -1.6l-1.3 2.3zM121.5 490.9l-1.7 -1.5l1.2 -1.2l1.0 1.8zM124.7 485.0l3.2 -4.8l3.3 1.8l-4.5 3.2zM248.5 574.9l1.7 -2.0l1.2 1.2l.3 1.1zM202.6 571.6l-3.7 -1.3l-.6 -1.1l3.7 .4zM103.8 538.2l.6 -1.4l1.6 .0l-.1 1.4zM104.3 542.5l-1.2 -1.2l1.5 -.9l1.0 1.3zM104.1 544.7l-.3 -1.8l1.8 -.7l-.2 2.0zM253.3 532.5l-2.2 -.6l-.9 -1.5l2.0 .4zM254.2 529.9l-1.1 .5l-1.4 -1.3l.9 -.1zM257.2 528.0l-.3 -1.6l.8 -1.2l1.1 1.0zM247.4 537.4l-.5 -4.0l1.9 -.9l.7 3.6zM111.4 540.4l.2 -1.4l1.9 .6l.2 1.6zM112.3 539.4l-2.6 -2.5l.4 -2.9l3.0 1.1zM261.5 496.6l-.2 -3.0l2.4 -1.7l.1 2.5zM260.7 490.6l1.0 -1.1l2.0 .1l-.9 1.6zM266.1 496.5l1.6 -1.7l1.4 .7l-.9 .9zM262.0 504.1l-1.3 -.1l.4 -2.9l1.8 1.4zM268.4 496.5l-3.8 -1.1l1.6 -4.9l3.4 1.7zM256.4 488.4l-2.3 .1l-3.4 -3.4l3.8 .9zM240.0 519.3l1.1 -2.4l.9 1.2l-.2 .8zM241.1 517.8l-2.3 -1.8l.3 -1.2l1.1 .8zM241.3 523.5l-.8 .3l-.9 -1.8l1.0 -.4zM238.7 522.9l-2.3 1.1l-1.3 -1.7l2.6 -.9zM239.7 527.0l-2.4 -3.5l2.3 -1.3l1.7 2.4zM251.6 515.4l-.2 -.9l1.0 -2.0l.4 1.7zM234.3 516.0l-3.9 -1.2l-.5 -3.0l5.9 1.9zM243.4 509.5l-1.2 .6l-1.0 -1.3l.9 -.5zM163.9 545.6l-1.6 -3.5l1.9 -1.4l2.1 4.0zM164.4 539.7l1.0 -2.6l3.5 -1.1l-.0 4.4zM172.2 546.3l-3.6 .8l-.7 -2.2l1.9 -1.0zM227.6 485.8l-1.3 -.5l-.3 -.5l1.4 .5zM244.5 500.1l-1.5 -.1l1.2 -3.8l1.2 1.1zM252.7 497.2l-3.2 .6l-2.5 -2.4l3.9 -.6zM242.1 500.1l-2.2 .7l-1.6 -1.8l2.4 -.2zM225.6 550.7l-1.4 -1.2l1.3 -1.5l.9 1.0zM228.8 552.1l-.8 -1.0l-.2 -2.9l1.5 2.4zM223.7 548.8l-3.6 -.4l-2.1 -.9l3.5 -.6zM222.9 560.9l-2.3 -4.1l2.3 -2.5l2.3 4.3zM217.3 554.7l-1.2 -1.8l.8 -.5l.4 .5zM222.6 539.2l-1.3 .2l-1.2 -1.8l1.6 -.1zM228.1 476.7l-1.4 -.3l.0 -1.6l1.3 1.0zM233.1 470.2l-.9 -1.0l-.5 -1.3l1.4 -.8zM111.2 561.1l-.9 .7l-1.1 -1.9l.8 -.2zM109.8 559.0l1.1 -1.7l1.3 .3l-.6 1.8zM106.3 556.7l-1.3 -1.4l.1 -1.5l1.4 1.4zM271.6 489.7l-3.5 -2.7l1.7 -2.1l2.3 2.2zM285.6 541.6l-1.5 .8l-1.8 -1.4l1.0 -.9zM286.3 546.9l-5.5 -2.0l1.0 -3.6l5.1 1.2zM289.1 538.2l1.1 -2.2l1.8 .2l-.4 2.3zM292.3 546.6l-1.5 -3.2l1.3 -1.0l1.6 1.8zM282.0 548.0l-.3 -3.3l1.8 -.4l1.3 2.5zM286.1 549.0l-1.3 .6l-1.7 -1.4l1.2 -.7zM280.9 534.1l-.8 -1.9l.2 -1.8l1.4 1.2zM277.3 555.4l.2 -3.7l2.6 -2.6l.9 4.0zM238.5 517.6l2.8 -.4l2.6 1.6l-2.1 .8zM238.1 518.5l-.1 -1.7l1.6 -.7l.5 1.1zM247.8 522.9l-3.6 1.1l-1.4 -2.9l3.8 -2.2zM238.5 515.4l-4.0 -.5l-.3 -2.8l3.4 1.0zM235.7 525.5l1.2 -5.2l1.8 -1.3l-1.1 4.5zM244.9 529.0l-1.8 .8l-3.2 -2.5l2.8 -.6zM245.6 515.7l-.9 -1.2l1.1 -1.0l.6 1.5zM233.8 515.5l-.1 -1.9l1.9 .0l.2 1.4zM169.8 556.8l-1.2 -.7l.2 -1.3l1.8 .7zM169.0 558.1l.6 -1.7l2.2 1.9l-2.0 1.1zM162.5 558.0l-1.1 -3.1l1.5 -1.0l1.0 1.3zM162.4 563.2l-.6 -3.4l2.7 -.1l.1 2.2zM174.3 561.1l-1.8 .4l-.5 -2.7l1.8 .8zM173.2 560.8l-4.1 2.5l-.9 -2.2l2.0 -1.9zM151.7 519.1l-.7 -4.3l1.9 -.5l.5 1.3zM157.1 514.9l-1.1 .4l-1.4 -1.2l1.1 -.5zM147.4 516.5l-1.0 -.3l-.5 -.6l1.4 -.2zM156.9 511.2l2.3 -1.5l1.8 .4l-.9 1.1zM156.5 520.9l-2.7 -.6l-.2 -.7l1.9 .0zM147.8 508.1l-2.4 -3.0l2.9 -.8l1.2 1.6zM154.1 527.4l-2.0 -.1l-.3 -2.3l1.6 1.2zM137.2 520.1l-.1 -1.0l2.4 -.8l-1.6 2.4zM231.5 519.8l-1.4 .1l-1.6 -1.1l1.8 -.0zM231.4 515.2l-.9 -1.0l.4 -1.1l.7 .9zM234.8 518.9l-1.0 -.8l.1 -1.7l1.4 1.5zM232.1 511.6l-.4 -1.1l1.4 -2.1l1.1 1.5zM226.2 527.2l-1.3 -.7l.6 -3.6l2.2 1.6zM227.0 514.0l-1.2 .2l-1.1 -.8l1.8 .0zM224.0 516.0l-2.3 .0l-.3 -1.8l1.2 -.3zM234.9 525.9l-1.1 -.0l-.8 -1.5l1.7 .4zM200.1 524.2l.9 -1.9l1.5 .0l-1.0 1.3zM199.4 520.0l.5 -1.0l1.2 .3l-.8 .8zM200.3 518.2l-2.8 -.8l-1.1 -3.4l3.3 2.3zM197.5 517.8l-.9 -.8l1.4 -1.5l1.1 1.5zM106.6 558.4l-2.6 .5l-.5 -1.5l2.8 -.4zM263.3 471.4l-.1 -1.5l.9 -.1l-.2 1.2zM261.6 474.8l2.5 -4.4l3.4 -.7l-3.4 4.6zM263.2 467.0l1.2 -5.2l2.0 1.4l.2 3.2zM253.0 570.7l-2.5 -1.0l-2.1 -3.5l3.6 1.1zM247.8 565.1l.9 -1.3l2.1 1.1l-1.3 .4zM245.6 567.9l.3 -1.2l1.5 -.2l-.5 .6zM247.8 565.8l.8 -2.1l1.9 .4l-.3 1.9zM247.8 560.9l-1.7 -.0l-1.0 -1.4l2.6 .3zM255.7 576.4l2.3 -1.9l2.3 1.4l-1.3 1.3zM247.6 568.3l-2.7 -1.8l.4 -2.1l1.3 .4zM240.9 558.0l.7 -1.0l1.5 .0l-.7 1.1zM293.8 486.4l-1.8 .3l-.5 -1.0l1.6 -.4zM292.3 484.6l-1.3 -.5l-.6 -1.7l2.0 .7zM288.9 489.0l-1.9 -1.2l.8 -1.9l1.2 1.3zM220.2 546.2l3.0 -3.0l2.3 .6l-1.1 2.0zM225.7 548.3l-4.3 5.2l-2.1 -3.5l4.0 -4.7zM223.3 548.7l-1.1 -.8l.2 -1.4l1.0 1.0zM181.1 497.6l-.4 -2.5l1.7 -.5l.2 1.2zM178.7 494.9l1.2 -2.8l1.9 .1l-.5 2.2zM184.4 503.5l-.8 -1.1l.4 -1.8l.6 .7zM179.7 492.9l.2 -1.6l1.8 -.4l-.6 2.1zM176.2 505.2l-1.1 -2.3l.7 -1.6l1.0 1.3zM175.4 496.2l-2.1 -2.3l.0 -1.3l1.9 .4zM176.0 508.7l-1.9 -.4l.0 -1.4l1.3 -.3zM190.1 492.0l-.2 -1.2l1.8 -1.6l-.4 1.6zM259.8 499.3l-2.3 -.3l-1.5 -3.7l2.2 -.8zM256.8 502.7l-.0 -3.5l3.9 .9l-2.0 3.1zM264.0 496.9l.4 -1.5l1.6 -.1l-.7 1.8zM259.3 503.7l-.0 -.7l1.1 -1.4l-.0 1.3zM218.6 561.3l.1 -1.4l2.1 .9l-1.5 .8zM222.6 559.5l-.1 -1.0l1.1 -1.6l.2 1.3zM221.4 559.1l1.2 -1.5l.8 -.2l-.7 1.4zM227.1 559.9l.9 -1.1l1.0 -.2l.0 1.5zM296.8 462.1l-2.3 -.0l.2 -.8l1.5 -.5zM300.9 462.2l-1.5 -1.7l.7 -2.0l1.6 1.6zM299.0 459.5l.9 -1.1l1.8 .8l-.8 1.6zM289.9 468.7l-1.5 -1.7l.1 -1.2l1.5 .5zM101.1 546.9l.6 -2.5l1.3 .3l-.1 1.3zM106.4 545.2l.4 -1.4l1.8 1.1l-1.1 .7zM105.9 549.7l-1.4 -.5l-1.0 -1.6l2.3 -.3zM105.5 553.6l.5 -1.8l2.5 -1.5l-.8 2.6zM229.1 457.8l.7 -1.8l1.0 -.8l-.1 1.9zM230.8 461.1l2.3 -1.6l1.3 1.3l-1.9 2.3zM227.8 467.1l-.9 -2.0l1.2 -.2l.8 1.1zM218.1 470.7l1.7 -1.0l.8 .1l-.6 1.0zM220.9 468.3l-1.9 .0l-1.0 -1.3l1.8 .2zM221.0 474.8l-1.5 -1.8l2.0 -.6l1.0 .9zM228.1 473.5l.3 -2.0l.8 -.6l-.5 2.5zM225.0 478.8l-1.0 -2.4l2.5 -1.9l.9 1.0zM224.0 477.6l.6 -1.7l2.2 .7l-.6 1.3zM218.0 480.2l1.0 -2.0l1.8 -1.1l-.4 2.0zM231.1 469.6l1.6 -2.5l1.9 .3l-1.7 1.9zM196.3 471.7l-1.8 .2l-1.2 -1.1l1.9 -.1zM114.8 488.4l-1.9 1.0l-1.1 -.7l1.7 -1.5zM117.8 494.2l-2.0 -.0l-.6 -3.9l3.1 1.9zM115.0 482.9l-1.5 -1.3l.1 -1.3l.9 .8zM111.2 494.3l-2.5 -1.1l-.9 -3.2l2.6 1.1zM117.2 478.7l-1.2 .2l-1.2 -1.2l.5 -.5zM120.3 481.9l-1.9 -2.1l1.5 -3.4l1.3 2.8zM114.6 483.0l-1.7 1.3l-.6 -1.9l1.6 -.8zM110.3 500.6l-1.3 .6l-1.0 -.7l.9 -1.3zM272.7 470.2l.0 -2.3l1.0 -.5l-.4 1.7zM275.4 473.5l-1.5 1.1l-.8 -1.1l1.3 -1.3zM272.2 466.7l-.5 -1.4l.9 -1.1l.5 .9zM273.7 464.9l-1.9 -.2l-.9 -1.9l1.8 .5zM276.8 464.7l-1.6 .5l.0 -1.9l1.3 -.2zM280.9 469.0l-1.6 -.5l-.6 -3.0l2.5 .8zM207.7 477.7l-3.7 -1.0l-1.4 -2.3l2.0 .6zM143.1 529.2l-.5 -1.6l2.7 -1.9l-1.0 3.0zM143.5 525.4l.8 -2.4l2.4 -1.1l-.5 3.0zM148.1 521.7l-2.2 -.3l-1.1 -2.5l3.4 1.7zM145.3 535.5l-2.9 -1.7l-.1 -2.4l1.8 1.9zM196.8 475.1l-1.7 -1.3l.8 -3.2l1.1 1.2zM196.1 477.6l.7 -1.7l2.5 -.6l-2.0 2.5zM204.2 476.1l-2.4 -.7l-.7 -3.4l2.1 1.0zM201.2 469.8l-.9 -.5l-.3 -1.3l1.3 1.0zM203.6 472.1l1.6 -5.8l3.8 2.8l-2.3 3.0zM195.6 478.1l1.3 -.9l1.5 1.0l-1.9 1.0zM196.6 474.4l-1.8 -.1l-.6 -1.3l.8 -.7zM196.1 471.8l-2.3 -2.3l2.4 -2.7l1.6 1.8zM193.3 482.1l.8 -2.0l2.3 -1.1l.0 2.8zM199.8 476.2l-1.2 -1.8l1.7 -.9l1.1 1.8zM200.5 466.8l-2.9 -.1l.5 -3.4l2.7 1.9zM199.7 470.2l.9 -.7l2.2 1.4l-1.7 .7zM200.2 477.9l-.6 -.8l1.4 -1.7l.6 2.3zM205.3 470.7l.0 -1.9l1.2 -.7l.6 1.6zM137.6 523.3l.9 -1.2l1.9 -1.0l-.9 2.1zM139.9 517.6l1.7 -.7l.8 .7l-.4 .9zM134.6 526.6l-1.7 1.0l-2.3 -1.6l2.0 -.8zM141.0 528.6l1.0 -.9l2.3 1.2l-1.4 .6zM129.6 524.0l-1.0 -.7l.2 -1.5l1.0 .7zM147.7 528.1l-.5 -2.0l2.3 -1.6l-.1 2.6zM219.0 484.1l-1.3 .9l-1.6 -.7l1.8 -1.6zM292.3 471.6l-1.8 .7l-.8 -1.3l1.5 -.5zM295.5 470.2l-.2 -2.4l2.0 .5l.1 1.3zM293.4 478.2l-4.8 -.8l-.0 -2.8l2.4 .2zM280.3 476.6l2.5 -3.8l3.1 2.0l-1.4 3.6zM288.8 472.1l-2.7 -.1l-1.4 -1.3l1.2 -.8zM291.4 484.1l-.7 -3.9l1.8 -.5l2.4 4.8zM288.3 467.9l2.6 -4.1l2.2 -1.1l.1 6.3zM292.5 479.7l.7 -1.1l1.6 -.7l-.9 1.2zM239.0 500.5l-2.2 -.2l-.5 -2.7l2.4 1.4zM245.2 486.3l.8 -.4l1.1 .6l-1.2 .8zM248.4 484.5l-3.1 -.2l-.7 -1.0l1.7 -.4zM211.2 470.0l-1.3 -1.3l1.5 -1.7l.2 1.3zM274.3 566.4l.8 -1.1l1.7 -.5l-1.3 1.2zM276.0 563.6l1.1 -1.0l.7 .7l-.3 1.3zM272.2 564.5l-.9 -.3l-.3 -1.8l1.7 .7zM277.1 557.2l-.9 -.3l-.1 -1.6l1.1 .3zM284.7 566.3l-5.3 -3.2l1.3 -2.8l2.5 2.0zM272.4 572.9l-1.3 .1l-1.2 -2.7l2.3 -.1zM280.9 560.6l-.9 -2.3l1.3 -1.1l.8 1.6zM287.3 568.4l.2 -2.1l2.1 -.4l-1.2 1.9zM235.5 554.5l-1.4 -1.2l.5 -2.4l.8 1.4zM241.2 553.4l-2.5 -1.6l-.9 -2.1l1.9 1.4zM233.5 559.4l-4.0 .3l-.4 -4.4l3.4 1.4zM234.5 557.2l-.5 .5l-2.0 -.9l1.2 -1.8zM229.8 554.8l-.2 -2.1l1.3 -.8l.4 1.4zM231.9 548.6l1.4 -3.2l3.4 1.1l-.3 2.5zM223.4 545.2l.2 -1.5l1.9 .7l-1.0 1.7zM225.3 555.1l.4 -.6l1.5 .1l-.1 1.3zM144.0 506.3l-3.1 -.6l-.8 -2.0l1.6 -.3zM143.4 508.2l-1.3 1.3l-1.2 -1.4l1.4 -.6zM139.3 511.2l.2 -2.5l2.4 -.3l.3 1.2zM139.4 500.1l1.9 -2.0l2.6 -.5l-1.1 2.6zM212.3 513.7l-.4 -1.9l.3 -.6l.5 1.0zM216.9 514.9l-1.5 -2.5l.8 -1.5l2.1 1.9zM207.3 518.1l-1.6 -.7l1.2 -2.6l2.1 .6zM207.8 513.0l-1.5 -.5l-.1 -2.3l1.8 .2zM226.0 543.4l.9 -.8l1.7 -.3l-1.6 1.2zM226.6 541.2l-1.9 -.2l.1 -1.1l1.0 -.2zM226.4 538.9l1.4 -1.7l1.5 .8l-.6 1.5zM203.5 489.4l-4.5 .5l-.9 -2.1l3.7 -.9zM202.0 489.2l1.6 -.8l.6 .2l-.3 1.2zM199.4 485.3l-2.1 .2l-.8 -1.2l1.5 -.7zM213.1 514.3l.4 -1.5l2.3 -.6l-1.0 1.9zM95.0 574.1l-1.3 -5.2l4.0 -2.7l1.2 5.2zM95.3 577.1l-2.4 -.6l.7 -3.4l1.6 1.9zM102.2 568.1l-2.3 .1l-1.6 -1.4l2.7 -.5zM97.7 577.7l-.9 -1.4l.6 -.2l.8 .5zM127.7 485.0l-1.3 .4l-1.3 -1.4l1.8 -.3zM127.9 483.0l-.7 -4.2l2.5 -2.9l2.0 5.5zM129.5 492.8l-.9 -1.7l.8 -.7l1.3 .2zM256.9 537.5l-1.7 1.6l-3.0 -1.8l3.7 -1.2zM251.6 536.6l1.4 -2.7l1.8 1.4l-1.9 2.0zM131.0 511.4l-2.3 1.7l-3.7 -2.0l3.3 -.8zM126.6 513.6l-3.8 -2.0l.9 -4.6l3.4 4.4zM124.0 506.6l1.4 -1.8l1.2 .6l-1.0 1.6zM134.9 509.3l-2.6 -2.1l-.7 -1.7l2.2 .2zM123.9 514.8l-3.0 -1.0l.7 -2.7l2.1 1.0zM135.6 514.6l-3.0 -.0l.9 -1.6l1.8 .4zM257.0 517.6l-.8 -1.4l1.6 -1.5l.6 1.2zM296.6 464.5l-1.4 -.7l1.2 -1.9l1.5 1.5zM299.5 461.0l-2.0 -2.9l.4 -1.5l2.4 -.0zM290.5 464.3l.5 -1.4l2.8 1.0l-1.8 1.7zM292.3 457.9l-.9 .1l-1.0 -1.3l1.3 -.5zM288.8 469.7l.5 -1.1l.9 -.7l-.7 2.0zM300.4 460.5l1.7 -2.8l1.2 -.7l.2 2.2zM290.3 471.0l-2.0 .5l-.4 -1.0l.8 -.7zM267.3 533.8l-.7 -3.2l2.0 -.5l.4 1.8zM258.9 506.1l-.3 -3.9l.7 -1.0l1.4 1.3zM257.4 500.9l.6 -1.9l2.1 -1.2l.7 3.4zM266.3 479.4l-.8 -1.2l1.3 -1.3l.2 1.8zM268.6 483.1l-1.2 .4l-1.2 -1.1l1.0 -.5zM261.7 479.5l-2.1 -1.6l-.1 -2.9l1.5 1.5zM265.3 472.8l-1.0 -1.4l1.4 -2.6l1.0 1.2zM258.9 486.7l-.9 -.5l1.0 -2.3l1.7 1.3zM265.5 483.6l.5 -.3l1.1 .5l-.1 .5zM277.6 514.1l-.7 -2.3l1.0 -1.3l.3 2.5zM174.5 467.4l-.7 -1.3l.9 -1.3l1.0 2.1zM95.0 485.7l2.1 -.5l.4 .4l-.9 .8zM101.8 486.2l-1.1 .3l.2 -2.2l1.0 .2zM90.9 487.3l.8 -1.8l1.7 .4l.1 1.2zM101.1 490.4l-1.4 .2l-3.2 -1.7l3.3 -.3zM102.2 483.0l.8 -.5l1.7 .7l-1.4 .3zM103.6 494.5l-5.1 .5l-1.0 -3.5l4.5 .1zM86.7 477.7l1.2 -1.1l.9 .2l-1.1 1.2zM90.1 499.8l2.5 -1.0l2.4 .2l-2.1 1.6zM112.2 524.2l-.7 -5.0l4.5 .5l.7 2.6zM117.7 518.9l-4.9 .1l-2.2 -1.5l4.0 -1.8zM111.9 522.6l-5.6 1.5l-.3 -3.2l4.4 -1.4zM109.7 521.4l-1.8 .3l-1.1 -1.5l1.1 -.2zM113.9 529.0l-1.6 -1.7l.3 -2.5l2.3 1.8zM106.7 523.1l-1.5 -1.3l1.7 -1.2l1.2 2.0zM117.3 511.4l-2.8 .5l-.3 -2.6l2.9 .1zM107.8 516.7l-1.3 .5l-.9 -1.4l1.7 -.1zM170.3 472.6l-3.4 -.6l1.3 -5.9l4.2 3.4zM173.6 474.7l-3.5 .9l-3.3 -1.1l2.3 -1.7zM175.8 469.3l-2.2 -.4l.3 -2.7l1.6 1.7zM173.6 477.4l.4 -3.0l5.4 -.1l-4.1 4.6zM159.2 471.7l-.4 -1.0l1.0 -1.5l.2 2.0zM162.0 464.8l-.3 -1.9l2.2 -2.0l-.5 2.9zM219.9 538.4l.4 -1.4l1.4 -.6l.8 .9zM223.8 535.0l-1.1 .2l-1.0 -.9l1.1 -.6zM228.5 538.0l-1.5 -.8l.9 -1.0l1.1 .2zM258.3 546.3l-.8 -1.9l.6 -2.5l.8 2.0zM254.5 546.9l1.7 -1.6l1.6 -.2l-.8 1.1zM254.0 542.1l-1.7 -.7l-.2 -1.6l1.4 .4zM171.7 522.1l-1.2 1.1l-2.1 -1.4l1.6 -.9zM168.3 524.4l-1.4 -1.4l.2 -2.5l1.4 1.4zM175.6 518.7l-.1 -1.5l1.1 -1.0l.4 .8zM163.4 520.9l-.3 -1.2l1.2 -.7l.2 .6zM284.2 485.4l-4.0 -5.9l3.3 -2.4l2.8 4.6zM282.9 488.5l-1.4 -4.7l1.7 -1.1l1.7 2.6zM280.7 486.6l2.0 -1.9l2.7 .9l-1.1 .8zM286.5 487.3l-5.3 .9l-2.1 -2.7l4.5 -.5zM282.5 490.6l2.6 -1.3l.9 .3l-.4 1.4zM290.2 482.5l.8 -1.0l2.0 .5l-1.2 1.5zM176.1 473.3l-3.1 -4.5l2.7 -1.9l1.8 3.3zM171.8 469.1l.3 -1.5l1.7 -.4l-.4 1.9zM174.7 466.6l-1.2 -4.3l1.7 -2.1l1.3 3.6zM124.8 586.8l-4.6 -4.1l2.4 -1.4l3.0 1.6zM121.3 583.3l-1.3 -.5l.8 -1.9l1.0 1.7zM205.7 493.7l-1.8 .7l-.9 -1.4l1.2 -.6zM203.1 491.6l-.1 -1.6l1.1 -1.5l.2 1.8zM197.2 492.0l2.7 -2.1l1.5 -.0l-1.6 1.6zM205.3 490.5l1.4 -.8l2.4 .2l-2.8 .9zM209.2 487.8l-5.6 -.6l-.0 -1.8l3.1 .3zM199.2 493.0l-1.4 -2.3l2.1 -2.2l.2 1.8zM213.1 490.1l1.0 -2.6l3.1 1.1l.6 1.9zM208.2 483.8l-2.2 -1.5l.8 -1.1l1.9 1.7zM206.0 578.0l-.1 -4.8l2.4 -2.0l-.0 3.3zM211.9 580.1l-2.8 -.3l-1.1 -2.6l1.7 -.1zM209.4 571.6l-3.2 1.7l-.4 -2.6l3.0 -1.4zM275.1 546.8l-2.1 -3.0l1.9 -3.0l1.8 2.1zM272.8 541.4l1.4 -1.5l2.0 .8l-1.7 1.5zM115.5 496.7l-1.4 -.9l.1 -1.8l1.8 1.3zM119.3 496.9l-2.5 .4l-1.8 -1.6l2.8 .2zM112.8 495.8l-2.0 -.5l-.7 -3.0l2.1 1.5zM123.7 494.0l-1.2 -1.2l-.2 -1.5l1.3 1.3zM116.9 491.5l-2.6 .0l-.9 -2.0l3.1 .5zM111.0 499.7l.0 -1.1l1.7 -.7l-.3 1.4zM108.1 485.7l-3.6 -.2l.8 -2.8l3.4 1.5zM99.5 485.1l1.4 -4.2l2.2 -.2l-.4 2.5zM109.2 481.9l-1.4 .8l-2.1 -2.5l3.3 -.7zM106.7 477.2l1.2 -.3l1.3 .4l-1.2 1.0zM114.9 483.2l-3.3 -.4l.1 -3.4l2.1 .3zM114.4 485.7l-5.2 .5l.0 -1.5l4.4 -.9zM100.9 474.7l.8 -3.1l2.4 -2.5l.4 3.4zM101.9 493.3l-.1 -2.0l1.7 -.9l-.2 1.5zM172.2 561.0l-.7 -.9l.3 -2.1l1.3 2.1zM173.3 564.6l.6 -1.1l1.3 -1.0l-.4 1.4zM175.1 557.0l-1.3 -5.5l1.8 -1.3l3.1 3.7zM169.8 553.0l1.8 -1.2l.7 .5l-1.5 .9zM171.8 554.0l-.1 -1.4l.9 -.8l-.0 .9zM163.8 567.3l-.3 -1.0l.5 -1.5l.6 1.5zM273.9 484.1l2.0 -1.0l1.4 .3l-2.4 1.5zM275.3 481.9l-1.3 -.6l.3 -1.5l1.0 .4zM259.7 499.4l-1.4 1.0l-3.1 -.9l2.4 -1.5zM256.6 502.8l-.4 -1.3l.5 -2.0l.6 2.1zM264.0 502.3l-1.2 .1l-1.6 -1.0l1.1 -.3zM250.6 499.3l-1.9 -4.4l.2 -3.0l2.8 4.0zM250.3 495.9l.2 -1.6l4.6 -.6l-1.9 5.1zM247.8 492.9l.5 -2.5l1.9 -.0l-.2 1.7zM249.8 494.4l-3.3 -.0l-.4 -1.3l2.8 .0zM269.9 496.2l-.9 -1.7l.7 -1.1l1.6 2.0zM124.6 572.7l1.3 -2.8l3.1 .3l-2.8 2.3zM127.0 569.1l-.8 -1.2l-.6 -1.7l1.7 1.4zM129.4 568.7l-1.2 -2.4l2.0 -2.2l.9 1.3zM125.5 575.8l-2.6 -.2l1.0 -1.7l1.1 -.1zM119.0 573.8l-1.6 -.9l.7 -2.7l.9 .5zM128.7 560.9l-3.1 2.2l-3.1 -3.7l3.8 -1.5zM94.7 534.5l-2.6 1.0l-.8 -1.4l.9 -2.0zM93.0 539.5l-2.8 .6l-.5 -1.9l1.5 -.3zM89.1 534.7l-2.4 -.5l1.7 -6.0l3.5 4.9zM100.2 539.5l-1.0 1.2l-3.0 -1.1l1.9 -.8zM88.2 540.1l-2.6 -.5l4.7 -6.2l2.1 3.3zM281.5 468.1l-1.0 -1.1l.7 -1.9l.9 1.4zM285.1 466.3l-1.1 -.7l.3 -1.5l1.2 .6zM276.9 459.6l2.4 -3.2l4.6 2.0l-3.8 3.3zM285.4 461.2l-3.4 1.0l-2.9 -1.6l2.3 -.7zM237.6 584.1l-.3 -1.2l.9 -.8l.4 1.0zM242.9 584.2l-2.7 -2.4l1.2 -1.6l2.1 1.5zM243.9 582.1l-3.2 -.3l-2.3 -3.0l3.9 .2zM244.1 586.1l-1.0 -1.0l.2 -1.2l1.1 .1zM240.1 578.6l1.1 -.9l1.4 1.1l-1.9 .7zM251.5 587.7l-3.1 -.5l-.6 -2.6l2.8 1.0zM187.9 555.9l2.3 -1.4l3.7 1.1l-2.1 2.7zM195.4 554.5l-1.2 -.2l-.4 -1.6l1.5 .1zM160.9 545.3l-2.4 -.9l-.8 -5.0l2.3 2.4zM103.7 576.1l-1.3 1.1l-1.7 -4.9l2.0 -.2zM104.3 580.3l-2.8 -1.4l-.8 -1.7l2.2 .3zM102.2 568.8l1.7 -1.2l.7 .1l-.4 .9zM99.7 571.5l-2.5 -2.7l2.2 -1.3l1.4 2.7zM100.6 581.8l-1.1 -1.2l2.4 -1.6l.1 2.2zM111.8 579.1l-2.2 -.4l.2 -1.9l1.6 1.2zM105.6 583.1l-4.3 .4l-1.2 -3.0l2.7 .6zM96.6 575.6l-2.2 -2.4l.1 -2.7l2.0 .6zM186.3 569.1l-2.6 -1.3l-.4 -1.0l2.8 .7zM184.3 573.1l-.8 .3l-1.4 -1.6l2.1 .5zM185.7 563.7l-2.0 .8l-.7 -1.9l.6 -1.0zM217.9 497.4l-.3 -3.0l2.7 -1.5l1.4 2.3zM195.5 502.8l-1.5 -4.3l2.7 -1.6l1.6 3.4zM193.2 503.8l-1.3 1.0l-1.2 -.5l.8 -1.0zM130.7 570.0l-.7 -1.5l1.8 -1.6l.8 1.8zM131.2 569.7l-4.2 -1.2l1.8 -2.8l2.0 .3zM129.7 564.3l-1.4 .2l-.2 -1.3l.9 -.3zM253.8 458.9l1.2 -1.9l1.6 .5l-.5 1.7zM251.3 465.4l.6 -3.2l4.7 -2.4l-1.4 3.2zM141.2 540.3l-.2 -1.4l.8 -.8l.4 .3zM217.8 488.5l-2.7 -.4l-2.5 -4.2l3.2 .7zM214.4 492.0l-.7 -3.1l.7 -.4l1.1 1.7zM211.9 484.5l-1.8 -.1l-.1 -.6l.4 -.1zM254.1 543.0l-.8 -1.0l.5 -1.1l1.1 1.2zM252.8 541.8l-.3 -3.5l1.4 -1.4l1.7 1.2zM257.7 541.3l.3 -1.6l1.4 -.2l-.1 1.3zM274.5 505.1l-.7 -2.1l1.9 -1.5l.9 3.4zM280.6 505.3l-2.2 -.5l.6 -1.3l1.2 .1zM277.3 509.0l1.0 -1.0l1.3 .4l-1.1 1.1zM272.8 498.8l-3.7 -.1l-2.5 -1.6l3.9 -.7zM277.0 511.5l.2 -1.2l.6 -.8l.7 1.0zM265.7 508.3l-.4 -1.3l2.5 -.1l-1.2 1.7zM288.7 503.3l-1.7 -2.3l1.4 -.9l.9 1.8zM272.7 515.8l.7 -1.6l1.7 .6l-.6 1.1zM162.9 458.3l-.7 -1.5l3.5 -3.5l2.2 3.6zM173.8 457.5l-.7 -2.3l.7 -1.9l.6 2.2zM174.0 465.1l-2.1 -1.6l.5 -1.6l1.9 1.6zM165.2 464.8l.5 -1.4l.7 -.6l.0 1.3zM234.0 477.5l.2 -3.3l2.1 .4l-.9 2.8zM237.9 481.0l-1.1 -.9l.7 -2.0l1.6 .8zM236.0 483.4l-3.1 -2.7l.1 -3.4l5.0 1.9zM243.3 477.6l-2.0 -1.7l-.2 -2.9l2.2 1.8zM259.7 499.3l-2.9 .7l-2.9 -2.5l4.2 .5zM252.0 497.1l.3 -2.0l1.4 -1.9l-.3 2.2zM252.8 505.0l1.5 -1.7l.9 .7l-.4 1.3zM265.9 502.6l-1.3 .7l-1.6 -2.4l2.0 -.8zM160.7 539.1l-2.3 -2.6l.9 -2.5l2.4 .6zM160.3 532.1l-1.6 .3l-1.7 -1.0l1.2 -1.3zM162.9 536.8l-.1 -1.7l1.8 -.1l-.1 1.0zM153.7 533.7l-1.7 -1.0l.9 -2.4l1.8 1.0zM156.2 546.6l.5 -1.2l1.7 -.5l-.1 1.2zM165.2 536.3l3.0 -1.8l4.7 1.5l-3.0 3.1zM168.3 536.3l-1.9 .0l-.2 -1.9l2.1 .4zM155.8 529.6l.3 -.9l1.3 -.7l-.3 1.0zM245.8 533.2l-.1 -2.6l1.8 -.9l.2 1.6zM249.1 536.8l.1 -1.9l1.5 -.2l.3 .8zM242.3 527.8l.6 -.6l2.0 .7l-1.2 .4zM144.5 482.1l-1.6 -.3l-1.1 -1.1l2.6 .3zM138.0 478.9l.4 -1.6l2.0 -.5l-.8 1.4zM138.6 481.1l-1.2 .5l-2.3 -.8l1.5 -.6zM141.2 478.8l1.1 -3.1l5.5 -1.6l-3.0 3.6z" fill="#4c2ed2" stroke="#4c2ed2" stroke-width=".5" stroke-linejoin="round"/><path d="M256.5 520.5h1.3v1.0h-1.3zM252.1 524.3h2.3v1.8h-2.3zM252.5 492.1h1.2v0.9h-1.2zM253.4 493.2h1.3v1.0h-1.3zM252.6 488.3h1.1v0.9h-1.1zM245.5 484.3h1.1v0.9h-1.1zM174.8 481.4h1.1v0.9h-1.1zM178.9 485.8h1.6v1.3h-1.6zM177.9 490.9h1.2v1.0h-1.2zM177.9 486.1h2.0v1.6h-2.0zM228.5 540.2h1.3v1.1h-1.3zM182.9 485.0h3.0v2.4h-3.0zM263.0 495.2h1.2v1.0h-1.2zM257.8 496.3h1.6v1.3h-1.6zM265.0 490.2h1.7v1.4h-1.7zM267.0 496.5h1.9v1.5h-1.9zM260.1 502.2h1.6v1.3h-1.6zM259.9 505.6h1.2v1.0h-1.2zM261.4 559.5h2.2v1.7h-2.2zM264.2 556.6h1.5v1.2h-1.5zM182.3 459.6h1.3v1.0h-1.3zM264.1 485.5h1.2v1.0h-1.2zM272.5 488.8h2.6v2.1h-2.6zM264.9 476.5h1.6v1.3h-1.6zM212.6 479.8h2.4v1.9h-2.4zM215.7 476.8h1.8v1.4h-1.8zM214.0 476.5h3.1v2.4h-3.1zM138.7 571.0h2.3v1.8h-2.3zM136.0 570.1h1.7v1.3h-1.7zM146.0 565.7h1.2v0.9h-1.2zM237.0 575.7h1.1v0.9h-1.1zM235.4 493.7h1.8v1.4h-1.8zM232.9 490.1h2.0v1.6h-2.0zM197.4 465.8h1.1v0.9h-1.1zM203.3 462.7h2.6v2.1h-2.6zM193.9 457.7h2.3v1.8h-2.3zM277.3 527.0h1.8v1.5h-1.8zM277.2 531.3h3.2v2.6h-3.2zM184.4 485.8h2.5v2.0h-2.5zM181.8 496.7h1.3v1.1h-1.3zM178.9 500.1h1.8v1.4h-1.8zM146.1 488.2h1.1v0.9h-1.1zM283.7 460.0h1.9v1.5h-1.9zM289.0 459.0h1.6v1.3h-1.6zM276.4 457.4h1.1v0.9h-1.1zM287.2 464.5h1.2v0.9h-1.2zM190.2 570.9h2.6v2.0h-2.6zM253.0 491.7h1.3v1.0h-1.3zM255.2 521.6h1.1v0.9h-1.1zM249.4 522.7h1.8v1.4h-1.8zM243.1 528.6h2.3v1.8h-2.3zM246.7 532.0h2.3v1.8h-2.3zM221.2 531.6h1.8v1.4h-1.8zM225.5 530.7h1.3v1.1h-1.3zM160.4 577.8h1.3v1.0h-1.3zM159.5 573.9h3.1v2.4h-3.1zM163.6 571.6h1.2v1.0h-1.2zM164.5 575.4h1.6v1.3h-1.6zM260.0 496.0h1.1v0.9h-1.1zM190.8 481.2h3.2v2.6h-3.2zM196.7 483.2h1.2v0.9h-1.2zM176.9 529.2h1.2v1.0h-1.2zM174.4 533.1h1.3v1.0h-1.3zM252.3 514.7h2.1v1.7h-2.1zM224.8 522.6h1.1v0.9h-1.1zM230.2 520.9h2.7v2.1h-2.7zM197.9 543.3h1.3v1.0h-1.3zM197.2 543.6h2.1v1.7h-2.1zM201.6 549.7h1.6v1.3h-1.6zM210.9 539.6h2.0v1.6h-2.0zM200.4 548.0h1.1v0.9h-1.1zM278.2 474.6h1.2v0.9h-1.2zM274.9 472.3h1.3v1.0h-1.3zM257.2 505.1h2.6v2.1h-2.6zM229.3 501.2h2.6v2.1h-2.6zM275.4 549.3h1.1v0.9h-1.1zM271.8 549.3h1.8v1.5h-1.8zM300.7 458.9h2.0v1.6h-2.0zM295.1 461.5h1.5v1.2h-1.5zM298.5 467.5h1.1v0.9h-1.1zM115.0 554.8h1.5v1.2h-1.5zM92.7 545.2h2.7v2.2h-2.7zM231.2 509.8h2.9v2.3h-2.9zM219.2 513.0h2.8v2.2h-2.8zM227.9 504.2h1.8v1.4h-1.8zM223.6 510.8h1.3v1.0h-1.3zM261.9 559.0h1.1v0.9h-1.1zM255.2 514.1h1.6v1.2h-1.6zM259.3 518.9h1.4v1.1h-1.4zM255.3 506.9h1.7v1.3h-1.7zM129.3 551.5h3.2v2.6h-3.2zM130.9 556.3h1.4v1.1h-1.4zM127.8 548.9h1.4v1.1h-1.4zM135.9 558.2h1.3v1.0h-1.3zM241.6 505.3h1.3v1.0h-1.3zM248.5 508.2h2.1v1.7h-2.1zM235.8 532.8h2.1v1.7h-2.1zM233.7 538.1h1.4v1.1h-1.4zM270.0 463.4h2.4v1.9h-2.4zM271.7 468.2h1.1v0.9h-1.1zM264.0 468.0h2.4v1.9h-2.4zM280.6 459.8h3.2v2.5h-3.2zM265.9 456.2h3.1v2.5h-3.1zM129.5 483.2h1.3v1.0h-1.3zM129.7 487.4h1.9v1.5h-1.9zM242.8 522.0h2.3v1.8h-2.3zM245.7 516.7h2.2v1.8h-2.2zM232.0 514.7h1.1v0.9h-1.1zM186.2 479.2h3.1v2.5h-3.1zM225.7 539.7h2.9v2.3h-2.9zM221.2 541.9h1.6v1.3h-1.6zM229.7 534.9h1.3v1.1h-1.3zM217.7 535.5h2.3v1.8h-2.3zM217.6 541.3h2.2v1.8h-2.2zM232.2 535.3h1.2v0.9h-1.2zM216.0 544.3h2.9v2.3h-2.9zM223.5 528.5h1.8v1.4h-1.8zM253.4 512.4h1.3v1.1h-1.3zM295.9 530.5h2.3v1.8h-2.3zM138.6 555.8h1.7v1.4h-1.7zM136.4 556.2h1.3v1.1h-1.3zM249.4 454.9h3.3v2.6h-3.3zM253.9 457.1h3.0v2.4h-3.0zM258.1 465.0h1.4v1.1h-1.4zM264.7 501.5h2.4v1.9h-2.4zM268.9 502.6h1.2v1.0h-1.2zM220.3 467.1h1.2v1.0h-1.2zM224.5 550.8h1.7v1.3h-1.7zM227.5 550.8h1.1v0.9h-1.1zM223.8 547.0h2.7v2.2h-2.7zM237.6 545.6h1.1v0.9h-1.1zM239.1 548.0h1.3v1.0h-1.3zM234.8 542.9h1.4v1.1h-1.4zM213.1 523.4h1.2v0.9h-1.2zM213.6 518.8h1.2v0.9h-1.2zM208.4 527.7h1.8v1.4h-1.8zM255.9 579.8h1.8v1.4h-1.8zM257.9 584.1h1.9v1.5h-1.9zM257.1 583.2h2.3v1.9h-2.3zM254.2 574.8h2.2v1.8h-2.2zM264.8 585.2h2.2v1.8h-2.2zM258.3 573.9h2.8v2.3h-2.8zM249.1 582.2h2.0v1.6h-2.0zM298.0 468.5h2.0v1.6h-2.0zM296.6 471.0h2.5v2.0h-2.5zM289.7 465.3h1.1v0.9h-1.1zM287.4 473.6h2.8v2.2h-2.8zM235.1 543.0h2.0v1.6h-2.0zM196.3 547.5h2.4v1.9h-2.4zM198.2 552.7h3.1v2.5h-3.1zM201.6 550.1h1.2v0.9h-1.2zM221.3 484.1h2.7v2.2h-2.7zM179.9 472.5h2.3v1.8h-2.3zM186.0 467.8h1.8v1.5h-1.8zM179.2 467.7h1.6v1.3h-1.6zM188.0 475.9h2.0v1.6h-2.0zM128.4 490.7h2.2v1.7h-2.2zM270.0 534.5h2.4v1.9h-2.4zM167.5 504.1h1.3v1.0h-1.3zM164.6 502.9h1.6v1.3h-1.6zM163.0 506.2h2.7v2.1h-2.7zM274.2 566.3h1.6v1.2h-1.6zM264.8 562.6h2.6v2.1h-2.6zM272.6 567.1h1.4v1.1h-1.4zM160.9 541.6h2.6v2.1h-2.6zM165.5 549.8h1.3v1.0h-1.3zM186.2 527.8h1.2v0.9h-1.2zM141.0 503.2h1.5v1.2h-1.5zM132.2 501.0h2.9v2.4h-2.9zM133.0 508.1h1.4v1.1h-1.4zM137.8 513.3h1.2v0.9h-1.2zM270.5 471.9h2.0v1.6h-2.0zM115.8 546.3h1.5v1.2h-1.5zM117.6 551.1h1.7v1.3h-1.7zM121.5 543.3h1.2v0.9h-1.2zM120.8 548.5h2.3v1.8h-2.3zM112.2 552.7h3.0v2.4h-3.0zM279.5 493.2h1.2v1.0h-1.2zM282.8 493.3h1.6v1.3h-1.6zM284.9 496.7h1.3v1.0h-1.3zM271.9 488.6h2.7v2.1h-2.7zM286.1 483.2h2.4v1.9h-2.4zM289.6 489.9h1.1v0.9h-1.1zM202.4 486.7h1.7v1.4h-1.7zM139.7 505.9h1.5v1.2h-1.5zM158.3 552.3h1.4v1.1h-1.4zM167.8 543.5h2.3v1.8h-2.3zM211.6 495.4h2.2v1.7h-2.2zM212.2 504.7h1.1v0.9h-1.1zM220.1 496.1h3.1v2.4h-3.1zM207.4 499.5h1.5v1.2h-1.5zM210.7 508.4h2.9v2.3h-2.9zM266.8 494.8h1.9v1.5h-1.9zM262.7 492.4h2.8v2.2h-2.8zM271.3 492.7h1.3v1.1h-1.3zM196.4 457.6h1.9v1.5h-1.9zM212.4 497.0h1.8v1.4h-1.8zM209.7 490.7h1.3v1.0h-1.3zM284.2 505.6h3.1v2.5h-3.1zM277.9 505.9h1.3v1.1h-1.3zM287.2 513.0h1.1v0.9h-1.1zM114.3 548.7h2.2v1.7h-2.2zM114.0 551.8h2.8v2.2h-2.8zM124.5 555.2h1.3v1.0h-1.3zM124.1 549.8h1.1v0.9h-1.1zM127.3 552.1h2.0v1.6h-2.0zM204.9 535.7h1.3v1.0h-1.3zM241.5 561.5h2.2v1.7h-2.2zM243.8 565.8h3.1v2.5h-3.1zM241.9 557.8h2.4v1.9h-2.4zM246.9 567.5h1.3v1.0h-1.3zM236.2 569.5h2.9v2.3h-2.9zM243.2 567.5h1.7v1.3h-1.7zM250.4 554.3h1.1v0.9h-1.1zM147.2 493.5h1.2v0.9h-1.2zM142.1 487.1h2.2v1.8h-2.2zM143.2 488.2h1.2v0.9h-1.2zM143.0 503.0h2.7v2.1h-2.7zM111.0 496.7h1.4v1.2h-1.4zM111.8 503.4h1.3v1.1h-1.3zM290.4 575.7h2.3v1.9h-2.3zM292.0 578.0h2.6v2.1h-2.6zM208.8 473.8h1.2v1.0h-1.2zM203.7 472.1h2.7v2.1h-2.7zM284.5 475.4h1.7v1.3h-1.7zM281.1 475.6h1.2v0.9h-1.2zM283.7 476.5h1.8v1.5h-1.8zM101.9 565.4h1.7v1.4h-1.7zM101.0 568.1h1.1v0.9h-1.1zM98.1 566.5h3.2v2.6h-3.2zM164.2 516.6h2.6v2.1h-2.6zM241.4 562.3h1.3v1.0h-1.3zM240.8 566.7h2.3v1.9h-2.3zM126.5 477.8h1.5v1.2h-1.5zM125.9 481.6h1.3v1.1h-1.3zM122.2 480.5h1.4v1.1h-1.4zM207.6 531.4h2.1v1.6h-2.1zM202.3 528.4h1.8v1.4h-1.8zM209.8 521.4h1.2v1.0h-1.2zM252.5 522.5h1.1v0.9h-1.1zM248.7 523.5h1.2v1.0h-1.2zM139.1 508.4h2.0v1.6h-2.0zM227.5 460.3h1.1v0.9h-1.1zM219.9 457.7h2.5v2.0h-2.5zM237.3 461.6h1.1v0.9h-1.1zM233.4 469.8h1.5v1.2h-1.5zM237.0 519.3h2.6v2.1h-2.6zM231.1 515.8h1.7v1.3h-1.7zM274.0 477.6h2.5v2.0h-2.5zM250.9 559.3h2.4v1.9h-2.4zM250.2 556.3h1.2v0.9h-1.2zM247.5 563.6h1.8v1.5h-1.8zM255.8 558.6h1.3v1.0h-1.3zM257.2 559.3h1.1v0.9h-1.1zM260.1 551.7h2.4v1.9h-2.4zM259.4 546.8h1.2v1.0h-1.2zM253.4 554.4h1.6v1.3h-1.6zM257.3 550.0h1.1v0.9h-1.1zM267.9 558.4h1.9v1.5h-1.9zM264.0 548.6h2.4v1.9h-2.4zM196.3 530.8h1.4v1.2h-1.4zM200.0 528.9h3.3v2.6h-3.3zM193.0 526.4h2.9v2.3h-2.9zM190.4 525.8h1.2v0.9h-1.2zM190.5 540.2h1.8v1.5h-1.8zM206.5 533.9h1.3v1.0h-1.3zM159.1 472.1h1.2v0.9h-1.2zM158.2 464.1h2.4v1.9h-2.4zM248.8 517.3h3.3v2.6h-3.3zM252.7 522.4h1.5v1.2h-1.5zM239.9 522.7h1.4v1.1h-1.4zM241.7 516.1h2.7v2.1h-2.7zM186.1 493.8h1.3v1.0h-1.3zM267.4 527.4h1.6v1.3h-1.6zM256.4 520.8h1.7v1.4h-1.7zM249.3 532.1h1.2v0.9h-1.2zM254.7 514.5h2.8v2.2h-2.8zM232.1 465.6h1.4v1.1h-1.4zM239.6 454.7h2.8v2.3h-2.8zM115.9 457.7h1.2v1.0h-1.2zM224.8 484.7h2.0v1.6h-2.0zM271.8 460.5h2.1v1.7h-2.1zM266.1 452.6h3.1v2.5h-3.1zM278.4 461.8h1.4v1.1h-1.4zM281.0 459.9h1.3v1.1h-1.3zM270.6 504.1h1.6v1.3h-1.6zM268.8 505.3h1.2v0.9h-1.2zM261.9 503.5h2.6v2.1h-2.6zM202.2 490.1h1.8v1.4h-1.8zM206.6 485.8h1.9v1.5h-1.9zM248.1 497.5h2.6v2.1h-2.6zM245.9 499.4h1.3v1.1h-1.3zM257.4 497.9h1.1v0.9h-1.1zM187.1 486.2h1.6v1.2h-1.6zM178.4 492.9h2.4v1.9h-2.4zM180.5 489.2h2.1v1.7h-2.1zM179.9 481.8h1.3v1.0h-1.3zM193.1 491.1h1.2v0.9h-1.2zM196.8 489.1h1.4v1.2h-1.4zM180.5 477.3h2.2v1.7h-2.2zM124.7 493.8h1.4v1.1h-1.4zM129.3 493.5h1.2v1.0h-1.2zM253.7 565.1h1.6v1.3h-1.6zM251.7 559.8h1.3v1.0h-1.3zM253.7 571.6h1.3v1.1h-1.3zM255.8 573.3h3.2v2.6h-3.2zM205.4 485.0h1.9v1.6h-1.9zM224.8 563.3h1.8v1.5h-1.8zM222.9 567.8h1.5v1.2h-1.5zM226.1 559.5h1.2v1.0h-1.2zM207.5 573.1h1.7v1.4h-1.7zM206.1 574.9h1.2v0.9h-1.2zM211.9 569.8h1.2v0.9h-1.2zM202.4 579.8h1.1v0.9h-1.1zM201.8 568.0h1.6v1.3h-1.6zM259.2 463.4h1.5v1.2h-1.5zM215.5 565.7h1.9v1.5h-1.9zM219.1 569.8h1.2v0.9h-1.2zM230.2 564.1h1.4v1.1h-1.4zM120.4 535.6h1.3v1.0h-1.3zM119.1 537.1h3.2v2.5h-3.2zM123.8 532.8h1.4v1.1h-1.4zM172.6 519.9h1.1v0.9h-1.1zM167.9 515.2h2.3v1.8h-2.3zM165.6 513.1h2.2v1.8h-2.2zM166.1 513.5h1.5v1.2h-1.5zM199.9 485.5h1.1v0.9h-1.1zM204.8 473.9h2.4v1.9h-2.4zM143.7 528.1h2.2v1.8h-2.2zM175.7 467.3h1.1v0.9h-1.1zM172.8 457.7h3.0v2.4h-3.0zM177.1 467.0h1.5v1.2h-1.5zM180.0 457.3h1.2v0.9h-1.2zM202.9 517.8h3.3v2.6h-3.3zM198.4 516.0h1.1v0.9h-1.1zM106.6 502.2h1.2v0.9h-1.2zM100.5 507.1h3.1v2.5h-3.1zM116.6 500.5h1.1v0.9h-1.1zM111.9 495.3h1.8v1.4h-1.8zM214.5 514.1h1.4v1.1h-1.4zM213.3 507.1h1.6v1.3h-1.6zM220.5 535.8h2.0v1.6h-2.0zM220.4 542.3h3.1v2.5h-3.1zM230.8 547.0h1.6v1.3h-1.6zM230.1 548.2h1.2v1.0h-1.2zM217.1 541.6h2.7v2.2h-2.7zM232.0 557.4h2.3v1.8h-2.3zM219.4 544.0h1.1v0.9h-1.1zM192.1 486.9h1.1v0.9h-1.1zM189.1 486.8h1.3v1.1h-1.3zM185.8 490.4h1.2v0.9h-1.2zM196.8 484.6h1.8v1.4h-1.8zM198.9 478.6h2.1v1.7h-2.1zM297.5 530.8h1.6v1.3h-1.6zM297.6 535.2h2.8v2.2h-2.8zM189.1 555.4h1.7v1.4h-1.7zM244.9 520.1h2.1v1.7h-2.1zM269.0 475.9h2.4v2.0h-2.4zM238.6 575.9h1.7v1.4h-1.7zM236.4 576.8h2.3v1.9h-2.3zM243.1 570.6h1.2v1.0h-1.2zM231.6 581.8h1.8v1.5h-1.8zM229.8 577.7h1.2v0.9h-1.2zM246.4 568.3h1.6v1.3h-1.6zM243.7 579.3h2.1v1.7h-2.1zM229.5 567.7h2.6v2.1h-2.6zM242.6 576.3h2.1v1.7h-2.1zM228.9 543.0h1.2v1.0h-1.2zM224.9 539.2h2.4v1.9h-2.4zM212.4 474.3h2.9v2.3h-2.9zM210.6 472.8h2.6v2.1h-2.6zM211.6 482.7h3.1v2.5h-3.1zM222.4 495.0h1.2v1.0h-1.2zM230.4 505.6h1.4v1.1h-1.4zM218.7 498.0h1.6v1.3h-1.6zM258.8 491.9h3.0v2.4h-3.0zM259.0 490.3h1.3v1.0h-1.3zM263.7 498.9h1.8v1.4h-1.8zM264.2 500.7h2.3v1.9h-2.3zM239.2 552.5h1.1v0.9h-1.1zM107.4 541.9h2.4v1.9h-2.4zM114.1 546.6h1.2v0.9h-1.2zM133.4 488.2h1.7v1.4h-1.7zM286.6 468.5h1.1v0.9h-1.1zM283.1 467.8h1.3v1.1h-1.3zM286.9 472.4h1.7v1.4h-1.7zM290.6 466.1h3.2v2.6h-3.2zM283.8 463.0h1.2v0.9h-1.2zM264.0 458.8h1.5v1.2h-1.5zM295.7 460.4h1.6v1.3h-1.6zM292.4 464.3h2.7v2.2h-2.7zM299.7 461.0h2.0v1.6h-2.0zM292.7 453.7h1.2v0.9h-1.2zM285.7 462.2h1.2v1.0h-1.2zM224.9 510.5h1.5v1.2h-1.5zM227.8 514.8h2.0v1.6h-2.0zM234.9 509.9h1.2v0.9h-1.2zM241.2 463.1h2.8v2.3h-2.8zM242.3 458.7h2.4v2.0h-2.4zM237.6 468.0h1.9v1.6h-1.9zM243.4 473.7h1.5v1.2h-1.5zM240.6 472.1h1.2v0.9h-1.2zM286.2 475.7h1.2v0.9h-1.2zM287.3 478.3h1.7v1.3h-1.7zM284.9 481.3h1.1v0.9h-1.1zM221.1 464.7h1.7v1.3h-1.7zM224.9 468.7h1.3v1.0h-1.3zM227.4 462.5h2.2v1.8h-2.2zM155.0 544.8h2.2v1.8h-2.2zM155.0 540.3h1.1v0.9h-1.1zM256.5 494.3h1.2v0.9h-1.2zM261.6 497.1h2.8v2.2h-2.8zM252.4 487.0h2.1v1.7h-2.1zM224.0 530.9h1.7v1.4h-1.7zM228.3 533.0h1.8v1.4h-1.8zM221.5 529.1h1.2v0.9h-1.2zM221.9 536.8h3.1v2.5h-3.1zM216.9 528.9h1.5v1.2h-1.5zM266.4 582.3h3.2v2.5h-3.2zM264.0 582.7h1.5v1.2h-1.5zM260.3 584.6h1.9v1.5h-1.9zM260.9 471.1h1.2v1.0h-1.2zM295.0 462.7h1.9v1.6h-1.9zM289.4 466.4h1.5v1.2h-1.5zM293.6 457.9h1.4v1.1h-1.4zM265.1 569.7h1.1v0.9h-1.1zM267.5 565.0h1.1v0.9h-1.1zM267.6 574.1h2.4v1.9h-2.4zM126.3 483.4h1.1v0.9h-1.1zM128.8 481.0h2.3v1.8h-2.3zM118.7 483.1h1.3v1.0h-1.3zM127.9 473.8h2.0v1.6h-2.0zM116.3 486.1h1.8v1.4h-1.8zM161.2 532.2h2.2v1.8h-2.2zM170.5 533.0h1.2v0.9h-1.2zM180.4 460.3h2.6v2.1h-2.6zM185.3 455.3h1.3v1.1h-1.3zM180.1 462.2h3.1v2.5h-3.1zM243.2 565.3h3.2v2.6h-3.2zM267.8 536.6h1.1v0.9h-1.1zM265.7 537.3h1.2v1.0h-1.2zM282.5 523.0h1.4v1.1h-1.4zM283.9 523.6h3.2v2.5h-3.2zM289.6 521.2h2.2v1.8h-2.2zM288.6 529.5h1.2v1.0h-1.2zM290.5 519.1h1.1v0.9h-1.1zM287.6 513.7h2.2v1.8h-2.2zM272.0 521.2h1.3v1.0h-1.3zM293.1 529.0h2.7v2.2h-2.7zM187.6 509.6h3.1v2.5h-3.1zM184.5 510.9h2.2v1.8h-2.2zM176.8 507.5h1.5v1.2h-1.5zM248.6 544.6h1.2v0.9h-1.2zM242.1 540.2h1.8v1.4h-1.8zM250.9 547.1h1.2v1.0h-1.2zM252.2 541.9h1.1v0.9h-1.1zM244.9 536.4h1.1v0.9h-1.1zM234.8 559.7h2.9v2.3h-2.9zM239.5 565.3h1.7v1.4h-1.7zM279.6 525.9h2.3v1.8h-2.3zM280.2 524.0h1.1v0.9h-1.1zM230.0 475.6h1.2v1.0h-1.2zM227.8 475.5h1.2v1.0h-1.2zM231.1 471.4h2.7v2.2h-2.7zM234.4 475.5h1.3v1.0h-1.3zM219.1 469.2h2.1v1.7h-2.1zM216.0 475.9h1.2v0.9h-1.2zM186.0 526.4h2.3v1.8h-2.3zM190.0 528.7h1.9v1.6h-1.9zM179.3 525.7h1.4v1.1h-1.4zM189.1 530.3h1.3v1.0h-1.3zM175.5 530.1h1.1v0.9h-1.1zM198.3 517.9h1.5v1.2h-1.5zM225.5 543.8h2.0v1.6h-2.0zM236.9 551.1h1.4v1.1h-1.4zM245.7 581.0h1.7v1.4h-1.7zM246.4 576.1h2.9v2.4h-2.9zM248.6 574.4h2.5v2.0h-2.5zM199.3 459.5h1.2v0.9h-1.2zM198.9 461.9h1.2v0.9h-1.2zM201.6 456.3h1.8v1.5h-1.8zM202.2 452.7h3.2v2.6h-3.2zM219.5 538.3h1.3v1.0h-1.3zM220.7 542.4h1.1v0.9h-1.1zM216.0 534.9h1.2v1.0h-1.2zM225.8 535.8h2.3v1.9h-2.3zM104.8 543.6h2.4v1.9h-2.4zM150.7 522.0h1.2v1.0h-1.2zM153.0 525.0h1.2v0.9h-1.2zM156.5 519.7h1.3v1.1h-1.3zM149.1 531.1h2.2v1.8h-2.2zM156.5 516.2h2.6v2.1h-2.6zM143.0 532.3h2.1v1.7h-2.1zM241.5 521.6h3.2v2.5h-3.2zM236.8 526.4h1.2v1.0h-1.2zM235.6 526.9h1.2v1.0h-1.2zM254.3 523.9h3.1v2.5h-3.1zM238.7 533.0h2.4v1.9h-2.4zM194.6 464.8h1.2v0.9h-1.2zM197.2 467.1h1.6v1.3h-1.6zM196.8 466.8h3.2v2.5h-3.2zM196.4 472.6h2.7v2.1h-2.7zM300.5 474.0h1.3v1.1h-1.3zM98.8 539.0h1.4v1.1h-1.4zM199.4 480.0h1.5v1.2h-1.5zM198.2 476.6h1.2v0.9h-1.2zM266.4 552.0h2.3v1.8h-2.3zM264.2 549.5h1.1v0.9h-1.1zM259.6 553.5h1.4v1.1h-1.4zM262.9 560.4h1.4v1.1h-1.4zM260.4 551.0h2.2v1.7h-2.2zM164.3 518.1h1.1v0.9h-1.1zM261.4 512.9h2.9v2.3h-2.9zM261.0 510.3h1.2v1.0h-1.2zM256.9 510.4h2.7v2.1h-2.7zM268.2 506.5h1.5v1.2h-1.5zM256.2 522.2h1.7v1.4h-1.7zM273.0 508.8h1.3v1.1h-1.3zM271.4 506.0h1.9v1.5h-1.9zM276.2 511.6h1.5v1.2h-1.5zM251.8 473.1h1.2v0.9h-1.2zM252.0 465.4h1.3v1.1h-1.3zM260.5 475.4h1.5v1.2h-1.5zM192.2 541.0h3.1v2.5h-3.1zM190.3 543.7h1.1v0.9h-1.1zM197.4 540.4h3.2v2.5h-3.2zM193.6 545.9h1.1v0.9h-1.1zM105.4 526.8h2.4v1.9h-2.4zM106.9 522.0h1.3v1.0h-1.3zM103.2 529.7h1.7v1.3h-1.7zM100.0 525.2h2.4v1.9h-2.4zM95.6 525.4h3.1v2.5h-3.1zM102.0 518.0h2.2v1.8h-2.2zM106.0 541.3h1.5v1.2h-1.5zM242.0 474.8h3.0v2.4h-3.0zM242.9 478.5h1.3v1.0h-1.3zM246.3 476.6h1.2v1.0h-1.2zM251.2 471.0h1.2v0.9h-1.2zM155.3 578.7h2.0v1.6h-2.0zM152.4 578.1h3.2v2.6h-3.2zM161.3 582.1h1.5v1.2h-1.5zM154.8 583.5h1.1v0.9h-1.1zM217.5 474.4h1.3v1.0h-1.3zM227.8 473.4h1.5v1.2h-1.5zM228.2 478.4h2.2v1.7h-2.2zM262.8 547.6h2.2v1.8h-2.2zM268.2 529.8h1.6v1.3h-1.6zM271.2 530.0h3.0v2.4h-3.0zM249.1 578.6h2.9v2.3h-2.9zM241.9 576.4h2.4v1.9h-2.4zM248.9 584.2h1.4v1.1h-1.4zM234.0 491.4h2.8v2.2h-2.8zM237.9 495.3h1.2v1.0h-1.2zM223.1 538.5h1.6v1.2h-1.6zM107.4 514.3h1.6v1.3h-1.6zM104.7 518.8h1.5v1.2h-1.5zM108.6 510.3h1.9v1.5h-1.9zM103.0 522.4h1.3v1.1h-1.3zM110.7 519.5h1.6v1.3h-1.6zM101.5 523.3h1.1v0.9h-1.1zM113.6 509.9h2.6v2.0h-2.6zM154.5 523.2h2.0v1.6h-2.0zM291.8 466.7h1.3v1.0h-1.3zM287.9 467.6h2.5v2.0h-2.5zM285.9 468.6h1.3v1.0h-1.3zM289.8 462.0h1.4v1.1h-1.4zM296.1 472.7h1.1v0.9h-1.1zM235.2 578.6h1.3v1.0h-1.3zM241.3 520.9h1.3v1.1h-1.3zM194.3 548.8h2.8v2.2h-2.8zM199.1 549.2h1.2v1.0h-1.2zM194.5 542.2h1.6v1.3h-1.6zM189.3 547.7h2.9v2.3h-2.9zM195.1 541.8h2.5v2.0h-2.5zM206.9 545.8h2.7v2.2h-2.7zM133.5 536.5h2.7v2.2h-2.7zM131.4 540.0h2.1v1.7h-2.1zM137.8 538.9h2.3v1.9h-2.3zM143.4 540.3h1.4v1.1h-1.4zM130.1 546.8h1.8v1.4h-1.8zM258.8 513.3h2.6v2.1h-2.6zM259.2 521.4h1.3v1.1h-1.3zM249.4 516.3h1.3v1.0h-1.3zM263.3 517.0h1.9v1.5h-1.9zM226.1 504.2h2.7v2.2h-2.7zM226.3 500.8h1.3v1.0h-1.3zM218.2 507.9h1.1v0.9h-1.1zM223.6 500.5h1.4v1.1h-1.4zM223.2 529.8h1.2v0.9h-1.2zM247.1 530.3h3.1v2.5h-3.1zM243.4 529.2h1.3v1.1h-1.3zM237.1 537.7h1.6v1.3h-1.6zM237.7 535.2h3.2v2.6h-3.2zM107.4 529.0h1.4v1.2h-1.4zM105.1 531.5h1.8v1.4h-1.8zM223.3 558.1h1.6v1.3h-1.6zM237.5 498.7h1.6v1.3h-1.6zM242.2 500.7h2.0v1.6h-2.0zM246.2 496.8h1.1v0.9h-1.1zM231.3 499.7h1.3v1.0h-1.3zM230.9 494.4h1.2v0.9h-1.2zM230.6 507.2h2.4v1.9h-2.4zM262.7 512.1h1.1v0.9h-1.1zM267.1 513.5h2.1v1.7h-2.1zM155.7 554.4h1.3v1.1h-1.3zM144.6 562.9h2.8v2.2h-2.8zM153.9 556.8h1.2v1.0h-1.2zM139.4 551.8h2.7v2.1h-2.7zM258.4 498.5h2.3v1.8h-2.3zM256.9 500.5h2.2v1.8h-2.2zM253.8 496.3h1.2v0.9h-1.2zM213.6 471.2h1.2v1.0h-1.2zM213.7 474.2h1.6v1.3h-1.6zM245.6 504.3h1.2v1.0h-1.2zM248.0 499.7h1.7v1.4h-1.7zM241.6 502.2h1.5v1.2h-1.5zM140.1 506.5h1.9v1.5h-1.9zM149.1 472.6h1.5v1.2h-1.5zM152.7 474.1h1.2v1.0h-1.2zM153.5 477.8h1.2v0.9h-1.2zM104.9 520.7h2.7v2.2h-2.7zM105.8 516.9h1.4v1.1h-1.4zM111.6 520.1h1.4v1.1h-1.4zM104.6 526.5h2.2v1.7h-2.2zM103.9 511.0h2.0v1.6h-2.0zM270.8 499.6h2.1v1.7h-2.1zM244.0 500.4h2.2v1.7h-2.2zM241.6 495.9h1.6v1.3h-1.6zM247.6 498.0h1.4v1.1h-1.4zM179.3 475.4h1.2v1.0h-1.2zM175.6 474.6h1.1v0.9h-1.1zM181.3 478.2h1.2v0.9h-1.2zM181.7 470.6h1.7v1.4h-1.7zM170.6 464.4h2.3v1.9h-2.3zM178.3 487.4h1.1v0.9h-1.1zM191.4 473.1h2.5v2.0h-2.5zM228.0 561.7h1.1v0.9h-1.1zM249.0 503.1h1.3v1.1h-1.3zM243.9 502.6h3.2v2.6h-3.2zM233.9 522.3h2.9v2.4h-2.9zM231.6 521.7h2.1v1.7h-2.1zM234.7 517.0h1.4v1.1h-1.4zM198.5 505.0h1.9v1.6h-1.9zM199.0 508.4h2.6v2.1h-2.6zM273.3 542.5h1.3v1.0h-1.3zM269.4 543.1h1.3v1.1h-1.3zM191.3 496.7h1.5v1.2h-1.5zM263.0 481.4h1.2v1.0h-1.2zM266.4 482.0h1.2v0.9h-1.2zM257.9 486.9h1.1v0.9h-1.1zM266.3 484.4h2.6v2.1h-2.6zM267.8 478.4h1.1v0.9h-1.1zM113.8 574.3h1.4v1.1h-1.4zM114.4 567.4h1.2v0.9h-1.2zM112.4 571.9h1.6v1.3h-1.6zM285.2 461.7h1.9v1.5h-1.9zM136.9 475.1h1.9v1.5h-1.9zM228.4 549.2h1.6v1.3h-1.6zM97.6 552.6h1.1v0.9h-1.1zM99.7 556.0h1.2v1.0h-1.2zM93.1 554.6h1.4v1.1h-1.4zM91.7 546.1h1.8v1.4h-1.8zM94.3 562.8h1.8v1.4h-1.8zM88.7 554.6h1.5v1.2h-1.5zM86.9 556.3h2.3v1.8h-2.3zM219.4 488.0h2.1v1.7h-2.1zM222.7 484.8h1.4v1.1h-1.4zM222.2 481.7h3.2v2.5h-3.2zM211.4 485.1h1.6v1.3h-1.6zM171.2 495.5h1.7v1.3h-1.7zM160.8 494.9h1.3v1.1h-1.3zM171.5 487.7h2.3v1.9h-2.3zM240.7 561.9h1.9v1.5h-1.9zM222.1 550.2h1.2v0.9h-1.2zM220.4 553.7h1.7v1.4h-1.7zM215.1 540.6h1.8v1.4h-1.8zM219.9 545.1h1.5v1.2h-1.5zM120.4 524.6h2.0v1.6h-2.0zM121.1 520.8h1.1v0.9h-1.1zM130.4 518.5h2.7v2.2h-2.7zM237.2 508.4h1.8v1.4h-1.8zM238.7 519.9h1.1v0.9h-1.1zM224.0 510.6h1.3v1.0h-1.3zM224.9 516.2h2.0v1.6h-2.0zM229.3 561.0h1.4v1.1h-1.4zM226.5 561.3h1.2v1.0h-1.2zM130.3 553.0h2.2v1.8h-2.2zM128.2 559.2h1.2v1.0h-1.2zM134.5 547.7h1.7v1.3h-1.7zM126.0 565.8h1.2v1.0h-1.2zM151.4 528.7h2.9v2.3h-2.9zM127.0 531.0h1.1v0.9h-1.1zM184.9 563.2h1.3v1.1h-1.3zM189.4 563.7h1.1v0.9h-1.1zM187.1 577.6h1.2v0.9h-1.2zM188.7 577.9h2.7v2.1h-2.7zM226.6 472.1h1.2v0.9h-1.2zM261.4 523.9h1.1v0.9h-1.1zM288.9 466.9h3.2v2.6h-3.2zM295.6 464.6h1.2v1.0h-1.2zM231.6 508.3h1.2v1.0h-1.2zM229.6 511.1h1.1v0.9h-1.1zM234.1 503.1h1.1v0.9h-1.1zM224.1 506.6h1.2v1.0h-1.2zM109.0 496.2h2.4v1.9h-2.4zM214.5 510.5h3.1v2.5h-3.1zM221.0 505.7h3.3v2.6h-3.3zM243.8 537.4h1.3v1.0h-1.3zM242.7 531.9h3.0v2.4h-3.0zM274.7 488.3h2.3v1.8h-2.3zM273.7 491.1h1.1v0.9h-1.1zM274.1 493.6h1.4v1.2h-1.4zM118.9 538.7h2.6v2.1h-2.6zM112.9 532.4h3.0v2.4h-3.0zM113.6 540.8h1.7v1.4h-1.7zM133.3 525.4h2.0v1.6h-2.0zM128.0 523.6h3.3v2.6h-3.3zM194.6 502.4h2.1v1.7h-2.1zM195.9 498.2h2.4v1.9h-2.4zM188.1 500.9h1.3v1.1h-1.3zM193.7 514.5h2.5v2.0h-2.5zM241.2 533.3h1.3v1.1h-1.3zM240.1 534.7h1.3v1.0h-1.3zM185.6 505.7h2.9v2.4h-2.9zM185.6 511.3h2.8v2.2h-2.8zM176.7 503.5h1.9v1.5h-1.9zM294.1 523.5h1.3v1.0h-1.3zM299.3 525.0h1.2v0.9h-1.2zM295.7 518.8h1.5v1.2h-1.5zM290.0 522.7h1.7v1.3h-1.7zM245.1 520.5h1.2v1.0h-1.2zM239.4 524.4h2.1v1.7h-2.1zM244.1 515.7h1.1v0.9h-1.1zM215.3 539.8h1.3v1.1h-1.3zM218.8 542.7h1.1v0.9h-1.1zM215.1 544.2h1.7v1.4h-1.7zM208.1 478.9h1.3v1.0h-1.3zM229.0 580.8h1.5v1.2h-1.5zM227.9 578.1h1.3v1.0h-1.3zM229.9 576.1h1.2v0.9h-1.2zM179.0 473.4h3.1v2.5h-3.1zM128.3 550.4h1.8v1.5h-1.8zM130.1 546.6h1.4v1.1h-1.4zM131.9 546.6h1.3v1.1h-1.3zM128.4 554.8h2.2v1.7h-2.2zM136.3 545.2h1.2v0.9h-1.2zM206.7 486.4h2.3v1.9h-2.3zM212.1 485.0h1.2v1.0h-1.2zM207.9 495.3h1.1v0.9h-1.1zM211.4 493.0h2.6v2.1h-2.6zM210.7 494.4h1.2v1.0h-1.2zM216.4 495.1h2.7v2.2h-2.7zM264.2 496.4h3.1v2.4h-3.1zM196.2 467.7h1.2v1.0h-1.2zM202.9 472.1h1.1v0.9h-1.1zM202.9 469.2h3.2v2.6h-3.2zM205.5 465.8h1.4v1.1h-1.4zM199.9 463.5h1.6v1.3h-1.6zM265.5 473.5h2.5v2.0h-2.5zM264.1 480.0h1.5v1.2h-1.5zM262.7 482.2h1.6v1.3h-1.6zM270.3 479.6h1.1v0.9h-1.1zM144.8 498.5h1.2v1.0h-1.2zM139.1 498.6h2.4v1.9h-2.4zM143.6 493.1h1.2v0.9h-1.2zM139.7 501.9h1.1v0.9h-1.1zM231.4 470.8h1.2v0.9h-1.2zM235.5 474.7h1.1v0.9h-1.1zM237.5 477.2h1.8v1.5h-1.8zM273.2 456.3h1.9v1.6h-1.9zM266.5 463.1h2.1v1.7h-2.1zM272.8 461.4h3.3v2.6h-3.3zM267.4 453.0h2.3v1.8h-2.3zM282.7 460.6h1.2v0.9h-1.2zM260.3 458.7h1.5v1.2h-1.5zM274.2 470.8h1.7v1.3h-1.7zM236.9 506.6h2.6v2.1h-2.6zM187.2 558.7h2.9v2.3h-2.9zM195.7 563.4h1.4v1.2h-1.4zM214.5 553.2h2.1v1.7h-2.1zM215.3 557.2h2.1v1.7h-2.1zM207.8 550.5h1.7v1.4h-1.7zM266.6 469.6h1.2v1.0h-1.2zM270.3 478.4h2.0v1.6h-2.0zM175.2 506.1h1.8v1.4h-1.8zM171.1 509.5h1.5v1.2h-1.5zM237.4 504.7h3.1v2.5h-3.1zM242.8 498.5h1.2v0.9h-1.2zM246.6 509.7h2.4v1.9h-2.4zM110.3 510.6h3.2v2.6h-3.2zM114.4 510.3h1.6v1.3h-1.6zM111.6 504.5h1.3v1.1h-1.3zM109.4 518.7h2.1v1.7h-2.1zM108.9 517.8h2.6v2.1h-2.6zM118.9 512.2h1.6v1.3h-1.6zM122.1 504.0h2.2v1.7h-2.2zM232.5 537.9h1.8v1.4h-1.8zM236.3 535.4h2.4v1.9h-2.4zM230.8 531.1h3.2v2.6h-3.2zM239.6 542.2h3.2v2.6h-3.2zM224.8 541.9h1.9v1.5h-1.9zM272.1 487.7h1.4v1.1h-1.4zM267.3 493.5h2.6v2.1h-2.6zM273.9 492.5h1.2v0.9h-1.2zM106.9 488.1h1.7v1.4h-1.7zM107.2 491.2h1.9v1.5h-1.9zM217.6 554.8h3.1v2.5h-3.1zM222.5 558.9h1.2v0.9h-1.2zM220.3 562.1h1.1v0.9h-1.1zM217.1 549.3h1.1v0.9h-1.1zM179.5 480.7h3.1v2.4h-3.1zM176.5 481.4h1.1v0.9h-1.1zM177.1 488.4h2.9v2.3h-2.9zM238.1 507.3h1.4v1.1h-1.4zM240.2 512.1h1.5v1.2h-1.5zM229.6 506.7h2.6v2.0h-2.6zM236.9 501.0h1.1v0.9h-1.1zM222.8 498.3h1.3v1.1h-1.3zM209.9 504.6h1.1v0.9h-1.1zM214.2 500.3h1.3v1.0h-1.3zM130.0 465.7h3.0v2.4h-3.0zM118.3 515.2h2.9v2.4h-2.9zM120.1 518.6h3.0v2.4h-3.0zM118.9 522.0h1.2v1.0h-1.2zM113.8 521.1h2.4v1.9h-2.4zM121.7 503.6h2.3v1.9h-2.3zM286.1 505.9h1.2v1.0h-1.2zM286.0 499.6h2.1v1.7h-2.1zM279.2 533.0h1.8v1.5h-1.8zM267.4 535.6h2.9v2.3h-2.9zM147.4 486.9h1.6v1.3h-1.6zM142.5 484.8h1.9v1.5h-1.9zM209.0 534.9h3.2v2.6h-3.2zM206.6 532.4h1.6v1.3h-1.6zM213.2 540.5h2.3v1.8h-2.3zM97.0 498.8h2.1v1.7h-2.1zM100.9 499.8h3.3v2.6h-3.3zM144.7 472.0h1.2v0.9h-1.2zM139.7 476.0h1.1v0.9h-1.1zM139.9 466.9h1.3v1.1h-1.3zM151.9 475.4h1.1v0.9h-1.1zM152.2 476.8h2.0v1.6h-2.0zM153.9 475.1h2.6v2.1h-2.6zM187.1 482.1h1.3v1.1h-1.3zM194.5 473.6h3.0v2.4h-3.0zM201.6 468.4h3.1v2.5h-3.1zM191.4 466.2h3.0v2.4h-3.0zM192.4 482.0h1.5v1.2h-1.5zM203.5 469.3h1.8v1.5h-1.8zM208.1 473.4h1.4v1.1h-1.4zM211.6 474.0h1.2v1.0h-1.2zM203.1 491.6h1.2v1.0h-1.2zM206.7 491.5h1.2v0.9h-1.2zM230.1 534.9h1.1v0.9h-1.1zM245.1 499.0h1.6v1.3h-1.6zM242.0 492.4h1.3v1.0h-1.3zM204.2 472.1h2.0v1.6h-2.0zM204.2 470.2h1.1v0.9h-1.1zM200.1 471.2h2.0v1.6h-2.0zM257.9 531.1h1.2v0.9h-1.2zM261.5 536.4h1.3v1.0h-1.3zM257.4 537.4h1.3v1.0h-1.3zM129.3 462.0h2.7v2.1h-2.7zM135.0 467.8h1.1v0.9h-1.1zM125.4 470.4h2.6v2.0h-2.6zM124.1 453.6h1.1v0.9h-1.1zM128.8 471.8h1.4v1.1h-1.4zM254.7 497.0h2.9v2.3h-2.9zM260.3 503.5h1.2v1.0h-1.2zM118.7 563.4h1.2v0.9h-1.2zM125.9 562.4h1.3v1.1h-1.3zM114.8 555.3h1.1v0.9h-1.1zM171.6 483.2h1.9v1.5h-1.9zM139.3 488.9h1.7v1.4h-1.7zM132.1 571.0h2.4v1.9h-2.4zM233.0 518.1h1.3v1.0h-1.3zM227.1 521.6h1.5v1.2h-1.5zM153.2 580.2h1.4v1.1h-1.4zM156.4 581.4h1.2v1.0h-1.2zM92.2 552.9h1.4v1.1h-1.4zM101.3 577.4h1.1v0.9h-1.1zM195.2 519.6h1.9v1.5h-1.9zM185.8 513.8h3.2v2.5h-3.2zM198.3 515.8h1.2v1.0h-1.2zM185.7 511.7h1.5v1.2h-1.5zM227.8 478.1h1.1v0.9h-1.1zM229.9 475.4h2.4v1.9h-2.4zM258.8 533.2h1.7v1.3h-1.7zM260.4 529.7h2.5v2.0h-2.5zM262.6 529.0h3.2v2.6h-3.2zM155.2 490.5h1.1v0.9h-1.1zM153.6 492.8h1.2v0.9h-1.2zM154.3 484.2h2.3v1.9h-2.3zM257.4 532.4h1.1v0.9h-1.1zM230.9 563.2h1.4v1.1h-1.4zM236.2 563.1h1.4v1.1h-1.4zM236.1 562.5h3.1v2.5h-3.1zM231.8 569.4h1.4v1.1h-1.4zM243.4 514.1h2.3v1.9h-2.3zM241.0 508.1h1.5v1.2h-1.5zM169.7 459.8h1.4v1.1h-1.4zM176.7 458.3h2.2v1.7h-2.2zM218.0 466.5h2.2v1.7h-2.2zM187.1 484.0h1.1v0.9h-1.1zM189.9 486.4h2.2v1.8h-2.2zM176.7 488.1h2.8v2.2h-2.8zM182.3 487.9h1.4v1.1h-1.4zM183.6 493.7h1.3v1.0h-1.3zM174.3 476.7h3.3v2.6h-3.3zM234.1 530.2h3.0v2.4h-3.0zM239.5 531.5h1.5v1.2h-1.5zM242.0 534.4h2.1v1.7h-2.1zM229.2 537.0h1.3v1.1h-1.3zM245.9 539.8h1.2v0.9h-1.2zM160.8 494.8h2.5v2.0h-2.5zM163.5 500.2h1.8v1.5h-1.8zM244.6 482.4h2.0v1.6h-2.0zM248.2 482.6h1.1v0.9h-1.1zM245.3 477.4h1.2v1.0h-1.2zM252.1 483.4h2.0v1.6h-2.0zM172.9 484.8h1.8v1.4h-1.8zM233.2 551.3h1.4v1.1h-1.4zM238.3 544.6h1.8v1.5h-1.8zM246.1 545.2h2.2v1.7h-2.2zM204.1 497.4h1.2v0.9h-1.2zM202.9 491.7h2.3v1.8h-2.3zM204.7 501.3h1.7v1.4h-1.7zM135.7 527.0h1.1v0.9h-1.1zM130.8 538.0h2.5v2.0h-2.5zM125.6 538.7h2.4v1.9h-2.4zM122.8 534.3h1.5v1.2h-1.5zM136.0 537.6h2.6v2.1h-2.6zM133.9 515.4h2.8v2.3h-2.8zM293.6 466.7h1.7v1.4h-1.7zM297.9 471.2h2.1v1.7h-2.1zM195.9 542.5h1.2v1.0h-1.2zM188.9 545.1h1.4v1.1h-1.4zM205.2 564.7h2.9v2.3h-2.9zM186.9 485.6h2.0v1.6h-2.0zM189.1 488.4h2.2v1.7h-2.2zM249.8 483.6h1.5v1.2h-1.5zM247.0 482.7h1.6v1.3h-1.6zM243.9 483.7h1.2v0.9h-1.2zM247.5 476.2h1.4v1.1h-1.4zM225.0 532.9h2.0v1.6h-2.0zM220.2 531.9h1.3v1.0h-1.3zM273.9 464.9h2.1v1.7h-2.1zM271.4 462.4h2.2v1.8h-2.2zM281.1 472.8h2.3v1.8h-2.3zM295.7 565.0h2.2v1.8h-2.2zM296.7 567.6h1.6v1.2h-1.6zM295.4 557.6h2.6v2.1h-2.6zM215.5 555.0h1.2v0.9h-1.2zM217.1 557.0h1.2v1.0h-1.2zM206.4 547.8h1.2v1.0h-1.2zM292.6 472.3h1.2v1.0h-1.2zM228.9 545.5h2.7v2.1h-2.7zM265.0 474.0h2.9v2.3h-2.9zM227.6 544.6h1.8v1.4h-1.8zM225.0 543.6h1.2v0.9h-1.2zM228.4 537.3h2.5v2.0h-2.5zM235.7 549.4h1.2v1.0h-1.2zM218.1 542.4h1.5v1.2h-1.5zM228.0 533.9h1.4v1.1h-1.4zM219.4 549.6h2.9v2.3h-2.9zM211.2 506.7h1.3v1.1h-1.3zM201.4 507.9h2.5v2.0h-2.5zM216.4 495.2h1.6v1.3h-1.6zM213.5 492.3h1.2v0.9h-1.2zM224.6 572.3h1.5v1.2h-1.5zM220.9 573.6h2.4v1.9h-2.4zM255.6 537.3h2.3v1.8h-2.3zM204.6 515.0h1.4v1.1h-1.4zM207.0 512.2h1.8v1.4h-1.8zM130.5 489.9h1.4v1.1h-1.4zM130.0 487.0h1.7v1.3h-1.7zM134.8 494.6h2.0v1.6h-2.0zM128.4 485.0h1.6v1.3h-1.6zM235.5 497.3h1.1v0.9h-1.1zM229.1 503.9h1.7v1.3h-1.7zM226.9 509.7h2.4v1.9h-2.4zM223.9 505.2h2.9v2.3h-2.9zM248.0 474.0h1.4v1.1h-1.4zM253.1 470.1h1.3v1.0h-1.3zM237.6 473.0h2.5v2.0h-2.5zM284.2 579.6h1.5v1.2h-1.5zM290.2 578.3h1.2v1.0h-1.2zM116.5 547.7h2.1v1.7h-2.1zM116.5 551.9h1.4v1.1h-1.4zM140.5 524.7h2.9v2.4h-2.9zM140.4 522.8h1.1v0.9h-1.1zM141.7 528.8h1.4v1.1h-1.4zM285.0 473.9h2.8v2.3h-2.8zM278.9 474.2h1.3v1.0h-1.3zM290.4 474.8h1.8v1.4h-1.8zM289.1 465.9h1.1v0.9h-1.1zM293.3 475.6h2.9v2.3h-2.9zM294.0 467.3h2.4v1.9h-2.4zM200.4 477.8h2.6v2.1h-2.6zM195.8 478.5h1.1v0.9h-1.1zM197.5 474.0h2.9v2.3h-2.9zM105.4 558.8h2.4v1.9h-2.4zM102.7 558.3h1.2v1.0h-1.2zM113.9 560.9h1.6v1.3h-1.6zM180.2 471.9h2.6v2.1h-2.6zM184.9 467.0h1.2v1.0h-1.2zM184.1 483.7h1.2v1.0h-1.2zM176.5 479.0h1.8v1.5h-1.8zM185.5 477.8h1.1v0.9h-1.1zM282.0 459.8h1.1v0.9h-1.1zM289.1 454.1h2.3v1.8h-2.3zM289.0 459.9h1.9v1.5h-1.9zM108.1 485.0h1.1v0.9h-1.1zM223.4 491.5h1.6v1.3h-1.6zM221.3 488.4h2.7v2.1h-2.7zM219.5 495.9h1.7v1.4h-1.7zM222.2 498.2h2.9v2.3h-2.9zM211.6 488.9h1.1v0.9h-1.1zM141.2 482.8h3.0v2.4h-3.0zM134.5 489.5h2.0v1.6h-2.0zM145.5 486.6h2.6v2.1h-2.6zM283.1 510.0h2.2v1.7h-2.2zM277.4 511.5h1.1v0.9h-1.1zM275.4 518.9h2.3v1.9h-2.3zM189.3 468.0h3.0v2.4h-3.0zM187.2 470.0h2.9v2.4h-2.9zM195.4 472.4h1.7v1.4h-1.7zM183.5 471.2h2.7v2.2h-2.7zM194.8 468.1h1.3v1.0h-1.3zM186.2 478.6h1.1v0.9h-1.1zM201.7 470.8h1.1v0.9h-1.1zM269.4 496.9h2.3v1.8h-2.3zM262.8 542.4h1.1v0.9h-1.1zM203.7 542.7h1.2v0.9h-1.2zM207.4 543.0h1.1v0.9h-1.1zM211.0 540.0h1.7v1.3h-1.7zM260.8 469.1h1.2v1.0h-1.2zM265.4 470.1h3.3v2.6h-3.3zM265.0 466.7h1.7v1.4h-1.7zM202.1 473.8h1.3v1.0h-1.3zM229.0 531.2h1.1v0.9h-1.1zM229.2 525.3h1.2v0.9h-1.2zM231.0 552.3h1.1v0.9h-1.1zM238.6 561.2h1.1v0.9h-1.1zM227.6 549.2h1.4v1.2h-1.4zM294.9 532.5h1.3v1.1h-1.3zM291.0 527.9h3.2v2.6h-3.2zM289.2 537.3h1.2v1.0h-1.2zM236.0 560.8h1.7v1.4h-1.7zM274.0 458.7h1.8v1.4h-1.8zM269.9 458.1h1.1v0.9h-1.1zM263.2 561.5h2.6v2.1h-2.6zM227.9 480.7h2.8v2.2h-2.8zM229.1 475.7h2.0v1.6h-2.0zM214.8 580.1h2.1v1.7h-2.1zM213.6 584.3h1.2v1.0h-1.2zM218.4 585.8h1.2v0.9h-1.2zM224.1 579.0h1.6v1.3h-1.6zM213.0 585.7h1.6v1.2h-1.6zM208.4 581.5h1.2v0.9h-1.2zM195.4 516.1h2.7v2.2h-2.7zM196.7 511.0h2.0v1.6h-2.0zM201.6 522.5h1.2v1.0h-1.2zM197.1 525.3h3.1v2.5h-3.1zM202.1 526.1h2.0v1.6h-2.0zM146.5 455.8h2.5v2.0h-2.5zM151.8 454.8h1.2v0.9h-1.2zM145.2 463.4h1.1v0.9h-1.1zM153.5 511.9h2.6v2.1h-2.6zM151.1 516.1h1.4v1.1h-1.4zM157.3 508.8h1.3v1.0h-1.3zM159.8 515.1h1.5v1.2h-1.5zM301.4 466.5h1.4v1.1h-1.4zM118.6 467.7h1.8v1.4h-1.8zM123.5 465.3h1.2v1.0h-1.2zM118.7 471.2h1.9v1.5h-1.9zM116.2 474.0h2.9v2.4h-2.9zM233.4 529.7h2.2v1.8h-2.2zM242.1 527.9h1.7v1.3h-1.7zM230.6 472.8h2.8v2.3h-2.8zM236.1 475.3h1.1v0.9h-1.1zM233.1 468.0h2.2v1.8h-2.2zM146.7 511.1h1.2v1.0h-1.2zM150.9 504.9h2.0v1.6h-2.0zM152.5 505.9h1.5v1.2h-1.5zM152.6 516.1h2.1v1.7h-2.1zM288.2 482.8h3.2v2.6h-3.2zM292.6 482.1h3.3v2.6h-3.3zM295.4 485.9h2.6v2.1h-2.6zM286.3 492.0h1.1v0.9h-1.1zM282.9 491.1h2.4v1.9h-2.4zM203.4 531.2h2.7v2.2h-2.7zM200.1 529.9h3.2v2.6h-3.2zM146.5 520.6h1.1v0.9h-1.1zM146.3 522.7h2.8v2.2h-2.8zM142.7 514.5h1.2v1.0h-1.2zM100.5 462.6h2.0v1.6h-2.0zM96.9 468.3h2.3v1.8h-2.3zM208.8 513.0h1.1v0.9h-1.1zM209.3 509.2h3.0v2.4h-3.0zM203.2 505.0h1.2v1.0h-1.2zM219.2 512.4h2.8v2.3h-2.8zM242.5 582.5h1.4v1.2h-1.4zM239.1 582.5h1.2v1.0h-1.2zM239.0 577.9h2.8v2.3h-2.8zM143.7 524.1h2.0v1.6h-2.0zM276.4 474.7h1.3v1.0h-1.3zM274.4 477.4h1.2v1.0h-1.2zM265.0 481.5h1.1v0.9h-1.1zM259.6 478.5h2.5v2.0h-2.5zM144.6 561.2h2.0v1.6h-2.0zM175.6 546.8h1.5v1.2h-1.5zM168.3 538.1h3.0v2.4h-3.0zM165.5 540.8h2.8v2.3h-2.8zM166.2 557.0h1.2v0.9h-1.2zM193.4 538.0h1.8v1.4h-1.8zM191.9 540.1h1.2v1.0h-1.2zM230.3 549.9h1.2v0.9h-1.2zM229.3 552.4h1.5v1.2h-1.5zM223.8 548.2h1.3v1.0h-1.3zM226.5 543.2h1.2v1.0h-1.2zM233.1 556.6h1.2v0.9h-1.2zM219.9 544.3h1.1v0.9h-1.1zM232.0 538.9h2.3v1.8h-2.3zM112.4 580.7h1.1v0.9h-1.1zM212.8 526.6h1.1v0.9h-1.1zM201.3 504.9h1.4v1.1h-1.4zM205.5 503.9h1.1v0.9h-1.1zM202.1 510.4h1.6v1.3h-1.6zM200.0 497.3h1.5v1.2h-1.5zM191.1 515.5h1.1v0.9h-1.1zM186.2 514.0h2.8v2.2h-2.8zM182.0 514.0h1.4v1.1h-1.4zM204.8 472.8h1.2v1.0h-1.2zM200.1 473.4h2.7v2.1h-2.7zM202.0 469.2h1.2v1.0h-1.2zM208.9 465.5h2.9v2.3h-2.9zM215.1 472.9h1.1v0.9h-1.1zM201.4 459.3h2.1v1.7h-2.1zM138.5 464.6h1.6v1.3h-1.6zM140.3 461.0h2.6v2.1h-2.6zM135.0 470.9h1.6v1.2h-1.6zM143.3 467.9h1.1v0.9h-1.1zM141.0 474.4h1.1v0.9h-1.1zM286.3 521.8h3.2v2.6h-3.2zM291.0 524.1h1.1v0.9h-1.1zM291.7 522.8h1.9v1.5h-1.9zM258.8 539.2h1.6v1.3h-1.6zM176.3 536.0h2.4v1.9h-2.4zM181.6 535.3h2.2v1.8h-2.2zM181.8 546.2h3.1v2.5h-3.1zM267.1 485.7h2.6v2.1h-2.6zM264.7 483.2h3.2v2.6h-3.2zM185.5 466.8h2.2v1.7h-2.2zM287.3 497.3h2.2v1.7h-2.2zM295.1 496.5h1.5v1.2h-1.5zM286.5 502.4h2.1v1.7h-2.1zM293.1 500.8h1.2v0.9h-1.2zM232.2 520.1h3.2v2.5h-3.2zM227.9 512.7h1.1v0.9h-1.1zM116.4 491.1h1.1v0.9h-1.1zM96.9 539.3h1.1v0.9h-1.1zM94.5 536.9h2.3v1.9h-2.3zM96.5 545.0h2.2v1.7h-2.2zM96.0 534.5h1.1v0.9h-1.1zM102.8 533.4h1.1v0.9h-1.1zM95.8 530.9h1.1v0.9h-1.1zM253.6 558.2h2.3v1.8h-2.3zM249.0 558.8h1.7v1.4h-1.7zM248.4 557.1h1.4v1.2h-1.4zM243.3 562.5h1.7v1.3h-1.7zM258.1 568.8h1.2v1.0h-1.2zM237.5 508.5h1.1v0.9h-1.1zM230.0 511.8h1.3v1.0h-1.3zM229.5 515.6h1.4v1.1h-1.4zM243.7 506.6h2.3v1.9h-2.3zM197.5 508.5h2.1v1.7h-2.1zM227.8 554.4h1.9v1.5h-1.9zM223.9 556.2h3.3v2.6h-3.3zM226.0 547.2h1.3v1.0h-1.3zM261.0 526.6h1.2v0.9h-1.2zM265.5 528.3h1.1v0.9h-1.1zM159.5 567.9h1.2v0.9h-1.2zM159.3 575.4h2.3v1.8h-2.3zM154.8 577.5h1.3v1.0h-1.3zM271.4 571.8h1.2v0.9h-1.2zM183.8 574.6h1.3v1.1h-1.3zM178.5 583.6h3.2v2.6h-3.2zM185.5 575.0h1.1v0.9h-1.1zM174.5 575.2h3.2v2.6h-3.2zM184.0 479.6h2.7v2.2h-2.7zM177.1 477.3h1.9v1.5h-1.9zM296.4 515.1h1.1v0.9h-1.1zM301.1 515.1h1.2v1.0h-1.2zM188.9 476.4h2.0v1.6h-2.0zM186.8 478.4h1.1v0.9h-1.1zM185.2 470.9h1.1v0.9h-1.1zM184.8 476.4h2.1v1.7h-2.1zM189.4 488.0h1.6v1.3h-1.6zM178.9 478.4h1.1v0.9h-1.1zM236.6 496.0h1.5v1.2h-1.5zM243.6 491.2h1.5v1.2h-1.5zM236.0 502.7h1.7v1.4h-1.7zM238.2 482.6h2.6v2.1h-2.6zM231.1 487.8h1.2v0.9h-1.2zM198.6 456.5h1.6v1.3h-1.6zM250.6 503.8h1.8v1.4h-1.8zM250.8 506.9h1.5v1.2h-1.5zM249.6 510.3h1.4v1.1h-1.4zM261.6 521.1h1.2v1.0h-1.2zM260.9 524.0h1.2v1.0h-1.2zM262.8 517.9h2.6v2.1h-2.6zM282.1 528.4h1.2v0.9h-1.2zM278.1 521.9h1.1v0.9h-1.1zM241.6 518.5h1.1v0.9h-1.1zM237.6 516.0h2.0v1.6h-2.0zM240.3 510.3h2.3v1.8h-2.3zM270.7 511.5h1.8v1.5h-1.8zM260.9 513.6h1.1v0.9h-1.1zM268.0 569.9h2.2v1.7h-2.2zM205.0 579.0h2.8v2.3h-2.8zM207.5 572.5h2.4v1.9h-2.4zM196.7 572.4h2.4v1.9h-2.4zM211.7 583.3h3.1v2.5h-3.1zM284.9 527.1h1.2v1.0h-1.2zM285.7 531.5h1.5v1.2h-1.5zM238.3 559.5h1.2v0.9h-1.2zM234.3 545.9h1.6v1.3h-1.6zM150.8 565.1h1.5v1.2h-1.5zM158.3 566.4h1.5v1.2h-1.5zM150.3 566.6h1.1v0.9h-1.1zM251.4 491.8h1.5v1.2h-1.5zM248.3 483.3h1.4v1.1h-1.4zM260.9 478.9h1.2v1.0h-1.2zM262.6 480.7h2.7v2.2h-2.7zM264.5 472.2h1.3v1.0h-1.3zM124.2 538.2h1.6v1.3h-1.6zM110.7 521.5h2.0v1.6h-2.0zM221.2 552.4h1.7v1.4h-1.7zM95.3 553.7h1.3v1.1h-1.3zM104.7 483.7h1.9v1.5h-1.9zM106.2 479.7h1.5v1.2h-1.5zM212.7 495.9h2.6v2.1h-2.6zM234.6 528.9h1.2v1.0h-1.2zM237.5 531.7h1.3v1.0h-1.3zM162.1 509.9h3.0v2.4h-3.0zM169.9 518.7h2.4v1.9h-2.4zM250.6 557.8h1.4v1.1h-1.4zM246.2 557.9h1.1v0.9h-1.1zM264.1 554.1h1.2v0.9h-1.2zM290.4 537.9h1.3v1.1h-1.3zM287.7 539.1h3.2v2.6h-3.2zM119.3 485.0h1.1v0.9h-1.1zM120.6 489.1h1.3v1.0h-1.3zM126.1 481.7h2.7v2.2h-2.7zM199.3 569.2h2.2v1.8h-2.2zM103.9 543.0h1.2v0.9h-1.2zM251.3 531.0h1.5v1.2h-1.5zM256.9 526.0h1.4v1.1h-1.4zM110.6 535.6h2.2v1.8h-2.2zM261.4 489.9h1.2v1.0h-1.2zM260.9 502.2h1.6v1.3h-1.6zM266.0 493.0h2.7v2.2h-2.7zM252.5 485.9h2.4v1.9h-2.4zM240.6 517.9h1.1v0.9h-1.1zM240.0 522.5h1.2v1.0h-1.2zM235.7 522.3h1.6v1.2h-1.6zM238.6 522.9h2.2v1.8h-2.2zM251.6 513.8h1.2v0.9h-1.2zM230.7 512.8h3.1v2.5h-3.1zM164.8 537.5h2.7v2.2h-2.7zM169.1 545.1h1.9v1.5h-1.9zM226.2 484.8h1.3v1.0h-1.3zM243.4 497.5h1.9v1.5h-1.9zM239.1 499.1h1.7v1.4h-1.7zM224.9 548.6h1.2v1.0h-1.2zM216.4 553.0h1.2v0.9h-1.2zM220.9 538.2h1.3v1.0h-1.3zM226.6 475.3h1.2v1.0h-1.2zM231.8 467.9h1.4v1.2h-1.4zM109.7 560.3h1.3v1.0h-1.3zM110.6 557.6h1.1v0.9h-1.1zM104.9 554.7h1.8v1.4h-1.8zM269.2 486.4h2.3v1.8h-2.3zM282.9 540.4h1.5v1.2h-1.5zM282.4 543.5h2.8v2.2h-2.8zM281.9 545.8h2.0v1.6h-2.0zM284.0 547.8h1.2v1.0h-1.2zM280.3 531.8h1.4v1.1h-1.4zM277.6 551.7h2.7v2.2h-2.7zM240.1 517.6h2.0v1.6h-2.0zM237.9 516.4h1.8v1.4h-1.8zM244.8 520.8h2.3v1.9h-2.3zM235.2 513.1h2.4v1.9h-2.4zM235.6 521.2h2.9v2.3h-2.9zM244.8 513.9h1.1v0.9h-1.1zM233.9 513.6h1.4v1.1h-1.4zM168.9 555.3h1.1v0.9h-1.1zM169.4 557.4h1.7v1.4h-1.7zM161.3 555.2h2.4v1.9h-2.4zM161.9 560.4h2.5v2.0h-2.5zM172.1 559.3h2.0v1.6h-2.0zM155.4 513.9h1.1v0.9h-1.1zM154.0 519.4h1.5v1.2h-1.5zM146.6 504.9h2.2v1.7h-2.2zM152.1 526.1h1.4v1.1h-1.4zM137.2 518.6h1.5v1.2h-1.5zM229.4 518.6h1.4v1.1h-1.4zM230.4 513.6h1.2v1.0h-1.2zM233.6 516.8h1.5v1.2h-1.5zM232.1 509.6h1.4v1.2h-1.4zM225.1 524.7h2.1v1.7h-2.1zM225.5 513.4h1.1v0.9h-1.1zM200.6 522.2h1.6v1.3h-1.6zM197.1 515.4h2.2v1.8h-2.2zM197.2 516.0h1.2v0.9h-1.2zM104.1 557.3h1.5v1.2h-1.5zM263.1 471.4h3.0v2.4h-3.0zM248.5 564.5h1.2v1.0h-1.2zM257.3 575.0h2.0v1.6h-2.0zM245.3 565.7h1.7v1.4h-1.7zM241.6 557.1h1.2v1.0h-1.2zM290.7 483.0h1.5v1.2h-1.5zM222.4 543.3h2.6v2.1h-2.6zM221.3 548.3h3.2v2.6h-3.2zM222.1 547.1h1.5v1.2h-1.5zM179.1 492.5h2.4v1.9h-2.4zM183.5 501.2h1.2v1.0h-1.2zM174.1 507.3h1.2v0.9h-1.2zM218.9 560.3h1.1v0.9h-1.1zM222.4 558.0h1.3v1.1h-1.3zM295.0 461.2h1.3v1.0h-1.3zM299.7 459.8h1.6v1.3h-1.6zM299.5 459.0h1.4v1.1h-1.4zM288.7 466.7h1.2v1.0h-1.2zM104.1 547.6h1.3v1.1h-1.3zM229.4 456.0h1.5v1.2h-1.5zM231.7 460.2h2.2v1.7h-2.2zM227.3 465.4h1.3v1.1h-1.3zM219.0 469.7h1.1v0.9h-1.1zM218.7 467.5h1.2v1.0h-1.2zM220.3 472.7h1.3v1.0h-1.3zM224.3 475.2h2.2v1.7h-2.2zM224.9 476.2h1.3v1.0h-1.3zM231.9 467.7h1.7v1.4h-1.7zM115.0 477.6h1.2v1.0h-1.2zM118.8 478.4h2.0v1.6h-2.0zM275.4 463.4h1.4v1.1h-1.4zM278.9 466.2h1.9v1.5h-1.9zM203.4 474.9h2.8v2.2h-2.8zM142.8 526.4h2.3v1.8h-2.3zM144.4 523.2h1.8v1.5h-1.8zM142.0 532.1h2.2v1.8h-2.2zM196.7 476.1h1.7v1.3h-1.7zM201.3 473.0h2.6v2.0h-2.6zM199.9 468.3h1.1v0.9h-1.1zM194.7 468.1h2.3v1.9h-2.3zM199.3 474.0h1.7v1.4h-1.7zM197.8 464.5h2.3v1.8h-2.3zM200.1 476.3h1.3v1.1h-1.3zM205.5 468.7h1.5v1.2h-1.5zM138.5 521.6h1.8v1.4h-1.8zM140.7 517.1h1.5v1.2h-1.5zM141.4 528.0h1.5v1.2h-1.5zM128.5 522.3h1.3v1.0h-1.3zM147.6 525.5h1.7v1.4h-1.7zM216.8 483.7h1.3v1.0h-1.3zM295.6 468.8h1.6v1.3h-1.6zM281.7 474.0h3.3v2.7h-3.3zM285.3 470.3h2.0v1.6h-2.0zM289.9 464.5h3.1v2.5h-3.1zM236.5 498.2h2.0v1.6h-2.0zM245.5 483.1h1.6v1.3h-1.6zM271.1 563.1h1.1v0.9h-1.1zM276.1 555.9h1.1v0.9h-1.1zM280.5 562.1h3.2v2.5h-3.2zM270.4 570.9h1.9v1.5h-1.9zM280.1 558.1h1.9v1.5h-1.9zM233.6 551.7h2.5v2.0h-2.5zM238.4 550.7h2.1v1.6h-2.1zM229.2 556.2h2.6v2.1h-2.6zM223.9 544.4h1.3v1.0h-1.3zM141.4 507.8h1.2v1.0h-1.2zM140.0 509.0h2.0v1.6h-2.0zM140.8 497.9h2.2v1.8h-2.2zM216.1 511.9h1.7v1.3h-1.7zM206.2 515.8h2.0v1.6h-2.0zM226.7 537.8h1.8v1.4h-1.8zM198.7 487.4h3.0v2.4h-3.0zM213.3 512.7h1.7v1.3h-1.7zM95.2 569.2h2.9v2.3h-2.9zM99.8 566.6h1.9v1.6h-1.9zM97.1 576.4h1.1v0.9h-1.1zM126.2 484.1h1.2v1.0h-1.2zM253.8 536.8h2.4v2.0h-2.4zM123.5 510.1h3.1v2.5h-3.1zM122.0 512.6h1.9v1.5h-1.9zM133.2 513.4h1.7v1.3h-1.7zM295.7 462.6h1.4v1.1h-1.4zM297.5 457.3h2.7v2.1h-2.7zM301.3 457.8h1.9v1.5h-1.9zM266.9 531.0h1.7v1.4h-1.7zM258.2 502.5h2.1v1.7h-2.1zM265.7 477.5h1.3v1.0h-1.3zM266.8 482.5h1.1v0.9h-1.1zM259.4 476.7h2.0v1.6h-2.0zM264.6 469.7h2.2v1.8h-2.2zM258.5 484.6h1.5v1.2h-1.5zM265.8 483.2h1.2v0.9h-1.2zM276.7 511.8h1.6v1.3h-1.6zM98.0 492.3h3.2v2.5h-3.2zM87.4 476.9h1.3v1.0h-1.3zM91.9 498.8h2.2v1.7h-2.2zM111.5 520.0h3.3v2.6h-3.3zM107.7 520.8h3.0v2.4h-3.0zM169.0 473.3h3.1v2.5h-3.1zM173.7 467.5h1.5v1.2h-1.5zM174.0 474.8h3.1v2.5h-3.1zM158.8 470.2h1.3v1.0h-1.3zM161.9 462.0h1.7v1.4h-1.7zM220.6 536.6h1.2v1.0h-1.2zM222.3 534.2h1.3v1.0h-1.3zM257.4 543.6h2.0v1.6h-2.0zM252.5 540.4h1.2v1.0h-1.2zM169.4 521.1h1.6v1.3h-1.6zM166.8 521.7h2.1v1.7h-2.1zM175.4 516.8h1.3v1.0h-1.3zM282.1 479.7h3.1v2.5h-3.1zM281.5 485.4h2.8v2.3h-2.8zM283.7 489.4h1.6v1.3h-1.6zM172.4 467.5h1.4v1.1h-1.4zM121.9 582.7h3.2v2.6h-3.2zM120.1 581.7h1.1v0.9h-1.1zM203.5 493.0h1.4v1.1h-1.4zM198.5 490.1h2.0v1.6h-2.0zM204.1 485.2h3.0v2.4h-3.0zM206.5 482.0h1.5v1.2h-1.5zM205.4 574.1h3.1v2.5h-3.1zM208.9 577.7h2.1v1.7h-2.1zM273.2 540.0h2.3v1.9h-2.3zM105.4 483.6h1.9v1.5h-1.9zM106.6 480.3h1.7v1.4h-1.7zM100.7 471.8h3.0v2.4h-3.0zM171.4 559.3h1.4v1.1h-1.4zM173.7 563.0h1.2v1.0h-1.2zM174.3 552.3h3.0v2.4h-3.0zM171.6 552.5h1.2v1.0h-1.2zM163.3 565.8h1.1v0.9h-1.1zM274.9 483.3h1.4v1.1h-1.4zM274.0 480.1h1.3v1.0h-1.3zM256.4 498.2h2.3v1.8h-2.3zM256.2 500.8h1.1v0.9h-1.1zM248.5 494.3h3.3v2.6h-3.3zM251.7 494.7h2.5v2.0h-2.5zM248.1 491.1h1.3v1.1h-1.3zM269.1 494.5h1.3v1.0h-1.3zM125.8 570.4h2.0v1.6h-2.0zM126.0 567.2h1.6v1.2h-1.6zM128.6 565.0h2.3v1.9h-2.3zM117.4 571.0h1.7v1.4h-1.7zM124.6 559.3h3.2v2.6h-3.2zM87.4 536.6h3.3v2.6h-3.3zM280.6 465.6h1.8v1.4h-1.8zM284.2 464.9h1.1v0.9h-1.1zM279.1 458.3h2.7v2.1h-2.7zM243.2 584.4h1.2v0.9h-1.2zM240.4 578.3h1.1v0.9h-1.1zM194.2 553.1h1.3v1.0h-1.3zM157.7 541.7h3.2v2.6h-3.2zM101.5 577.7h2.5v2.0h-2.5zM102.9 567.9h1.1v0.9h-1.1zM98.2 569.0h2.2v1.8h-2.2zM100.3 580.2h1.5v1.2h-1.5zM109.9 577.6h1.3v1.0h-1.3zM93.8 571.2h2.8v2.2h-2.8zM184.1 567.0h1.5v1.2h-1.5zM183.0 572.0h1.2v0.9h-1.2zM183.5 562.6h1.4v1.1h-1.4zM218.5 493.7h2.5v2.0h-2.5zM194.6 499.5h2.7v2.1h-2.7zM191.3 503.4h1.4v1.1h-1.4zM127.8 566.5h2.9v2.3h-2.9zM128.2 563.3h1.1v0.9h-1.1zM254.5 458.0h1.2v1.0h-1.2zM213.7 489.3h1.8v1.4h-1.8zM252.1 538.1h2.7v2.2h-2.7zM279.0 503.9h1.3v1.0h-1.3zM277.1 510.2h1.3v1.0h-1.3zM265.7 507.0h1.1v0.9h-1.1zM273.5 514.8h1.1v0.9h-1.1zM163.5 455.4h2.8v2.2h-2.8zM173.0 454.3h1.6v1.3h-1.6zM172.0 462.6h2.2v1.7h-2.2zM165.2 463.4h1.2v0.9h-1.2zM240.7 474.0h2.5v2.0h-2.5zM255.7 497.9h2.4v1.9h-2.4zM253.1 504.0h1.7v1.3h-1.7zM264.0 501.1h1.5v1.2h-1.5zM158.8 535.2h2.3v1.9h-2.3zM162.9 535.5h1.2v1.0h-1.2zM167.9 534.9h3.3v2.6h-3.3zM166.2 534.5h1.5v1.2h-1.5zM245.7 531.0h1.5v1.2h-1.5zM242.9 527.3h1.1v0.9h-1.1zM136.2 480.3h1.3v1.0h-1.3z" fill="#2c1796"/></g></g>
<path d="M271 571.6h9" stroke="#c03030" stroke-width=".8" opacity=".7"/>
<g clip-path="url(#c2)"><rect x="92.1" y="598.2" width="207" height="129.2" fill="#d3d2d9"/><g filter="url(#soft)"><path d="M168.2 725.1h1.2v1.2h-1.2zM166.4 643.2h1.2v1.2h-1.2zM206.9 712.3h0.8v0.8h-0.8zM279.6 640.7h1.2v1.2h-1.2zM238.9 649.6h1.2v1.2h-1.2zM198.4 649.7h0.8v0.8h-0.8zM297.4 727.1h1.2v1.2h-1.2zM109.7 663.4h1.2v1.2h-1.2zM202.4 712.3h1v1h-1zM239.9 604.7h1.2v1.2h-1.2zM270.1 617.4h1.2v1.2h-1.2zM125.1 719.0h1.2v1.2h-1.2zM264.1 676.3h0.8v0.8h-0.8zM120.6 673.2h1v1h-1zM292.4 696.5h1v1h-1zM134.7 620.3h1.2v1.2h-1.2zM252.7 681.6h1.2v1.2h-1.2zM211.9 698.1h1.2v1.2h-1.2zM269.1 605.2h1v1h-1zM273.7 713.2h1v1h-1zM284.4 658.3h1v1h-1zM122.8 691.6h1v1h-1zM237.3 701.6h0.8v0.8h-0.8zM96.7 717.6h1v1h-1zM186.5 659.3h1.2v1.2h-1.2zM209.8 684.9h1.2v1.2h-1.2zM188.6 681.5h0.8v0.8h-0.8zM223.4 619.2h0.8v0.8h-0.8zM270.7 677.3h1v1h-1zM216.3 627.7h1.2v1.2h-1.2zM219.3 726.5h1.2v1.2h-1.2zM288.9 727.0h1v1h-1zM177.9 643.2h0.8v0.8h-0.8zM225.4 668.9h1.2v1.2h-1.2zM194.8 670.9h1.2v1.2h-1.2zM189.2 654.9h1v1h-1zM137.3 651.1h0.8v0.8h-0.8zM123.6 714.0h1.2v1.2h-1.2zM167.8 617.3h1v1h-1zM236.7 657.0h1.2v1.2h-1.2zM132.1 707.3h0.8v0.8h-0.8zM271.0 626.8h0.8v0.8h-0.8zM146.2 654.0h0.8v0.8h-0.8zM189.8 606.5h1.2v1.2h-1.2zM153.1 616.4h0.8v0.8h-0.8zM103.6 727.4h0.8v0.8h-0.8zM137.1 708.8h1.2v1.2h-1.2zM188.0 701.4h1v1h-1zM197.0 722.3h0.8v0.8h-0.8zM255.1 669.2h0.8v0.8h-0.8zM256.2 612.6h1.2v1.2h-1.2zM229.6 649.8h0.8v0.8h-0.8zM191.7 654.3h1.2v1.2h-1.2zM218.3 610.3h0.8v0.8h-0.8zM178.3 627.8h0.8v0.8h-0.8zM222.3 710.0h1v1h-1zM141.2 669.5h0.8v0.8h-0.8zM244.8 720.9h0.8v0.8h-0.8zM138.0 621.3h1.2v1.2h-1.2zM96.0 669.2h0.8v0.8h-0.8zM165.8 620.1h1.2v1.2h-1.2zM166.9 727.1h0.8v0.8h-0.8zM263.2 660.8h1.2v1.2h-1.2zM183.6 633.4h1.2v1.2h-1.2zM244.9 615.2h1v1h-1zM280.3 693.4h1v1h-1zM118.8 716.2h1.2v1.2h-1.2zM279.9 625.5h1v1h-1zM159.6 705.4h1v1h-1zM193.2 619.9h1.2v1.2h-1.2zM151.8 677.8h1v1h-1zM164.5 664.7h0.8v0.8h-0.8zM105.8 682.5h0.8v0.8h-0.8zM131.4 663.8h0.8v0.8h-0.8zM258.3 712.5h1v1h-1zM298.7 680.7h1v1h-1zM132.2 725.3h0.8v0.8h-0.8zM298.8 685.2h1v1h-1zM112.4 660.9h1v1h-1zM257.3 619.4h1v1h-1zM164.9 689.2h0.8v0.8h-0.8zM225.7 676.5h1v1h-1zM270.6 688.5h1v1h-1zM192.6 648.0h1v1h-1zM129.7 671.7h1.2v1.2h-1.2zM170.1 647.0h0.8v0.8h-0.8zM262.9 700.8h1.2v1.2h-1.2zM271.2 723.5h1.2v1.2h-1.2zM247.8 646.7h1v1h-1zM98.1 622.5h1v1h-1zM277.3 660.7h1v1h-1zM234.5 623.4h0.8v0.8h-0.8zM128.2 689.1h1v1h-1zM105.2 642.8h0.8v0.8h-0.8zM172.2 691.7h1v1h-1zM295.4 726.8h1v1h-1zM283.1 649.7h1.2v1.2h-1.2zM246.4 599.6h0.8v0.8h-0.8zM155.9 627.4h1v1h-1zM146.8 700.3h1.2v1.2h-1.2zM267.8 624.2h1v1h-1zM188.1 598.7h1.2v1.2h-1.2zM151.9 605.4h0.8v0.8h-0.8zM262.5 613.8h0.8v0.8h-0.8zM192.5 673.7h1v1h-1zM230.9 690.4h1.2v1.2h-1.2zM173.0 645.8h1v1h-1zM285.3 695.2h1.2v1.2h-1.2zM245.0 630.3h0.8v0.8h-0.8zM164.3 665.6h0.8v0.8h-0.8zM244.7 635.7h1v1h-1zM254.2 681.9h0.8v0.8h-0.8zM247.5 622.6h1v1h-1zM256.3 720.6h0.8v0.8h-0.8zM229.3 618.9h1.2v1.2h-1.2zM113.9 656.0h1v1h-1zM100.7 660.8h0.8v0.8h-0.8zM294.6 613.9h1.2v1.2h-1.2zM220.4 681.3h1.2v1.2h-1.2zM102.9 606.0h1.2v1.2h-1.2zM99.6 672.1h1.2v1.2h-1.2zM293.0 705.4h1v1h-1zM156.0 628.2h1v1h-1zM167.5 600.4h0.8v0.8h-0.8zM146.7 702.2h1.2v1.2h-1.2zM156.2 606.6h1.2v1.2h-1.2zM225.6 636.7h0.8v0.8h-0.8zM137.4 700.8h1v1h-1zM279.6 650.1h1v1h-1zM148.5 652.1h0.8v0.8h-0.8zM97.3 649.9h1v1h-1zM287.0 675.7h0.8v0.8h-0.8zM270.0 693.2h1.2v1.2h-1.2zM154.3 636.0h0.8v0.8h-0.8zM292.9 641.1h0.8v0.8h-0.8zM219.9 662.1h0.8v0.8h-0.8zM289.5 695.7h1.2v1.2h-1.2zM194.7 655.5h1v1h-1zM107.0 715.8h1v1h-1zM229.2 694.3h1v1h-1zM192.4 693.1h1v1h-1zM217.6 660.5h1.2v1.2h-1.2zM121.1 679.6h0.8v0.8h-0.8zM255.4 721.0h0.8v0.8h-0.8zM146.7 630.6h1v1h-1zM211.2 600.8h1.2v1.2h-1.2zM270.4 641.2h1.2v1.2h-1.2zM271.4 601.4h1v1h-1zM248.5 711.3h1v1h-1zM94.4 655.9h1.2v1.2h-1.2zM160.3 679.7h1v1h-1zM187.5 717.3h1v1h-1zM290.7 678.0h1.2v1.2h-1.2zM229.2 649.8h1v1h-1zM296.9 616.1h1.2v1.2h-1.2zM200.8 718.0h0.8v0.8h-0.8zM252.7 613.3h1.2v1.2h-1.2zM227.8 635.7h0.8v0.8h-0.8zM210.1 633.9h0.8v0.8h-0.8zM261.7 640.7h1v1h-1zM92.3 718.9h1v1h-1zM177.2 644.2h0.8v0.8h-0.8zM108.1 714.1h0.8v0.8h-0.8zM247.5 598.4h1v1h-1zM268.0 710.1h1.2v1.2h-1.2zM259.0 643.3h1.2v1.2h-1.2zM134.8 685.8h1.2v1.2h-1.2zM112.2 707.0h1.2v1.2h-1.2zM111.2 640.3h1v1h-1zM283.2 642.5h1v1h-1zM232.3 698.4h1v1h-1zM94.0 634.9h1.2v1.2h-1.2zM198.1 631.1h0.8v0.8h-0.8zM243.9 675.2h1.2v1.2h-1.2zM248.7 697.9h1.2v1.2h-1.2zM244.8 710.3h0.8v0.8h-0.8zM169.4 622.3h1v1h-1zM151.2 650.3h1.2v1.2h-1.2zM123.6 639.2h0.8v0.8h-0.8zM244.4 648.3h0.8v0.8h-0.8zM113.4 694.6h1v1h-1zM149.5 640.5h1.2v1.2h-1.2zM208.2 696.3h1.2v1.2h-1.2zM293.6 648.4h1.2v1.2h-1.2zM205.0 691.9h1.2v1.2h-1.2zM115.1 618.7h1v1h-1zM131.3 683.6h1v1h-1zM145.5 691.8h0.8v0.8h-0.8zM216.0 621.8h0.8v0.8h-0.8zM136.2 663.8h1v1h-1zM295.0 682.3h0.8v0.8h-0.8zM93.6 696.4h0.8v0.8h-0.8zM96.8 717.0h1.2v1.2h-1.2zM180.4 641.5h1.2v1.2h-1.2zM212.3 641.5h1.2v1.2h-1.2zM178.1 632.5h0.8v0.8h-0.8zM227.1 724.8h0.8v0.8h-0.8zM187.9 654.1h1.2v1.2h-1.2zM109.5 726.8h0.8v0.8h-0.8zM272.1 636.7h1v1h-1zM196.8 612.8h1v1h-1zM296.4 624.1h1v1h-1zM113.9 665.2h1.2v1.2h-1.2zM219.7 675.2h0.8v0.8h-0.8zM290.4 664.1h1.2v1.2h-1.2zM209.4 674.2h1.2v1.2h-1.2zM157.4 720.2h0.8v0.8h-0.8zM124.1 661.4h1v1h-1zM299.0 702.0h1v1h-1zM283.8 666.5h1v1h-1zM217.6 636.5h1.2v1.2h-1.2zM184.4 715.7h0.8v0.8h-0.8zM93.8 655.1h0.8v0.8h-0.8zM206.1 704.3h1v1h-1zM98.0 608.7h1v1h-1zM177.9 699.6h0.8v0.8h-0.8zM179.2 704.2h1v1h-1zM143.4 600.4h1v1h-1zM137.9 664.1h0.8v0.8h-0.8zM273.0 642.7h1v1h-1zM290.4 645.7h0.8v0.8h-0.8zM200.4 676.8h1.2v1.2h-1.2zM273.8 717.6h0.8v0.8h-0.8zM135.8 607.9h1v1h-1zM220.7 598.4h0.8v0.8h-0.8zM140.4 701.2h1v1h-1zM240.1 720.2h1v1h-1zM149.1 686.4h1.2v1.2h-1.2zM254.5 718.4h0.8v0.8h-0.8zM178.6 663.5h0.8v0.8h-0.8zM248.0 673.3h1v1h-1zM118.8 707.4h1v1h-1zM138.8 618.3h1v1h-1zM175.1 721.6h0.8v0.8h-0.8zM270.4 709.7h0.8v0.8h-0.8zM177.7 722.9h1.2v1.2h-1.2zM282.0 665.6h1v1h-1zM197.2 632.6h1v1h-1zM137.1 600.7h1v1h-1zM278.0 640.1h1.2v1.2h-1.2zM247.5 616.5h1.2v1.2h-1.2zM187.7 657.1h1.2v1.2h-1.2zM185.9 630.8h0.8v0.8h-0.8zM162.4 674.5h0.8v0.8h-0.8zM277.5 689.9h1v1h-1zM239.8 620.0h1v1h-1zM246.4 649.7h0.8v0.8h-0.8zM277.8 656.9h0.8v0.8h-0.8zM159.5 601.4h1.2v1.2h-1.2zM273.0 725.6h1v1h-1zM233.1 677.0h1v1h-1zM169.9 713.2h1v1h-1zM177.0 712.5h1.2v1.2h-1.2zM162.1 641.2h1v1h-1zM166.3 656.3h1v1h-1zM106.5 720.5h1.2v1.2h-1.2zM216.9 644.7h1v1h-1zM173.2 723.5h0.8v0.8h-0.8zM117.9 678.5h0.8v0.8h-0.8zM237.3 668.6h1v1h-1zM278.4 609.2h1v1h-1zM273.7 653.6h1.2v1.2h-1.2zM194.1 708.2h1.2v1.2h-1.2zM187.7 691.6h1.2v1.2h-1.2zM255.6 698.0h0.8v0.8h-0.8zM144.0 622.1h0.8v0.8h-0.8zM252.6 716.3h1v1h-1zM166.2 668.8h0.8v0.8h-0.8zM147.7 718.4h0.8v0.8h-0.8zM268.7 655.9h1v1h-1zM233.2 610.3h1v1h-1zM97.0 698.1h1v1h-1zM275.7 651.1h1.2v1.2h-1.2zM254.3 678.8h1v1h-1zM231.2 715.5h1v1h-1zM210.1 607.7h0.8v0.8h-0.8zM240.8 642.5h0.8v0.8h-0.8zM139.1 620.9h0.8v0.8h-0.8zM284.6 637.8h0.8v0.8h-0.8zM136.3 670.0h0.8v0.8h-0.8zM102.9 632.2h1.2v1.2h-1.2zM223.5 627.8h0.8v0.8h-0.8zM201.6 643.4h1.2v1.2h-1.2zM228.7 662.1h1.2v1.2h-1.2zM187.7 599.9h0.8v0.8h-0.8zM96.9 609.3h1.2v1.2h-1.2zM161.8 609.9h1.2v1.2h-1.2zM274.3 621.1h0.8v0.8h-0.8zM143.8 703.2h1v1h-1zM133.9 650.1h1v1h-1zM215.6 618.7h0.8v0.8h-0.8zM290.8 667.5h1v1h-1zM265.0 694.6h0.8v0.8h-0.8zM101.2 678.7h0.8v0.8h-0.8zM112.9 661.5h0.8v0.8h-0.8zM152.9 726.1h1.2v1.2h-1.2zM219.3 636.8h0.8v0.8h-0.8zM243.0 684.5h1.2v1.2h-1.2zM155.9 599.0h1v1h-1zM106.6 607.7h1.2v1.2h-1.2zM254.8 690.1h1v1h-1zM264.3 633.8h1v1h-1zM231.5 645.4h0.8v0.8h-0.8zM185.0 617.7h1.2v1.2h-1.2zM294.8 684.5h1.2v1.2h-1.2zM277.0 645.5h1v1h-1zM212.2 655.1h1v1h-1zM157.2 698.2h1v1h-1zM209.7 716.1h1.2v1.2h-1.2zM192.9 615.7h1v1h-1zM198.0 607.6h1.2v1.2h-1.2zM155.4 611.6h0.8v0.8h-0.8zM274.7 641.2h1.2v1.2h-1.2zM220.0 635.3h0.8v0.8h-0.8zM296.1 725.5h1v1h-1zM225.8 713.7h1.2v1.2h-1.2zM200.7 726.5h1.2v1.2h-1.2zM290.9 639.7h1v1h-1zM110.1 713.9h1.2v1.2h-1.2zM136.7 644.7h0.8v0.8h-0.8z" fill="#3b3566" opacity=".8"/><path filter="url(#halo)" d="M213.0 693.7l-1.2 -.7l.6 -.9l.8 .6zM213.6 698.5l.7 -2.4l5.0 -2.1l-2.9 4.6zM219.0 694.2l-1.1 -1.0l-.5 -2.2l.9 .4zM204.2 695.8l.7 -.9l2.0 -.6l-.3 1.6zM218.8 701.0l-.9 -1.5l-.1 -1.4l.8 .8zM217.9 684.7l1.5 -2.3l1.2 -.6l-1.1 3.1zM211.3 683.2l-3.9 -.1l-.1 -1.6l2.4 -.3zM223.7 692.0l-2.5 .1l-1.0 -2.1l1.5 -.2zM160.5 726.4l1.2 -.9l.9 .5l-.6 .9zM158.5 731.8l-.0 -3.3l.8 -1.7l1.1 1.7zM245.3 673.1l-2.5 -1.5l1.0 -4.6l2.4 2.9zM240.1 673.3l.7 -1.1l3.2 -.1l-2.0 1.8zM244.1 674.5l-1.5 .1l-1.7 -1.7l3.2 .0zM240.9 674.6l-1.9 -1.4l-.1 -1.2l1.1 .7zM242.0 680.1l1.5 -.6l1.1 .1l-2.0 1.1zM250.3 676.5l-.6 -1.1l.7 -1.5l.7 .8zM250.8 672.0l-1.6 .0l-.4 -.9l1.3 -.3zM250.2 660.0l.6 -.9l1.4 -.0l-.2 1.3zM184.3 679.5l-2.0 -.1l-3.0 -2.3l2.8 -.6zM184.1 683.5l-.8 -4.6l1.6 -4.3l.7 4.3zM186.0 681.0l.0 -1.5l2.0 .2l-.9 1.9zM179.7 673.9l1.3 -.4l2.2 .6l-1.6 .4zM182.3 689.4l-1.2 -2.3l1.0 -.4l.7 1.5zM190.7 672.2l-.8 .8l-1.4 -1.2l.7 -.2zM123.9 692.4l-1.7 -.9l.1 -1.4l1.4 .7zM126.6 694.6l-.9 -3.3l2.0 -2.5l1.7 2.7zM191.8 694.6l.4 -2.0l2.9 -2.2l.6 3.3zM121.4 603.2l1.3 -3.8l2.1 -1.3l-.7 4.1zM125.7 601.2l-3.4 -1.8l-.8 -4.2l2.2 1.3zM120.6 597.4l1.3 -1.5l1.3 1.0l-1.3 2.0zM120.6 597.4l-1.5 -1.1l.4 -1.0l1.2 .3zM122.6 608.0l-3.4 .2l-1.5 -2.6l5.2 -1.3zM123.7 612.6l-1.5 .1l-.4 -.8l1.5 -.3zM112.6 602.5l-.8 -2.1l1.0 -1.5l.9 3.0zM284.8 640.9l1.6 -1.0l1.1 1.0l-1.9 .8zM291.8 644.6l-1.4 1.0l-2.8 -2.9l1.5 -1.0zM290.9 638.6l-3.5 -1.5l-.1 -1.9l2.9 .4zM242.8 601.9l-2.9 -3.0l3.0 -2.4l1.6 4.4zM242.2 599.5l.4 -3.1l3.4 .9l-1.8 2.1zM246.2 607.3l-2.0 -1.9l.8 -2.2l2.5 1.3zM239.1 605.4l-2.2 -1.7l1.4 -2.2l2.4 1.0zM232.0 604.7l3.4 -3.7l2.5 2.1l-1.4 2.6zM236.0 599.8l-1.3 .7l-.4 -1.4l1.8 .0zM263.2 630.0l1.3 -4.5l3.9 -.5l-.6 5.5zM264.6 626.9l-1.2 -.2l-.4 -1.6l1.9 .0zM261.6 631.5l-.9 -1.6l-.1 -2.7l2.6 1.8zM260.3 621.7l-.9 -2.1l3.1 -.3l-.2 2.9zM266.7 646.0l-2.5 .3l-1.0 -1.0l1.4 -.7zM265.4 647.7l-4.8 .5l-2.1 -3.0l3.2 -1.0zM260.8 649.1l-1.0 .5l-1.2 -1.2l.8 -.1zM267.2 647.9l4.1 -.9l2.9 .7l-3.5 2.1zM267.3 656.9l-5.5 .4l-1.1 -3.4l5.4 -1.1zM263.3 637.8l-2.2 -1.5l.1 -2.4l2.0 1.5zM242.8 702.5l-.6 -2.2l3.5 -1.0l.4 3.2zM250.7 631.7l1.0 -2.3l1.1 .6l-.5 1.7zM250.3 626.9l-.7 -1.1l1.1 -1.3l.7 1.6zM252.9 626.5l1.2 -1.3l2.8 .3l-.8 1.1zM244.3 634.2l.6 -1.7l1.9 -.7l-.1 1.2zM242.7 639.1l.3 -1.6l1.4 .1l-.0 1.3zM259.4 623.6l-1.3 -1.4l.4 -.7l.9 1.0zM204.1 689.3l-1.0 -1.2l.5 -.6l1.5 .4zM206.0 696.6l-3.6 -3.0l-.0 -3.7l4.1 3.7zM209.9 688.0l-1.9 -.6l-.0 -1.0l1.5 .1zM199.9 684.9l-1.7 .4l-2.2 -1.7l3.3 -.5zM204.9 680.8l-2.5 .1l-1.2 -.9l1.7 -.3zM201.5 679.0l-.9 -.4l-.4 -1.7l1.3 1.3zM204.2 700.4l-.8 .2l-1.7 -2.7l1.3 .8zM204.7 678.6l1.1 -2.2l2.7 -.7l-1.5 3.2zM135.2 628.1l-.5 -1.3l.8 -2.3l.6 1.5zM141.1 628.0l-1.2 .1l-1.0 -.3l1.1 -.4zM135.9 622.0l-2.6 -1.8l1.6 -1.4l2.1 1.3zM142.7 631.0l-3.7 -2.6l1.6 -1.9l2.0 1.6zM249.8 631.0l.9 -1.9l.6 -.6l-.3 1.5zM244.2 630.5l2.1 -2.4l1.3 1.3l-.1 3.4zM246.1 629.8l-2.8 -1.8l1.2 -2.2l2.0 .9zM252.8 624.2l-1.8 -1.2l-.1 -.8l.9 .3zM256.9 626.0l-4.3 .1l-2.4 -2.4l3.9 -2.4zM258.5 623.0l-1.3 .5l-1.0 -1.3l.4 -.4zM187.2 623.7l.4 -.6l1.7 -.6l-1.4 1.8zM238.0 723.0l-.0 -1.6l1.1 -.3l.6 1.1zM239.3 726.5l-1.3 -.2l-.5 -2.1l2.2 .5zM234.3 723.0l-2.2 -.7l-1.6 -4.2l1.9 1.3zM227.8 721.1l1.3 -1.6l1.4 .5l-.9 2.0zM239.4 727.9l.4 -1.4l.8 -1.2l-.2 2.0zM245.2 726.3l-1.2 .3l-2.8 -3.3l3.4 -1.0zM196.6 638.9l-2.4 -2.3l.2 -1.5l2.8 2.0zM205.5 624.1l-2.3 .5l-2.7 -3.6l4.5 -.9zM208.9 623.5l-1.5 1.1l-4.7 -2.3l3.8 -.8zM210.5 625.9l-2.3 -1.3l.9 -1.4l1.8 .5zM291.6 648.6l-2.1 -.8l-.3 -1.5l2.9 1.1zM288.6 650.0l-1.7 -.3l.3 -1.4l1.4 -.1zM288.4 650.8l-2.1 .7l-.7 -1.8l1.7 -.9zM217.3 709.2l-3.1 -.9l-.7 -3.8l3.6 .9zM245.8 608.6l-.4 -2.2l2.7 -.8l-.0 1.8zM241.4 609.5l3.8 -4.8l2.7 3.4l-1.0 2.3zM244.2 608.3l-1.1 2.5l-3.3 -3.1l3.2 -1.7zM255.7 611.5l-1.4 -1.0l.3 -1.5l2.3 .8zM239.1 610.1l-.0 -1.7l.9 -.7l-.3 2.1zM238.3 611.9l-1.2 -1.2l-.5 -2.6l1.4 .8zM248.5 600.4l-2.5 -2.6l4.2 -3.9l1.1 1.9zM245.8 617.5l1.6 -1.7l1.0 -.0l-1.0 1.3zM240.3 628.5l1.6 -1.8l2.4 -.5l-2.7 2.8zM243.3 631.0l-.1 -1.6l.5 -1.3l.7 1.0zM237.8 630.7l-1.9 .6l-2.6 -2.5l2.0 .5zM247.5 625.9l-1.8 .2l-1.0 -2.2l1.2 .4zM234.2 629.1l-.5 -1.3l.5 -1.0l.4 1.7zM243.3 625.1l.6 -2.1l4.0 -.6l-.9 2.3zM132.7 714.6l-2.7 -.6l-.6 -1.5l2.1 .7zM237.8 711.6l.5 -2.6l2.0 -3.8l.9 2.5zM235.8 704.8l.5 -2.1l2.2 1.2l-1.6 1.2zM233.9 703.2l1.2 -1.7l1.6 .0l-.9 1.8zM235.2 714.0l-1.9 .5l-.3 -1.1l.7 -.7zM188.0 671.5l-2.6 -2.6l1.1 -3.6l2.3 3.3zM184.7 667.8l-3.1 .8l-.7 -2.8l2.2 -1.3zM188.3 664.6l-1.9 .6l-2.2 -2.5l2.9 -.8zM196.1 671.7l-.3 -3.2l1.6 -1.4l.3 2.4zM268.0 678.7l.0 -4.0l1.8 -1.5l1.3 4.4zM269.8 672.5l-2.2 -.5l-.9 -2.1l2.0 -.9zM190.7 721.4l.1 -2.0l1.7 -1.0l-.2 1.5zM186.6 723.3l.6 -1.5l1.6 .8l-1.0 1.2zM188.2 728.7l-1.1 -2.4l.6 -1.8l1.3 2.2zM183.4 722.0l-.5 -2.5l2.5 -1.7l.9 1.5zM196.8 711.5l.5 -.9l1.1 1.2l-.6 .8zM198.5 719.8l-2.8 .4l-1.4 -3.4l4.2 .0zM204.4 720.7l-1.2 -1.8l1.4 -1.2l1.1 1.6zM177.4 714.8l1.3 -1.9l1.7 -.4l-.8 1.4zM131.7 631.3l-.3 -1.3l3.1 -2.5l-1.1 3.0zM129.6 632.2l1.0 -1.1l2.4 .7l-1.6 .9zM153.6 652.0l-.8 -.7l.3 -2.0l.7 1.2zM145.1 648.7l2.0 -2.2l4.9 3.0l-2.0 2.7zM154.7 654.7l.4 -1.5l1.8 -.7l-.9 1.5zM157.9 658.8l.7 -2.0l1.1 .1l-.5 1.7zM165.3 651.6l-3.9 3.0l-2.9 -4.9l1.8 -1.3zM152.6 643.3l.3 -1.4l2.7 -.3l-2.5 2.5zM163.9 657.5l-.2 -3.6l3.0 -4.1l-.5 3.7zM162.3 659.8l-2.1 -.3l-1.0 -1.6l1.6 -.1zM243.1 601.1l.1 -1.9l2.0 -.9l.3 1.6zM246.5 599.0l-1.1 -1.1l.7 -1.7l1.5 2.4zM239.8 598.9l-1.1 -1.3l1.5 -2.1l.9 2.0zM237.1 601.1l-.3 -2.7l1.3 -.6l.7 3.0zM241.2 601.9l-2.4 .5l-4.0 -2.9l2.4 -1.0zM201.2 690.0l1.2 -1.2l1.3 .5l-1.4 1.4zM206.1 690.4l-1.4 -.1l-.7 -1.0l1.7 .1zM200.5 685.1l2.2 -1.7l1.2 .7l-.6 2.6zM199.3 682.8l1.4 -.7l3.5 -.4l-2.5 1.9zM204.4 689.1l2.5 -2.0l2.9 1.5l-2.4 2.2zM208.9 700.1l-1.6 .7l-.6 -2.7l1.4 .4zM275.7 686.2l-1.9 -.0l-1.2 -1.5l2.2 -.3zM279.4 627.0l-1.5 -.3l-.6 -1.5l2.0 .3zM129.5 627.9l-.3 -2.0l1.4 -.3l.4 1.7zM132.8 625.6l.7 -2.3l.9 .0l-.3 2.2zM129.4 620.8l1.3 -2.1l1.8 -.4l-1.4 2.8zM133.9 632.0l.1 -1.8l2.1 -1.6l.4 2.0zM136.4 624.5l2.4 -1.6l2.7 1.4l-3.2 1.9zM118.9 623.3l1.0 -.8l1.4 -.2l-1.0 1.2zM233.2 715.6l-.7 -1.1l-.4 -1.5l1.6 2.1zM229.8 714.8l-1.1 .1l-.9 -1.3l1.0 -.3zM234.3 722.0l1.5 -3.9l4.3 -.1l-1.5 2.9zM229.8 636.2l1.6 -5.7l4.6 1.3l-.9 3.9zM226.9 629.9l2.3 -1.1l2.6 1.4l-3.6 .7zM226.3 639.5l-.4 -.6l1.4 -2.0l-.0 1.4zM225.6 633.0l-2.1 -6.1l4.5 -1.5l-.2 5.4zM232.4 625.7l-2.2 -1.5l-.8 -2.6l3.8 1.0zM227.6 642.1l-2.2 1.6l-4.3 -2.2l2.4 -1.6zM223.1 632.0l-.4 -.6l.3 -1.5l1.4 1.5zM219.6 638.5l1.6 -1.7l4.6 -.3l-2.7 3.7zM106.9 660.3l3.3 -2.8l2.5 .1l-2.2 2.6zM112.7 656.9l-1.9 .5l-.1 -1.3l1.2 -.4zM111.6 656.8l-2.3 -2.3l1.5 -1.4l1.8 2.1zM142.8 728.3l-2.7 -1.1l-.2 -1.8l3.4 .8zM139.4 728.3l-1.2 .2l.3 -1.9l1.8 .7zM144.6 731.0l-3.5 -1.7l2.2 -3.0l2.7 2.9zM146.2 725.3l-1.5 .1l-1.4 -2.3l2.5 .7zM146.6 723.6l-1.8 -1.2l.1 -1.0l.7 .1zM146.9 719.4l-.3 -1.2l1.2 -.5l.4 .6zM128.7 608.5l-3.1 -.2l.1 -1.1l1.4 -.8zM123.6 609.0l-1.7 -2.7l1.3 -2.3l.4 2.0zM121.9 607.1l-.2 -1.3l1.1 -.5l.1 1.0zM120.2 614.7l-.4 -1.6l.7 -.8l.7 1.1zM182.3 693.3l1.2 -1.7l2.2 1.5l-1.6 .7zM228.4 671.8l2.1 -.7l1.6 1.6l-2.1 .9zM232.2 670.8l-2.1 -.5l.8 -1.2l1.0 .1zM232.2 667.7l2.4 -1.6l1.1 1.0l-1.0 .9zM224.7 676.0l-.5 -2.4l.9 -.7l1.0 2.3zM162.0 609.7l-1.3 -.9l-.2 -2.3l2.1 1.3zM157.8 611.0l1.9 -2.2l1.8 -.4l-1.6 1.6zM166.4 613.5l-1.2 -.5l-.7 -1.3l1.8 .7zM164.9 605.9l1.5 -1.0l.9 .0l-1.4 1.2zM152.7 690.4l1.2 -3.0l3.9 .1l-2.9 3.4zM153.7 689.7l-2.0 -1.4l1.0 -2.7l1.0 .7zM204.5 696.4l-.7 .8l-1.9 -2.2l1.7 -.1zM206.9 698.3l-3.2 .4l-.0 -1.2l2.4 -.1zM132.8 660.6l-.7 -1.9l.2 -1.9l1.0 1.9zM134.4 658.1l.3 -2.2l1.2 .0l.2 1.5zM136.3 662.2l-2.5 .4l-1.1 -2.0l2.3 -.7zM140.5 652.2l-4.1 1.5l-1.1 -4.1l4.7 .1zM132.3 666.1l.5 -.8l1.7 .2l-1.3 .7zM137.1 669.9l-.6 -4.7l2.4 -1.5l2.3 3.7zM139.6 667.0l-3.2 3.3l-2.9 -4.7l3.5 -.3zM119.8 651.4l.9 -2.8l3.0 -.5l-1.0 5.5zM171.4 698.2l.7 -1.0l1.8 -.8l-1.5 1.6zM170.9 699.8l-2.0 1.6l-1.5 -3.1l3.2 -.6zM215.0 633.4l1.0 -2.0l1.6 -.7l-1.4 2.4zM211.7 631.6l-.3 -.9l.8 -1.0l.5 .8zM276.0 701.8l1.2 -.7l1.2 .3l-1.5 .6zM278.1 700.5l-.5 -1.6l2.1 -1.0l.5 1.6zM274.6 706.7l-.8 -2.8l3.2 -1.7l.9 3.7zM190.7 662.5l.1 -1.4l1.5 -.5l.2 .6zM194.9 660.4l-3.6 -2.7l1.5 -5.1l2.4 1.4zM198.8 661.1l-4.2 -.0l.2 -4.5l2.2 .0zM244.2 635.1l-1.8 1.4l-.6 -1.1l.8 -1.0zM247.7 634.8l-1.7 -.2l.2 -.9l1.2 .2zM242.4 631.5l.9 -1.2l.9 .1l-.8 .8zM239.6 639.5l-1.3 .6l-.9 -2.4l2.1 .9zM249.2 641.9l-2.7 -1.3l.7 -1.3l1.8 1.3zM240.0 630.9l-1.5 -.2l-.7 -1.9l1.7 -.6zM240.2 644.7l2.6 -1.8l3.2 1.0l-2.3 1.4zM250.3 646.1l-2.7 -.6l-.6 -1.5l1.9 .5zM117.9 686.3l-1.1 -2.2l1.6 -.8l1.3 1.7zM115.1 690.4l-.3 -1.4l3.9 -1.4l-1.2 3.8zM120.2 680.7l-3.1 -1.0l-1.3 -3.5l3.3 1.0zM107.9 681.8l2.9 -3.4l1.9 2.2l-2.0 1.8zM121.6 687.5l.7 -.5l1.2 .4l-.8 .8zM123.5 681.0l-1.3 .8l-1.2 -1.3l2.0 -1.5zM115.3 679.7l1.4 -3.3l2.9 1.1l-2.3 3.5zM123.3 690.2l2.9 -2.6l1.5 .0l-2.2 2.8zM153.3 716.3l-.1 -5.2l1.2 -.8l1.9 1.7zM150.7 717.3l2.5 -1.6l2.9 .1l-1.3 1.5zM141.3 691.2l-2.9 1.0l.0 -1.5l1.9 -.3zM138.4 697.3l-.9 -2.7l.8 -1.3l1.6 .5zM128.0 640.3l.9 -1.5l2.1 .0l-.8 1.1zM271.7 605.3l-1.3 -3.7l.8 -2.0l1.2 .9zM275.7 605.3l-3.4 -.2l-1.7 -2.1l4.3 -.6zM277.1 599.1l-.3 -.8l1.2 -1.6l.7 1.1zM268.5 608.4l.5 -1.8l1.6 .2l-1.0 1.2zM174.8 602.7l-1.0 -1.6l.9 -1.2l.8 .3zM297.9 637.2l-1.9 .7l-1.0 -.5l1.8 -1.6zM301.9 639.1l-2.9 -3.4l2.7 -2.0l1.7 1.9zM290.3 641.4l.8 -.9l2.3 -.6l-.7 1.5zM290.7 637.6l-3.0 .9l-1.1 -.9l1.9 -.9zM247.3 642.9l-1.5 -1.6l.6 -3.3l1.7 2.1zM254.3 640.1l-2.3 .8l-1.6 -3.1l2.3 .1zM237.6 661.9l-1.6 -.4l1.0 -1.6l.9 .6zM240.0 663.5l.7 -3.0l2.7 -1.0l-.2 2.4zM230.9 660.0l-1.1 -2.8l1.0 -3.0l1.6 3.2zM264.8 651.6l-.6 -2.0l1.0 -.7l.5 1.9zM263.8 653.5l-3.7 -1.1l-.4 -4.6l2.2 1.2zM259.1 652.3l-1.6 -1.3l1.6 -1.4l.7 1.7zM273.1 651.1l-3.1 1.7l-4.0 -2.1l4.8 -2.0zM240.2 629.1l-1.5 -2.1l2.2 -.6l.4 1.3zM241.0 624.3l-1.3 1.1l-2.5 -1.9l2.3 -.5zM241.3 622.7l-2.7 -2.2l-.0 -2.7l4.1 2.2zM234.0 629.1l.5 -2.2l2.5 .0l.7 .9zM234.2 623.4l-.9 -.7l.8 -1.7l1.0 .9zM232.8 621.8l1.4 -2.6l2.4 -1.5l.0 3.0zM278.3 611.2l-1.3 1.3l-2.3 -3.6l2.1 -.9zM282.0 609.2l-2.1 -.2l-2.0 -2.4l3.3 .8zM276.6 605.4l-1.6 -1.1l-.4 -1.4l1.4 1.1zM271.2 617.3l-.1 -1.0l1.4 -1.1l-.1 2.1zM286.8 616.0l-.7 -1.8l1.2 -1.0l.1 2.1zM277.6 618.3l1.8 -2.1l5.1 -.1l-2.4 2.9zM277.2 603.7l-2.3 -4.3l1.6 -1.2l1.2 1.3zM273.3 621.6l1.0 -3.5l4.6 .0l-2.2 4.3zM177.2 648.5l-2.4 -1.5l1.8 -1.8l.6 1.3zM170.5 648.7l.5 -1.0l1.5 -.2l-1.1 1.2zM175.7 656.6l.9 -4.3l3.2 -1.9l-.8 2.8zM171.5 644.0l-1.1 -.5l-1.8 -2.4l2.2 1.4zM179.8 639.8l-1.2 -1.5l-1.2 -2.8l2.3 1.0zM180.5 661.1l-4.4 -.8l.3 -3.8l4.6 2.0zM163.1 647.3l2.7 -1.4l2.5 .4l-1.8 1.7zM178.5 634.7l.3 -1.6l2.0 .2l-1.3 2.0zM142.8 667.0l3.1 -2.3l2.8 1.3l-3.8 1.5zM142.6 664.6l-1.1 -3.5l1.5 -1.9l.6 3.7zM204.6 686.7l.6 -2.1l3.4 -.5l-.8 1.6zM217.3 659.1l-.4 .3l-1.6 -.9l.8 -.5zM217.6 660.5l.1 -1.9l1.9 -1.4l1.0 2.5zM215.1 656.1l-1.8 .0l-1.4 -2.1l2.4 .6zM221.5 657.1l.3 -2.2l5.9 -2.3l-2.7 3.2zM270.8 697.0l-1.0 -.4l-1.3 -1.6l2.5 .5zM273.1 698.6l-2.8 -3.7l2.1 -2.4l2.0 3.3zM281.8 612.6l-.0 -.8l2.0 -.6l-1.0 1.5zM162.1 708.6l-2.9 -.1l-1.7 -1.5l2.8 .1zM161.5 706.1l-2.5 -4.1l4.7 -1.4l-.1 2.3zM258.2 613.0l-2.6 -4.7l2.9 -3.0l2.7 4.8zM270.9 646.7l-4.7 -1.6l-1.7 -3.1l3.5 1.0zM267.8 651.7l-1.0 -3.3l4.7 -1.9l-.2 2.1zM265.6 641.8l.8 -1.7l3.0 -.1l-.7 1.9zM269.8 640.0l1.1 -3.9l2.1 -2.3l.4 3.8zM222.6 641.3l.0 -4.4l3.8 .2l-.3 4.1zM222.4 640.7l-1.0 -.2l-1.3 -1.1l1.9 -.4zM225.3 645.5l.5 -1.5l1.3 -.4l-.2 1.1zM225.9 645.4l-2.0 -1.5l.7 -2.1l1.4 1.2zM230.7 641.4l1.0 -1.3l1.4 -.2l-.2 1.0zM232.4 642.6l-1.3 .1l-.9 -1.4l1.4 .1zM224.8 633.9l1.3 -1.7l1.3 -.1l-.4 1.1zM230.0 629.1l-1.4 -.9l-.6 -1.5l1.4 1.2zM227.1 608.3l-1.8 .3l-.8 -2.8l1.2 -.1zM227.2 607.6l-.6 -2.3l.7 -.7l.9 1.1zM229.9 611.2l-.0 -2.2l1.3 .1l.5 1.2zM190.9 683.7l-.4 -1.5l1.7 -.9l.2 1.3zM189.2 682.8l-1.3 -1.9l3.6 -3.4l.0 3.8zM191.4 678.7l-2.3 .3l-.2 -1.9l1.2 -.1zM188.6 683.1l-1.8 .6l-.8 -1.7l1.0 -.5zM199.1 687.2l-2.8 -2.1l2.6 -3.2l3.1 2.8zM198.0 677.3l-.4 -2.4l2.7 -2.4l.5 5.9zM193.2 677.5l-1.8 .1l-.4 -1.3l1.1 -.2zM185.6 693.4l1.4 -1.2l3.8 1.1l-1.4 1.4zM179.6 705.2l-4.7 2.7l-1.9 -2.1l1.6 -2.8zM172.7 707.9l-1.4 -1.8l.7 -5.0l1.8 2.5zM177.3 702.5l-.2 -.9l1.2 -.8l.1 1.7zM170.2 706.2l1.6 -4.5l1.2 -.2l-.1 1.9zM239.6 658.8l-1.3 -2.1l.9 -1.9l.9 1.3zM244.9 657.4l-1.5 .4l-1.2 -1.2l1.8 -.3zM243.8 659.9l.4 -.8l1.8 -.2l-1.0 .9zM240.9 661.5l-2.2 .3l-.6 -.8l1.5 -.5zM246.4 666.9l-4.7 -2.4l.3 -3.7l2.2 -.1zM234.1 651.7l-2.3 .2l-1.0 -4.0l3.1 1.8zM148.2 653.3l-4.5 -.3l-.3 -1.7l1.6 -.6zM142.0 622.3l1.2 -.9l1.4 -.2l-1.4 1.7zM142.0 623.9l-2.5 -2.2l1.1 -2.5l1.1 2.2zM144.0 629.0l-2.8 .6l-.9 -1.1l.7 -.4zM275.5 602.3l-2.9 -2.3l1.1 -4.8l3.7 2.6zM274.1 600.4l3.3 -2.7l1.7 2.7l-1.6 2.4zM279.7 598.4l-2.5 -.9l.3 -2.4l1.8 1.4zM279.8 603.1l-1.9 -1.1l-.3 -1.2l1.8 .6zM224.3 657.6l2.6 -1.7l3.7 1.6l-2.8 1.7zM224.6 654.1l2.2 -.8l2.0 .5l-2.4 1.6zM232.9 658.7l-1.0 -.3l-.5 -2.1l1.0 .4zM217.9 651.2l3.1 -1.6l3.5 1.6l-3.0 2.6zM225.9 664.0l.7 -1.2l1.2 -.1l-.3 1.5zM218.2 661.2l-1.7 -.5l.0 -.6l.9 -.2zM218.1 625.3l-1.2 -.5l-.4 -1.4l.6 .0zM216.9 620.0l-1.0 .6l-.5 -.8l1.1 -.2zM218.0 618.2l-.8 -.7l-.0 -1.1l.9 .2zM151.4 609.2l-.8 -1.9l2.7 -2.7l-.2 3.2zM139.6 710.4l1.5 -1.6l.7 .7l-.2 .6zM136.6 715.0l.7 -2.0l1.1 .1l-.7 1.5zM143.5 710.4l1.0 -4.0l2.9 -.8l-.3 3.5zM168.4 643.5l1.0 -1.3l1.0 -.3l-.2 .7zM171.7 639.2l-.9 -1.2l.8 -1.0l1.0 .9zM176.7 644.2l-3.1 2.0l-3.8 -2.1l4.6 -1.3zM169.9 651.3l2.1 -1.3l1.2 .3l-1.2 1.1zM170.5 651.5l-2.4 -.8l-.5 -4.9l3.4 1.7zM169.5 633.4l-1.1 -1.8l.4 -.8l1.0 1.2zM227.4 631.9l.9 -2.2l.9 -.7l-.6 2.2zM229.2 635.4l-2.0 .4l-1.6 -4.5l3.2 2.7zM231.5 628.8l.2 -1.1l.5 -.6l.5 .7zM291.6 652.2l1.8 -2.5l1.7 .2l-.3 1.6zM291.0 653.0l-1.7 -.8l-.7 -1.3l1.0 -1.1zM289.0 651.2l1.9 -3.8l1.3 -.3l.2 1.7zM119.0 633.3l-.5 -3.7l2.2 .3l-.6 2.7zM124.8 631.2l-2.7 -.1l-2.2 -1.3l3.3 -.3zM122.8 627.2l.5 -1.3l1.3 -.6l-.5 1.4zM123.4 633.9l-.2 -1.9l2.1 .6l-.9 1.8zM124.0 628.5l-.8 -.5l1.0 -1.3l.9 .3zM131.2 630.0l-1.3 .1l-1.1 -1.0l2.0 -.1zM206.8 644.3l1.5 -1.9l3.4 1.4l-2.9 1.8zM202.0 645.5l.8 -2.2l4.0 -.6l-1.3 3.6zM212.1 650.2l1.5 -1.6l1.2 .8l-1.4 1.0zM204.2 653.4l1.1 -4.0l4.8 -.1l-1.4 3.9zM244.6 715.6l-.7 -1.1l.8 -1.2l.5 1.6zM266.5 666.8l-2.1 1.1l-2.9 -1.7l3.5 -2.2zM263.2 666.1l-1.3 -1.5l.1 -1.5l1.6 2.2zM254.0 676.8l.4 -1.6l2.4 -.7l-1.2 1.9zM257.4 673.1l-1.0 1.5l-1.2 -1.8l.6 -.4zM258.7 674.4l.4 -2.1l1.8 -1.9l-.0 3.3zM257.8 669.2l-1.2 -.6l.9 -1.5l1.3 .7zM261.8 668.9l-3.6 -.9l-.9 -2.5l3.2 .8zM249.2 679.0l-1.9 .7l-1.0 -1.2l1.1 -.6zM250.1 688.0l-.8 -2.3l1.8 -2.8l.5 1.5zM263.1 677.6l-1.5 -.1l-.3 -1.4l1.5 .1zM270.4 676.5l.4 -1.2l1.0 -1.4l.1 2.0zM270.6 678.9l.3 -1.9l1.5 .2l-.5 1.6zM266.6 676.5l-1.5 .6l-1.2 -.3l1.0 -.5zM274.3 669.5l.6 -1.0l1.8 1.0l-1.1 1.0zM272.6 671.4l-.3 -2.4l1.7 -.1l.5 1.0zM259.6 673.9l2.3 -2.4l2.0 1.1l-1.3 1.9zM269.9 668.1l-.3 -1.5l.8 -1.4l.7 1.8zM281.8 676.1l-.1 -2.1l1.2 .1l.2 1.2zM108.7 621.1l1.4 -2.2l4.0 -.3l-1.6 3.1zM109.2 618.9l-1.6 -.7l1.1 -2.5l1.0 2.2zM108.6 626.9l-2.7 -2.9l.3 -1.8l2.3 2.1zM107.3 614.4l-.8 -2.9l2.9 -.4l-.4 2.1zM107.9 624.6l.6 -1.0l2.0 .7l-1.4 .7zM101.1 622.6l-1.2 .4l-1.1 -.6l.8 -.7zM117.7 631.7l-2.8 -2.3l.2 -2.6l2.7 1.3zM113.8 631.9l.0 -2.9l1.2 -.9l-.1 3.2zM268.6 696.6l-1.0 -1.7l1.5 -.7l.4 1.8zM272.4 695.4l-1.7 -2.2l1.1 -2.4l1.9 1.3zM264.0 693.9l2.1 -4.6l4.1 1.6l-.6 2.4zM132.0 625.1l1.1 -3.1l3.4 .6l-1.6 3.2zM132.6 628.0l-2.2 -1.4l.5 -1.9l1.7 -.3zM224.2 633.2l-2.3 -1.3l.4 -1.4l2.4 .8zM221.5 629.0l-1.2 -2.4l1.9 -1.8l.8 3.0zM216.9 630.8l1.5 -1.0l1.9 .5l-1.1 2.0zM222.3 627.3l1.2 -5.0l3.1 2.2l.4 2.4zM218.3 642.4l-.4 -4.7l1.9 -.8l.0 4.8zM229.3 630.7l.5 -1.2l1.3 -.4l.1 .5zM220.0 644.4l-1.3 -.1l-.3 -3.3l2.6 1.4zM228.1 627.4l.7 -1.4l1.0 -.2l-.0 1.1zM276.1 608.6l-1.5 .2l-.4 -2.7l.9 -.0zM275.7 612.6l-1.6 -2.3l1.6 -3.1l1.3 3.5zM273.1 606.3l-2.0 .3l.2 -.9l1.8 -.1zM275.4 615.7l-3.4 .5l-2.2 -2.2l4.1 -1.0zM284.3 605.1l-2.1 -1.8l.7 -1.5l2.2 1.2zM282.7 601.5l-2.2 1.0l-1.8 -5.5l2.9 -.4zM276.0 600.3l-1.9 -2.1l1.4 -2.9l2.0 3.2zM282.9 607.3l-1.0 -.4l.5 -1.7l.7 .3zM239.1 694.2l1.5 -.7l1.0 .7l-1.2 .3zM148.2 606.4l1.0 -6.6l2.2 .7l-.1 4.8zM148.0 603.3l-2.7 -.5l-.1 -4.3l4.3 1.9zM146.3 606.1l-1.4 -2.5l1.0 -3.3l1.1 3.2zM110.9 705.6l-.3 -1.6l1.1 -.4l.5 1.1zM113.8 703.3l1.1 -3.1l2.9 .5l-1.2 3.0zM107.5 703.4l-1.0 .4l-1.0 -1.3l1.6 -.3zM116.2 704.2l-1.4 -.5l-.5 -1.5l1.7 .2zM115.0 699.7l-1.0 -2.1l6.0 -1.2l-1.0 2.3zM106.5 713.1l-1.3 .8l-1.4 -1.7l1.8 -.2zM180.4 639.1l-.9 -2.7l1.3 -2.6l2.3 2.9zM180.5 642.8l-2.9 -1.1l2.4 -5.3l3.0 5.2zM177.3 640.6l-1.9 -.1l-1.0 -2.5l2.0 .6zM174.2 640.3l.3 -2.5l1.4 1.0l-.5 .9zM181.6 631.7l-1.6 -2.0l.6 -.8l1.6 .5zM180.0 647.5l-2.5 .3l-.7 -2.9l2.5 -1.0zM228.6 676.9l-1.3 .8l-1.6 -1.6l1.9 -.7zM226.6 680.6l-.7 -1.4l.5 -1.8l.8 1.5zM259.7 625.8l-.9 -2.2l1.9 -2.5l2.4 2.9zM263.2 621.7l-.8 -1.3l.4 -1.7l1.5 .4zM264.4 630.0l.8 -2.2l1.4 .2l-.4 2.4zM229.9 609.6l-.7 -2.1l2.1 -2.7l.8 3.2zM231.4 604.2l-3.1 .1l.5 -2.8l2.0 -.2zM231.4 616.0l-.9 -2.3l2.3 -3.1l1.0 4.3zM234.6 643.6l-.4 -1.2l1.0 -.9l.1 1.5zM236.0 638.7l-2.2 -.1l-.2 -3.0l1.9 1.0zM233.0 642.5l-2.0 1.4l-2.6 -2.9l2.3 -1.4zM223.8 644.3l.5 -4.0l4.0 -.1l-2.5 2.6zM232.8 651.8l-1.8 1.7l-2.2 -2.8l1.9 -.5zM231.9 643.4l-3.4 3.2l-2.5 -6.0l2.7 .3zM227.9 639.7l-.9 .5l-1.6 -.3l1.9 -.6zM230.8 652.0l.2 -1.7l1.7 -.2l-.6 2.2zM163.3 712.8l-1.4 1.4l-2.8 -1.5l1.7 -1.1zM158.1 709.6l1.1 -1.9l.8 .2l-.5 1.7zM156.9 715.1l-2.2 .3l-1.1 -1.3l2.3 -1.0zM154.0 713.3l-2.2 -1.2l-.4 -2.8l2.4 .7zM199.0 720.0l1.9 -4.9l3.2 3.8l-4.4 3.6zM204.0 715.8l-1.2 -2.0l.7 -.9l1.1 1.6zM205.5 725.3l-1.6 -2.4l2.1 -1.2l1.5 1.4zM196.1 722.4l.0 -1.7l1.6 .5l-.6 2.0zM207.7 728.4l-1.3 -1.1l.5 -3.0l1.7 1.1zM192.4 723.4l-.1 -1.3l1.0 -.8l.1 .9zM212.2 723.5l.3 -1.2l3.0 -.9l-.9 1.4zM101.0 621.5l-3.2 -1.0l-.4 -1.6l2.6 .2zM97.5 620.9l-1.5 .4l-.5 -.8l1.3 -1.1zM100.9 627.1l-1.9 -.2l-1.0 -1.5l2.3 .2zM88.8 614.9l4.0 -2.8l1.3 1.9l-.7 1.5zM107.1 620.8l-1.3 -1.7l.7 -1.5l.7 1.9zM107.8 627.5l-2.1 .7l-2.3 -1.3l2.1 -.7zM190.2 712.1l.8 -1.6l.8 -.2l-.3 1.4zM291.9 620.8l-.2 -.8l.4 -.8l.6 1.1zM151.8 678.7l.2 -2.2l3.9 -.4l-1.4 2.0zM158.0 679.5l-.4 .3l-2.3 -2.0l2.6 .7zM247.7 668.1l-.9 .3l-1.6 -1.4l1.7 -.5zM242.4 663.0l1.7 -.6l1.8 1.1l-1.5 .4zM247.0 664.2l-2.6 -1.2l.9 -2.0l2.2 .7zM258.0 665.1l-2.7 .5l-2.2 -1.7l1.9 -.7zM244.8 659.4l-.6 .3l-1.8 -1.4l1.5 -.1zM243.1 667.2l-1.8 -1.8l-1.1 -3.9l2.9 1.6zM200.3 643.9l.9 -1.4l1.0 -.7l-.6 1.9zM203.8 640.5l-1.1 -2.3l.9 -.9l1.5 1.1zM205.5 640.9l-2.1 -.6l-.3 -1.5l1.1 -.2zM190.2 700.6l-.5 -3.7l2.3 -.5l1.0 2.6zM189.0 703.8l-1.5 -1.8l1.3 -1.3l.6 1.7zM189.8 703.7l-2.7 -1.9l.3 -2.8l5.2 3.0zM190.0 689.8l5.3 -.9l1.8 1.1l-3.9 .7zM193.6 693.0l-1.3 -.9l.9 -2.2l1.4 1.3zM200.5 705.0l-.6 -2.2l1.4 -.0l1.3 1.2zM204.9 658.7l-.2 -1.2l2.9 .2l-1.5 1.0zM196.6 647.3l-2.8 -1.6l.4 -4.1l2.7 2.2zM198.8 649.1l-1.4 .4l-1.8 -.8l2.0 -.2zM196.4 648.5l2.2 -2.2l.5 1.0l-.8 2.1zM239.9 635.5l-3.3 1.6l-.2 -7.0l4.8 2.7zM242.0 632.0l-1.7 -1.3l.4 -1.3l1.0 -.1zM234.9 632.9l-.3 -1.2l.8 -1.2l.3 1.4zM228.9 637.2l-.9 -1.1l.7 -2.4l.8 1.1zM232.6 637.8l2.5 -2.2l1.6 1.0l-2.5 2.1zM234.9 624.2l2.3 -2.3l1.7 .2l.0 2.5zM213.0 655.3l-.3 -1.5l.5 -1.0l.5 .5zM214.6 652.4l.1 -1.2l1.2 -1.2l.4 .8zM206.5 658.6l.3 -3.0l1.7 -.2l-.3 2.7zM295.1 669.1l-.9 -.8l.9 -1.3l.7 1.4zM295.5 664.8l-.9 -.2l-.4 -1.2l1.5 .8zM294.7 662.0l1.7 -1.9l.7 1.5l-.7 .9zM298.4 663.4l3.4 -3.8l3.9 2.7l-1.1 1.9zM253.0 689.9l.8 -1.2l1.1 -.3l-.9 1.2zM256.7 687.7l-.9 .5l-3.6 -1.8l2.4 -.1zM256.3 697.4l-.8 -2.2l2.1 -1.5l.0 2.1zM250.1 683.7l-1.6 -1.7l-.1 -1.3l1.5 .9zM247.5 685.1l.5 -2.5l.9 -.1l1.5 2.0zM256.8 701.2l-1.7 -1.0l.8 -1.8l2.1 1.4zM257.0 683.8l-2.3 -1.6l1.3 -3.4l2.0 4.0zM260.2 694.5l-1.9 -.8l-.2 -1.6l2.1 1.1zM261.1 701.4l-1.1 -.9l.3 -1.4l1.1 .2zM226.2 660.5l-.7 -4.1l1.7 -2.8l1.2 4.9zM232.3 661.0l-3.9 2.7l-2.0 -1.9l3.2 -4.0zM242.7 719.9l-1.7 -.5l-.7 -2.3l2.1 .7zM236.9 722.3l.7 -1.7l2.9 -.1l-.7 2.4zM246.0 716.8l-1.1 -2.2l1.0 -2.8l2.1 2.9zM243.0 725.3l-.5 -3.3l1.9 -1.8l.1 4.1zM235.5 721.0l1.0 -1.5l1.3 .1l-.4 2.0zM242.8 716.2l-1.0 -2.0l1.5 -4.1l.8 4.1zM230.3 629.8l-1.5 .1l-.7 -1.7l1.7 .1zM226.5 633.6l.2 -2.5l2.1 -1.0l-.4 1.8zM226.8 624.3l-.4 -1.9l.9 -1.3l.7 1.4zM236.0 636.4l-1.2 -3.2l.3 -1.3l2.0 1.6zM198.7 635.9l.8 -3.8l2.0 -.4l-1.1 2.9zM198.3 628.4l2.0 -.6l1.0 .8l-.9 .6zM205.6 633.9l2.0 -1.3l1.3 -.3l-.3 1.8zM205.0 629.2l-.4 -.8l1.1 -1.7l.3 1.4zM248.5 604.9l-.1 -1.5l.8 -1.7l.6 2.2zM252.5 609.1l-.6 -1.9l.7 -1.3l.6 .3zM199.0 632.3l.8 -1.9l1.4 -.4l-1.4 1.9zM199.6 631.6l-1.8 -.5l-1.7 -2.6l3.1 1.4zM199.6 627.9l-1.5 .3l-2.3 -1.4l1.7 -.9zM200.5 648.6l-.6 -2.2l1.3 -.7l.2 2.3zM147.2 658.4l-1.1 -2.6l1.2 -2.9l.6 4.1zM150.4 655.2l-2.0 -.9l-.1 -.9l1.6 -.1zM151.9 652.6l-1.0 .9l-1.1 -.4l1.5 -1.5zM158.5 664.4l-2.1 -.5l.3 -2.6l1.5 1.4zM151.7 662.1l.7 -3.2l3.7 -2.4l-.2 4.8zM162.4 668.7l-2.2 -1.8l1.0 -1.9l1.4 1.0zM204.4 660.5l1.1 -.7l2.6 -.1l-1.7 1.7zM207.4 659.1l-3.1 .3l-1.3 -1.9l1.5 -.2zM209.5 665.2l-1.0 -3.5l.2 -1.7l2.0 1.7zM214.3 664.7l-1.7 -.4l-1.2 -1.6l2.5 1.0zM211.0 659.7l-2.0 -.8l.1 -1.6l1.9 1.5zM199.7 672.9l2.4 -3.8l3.0 1.2l-1.8 2.2zM284.5 653.7l2.8 -1.0l3.2 .4l-2.8 1.7zM219.8 613.8l-.2 -1.6l1.5 -.5l-.3 2.4zM223.7 609.3l-2.3 .5l-2.2 -1.1l2.6 -.6zM167.7 660.5l-2.0 -1.1l-.1 -1.6l1.5 1.1zM169.1 656.0l-2.0 .8l-.4 -1.6l1.0 -.2zM166.4 656.0l-3.1 -3.3l1.8 -1.9l1.8 1.5zM159.8 664.0l.1 -1.6l2.3 -1.2l-.3 1.9zM161.5 664.4l.2 -1.3l1.4 -.4l-.3 1.2zM152.0 663.4l1.8 -3.6l2.2 -.7l.6 2.9zM169.8 657.3l.3 -1.8l1.5 -1.3l.6 2.4zM172.6 653.0l-.0 -3.2l1.3 -1.6l.1 2.6zM243.3 608.6l-1.6 .8l-.7 -1.3l.9 -.3zM244.0 607.1l.4 -2.4l1.1 .1l-.0 1.0zM242.8 615.3l-.0 -3.0l2.0 .1l1.1 2.3zM242.1 615.3l1.9 -3.0l3.2 -1.2l-1.4 2.5zM261.0 650.2l-1.4 -.6l-.8 -1.4l1.9 1.0zM254.9 647.1l.9 -2.3l3.4 -.9l-.9 2.6zM138.6 601.9l.7 -.8l1.2 .1l-.4 .9zM267.7 610.5l-3.0 -2.2l-.1 -3.2l3.0 2.4zM264.6 612.2l-.2 -1.1l.5 -1.1l.7 1.6zM265.1 628.0l-.6 -1.3l1.3 -.4l.3 .7zM266.9 629.3l1.1 -1.3l1.1 .9l-.3 .8zM267.9 631.2l-.8 -1.2l.5 -.8l.3 .7zM258.4 633.8l-1.7 -1.1l1.5 -2.5l1.2 1.8zM227.3 618.7l-1.2 -3.8l2.4 -.6l1.2 2.8zM233.9 617.8l-3.0 .3l-.4 -2.7l2.4 1.3zM234.9 616.6l-.9 -.9l.1 -1.4l1.6 .2zM226.7 623.8l-.1 -2.6l.9 .1l1.1 1.1zM223.1 622.9l-1.8 1.6l-2.6 -1.7l2.6 -1.4zM234.4 620.5l.7 -1.4l1.5 1.0l-.2 1.0zM215.7 604.3l-3.4 -.1l1.2 -4.0l2.4 1.3zM212.4 599.2l-1.5 .6l-.8 -1.1l1.3 -1.3zM209.0 604.4l2.0 -.8l.6 .9l-1.3 .8zM218.7 612.4l-2.5 -1.1l-.2 -3.1l3.3 2.0zM210.0 611.0l1.0 -2.0l1.2 .7l-.4 1.6zM224.4 606.0l-4.0 1.0l-1.9 -.3l3.3 -3.2zM134.7 655.2l.6 -1.2l1.9 .5l-1.4 1.3zM136.0 651.9l-2.4 2.4l-1.2 -2.8l2.9 -1.5zM136.7 659.3l2.1 -.8l.7 .3l-1.6 .8zM138.5 649.8l-.9 -2.4l.5 -2.6l1.1 2.6zM133.7 667.4l3.2 -4.2l2.3 -.4l-1.8 4.0zM139.5 665.7l.2 -1.4l1.3 -1.1l-.5 2.3zM139.4 660.0l-.1 -2.8l5.5 -1.4l-1.3 2.7zM131.9 646.8l-.7 .3l-1.9 -1.1l1.4 -.6zM275.3 649.1l1.6 -2.1l.7 .2l-.6 1.5zM280.6 651.8l-.6 -2.0l1.8 -.9l-.1 1.4zM270.4 619.4l-1.9 -.6l.2 -.9l1.4 -.2zM276.0 621.2l-3.0 -3.8l.6 -2.0l2.9 3.5zM266.1 617.6l-1.7 -.2l-2.0 -1.2l2.9 .3zM138.1 692.7l-2.3 -1.7l.4 -3.1l1.4 1.7zM140.5 692.2l.1 -1.1l1.3 -1.9l-.2 2.1zM141.1 684.3l-4.2 2.2l-1.0 -4.8l4.4 .1zM141.6 689.1l.9 -.9l.9 .3l-.6 1.0zM141.4 702.0l-1.7 -2.6l.9 -1.9l1.8 2.4zM130.1 690.6l-1.1 -1.5l.8 -.8l1.2 1.4zM133.9 697.2l-.3 -1.5l.6 -.7l.2 1.8zM136.0 703.2l-1.0 .9l-2.2 -1.6l2.1 -.5zM212.5 655.1l-1.1 -.4l-.4 -1.0l1.4 .5zM242.0 647.6l-3.4 -2.8l2.7 -1.1l2.0 1.9zM239.5 645.1l-.6 -1.4l1.8 -2.3l.4 1.8zM244.2 639.7l-1.7 .9l-1.6 -.5l1.9 -1.2zM249.2 646.0l-1.8 .7l-1.9 -2.2l1.8 -.3zM243.9 641.8l-1.1 -1.1l.2 -1.8l1.5 .9zM240.9 637.3l.7 -3.3l4.7 .4l.8 3.1zM224.5 660.0l.3 -1.2l3.9 -.6l-2.5 2.1zM226.1 657.8l-.5 -1.1l1.0 -1.4l.5 .8zM172.6 609.0l1.0 -2.1l2.3 .1l-.4 2.7zM176.9 611.2l2.5 -2.3l2.0 1.8l-2.3 1.1zM167.2 606.4l-.8 -.8l1.3 -1.6l1.1 1.1zM212.6 655.7l-2.0 -1.4l-1.5 -2.5l2.0 1.2zM205.7 656.4l1.0 -2.3l.7 .2l-.4 1.9zM213.0 657.8l-2.3 1.7l-2.4 -1.4l2.6 -1.2zM212.6 650.2l-1.0 .3l-1.1 -1.2l1.5 .2zM215.4 662.3l1.4 -3.5l3.5 -1.3l-1.8 5.1zM206.6 660.1l-3.5 -.5l.3 -3.4l2.0 .3zM199.7 654.3l-1.9 -3.1l.6 -4.3l2.6 3.4zM202.7 667.5l2.4 -3.4l2.2 -.3l-1.1 3.2zM157.0 607.6l-1.8 -1.8l-1.2 -2.1l4.0 1.1zM155.1 610.3l-2.4 -3.7l2.1 -.3l2.1 2.4zM164.5 601.1l-4.5 .5l-1.2 -1.7l3.3 -1.0zM206.0 606.8l-4.1 2.6l-1.5 -3.5l4.1 -2.0zM204.9 607.1l-.1 -2.7l5.3 -.9l-.6 3.2zM202.6 612.1l-.3 -4.8l3.0 -1.9l1.7 5.7zM236.3 682.8l-1.4 -.6l.5 -1.8l1.2 .4zM230.5 682.1l1.1 -1.3l1.6 .1l-.8 .9zM237.8 677.1l-2.7 1.7l-4.0 -.6l4.5 -2.9zM158.1 696.4l-.7 -2.3l1.8 -1.5l.7 3.1zM275.1 625.2l.3 -1.0l1.8 -.0l-.9 1.6zM275.9 631.3l-4.3 -1.7l.0 -3.4l3.4 .1zM280.5 618.9l-1.9 .7l-1.1 -1.6l1.1 -.3zM270.7 628.5l-1.1 -1.5l3.6 -2.5l-.8 4.0zM269.0 624.5l-1.4 -.6l-.9 -2.0l1.5 .6zM268.3 630.1l1.0 -3.4l1.6 .1l-.5 1.6zM265.8 601.0l2.5 -3.2l1.9 1.6l-1.3 2.2zM268.9 600.1l.3 -3.7l1.2 -1.2l.7 1.0zM268.9 602.1l2.7 -.8l1.9 .7l-3.0 1.0zM276.1 600.2l1.3 -2.0l1.2 .1l-1.2 1.1zM96.4 719.1l-1.4 -.3l-.5 -1.4l.8 -.1zM94.5 723.3l3.6 -1.5l2.8 -.1l-4.1 2.7zM219.5 651.7l.8 -1.0l2.0 -.0l-1.3 1.1zM223.6 652.1l.1 -1.0l2.1 .3l-1.4 1.4zM223.1 658.8l-3.3 .6l-1.9 -3.1l2.1 -.1zM249.6 603.1l-1.9 -.6l-.2 -1.4l1.2 .5zM246.7 599.9l-.4 -1.6l2.3 -2.5l-.4 3.5zM250.9 606.3l-2.1 .6l-1.1 -3.4l2.0 -1.0zM238.8 684.5l-4.9 -.3l-1.0 -2.3l4.0 .6zM233.9 681.5l-1.9 -1.2l.7 -1.5l.8 .4zM239.6 686.9l-.3 -1.0l1.2 -2.0l-.2 1.8zM241.4 678.8l.7 -2.1l2.3 .9l-.9 1.2zM236.8 692.4l-2.4 .4l-3.2 -3.3l6.4 -.3zM235.0 689.0l-1.2 -.5l-.0 -1.4l1.5 .6zM104.0 678.8l-1.2 .8l-1.5 -1.3l2.0 -1.3zM105.2 681.6l.3 -2.4l.6 .1l-.0 1.5zM271.2 712.3l-.5 -1.6l1.7 -.0l.3 2.1zM274.0 717.2l-1.3 -1.3l-.4 -2.1l1.5 -.4zM278.3 715.3l-.1 -5.2l1.4 -1.4l1.1 2.4zM203.7 709.4l.7 -.8l2.0 .1l-1.2 .9zM206.7 714.1l1.0 -1.9l2.0 -1.4l-1.0 2.5zM235.1 725.5l.9 -.9l2.4 .4l-1.7 1.4zM233.6 723.0l-.1 -1.9l2.9 -.9l-.8 2.2zM237.4 722.3l.1 -1.9l1.7 -.7l-.8 2.1zM185.3 645.8l-3.0 -3.2l-.1 -2.6l2.3 2.1zM161.3 698.9l-2.2 .2l.5 -1.6l2.0 .0zM249.8 608.3l-1.1 -.1l-.9 -1.5l1.5 .5zM249.5 607.2l-.2 -1.4l2.4 -1.4l-1.0 2.1zM242.9 614.3l-.8 -2.2l2.8 -1.9l-.0 3.0zM248.3 617.3l-1.8 -2.6l-.1 -2.1l2.6 1.0zM248.0 613.4l-2.6 -.5l-.0 -1.6l2.1 .6zM254.6 613.6l-2.9 1.8l-2.1 -3.0l4.8 -1.1zM254.2 613.5l1.7 -1.4l1.9 .5l-.8 1.8zM250.7 619.2l-1.5 -4.5l2.6 .1l2.3 1.6zM150.8 603.1l-1.4 -1.0l1.1 -5.6l1.1 4.8zM149.4 599.1l-1.7 -.5l.9 -1.8l.8 .4zM255.0 661.4l-2.3 -.9l.0 -1.7l1.5 1.2zM250.2 663.3l-1.0 .7l-1.1 -2.2l2.2 .1zM255.1 668.7l-1.5 -.2l-.8 -1.4l.7 -.8zM191.6 713.4l-.4 -2.5l1.8 -2.4l1.0 3.1zM199.2 708.6l-3.7 .8l-2.7 -.9l4.2 -.9zM113.7 707.7l-2.4 1.1l-4.1 -1.3l2.4 -1.4zM113.7 705.9l-1.1 -.1l-.3 -2.0l1.4 -.6zM110.2 714.2l.3 -2.3l1.6 -.4l-.5 2.1zM109.4 703.6l-.8 -1.6l1.4 -1.0l.7 1.9zM114.6 710.5l.2 -5.6l4.4 -.8l.1 4.5zM99.0 708.8l-2.2 -5.0l1.6 -2.2l2.8 4.5zM115.3 703.8l-2.1 -.9l.3 -2.8l1.4 2.1zM121.8 715.7l-.8 1.1l-1.7 -1.9l2.3 -.7zM236.0 703.6l-1.2 -1.3l.4 -1.4l1.3 .3zM164.4 689.6l.1 -2.7l1.0 -.3l1.6 1.4zM165.8 691.4l.2 -1.3l.6 -.7l-.1 1.3zM163.3 695.9l.8 -2.4l2.7 -.6l-.3 1.9zM168.9 683.0l1.3 -1.2l.5 .7l-1.3 .8zM155.8 685.3l.6 -2.5l2.8 .4l-.2 2.5zM158.6 688.0l-.6 -1.9l.3 -2.1l2.5 1.0zM239.7 625.9l4.8 -2.3l3.2 1.5l-3.5 1.4zM247.4 626.0l-.6 -1.5l1.0 -.8l.5 1.0zM240.4 622.0l-1.4 -.4l-.2 -1.6l1.9 .6zM243.3 617.4l.4 -1.2l1.4 1.1l-1.1 .5zM259.2 653.8l1.8 -2.5l2.0 .3l-2.2 2.7zM260.6 656.7l1.7 -1.4l2.8 1.3l-2.3 1.0zM260.7 649.1l-.8 -.4l-.7 -1.8l1.3 1.1zM261.2 644.1l.3 -.9l2.6 .2l-1.3 .9zM204.2 684.6l-1.9 -1.1l-.1 -2.3l1.4 1.1zM206.8 684.8l-1.8 .5l-.2 -1.3l1.3 .1zM210.6 680.6l-1.1 .9l-1.2 -1.9l2.3 .1zM200.4 690.8l-1.5 .5l.1 -3.3l1.6 1.0zM209.7 695.3l-1.5 -1.3l-.5 -3.0l2.3 1.6zM210.8 686.2l-2.5 .8l-1.5 -3.6l3.7 -.1zM143.0 700.3l1.2 -1.4l1.4 1.1l-1.1 .7zM144.6 703.7l.9 -1.3l2.0 -.3l-1.1 2.1zM147.3 707.1l-1.7 .3l-.7 -1.1l1.8 -.7zM146.7 708.4l-.9 -2.3l.4 -3.6l1.3 3.3zM135.9 696.6l4.1 -1.4l1.5 2.2l-3.0 2.0zM148.1 695.5l.7 -1.2l1.2 .4l-.7 .8zM272.1 605.3l3.3 -3.5l2.1 .6l.0 2.9zM271.4 602.6l-.8 -3.2l3.2 -.7l.2 3.4zM273.3 601.1l.5 -2.1l2.0 .1l-.5 2.1zM241.2 607.9l1.0 -1.1l1.1 .1l-1.0 1.3zM248.1 608.1l-1.3 -1.1l.0 -1.6l.7 .4zM248.2 611.8l-2.2 .7l-1.7 -2.2l2.6 -1.3zM92.8 656.7l-.8 -2.8l3.1 -3.8l.1 5.9zM91.9 657.4l-2.6 1.2l-1.1 -2.1l1.0 -.6zM87.4 656.7l.6 -1.2l2.4 .6l-.6 .9zM103.0 654.7l-2.3 .3l-1.0 -1.2l2.2 .1zM192.2 648.4l-.5 .9l-2.1 -1.2l1.7 -.5zM184.9 650.3l-.2 -5.4l5.4 .9l-1.3 2.6zM227.3 637.2l-.1 -1.6l1.1 -.3l.1 1.0zM224.6 638.8l-1.1 -1.4l.6 -.9l.7 .2zM229.7 643.2l-1.9 .1l-.5 -.9l1.8 -.3zM223.6 630.8l.8 -2.0l1.7 1.1l-.6 1.1zM223.9 626.2l2.7 -1.2l.9 1.0l-.9 .7zM221.8 646.3l-1.0 -1.8l1.1 -.9l.7 .9zM193.0 705.6l1.3 -2.5l1.6 -.3l.0 1.4zM192.3 703.4l-1.0 -.0l.1 -1.6l1.8 .0zM201.8 704.0l-3.8 -2.2l.3 -2.0l3.6 2.5zM218.5 669.6l-1.7 -2.8l4.0 -1.7l.6 4.5zM214.5 668.8l.9 -1.8l1.1 .4l-.8 1.3zM269.5 617.0l-.5 .3l-2.1 -.8l1.3 -.2zM270.8 613.1l-1.2 1.2l-2.5 -1.2l1.6 -1.0zM274.4 623.7l-2.6 -1.0l.4 -1.2l2.1 1.0zM269.4 624.4l-3.2 -4.3l1.3 -2.0l1.7 1.8zM228.6 625.9l-1.3 -.1l-1.0 -1.6l1.7 .7zM232.3 627.2l-.9 .9l-1.9 -.6l1.6 -1.1zM233.8 632.1l-.3 -1.2l1.1 -.6l.3 1.3zM232.6 634.5l-1.0 -.1l-1.7 -1.8l2.3 -.7zM233.3 628.2l-1.4 -.6l.9 -2.7l1.3 1.8zM237.7 627.1l1.2 -1.7l1.4 -.6l-.4 2.5zM242.2 634.1l.8 -.7l1.2 -.2l-1.2 1.3zM235.2 630.0l5.8 -2.5l3.1 .9l-3.7 2.0zM154.0 695.7l-1.6 -.5l-.6 -3.4l1.8 .7zM155.7 697.3l-2.0 -1.2l3.0 -1.7l.2 3.4zM229.4 624.0l-.4 -2.8l3.8 -1.4l-.5 3.0zM232.1 621.8l-.8 -2.1l1.2 -.6l.6 2.0zM229.9 620.5l-.2 -2.8l2.5 -3.3l-.5 3.9zM234.6 628.8l.5 -3.2l1.4 -3.3l1.7 1.6zM246.7 599.7l-.3 -.7l3.6 -.2l-1.5 1.4zM241.4 602.1l1.2 -.7l1.9 -.1l-1.3 .8zM250.8 609.2l-.1 -3.8l1.4 -1.7l2.0 1.8zM237.7 599.5l-1.0 -.9l.3 -.9l1.3 .6zM256.2 606.0l1.4 -1.1l2.0 -.2l-1.2 1.6zM232.7 608.1l.9 -6.0l1.7 -1.3l.5 4.2zM188.4 648.9l-1.1 -.2l.6 -1.5l1.2 .5zM187.1 643.5l1.6 -1.7l2.4 -.3l-2.1 3.0zM186.6 644.9l-5.0 1.0l-2.3 -1.8l2.6 -1.4zM185.6 645.0l-3.0 -.5l-.6 -3.5l2.6 .6zM183.6 643.3l1.7 -1.4l.8 .4l-1.0 1.3zM193.7 641.4l.4 -.6l2.3 .3l-1.3 1.3zM198.7 640.2l-4.6 1.5l-1.1 -1.9l3.6 -2.0zM197.4 653.5l-1.7 .5l-.6 -2.0l1.7 -.4zM264.7 720.7l1.4 -2.9l3.5 -.4l.2 1.4zM268.7 715.3l-2.3 .3l-1.2 -.6l1.8 -.6zM263.2 717.0l-.5 -1.6l2.0 -1.3l.5 1.0zM271.5 712.0l2.0 -1.8l.8 .7l-1.3 2.5zM271.8 726.8l1.2 -2.5l2.6 -1.1l.6 1.7zM263.2 718.1l-2.2 1.4l-1.3 -2.1l1.5 -.8zM265.7 728.8l.7 -1.7l1.0 .5l-.5 .9zM267.8 707.7l.3 -1.1l.9 -1.0l.1 1.4zM228.0 661.0l1.2 -3.1l1.8 .4l.2 1.8zM233.5 660.3l-.1 -1.8l4.2 -2.7l-.5 2.2zM235.2 663.0l.3 -.7l2.3 .2l-1.5 .6zM221.2 666.7l.2 -3.0l1.4 -1.4l.4 2.7zM228.9 668.5l-1.0 -1.1l.3 -4.0l1.5 2.6zM222.2 666.8l-3.5 -.8l-.0 -2.1l2.4 .6zM232.1 652.5l-.8 -3.9l3.3 -2.0l-.5 2.5zM234.8 664.6l-.9 -1.2l.4 -2.0l1.8 2.3zM142.5 702.6l2.3 -1.3l.9 .7l-1.4 1.1zM149.1 706.2l-1.2 -1.0l1.0 -1.6l1.3 .9zM142.7 708.9l-5.0 .4l-.2 -4.9l5.0 .9zM140.6 649.4l-1.6 -1.9l.6 -.8l2.0 1.0zM144.0 651.2l-.4 -.8l.6 -2.1l.8 2.7zM136.1 651.7l.5 -.6l1.6 .2l-.8 .5zM133.9 646.2l-1.3 -.9l.3 -2.3l1.4 .7zM145.4 639.6l1.4 -.2l2.0 .2l-1.7 1.7zM142.0 638.1l1.3 -3.3l2.7 .1l-1.1 3.4zM135.7 636.5l1.5 -2.0l1.1 .5l-1.6 2.0zM153.5 656.9l-2.5 -1.5l-1.7 -2.2l2.6 .7zM240.4 618.6l-1.1 -1.0l.4 -1.3l.7 .6zM235.0 619.9l.2 -1.2l.9 -.7l.2 1.1zM240.3 620.7l-3.0 1.0l-2.1 -1.8l2.2 -1.6zM238.8 614.6l.5 -4.3l2.8 -.6l-.3 2.2zM170.9 669.2l-1.5 .8l-2.7 -1.9l1.4 -1.9zM166.8 675.0l-1.7 -2.2l3.0 -2.4l.5 3.2zM241.7 603.1l-1.9 .4l-1.0 -.8l1.3 -1.2zM242.2 603.1l-.1 -1.5l1.7 -.4l.1 .8zM188.0 618.2l-4.0 .8l-1.3 -2.0l2.6 -1.8zM181.0 615.9l2.0 -3.8l2.0 .6l-.7 1.8zM192.3 620.3l-.9 .1l-1.8 -.2l1.3 -1.2zM255.1 655.6l-1.0 -1.4l.8 -1.8l.6 2.6zM256.5 652.0l-2.3 -.6l-1.0 -1.6l2.5 -.0zM256.3 657.6l1.0 -2.8l1.2 -.6l-.8 3.1zM255.4 638.8l-1.6 -.6l-.6 -1.8l2.1 .1zM128.5 678.9l1.7 -2.5l3.7 2.2l-1.8 3.1zM293.8 703.7l-1.1 -.3l-1.1 -1.0l1.2 .1zM297.0 700.5l-1.8 .7l-.7 -.4l1.8 -1.5zM243.6 598.5l1.5 -.6l.8 .3l-.8 .6zM245.3 605.1l-4.6 -3.9l-.2 -2.9l2.2 1.2zM226.0 627.2l.7 -1.4l1.6 -.1l-.4 1.0zM226.7 605.3l-.8 -2.6l.9 -1.7l1.0 2.4zM223.8 604.9l-2.1 -1.1l.2 -.8l2.2 .6zM236.7 701.7l1.3 -1.9l1.2 .6l.3 .9zM281.6 600.3l-.4 -2.3l.7 -1.2l1.1 .7zM279.2 602.0l-1.4 -1.2l-.0 -.8l1.3 .5zM273.6 596.9l1.1 -.8l3.2 -.8l-1.7 3.0zM286.0 606.1l-1.7 .6l-1.3 -1.9l1.5 -.5zM212.3 641.5l3.5 -3.0l4.2 .2l-3.4 2.7zM214.3 644.9l-1.4 -.4l.7 -2.1l1.1 1.0zM219.6 645.0l-.3 -1.0l1.8 -1.5l1.0 1.4zM207.7 639.3l-.4 -1.4l1.2 -.7l1.4 1.5zM219.1 640.8l2.9 -1.1l1.2 .5l-.1 1.7zM208.0 644.3l-1.9 .1l-1.7 -1.8l3.4 -2.2zM270.7 644.6l.5 -1.9l1.5 -.6l-.9 2.2zM130.6 728.2l-1.4 -.7l.4 -2.1l1.5 1.3zM125.3 608.2l.3 -.9l1.7 -.7l-.3 2.3zM128.3 605.4l-1.9 -2.8l1.9 -1.2l1.8 1.4zM184.4 613.8l-1.2 -1.8l.9 -2.1l2.8 1.2zM185.8 610.1l.7 -1.9l1.3 .5l-.6 1.6zM191.6 616.1l-1.5 .9l-1.2 -1.0l1.5 -.8zM179.5 604.5l.5 -1.1l2.3 -.0l-1.0 1.7zM183.5 606.6l-1.1 .0l-1.3 -1.0l1.0 -.2zM180.0 607.1l.6 -1.7l3.9 1.0l-4.0 2.6zM225.8 627.5l.9 -1.4l2.1 -.6l-1.8 1.7zM229.6 622.4l.6 -.7l1.2 -.1l-.3 1.1zM232.9 629.1l-1.6 1.0l-1.9 -1.9l2.1 -1.0zM140.7 644.6l-1.3 .4l-.2 -1.8l1.7 -.1zM140.1 643.8l1.9 -3.2l3.5 -1.9l-2.2 3.6zM142.6 644.5l1.3 -2.4l1.4 -.0l-1.3 1.3zM146.0 641.0l-1.2 -.7l.1 -1.8l1.8 1.4zM135.1 643.6l-1.2 -1.6l.8 -1.5l1.0 2.2zM141.0 632.8l-1.0 -.6l.7 -1.7l.5 .9zM140.0 653.3l-1.7 -2.3l1.3 -.8l.9 1.5zM129.6 634.8l2.6 -1.0l1.3 1.3l-1.4 .8zM221.4 631.1l1.5 -3.0l3.6 2.6l-3.2 1.6zM225.0 628.6l-3.0 -.1l-.0 -1.7l1.6 -.4zM220.9 627.8l-2.3 -.5l.1 -1.8l1.1 .2zM226.7 627.7l1.9 -2.3l1.9 .3l-.9 1.7zM221.8 625.7l.1 -2.1l2.1 .8l-.9 1.8zM220.9 627.5l-1.2 .6l-3.0 -1.4l2.9 -.8zM185.9 678.7l.7 -1.2l1.5 -.4l-1.4 1.8zM181.3 678.1l.5 -.9l2.6 -.5l-1.4 1.6zM188.3 683.4l.7 -1.9l1.9 .4l-1.0 2.5zM188.6 683.1l-1.2 -4.6l4.1 .5l.6 2.9zM196.5 679.7l-1.9 -1.6l-.2 -3.0l2.7 2.4zM194.7 677.7l.8 -1.4l1.6 .4l-.3 1.6zM178.2 678.3l-.0 -1.6l1.8 -.6l-.7 2.2zM197.4 688.3l-3.7 2.5l-1.3 -3.1l4.1 -2.0zM132.1 638.1l2.1 -1.7l.9 1.5l-2.1 .8zM135.0 640.2l-1.9 .9l-1.7 -1.6l2.1 -.2zM199.4 659.5l.4 -1.7l3.9 1.7l-2.1 1.9zM198.7 660.3l-1.1 .7l-1.7 -.7l1.8 -.8zM199.0 657.2l-.4 -2.5l1.0 -.2l.9 2.4zM205.5 669.1l-1.4 .8l-1.2 -1.2l1.2 -.9zM192.6 658.1l-1.2 1.0l-1.0 -.8l1.3 -1.2zM208.6 661.2l.5 -.9l2.0 1.0l-1.9 .6zM247.5 666.3l2.2 -2.2l.9 .5l-1.4 1.8zM251.4 670.0l-1.4 -1.1l-.5 -2.1l1.3 1.2zM185.7 640.8l1.4 -2.3l.9 1.0l-.6 .9zM187.0 641.9l-1.4 .8l-1.1 -1.8l1.4 .1zM184.8 633.5l-.5 .0l-.2 -2.5l1.1 1.9zM222.7 660.8l-2.5 -1.8l-.2 -3.1l3.4 3.0zM225.0 664.1l-1.0 .5l-1.6 -1.0l2.2 -.6zM226.4 666.1l-1.0 -1.3l.6 -1.5l.8 1.2zM223.6 654.9l1.7 -1.0l1.2 .5l-1.1 .6zM223.1 668.0l-1.3 -.8l-1.1 -1.0l2.2 .2zM222.4 649.2l.6 -1.6l.6 -.6l.7 1.4zM220.3 660.3l1.3 -1.6l1.3 -.3l-.4 2.0zM221.0 663.9l.1 -1.8l1.4 -.7l.7 1.8zM225.3 666.0l.2 -.7l1.5 -1.7l-.1 1.8zM215.9 657.2l-.0 -1.3l1.8 .3l-.9 1.1zM217.9 666.6l-.5 -3.1l1.6 -2.1l1.0 1.9zM221.1 664.3l-1.0 .4l-1.4 -1.0l1.8 -.1zM117.5 649.2l-1.6 -.6l-.5 -1.6l1.1 -.2zM116.7 644.2l-.4 -2.9l3.0 -.5l-.3 3.3zM247.6 707.6l.8 -2.2l3.9 1.1l-2.3 3.0zM92.6 717.9l-.9 -.4l1.3 -2.1l.9 1.6zM90.4 713.4l3.4 -2.4l3.1 2.3l-3.5 2.0zM92.4 713.0l-1.2 -.6l.4 -2.3l2.4 2.6zM89.2 731.2l1.0 -4.9l4.3 -1.0l-.6 3.5zM169.4 673.0l-.0 -3.3l2.5 -3.2l3.3 2.8zM169.1 673.4l-2.1 -1.3l-1.2 -3.2l2.8 1.7zM170.1 669.2l-2.1 .9l-1.0 -2.9l.8 -1.6zM165.6 673.9l-1.1 -1.7l1.8 -.7l.8 .5zM177.4 669.7l.4 -2.9l3.4 -2.3l-.5 3.1zM171.7 680.1l.7 -1.6l1.0 .2l.5 2.3zM179.3 663.8l1.0 -.9l3.2 -.1l-2.5 1.7zM177.9 673.4l-.3 -.9l1.2 -1.4l.3 1.1zM231.0 712.6l-.6 -1.6l.6 -1.1l1.2 1.1zM235.3 709.4l-1.2 .7l-2.6 -2.4l3.1 -.1zM138.0 669.3l-2.8 -.9l-.2 -2.4l1.3 .2zM131.6 669.9l-.7 -.9l.3 -1.3l.6 .6zM132.3 671.9l.2 -.8l1.6 -.4l-1.3 1.6zM139.9 664.1l-2.4 -2.2l1.1 -3.1l2.8 3.5zM142.4 674.1l-1.3 -1.1l-.6 -1.2l1.3 .2zM129.7 657.3l.1 -1.1l1.4 -.4l.1 1.0zM139.0 677.9l-.7 -2.4l1.3 -1.7l.3 1.6zM134.9 682.8l-.2 -1.4l1.6 -.9l.4 1.3zM165.7 712.5l-1.2 1.0l-.9 -.9l1.0 -2.3zM158.7 714.1l2.2 -2.0l2.8 2.3l-1.7 2.8zM181.9 713.1l-1.1 .1l-1.0 -.9l1.1 -.0zM182.6 713.4l1.3 -2.0l2.4 .8l-2.0 1.8zM179.2 717.4l.5 -1.9l1.6 .0l-1.0 1.9zM184.3 708.7l.6 -2.1l3.6 .4l-.3 2.4zM186.8 718.4l-1.2 -3.1l1.0 -1.4l1.6 1.5zM180.8 703.3l-3.8 .5l-.5 -3.2l3.4 1.1zM233.0 719.2l-.1 -2.7l3.0 .2l.1 2.3zM231.2 718.5l-.3 -3.9l1.5 -3.0l.3 4.6zM142.8 677.6l1.1 -.9l1.5 1.0l-1.2 .6zM147.0 679.6l1.5 -4.3l1.3 -1.5l.3 3.8zM138.4 676.0l-2.2 -.6l1.0 -1.7l1.9 .3zM140.4 685.5l2.9 -1.7l3.5 -.2l-1.5 2.9zM149.8 682.2l-1.2 -1.5l.9 -1.2l.9 1.3zM148.4 685.0l-3.1 -.7l-1.1 -2.4l3.0 -.6zM154.8 672.0l-1.6 -.1l-.8 -1.5l1.6 .2zM135.4 667.4l-1.9 -.6l.7 -2.4l1.6 1.6zM102.1 687.0l-2.8 1.2l-1.1 -3.2l2.5 .7zM104.5 688.1l.1 -1.2l1.4 .3l-.1 .5zM101.4 692.5l-1.4 -.0l.3 -1.9l1.2 .7zM105.9 689.5l-.5 -1.8l.8 -1.1l.4 .8zM96.9 681.9l-1.9 .8l-2.0 -2.4l2.7 .0zM92.3 688.1l1.3 -1.7l2.3 .1l-.8 1.3zM97.8 695.1l-1.7 -.9l-1.2 -2.7l1.9 .8zM112.7 691.7l.8 -1.2l1.0 -.3l-.7 .9zM216.7 713.1l1.0 -4.3l3.7 -1.1l-1.7 4.5zM217.9 708.5l1.5 -2.6l3.0 1.0l-2.7 1.6zM222.7 709.6l-2.7 -2.0l1.2 -1.9l2.4 1.5zM219.2 707.7l.6 -2.5l1.2 .5l-.4 1.5zM222.4 708.1l1.3 -.9l1.1 -.3l-1.1 1.1zM213.7 704.5l-.6 -1.3l1.1 -1.5l.2 1.2zM216.8 721.6l-3.3 -1.2l1.9 -3.1l2.2 2.5zM206.4 715.2l-.1 -1.0l1.6 -.5l.6 1.4zM175.6 713.3l.8 -2.5l3.3 -.3l-2.0 3.4zM181.1 714.7l-1.1 -3.6l3.5 -1.9l-.3 4.4zM172.5 710.2l2.3 -1.6l1.8 1.3l-2.6 1.5zM178.9 704.7l-3.4 -.4l-1.0 -1.8l2.7 -1.2zM178.0 717.5l-5.1 -.7l.2 -2.4l4.4 .9zM177.3 707.7l-.7 -1.2l1.3 -.9l1.1 1.8zM238.3 669.2l-.2 -1.4l1.3 -1.4l.6 1.2zM242.2 669.6l.0 -.6l2.0 .2l-1.1 .9zM258.3 713.9l-2.3 -4.3l1.7 -1.2l2.1 2.1zM260.6 715.2l-1.2 -1.7l.6 -.5l.8 .8zM250.7 714.5l.7 -1.2l2.4 -1.6l-1.1 2.8zM167.4 726.5l-.8 -2.2l2.4 -3.5l1.1 1.5zM167.2 728.5l-2.0 -1.1l.4 -1.7l1.3 1.1zM165.6 720.4l-2.4 2.2l-1.6 -1.9l2.6 -1.2zM170.8 719.1l-.5 -1.3l.9 -3.6l1.5 2.1zM192.7 699.4l-1.5 -1.0l1.3 -1.1l1.4 .8zM194.9 701.9l-1.7 -.0l-.8 -.8l1.0 -.9zM190.1 704.7l-1.0 -.8l.2 -1.3l1.4 .6zM188.4 698.2l.4 -3.4l1.8 -.9l-.3 2.7zM184.1 697.7l-.8 -3.2l1.8 -2.6l.4 1.9zM198.2 693.2l-1.5 1.5l-3.1 -2.0l3.6 -.2zM193.2 709.7l-2.0 -.3l-.7 -3.0l2.7 .8zM192.0 705.9l1.2 -1.2l2.5 .5l-1.8 1.9zM195.7 710.4l-.3 -3.4l2.4 -1.7l-.1 1.6zM185.7 715.6l-2.0 -2.1l1.8 -4.7l1.9 4.5zM193.2 714.0l1.1 -1.5l4.7 -1.2l-1.1 2.8zM196.2 702.5l-.7 -1.4l1.2 -1.0l.8 .5zM255.0 704.8l-5.0 -1.4l1.0 -1.9l4.5 1.2zM258.2 705.6l-3.8 -1.4l2.4 -5.0l2.0 2.0zM256.5 705.9l1.1 -1.5l1.2 .5l-1.6 1.2zM244.7 701.5l-.5 -3.5l2.9 -1.2l.5 1.7zM135.2 683.1l1.3 -1.7l1.2 -.4l-.0 2.2zM134.1 687.5l.3 -2.4l1.5 -.2l.3 1.4zM240.3 698.4l-3.3 .3l-1.2 -3.5l3.9 .5zM236.6 701.3l-.5 -.9l.4 -1.8l1.1 1.8zM245.5 700.6l-2.2 -1.0l-.3 -2.4l2.6 .9zM271.8 709.7l-3.0 -1.1l-.3 -2.5l3.0 1.0zM185.1 700.3l-4.0 -.2l.5 -1.5l3.2 -.1zM202.7 689.6l2.1 -2.4l1.0 .4l-.5 2.0zM202.9 686.0l1.6 -1.4l1.5 .6l-.6 1.8zM201.4 688.5l-.9 -.6l.2 -1.8l1.9 1.4zM205.0 692.8l1.5 -1.6l2.1 -.5l-1.4 2.2zM281.7 608.5l4.7 -2.4l3.5 1.8l-4.9 2.1zM284.2 608.5l-2.3 1.8l-.9 -4.0l3.1 .6zM285.3 603.9l.4 -1.3l1.5 -.3l-.1 .7zM288.3 615.7l.2 -1.6l1.8 -.8l.2 1.3zM285.3 615.6l-.2 -1.2l.4 -.7l.7 .6zM288.1 613.4l-1.7 1.5l-2.6 -2.2l2.7 -.4zM208.7 702.0l1.3 -2.7l2.7 1.4l-1.8 2.3zM216.6 702.2l-1.7 1.3l-.9 -1.1l2.0 -1.5zM205.0 703.9l.1 -2.2l2.4 .9l-.5 .9zM136.6 705.9l-1.0 -2.2l2.8 -1.3l.2 1.4zM139.3 699.7l-2.2 .7l-.8 -1.1l1.0 -.4zM129.0 704.9l.2 -1.7l2.5 -1.0l-.5 2.1zM138.8 696.7l-.2 -2.8l1.5 -.3l.6 1.9zM130.9 712.8l-.9 -1.2l1.4 -1.0l.4 1.3zM129.8 699.6l-1.0 .7l-1.4 -1.2l2.0 -.6zM180.3 601.3l.3 -1.7l.9 -.7l-.4 1.6zM184.8 597.7l-.8 .1l-1.4 -1.3l2.1 .6zM180.2 598.0l-.7 -2.3l1.4 -1.3l1.0 .8zM180.7 605.7l-1.0 .7l-.7 -1.0l.5 -.8zM172.6 598.4l-.7 -1.7l1.7 -1.7l.5 2.2zM183.0 608.1l-1.3 -2.4l4.2 -2.5l-1.4 4.3zM159.8 687.4l-.4 -1.8l.6 -1.3l.5 1.9zM160.6 692.2l-2.5 -.7l-.7 -1.2l1.6 -.9zM161.6 680.0l-1.6 -.2l-.8 -1.2l1.1 .2zM154.2 691.3l-1.3 -.0l-.0 -2.8l1.6 .3zM156.1 680.0l-1.4 1.4l-1.6 -1.9l2.0 -.4zM165.3 691.9l-.9 -.6l.7 -2.0l.9 1.3zM228.2 637.2l.4 -3.4l3.5 -2.0l-2.3 3.8zM224.1 634.2l3.2 -2.2l2.7 1.0l-2.4 2.2zM222.4 617.4l-1.6 -.4l-1.3 -1.2l1.2 -.0zM220.3 612.8l.8 -1.2l1.5 -.0l-1.0 2.0zM216.1 614.8l2.0 -2.4l2.1 -.6l-1.5 1.9zM225.4 685.2l3.0 -2.4l2.1 2.8l-.6 2.0zM224.9 684.1l-1.4 -.7l.9 -2.3l.6 1.9zM225.7 692.2l-.3 -1.7l1.4 -1.3l-.3 1.9zM131.7 615.8l-1.6 -.6l.6 -2.0l2.2 1.7zM135.1 618.9l-1.6 -.3l-.6 -1.2l2.1 -.0zM139.8 615.4l-2.3 -2.0l1.6 -3.7l2.1 3.7zM136.1 647.2l-3.6 -1.5l-2.3 -3.8l4.7 2.5zM136.8 652.9l-4.8 -2.7l2.4 -3.6l3.0 3.0zM128.5 646.6l-.9 -2.6l.9 -2.2l.9 2.9zM137.7 640.6l.3 -1.9l.8 -.5l.9 1.4zM128.9 640.4l-1.2 -.4l.2 -1.5l.9 .9zM139.6 646.9l-2.8 -.0l-1.4 -3.4l4.2 -.8zM139.7 654.3l-1.8 .5l-1.1 -.6l1.3 -1.0zM138.9 642.3l-1.2 -2.4l1.7 -1.2l.8 2.3zM266.5 612.9l2.5 -1.8l4.3 1.7l-4.9 2.1zM207.1 602.8l.1 -2.7l2.2 -.5l.2 1.1zM207.9 599.8l-2.3 -2.9l1.0 -1.9l1.6 2.4zM206.5 605.1l-2.0 -2.0l.2 -1.4l1.5 1.4zM200.7 606.1l.2 -2.0l1.5 -1.1l.2 1.9zM203.2 627.1l2.7 -3.1l2.2 -.0l-3.1 3.7zM204.4 628.5l-.8 .2l-1.1 -1.5l1.5 -.1zM209.9 621.3l-1.2 -1.0l.4 -1.6l.9 .6zM200.4 626.2l-.6 -1.7l1.9 -2.2l.4 2.7zM210.3 630.7l2.8 -1.6l1.6 .7l-2.8 1.6zM206.8 618.6l-1.4 -.2l-.6 -.9l1.2 -.0zM194.6 625.3l-2.5 1.7l-3.6 -2.3l3.8 -3.2zM200.2 629.3l-3.5 2.8l-1.8 -2.6l.5 -2.1zM171.2 675.7l-2.7 -2.1l-.2 -4.1l1.3 1.9zM173.3 672.9l-1.2 -1.9l1.2 -1.7l2.8 1.4zM170.1 682.3l-1.4 -5.0l3.9 -3.9l2.1 4.8zM229.3 620.5l-1.0 -.7l-.4 -.8l.7 -.1zM229.7 624.8l.5 -1.7l1.2 -1.6l-.2 2.5zM229.7 624.7l-2.0 -.2l.3 -1.9l2.1 1.0zM229.2 616.2l-.7 -.0l-1.2 -1.0l1.6 .2zM220.1 619.8l-1.0 -.2l-.2 -1.5l1.4 -.2zM220.2 615.4l.4 -1.0l1.4 -.6l-.5 1.1zM237.0 628.1l-1.7 -.9l-.6 -1.0l1.4 .7zM239.0 619.0l.3 -1.0l2.2 -.5l-1.0 1.5zM276.4 671.9l-2.7 .6l-.6 -1.8l2.7 -.0zM278.0 675.5l-1.2 -.9l-.2 -1.0l1.1 -.0zM276.8 668.7l.6 -1.7l.7 -.1l.1 1.3zM271.0 667.3l3.2 -3.8l2.7 .9l-1.0 3.7zM283.0 674.1l-1.7 .4l-2.3 -.6l3.3 -.6zM275.3 676.5l-1.2 .7l-1.3 -.8l1.1 -.6zM275.6 680.6l.6 -1.3l2.7 -.9l-1.7 1.7zM270.7 681.6l.6 -4.2l5.3 -.3l.4 3.0zM132.2 705.7l-2.8 -1.0l-1.3 -3.6l2.5 1.5zM125.0 705.3l1.3 -1.8l1.2 .8l-.8 1.5zM125.9 699.8l2.1 -2.4l3.1 1.1l-1.3 2.2zM133.1 713.1l-1.1 .5l-.9 -1.4l2.0 -1.1zM137.8 713.8l-4.0 -.1l-.6 -2.0l3.5 .2zM124.8 707.9l-1.0 -2.9l1.2 -2.1l.8 2.2zM117.4 700.7l3.0 -1.8l2.2 1.1l-1.5 1.1zM120.8 698.2l.5 -1.7l1.5 .4l-1.2 1.4zM261.0 661.4l.1 -1.6l2.1 .1l-1.2 1.5zM257.3 660.1l-.9 -.7l.4 -1.7l.5 .6zM265.0 666.8l2.1 -2.0l1.2 1.6l-.6 1.4zM262.0 655.0l.4 -1.0l2.6 .2l-.5 1.1zM256.3 670.4l-1.7 -1.0l-1.1 -3.9l2.8 1.2zM259.1 652.3l-.7 -.9l-.2 -1.4l1.1 1.1zM275.4 661.5l-1.8 -.1l-.7 -1.1l.9 -.1zM269.6 653.1l-.4 -.7l1.1 -1.6l-.0 1.0zM280.3 626.4l.7 -1.9l2.2 -.5l-.8 1.4zM287.5 627.0l-1.6 .2l-1.4 -1.8l2.2 -.6zM160.5 712.6l.3 -4.2l2.5 -.2l1.4 2.2zM242.4 716.9l-.3 -1.9l1.0 .0l.4 1.8zM244.6 715.3l-.0 -.7l1.5 -1.0l-.4 1.1zM237.3 717.9l-1.6 .4l-1.1 -1.3l2.2 -.5zM142.5 706.8l-.0 -2.2l.7 -.8l.5 .7zM145.7 701.8l-1.5 -.7l-.4 -2.0l1.5 .3zM136.0 700.6l1.8 -3.0l3.2 1.7l-2.1 2.4zM140.3 700.9l.4 -2.0l1.2 -.2l-.5 1.6zM183.3 603.0l-3.2 -1.8l1.3 -2.4l2.6 2.5zM140.8 679.9l-.7 -1.8l.9 -2.0l1.0 2.0zM137.0 675.3l1.4 -.5l1.0 .2l-.9 .8zM230.7 723.0l-1.2 -.1l-1.0 -.9l2.2 .3zM225.8 724.9l-.4 -.9l.9 -1.5l.3 1.4zM231.7 725.5l.8 -.8l1.3 .5l-.7 1.0zM239.4 724.6l-2.6 -2.2l-.2 -2.6l2.0 1.2zM230.2 716.7l-1.1 -.1l-.5 -1.5l1.2 .2zM232.5 716.7l-1.3 -1.1l.7 -1.2l1.1 1.3zM233.7 638.3l.5 -2.1l3.0 .6l-1.1 3.6zM231.0 641.3l-1.8 -.7l1.6 -2.0l.7 1.1zM236.8 635.2l-2.3 -.6l-.8 -1.3l1.2 -.1zM245.1 643.9l-2.9 .8l-4.7 -1.5l3.1 -1.6zM227.6 641.0l-1.9 1.3l-1.8 -2.5l3.0 .1zM234.3 648.4l2.2 -.9l1.9 .5l-1.1 2.3zM190.3 633.3l-2.8 -.2l-.5 -2.0l2.7 -.5zM187.5 638.4l-1.0 -.9l.2 -2.3l.7 .9zM269.2 655.4l-.4 -3.3l3.2 -1.9l-1.3 5.8zM276.4 653.5l-1.3 .3l-1.2 -.9l1.2 -.1zM263.4 655.3l2.3 -1.0l.3 .7l-.0 .5zM133.8 612.3l-.9 -1.4l1.1 -1.0l.6 2.2zM132.1 613.7l-2.1 -1.1l.6 -2.2l2.8 1.1zM133.9 607.3l-2.8 -1.2l-.2 -1.7l2.5 .3zM135.9 620.0l-1.2 -4.1l2.9 -1.1l.9 2.7zM145.1 613.1l-3.6 .2l-1.0 -3.0l3.8 1.1zM143.2 607.4l-1.3 -.0l-1.6 -1.6l2.3 -.5zM112.3 694.4l-.7 -.7l2.7 -2.2l-1.2 2.4zM217.6 644.4l-1.4 -1.1l.2 -1.1l.8 .4zM233.7 632.6l1.0 -1.1l1.4 -.2l-.4 1.0zM191.1 664.6l-1.8 -1.0l-.5 -1.8l3.1 .9zM190.8 668.3l-2.1 -1.5l.7 -3.1l2.4 2.9zM195.6 662.8l-5.5 -1.8l-1.6 -2.5l3.4 .3zM186.0 665.7l.8 -1.1l.8 .1l-.3 .8zM196.5 666.1l-1.7 -1.7l2.7 -2.9l.0 2.5zM200.1 663.3l2.6 -2.3l1.7 2.0l-2.2 2.2zM198.2 655.3l-.8 -.6l.4 -1.4l.7 .4zM201.0 656.7l-1.7 -.3l.5 -1.6l2.2 .9zM220.2 635.5l-4.3 -.1l-1.9 -2.0l2.2 -2.0zM219.7 637.1l-.7 -2.3l1.6 -1.0l.5 1.6zM215.5 643.8l-2.1 -2.0l1.4 -3.9l1.1 2.9zM216.2 631.3l-1.2 -.6l-.6 -2.5l1.3 .8zM298.3 720.4l-1.3 -.2l.3 -1.8l1.3 1.5zM237.7 603.0l-.3 -4.7l2.9 -2.4l.2 2.0zM125.0 618.5l-.2 -1.2l1.3 -1.3l.2 1.7zM206.8 715.4l-.2 -.6l1.1 -1.7l.2 1.0zM207.2 720.1l-5.5 .3l-1.9 -3.3l5.8 -.5zM209.0 712.5l-2.7 -2.3l1.2 -2.4l3.0 3.6zM207.7 718.7l1.3 -1.2l1.1 .7l-1.2 .9zM205.6 724.1l.8 -1.3l1.5 .4l-.9 1.0zM206.1 705.2l.9 -.8l2.9 .7l-2.3 .6zM202.5 713.3l-2.8 -.5l1.2 -2.4l2.0 .2zM209.9 709.6l1.9 -4.7l1.6 .7l-.6 2.8zM199.9 607.0l1.1 -3.2l2.5 -.5l-.9 4.2zM199.6 602.3l-1.9 -.9l.5 -1.1l1.1 .3zM203.5 598.8l-1.1 .1l-.8 -1.5l1.8 .3zM191.1 614.0l-.1 -2.8l1.9 -1.8l1.1 1.6zM196.6 613.3l-.7 -.8l.7 -1.4l.5 1.3zM247.5 685.6l-.5 -1.0l.7 -1.2l.7 1.4zM244.8 687.5l-.1 -1.2l.7 -.8l.3 1.0zM246.3 684.7l-1.2 1.1l-3.5 -1.3l2.2 -2.1zM150.6 707.1l1.7 -1.4l.9 .5l-2.0 1.9zM154.3 705.0l-2.4 -1.4l.6 -1.9l1.9 1.8zM139.6 621.8l-2.4 .2l1.1 -3.9l2.2 1.5zM134.3 621.1l.3 -1.8l1.1 .1l-.5 1.5zM138.8 617.2l.8 -1.1l1.4 -.8l-.8 1.8zM132.0 623.1l1.9 -2.7l1.0 .9l-.8 2.2zM141.0 630.9l-1.0 -3.7l2.9 -5.0l.3 3.6zM135.0 625.8l-1.0 .9l-2.4 -1.0l2.0 -1.0zM130.3 622.5l1.0 -2.1l1.9 .4l-1.8 2.0zM133.7 615.6l.4 -1.4l2.2 .8l-.7 1.2zM218.7 659.4l-.5 -3.3l1.1 -.3l1.7 .7zM221.3 656.0l-2.5 .1l.1 -2.8l2.9 .8zM155.3 728.8l-1.7 -.5l.1 -3.0l1.5 .7zM236.1 616.0l-.7 -.8l1.5 -3.2l.1 3.4zM239.9 614.1l-1.0 -2.3l2.3 -1.5l1.1 2.1zM232.3 611.9l-.2 -.8l1.7 -1.4l-.3 2.0zM234.1 622.7l.1 -2.1l1.8 .5l-.6 2.1zM230.3 622.4l.7 -2.1l1.1 -.7l.2 1.4zM235.4 609.7l.4 -1.8l2.1 -.1l-.2 1.1zM231.2 616.6l-1.3 .2l-2.6 -.9l1.4 -.4zM243.8 616.2l-2.3 -2.4l.4 -1.4l1.7 2.2zM157.8 612.2l.8 -.8l1.9 .1l-1.2 1.1zM101.2 634.3l1.2 -2.8l2.4 .7l-.6 2.5zM108.0 635.5l-2.2 -.3l-.7 -2.4l1.7 -.7zM107.8 637.5l-.7 -2.5l1.2 .2l.7 1.5zM110.9 642.1l-3.1 1.6l-4.3 -4.8l4.9 -1.3zM103.8 623.6l.3 -1.8l1.7 1.0l-.9 1.3zM111.2 637.2l-2.2 -2.7l2.2 -2.0l1.7 1.0zM294.8 719.4l-1.2 .3l-.3 -2.2l1.5 .2zM298.6 719.0l-2.0 .3l-.2 -1.6l2.2 .0zM301.0 720.6l-.7 -1.9l1.1 -.4l.9 1.1zM295.7 723.3l2.1 -2.8l1.7 1.4l-1.0 1.4zM299.1 711.0l-1.0 -1.4l1.5 -2.1l1.2 1.7zM290.7 714.1l.3 -2.2l2.5 .4l-1.3 1.2zM253.2 654.2l1.0 -.7l1.3 .0l-1.6 1.0zM257.2 651.6l-1.7 -1.2l-.2 -1.1l1.3 .8zM251.9 654.8l-2.7 .7l-.5 -1.4l1.5 -1.0zM253.0 663.9l-.2 -1.7l1.2 -1.1l.1 1.6zM257.1 655.4l1.6 -1.6l3.2 .3l-3.0 1.3zM260.9 659.8l-1.8 -1.2l.3 -2.7l1.3 .6zM264.3 652.8l-1.6 -1.6l1.2 -2.7l1.7 2.9zM266.4 651.4l-3.9 .2l-2.2 -3.1l5.1 .4zM229.0 627.8l-1.3 -1.9l.5 -2.1l1.1 1.9zM224.9 622.7l2.4 -2.0l3.7 2.2l-2.1 2.0zM223.4 631.6l.5 -1.1l1.4 .6l-.0 1.2zM233.8 621.9l2.8 -2.4l1.1 1.1l-.9 1.0zM221.1 635.6l-.3 -1.8l2.8 .1l-1.0 1.2zM226.6 634.3l1.2 -2.7l1.6 -.1l-.6 1.5zM225.2 633.5l-.3 -.8l1.1 -1.8l.3 .7zM221.4 624.0l-.7 -2.1l.9 -2.8l.8 3.4zM241.3 631.8l.1 -1.2l1.2 .1l-.4 1.5zM244.8 631.1l.9 -1.9l1.6 .1l.0 1.6zM242.8 624.9l-.8 1.4l-1.6 -1.3l1.4 -1.7zM244.1 640.1l1.1 -1.4l1.4 .0l-.5 1.0zM246.1 641.4l.1 -1.3l1.6 -1.2l.1 1.8zM253.4 634.7l-1.1 -.5l-.7 -1.0l1.9 -.2zM239.8 642.9l-1.2 -.7l-.4 -1.3l1.0 .5zM250.9 639.9l1.6 -1.4l.9 .3l-.8 1.5z" fill="#4c2ed2" stroke="#4c2ed2" stroke-width=".5" stroke-linejoin="round"/><path d="M204.8 694.9h1.3v1.0h-1.3zM218.8 682.8h1.5v1.2h-1.5zM207.9 681.2h2.7v2.1h-2.7zM220.7 690.2h1.6v1.3h-1.6zM161.1 725.9h1.1v0.9h-1.1zM241.3 672.0h1.7v1.4h-1.7zM249.9 674.9h1.2v1.0h-1.2zM249.0 671.0h1.3v1.1h-1.3zM250.8 659.2h1.2v1.0h-1.2zM180.7 677.4h2.0v1.6h-2.0zM182.9 677.7h3.1v2.5h-3.1zM186.1 679.6h1.2v1.0h-1.2zM180.5 673.4h1.3v1.1h-1.3zM189.1 671.7h1.1v0.9h-1.1zM122.6 691.0h1.1v0.9h-1.1zM125.9 691.1h2.3v1.9h-2.3zM122.1 599.8h2.3v1.8h-2.3zM121.2 596.6h1.5v1.2h-1.5zM119.2 595.7h1.1v0.9h-1.1zM118.4 604.8h3.0v2.4h-3.0zM122.0 611.9h1.1v0.9h-1.1zM111.9 599.9h1.7v1.4h-1.7zM289.0 643.1h2.2v1.8h-2.2zM244.8 604.2h2.4v1.9h-2.4zM233.3 602.7h3.2v2.5h-3.2zM234.6 599.2h1.1v0.9h-1.1zM263.3 625.4h1.4v1.1h-1.4zM260.5 619.7h1.9v1.5h-1.9zM264.0 644.8h1.7v1.4h-1.7zM269.3 647.0h2.9v2.3h-2.9zM261.7 635.1h1.5v1.2h-1.5zM243.2 700.7h2.4v1.9h-2.4zM250.8 630.2h1.8v1.4h-1.8zM243.1 637.8h1.2v1.0h-1.2zM258.4 622.2h1.1v0.9h-1.1zM203.4 687.9h1.1v0.9h-1.1zM202.4 692.0h3.3v2.6h-3.3zM208.3 686.4h1.1v0.9h-1.1zM197.3 683.6h1.6v1.3h-1.6zM202.2 679.8h1.7v1.4h-1.7zM202.3 698.8h1.6v1.3h-1.6zM139.5 627.4h1.1v0.9h-1.1zM134.6 620.2h1.6v1.3h-1.6zM140.3 627.8h2.0v1.6h-2.0zM250.2 629.3h1.2v0.9h-1.2zM243.9 627.0h1.9v1.5h-1.9zM252.0 622.9h2.9v2.3h-2.9zM187.3 622.7h1.4v1.1h-1.4zM237.7 721.6h1.3v1.0h-1.3zM238.3 724.8h1.1v0.9h-1.1zM230.9 720.1h3.1v2.5h-3.1zM228.5 719.8h1.7v1.4h-1.7zM194.6 635.9h2.0v1.6h-2.0zM204.9 621.7h2.8v2.2h-2.8zM208.9 623.8h1.3v1.0h-1.3zM290.2 646.9h1.4v1.1h-1.4zM287.5 648.5h1.3v1.1h-1.3zM214.9 706.1h2.8v2.2h-2.8zM245.8 606.0h1.8v1.4h-1.8zM244.1 607.5h3.0v2.4h-3.0zM236.6 609.4h2.1v1.7h-2.1zM243.1 628.9h1.2v1.0h-1.2zM234.7 629.3h2.2v1.7h-2.2zM245.1 624.4h1.8v1.5h-1.8zM233.5 627.6h1.1v0.9h-1.1zM243.8 622.6h3.0v2.4h-3.0zM130.2 713.0h1.7v1.4h-1.7zM234.2 701.7h1.9v1.5h-1.9zM233.2 713.1h1.3v1.1h-1.3zM185.9 666.7h2.9v2.3h-2.9zM181.4 665.3h2.7v2.2h-2.7zM185.1 662.1h2.2v1.8h-2.2zM268.2 675.3h2.2v1.7h-2.2zM267.9 670.5h1.6v1.3h-1.6zM186.9 722.5h1.4v1.1h-1.4zM187.2 725.8h2.0v1.6h-2.0zM197.1 711.1h1.2v0.9h-1.2zM195.5 716.7h3.2v2.5h-3.2zM178.3 712.9h1.5v1.2h-1.5zM152.7 650.6h1.1v0.9h-1.1zM146.4 648.2h3.2v2.6h-3.2zM155.1 652.9h1.2v1.0h-1.2zM158.3 656.9h1.2v0.9h-1.2zM159.0 650.1h3.2v2.6h-3.2zM163.4 652.2h3.3v2.6h-3.3zM243.7 599.3h1.3v1.0h-1.3zM245.6 597.5h1.3v1.0h-1.3zM239.1 596.9h1.4v1.1h-1.4zM236.7 599.1h1.8v1.5h-1.8zM201.5 689.3h1.3v1.0h-1.3zM204.4 689.4h1.4v1.1h-1.4zM201.0 681.8h1.9v1.5h-1.9zM205.8 688.1h2.1v1.7h-2.1zM130.0 619.1h1.9v1.5h-1.9zM134.3 629.8h1.4v1.2h-1.4zM137.2 623.4h3.1v2.5h-3.1zM119.5 622.4h1.1v0.9h-1.1zM235.6 718.5h2.5v2.0h-2.5zM228.0 629.0h2.1v1.7h-2.1zM226.1 638.0h1.2v0.9h-1.2zM223.1 640.7h3.0v2.4h-3.0zM222.6 630.4h1.2v0.9h-1.2zM220.7 637.1h2.8v2.3h-2.8zM111.1 656.0h1.1v0.9h-1.1zM109.9 654.0h1.9v1.5h-1.9zM141.0 726.0h1.6v1.3h-1.6zM142.4 728.0h2.7v2.1h-2.7zM144.0 723.5h1.7v1.3h-1.7zM121.6 605.7h1.2v1.0h-1.2zM119.8 613.1h1.1v0.9h-1.1zM183.4 692.5h1.2v1.0h-1.2zM230.7 669.5h1.3v1.0h-1.3zM233.6 666.9h1.4v1.2h-1.4zM224.3 673.8h1.4v1.1h-1.4zM160.7 607.3h2.1v1.7h-2.1zM158.3 608.7h2.3v1.8h-2.3zM153.2 687.9h3.0v2.4h-3.0zM151.9 686.4h2.0v1.6h-2.0zM202.7 695.2h1.6v1.3h-1.6zM134.6 656.3h1.2v0.9h-1.2zM134.1 661.0h1.7v1.4h-1.7zM136.6 650.1h3.2v2.5h-3.2zM135.3 665.9h2.8v2.2h-2.8zM121.2 649.9h2.2v1.8h-2.2zM167.6 698.3h2.4v2.0h-2.4zM215.3 631.5h2.0v1.6h-2.0zM211.4 630.3h1.1v0.9h-1.1zM276.4 701.2h1.1v0.9h-1.1zM277.9 698.8h1.5v1.2h-1.5zM191.0 660.8h1.2v1.0h-1.2zM192.1 655.1h3.1v2.5h-3.1zM195.5 658.1h2.7v2.1h-2.7zM246.3 633.8h1.1v0.9h-1.1zM238.1 629.0h1.6v1.3h-1.6zM117.1 683.9h1.8v1.4h-1.8zM115.6 688.4h1.9v1.5h-1.9zM116.9 677.4h2.4v1.9h-2.4zM121.9 687.0h1.2v1.0h-1.2zM121.3 679.9h1.4v1.1h-1.4zM115.6 677.9h2.2v1.8h-2.2zM152.5 711.8h3.3v2.6h-3.3zM128.5 638.7h1.7v1.3h-1.7zM270.1 600.6h2.6v2.1h-2.6zM271.7 602.8h2.8v2.2h-2.8zM268.9 606.8h1.1v0.9h-1.1zM295.6 636.6h1.2v1.0h-1.2zM299.8 634.8h2.6v2.1h-2.6zM291.4 640.3h1.4v1.1h-1.4zM287.4 637.1h1.7v1.4h-1.7zM245.8 639.4h2.6v2.1h-2.6zM251.4 638.7h1.9v1.5h-1.9zM236.5 660.7h1.2v0.9h-1.2zM240.8 660.8h1.8v1.5h-1.8zM229.6 656.8h2.5v2.0h-2.5zM259.6 649.4h2.8v2.3h-2.8zM268.2 649.2h3.3v2.6h-3.3zM238.9 618.7h2.6v2.1h-2.6zM234.7 626.7h2.0v1.6h-2.0zM276.0 609.2h2.2v1.8h-2.2zM279.3 607.5h2.1v1.7h-2.1zM275.0 603.9h1.3v1.1h-1.3zM271.2 615.6h1.5v1.2h-1.5zM286.2 614.4h1.4v1.1h-1.4zM279.4 616.1h3.2v2.6h-3.2zM275.3 599.5h2.9v2.4h-2.9zM274.9 618.0h3.1v2.4h-3.1zM175.8 646.7h1.4v1.1h-1.4zM175.6 652.5h3.2v2.6h-3.2zM169.5 642.2h1.8v1.4h-1.8zM164.8 646.2h1.8v1.4h-1.8zM178.9 634.0h1.2v0.9h-1.2zM144.5 665.2h2.2v1.8h-2.2zM141.6 660.4h2.6v2.1h-2.6zM204.8 684.7h2.4v2.0h-2.4zM222.5 653.9h3.2v2.6h-3.2zM282.0 611.6h1.2v1.0h-1.2zM158.1 706.6h2.4v1.9h-2.4zM257.4 607.9h2.8v2.3h-2.8zM266.1 643.1h3.0v2.4h-3.0zM268.1 647.8h2.7v2.2h-2.7zM269.9 636.3h3.1v2.5h-3.1zM225.6 644.2h1.2v0.9h-1.2zM224.6 643.2h1.6v1.2h-1.6zM230.8 641.6h1.3v1.0h-1.3zM225.5 632.5h1.1v0.9h-1.1zM228.5 627.7h1.2v0.9h-1.2zM190.5 681.7h1.9v1.5h-1.9zM188.2 679.4h2.6v2.1h-2.6zM186.9 682.2h1.2v1.0h-1.2zM196.9 683.2h3.2v2.6h-3.2zM198.2 675.0h2.6v2.1h-2.6zM191.4 676.5h1.1v0.9h-1.1zM187.1 692.4h2.5v2.0h-2.5zM174.6 704.3h3.0v2.4h-3.0zM238.3 656.0h2.3v1.8h-2.3zM238.4 660.7h1.3v1.1h-1.3zM242.5 662.4h3.2v2.6h-3.2zM142.8 621.6h1.1v0.9h-1.1zM139.9 621.4h2.4v1.9h-2.4zM141.0 628.1h1.7v1.4h-1.7zM273.8 597.4h2.8v2.3h-2.8zM274.6 599.8h3.2v2.6h-3.2zM277.3 595.8h2.0v1.6h-2.0zM278.2 601.5h1.2v0.9h-1.2zM225.9 656.6h2.8v2.3h-2.8zM225.9 653.7h1.6v1.3h-1.6zM231.6 657.0h1.2v0.9h-1.2zM226.3 663.1h1.2v0.9h-1.2zM216.6 660.0h1.2v1.0h-1.2zM216.6 623.8h1.3v1.1h-1.3zM217.0 617.0h1.1v0.9h-1.1zM151.2 606.2h2.1v1.7h-2.1zM136.9 713.4h1.2v0.9h-1.2zM144.3 707.0h2.7v2.2h-2.7zM171.0 637.9h1.1v0.9h-1.1zM167.7 647.6h2.9v2.3h-2.9zM168.6 631.4h1.1v0.9h-1.1zM226.3 633.1h2.2v1.7h-2.2zM288.9 650.9h1.6v1.3h-1.6zM289.8 647.6h2.3v1.8h-2.3zM118.7 630.8h1.7v1.3h-1.7zM123.1 625.8h1.2v0.9h-1.2zM129.3 629.1h1.1v0.9h-1.1zM203.1 643.8h2.3v1.9h-2.3zM213.0 649.3h1.2v0.9h-1.2zM205.8 650.5h3.0v2.4h-3.0zM263.1 665.3h2.5v2.0h-2.5zM256.9 667.7h1.3v1.0h-1.3zM249.5 684.1h2.2v1.8h-2.2zM261.4 676.3h1.2v1.0h-1.2zM270.7 674.9h1.3v1.0h-1.3zM270.8 677.6h1.1v0.9h-1.1zM264.6 676.4h1.1v0.9h-1.1zM261.3 672.0h2.3v1.8h-2.3zM281.9 674.3h1.1v0.9h-1.1zM110.1 618.6h2.9v2.3h-2.9zM107.4 611.8h1.6v1.3h-1.6zM113.6 629.1h1.9v1.5h-1.9zM267.8 695.1h1.3v1.1h-1.3zM132.7 623.5h2.5v2.0h-2.5zM131.0 625.3h1.6v1.3h-1.6zM222.6 630.8h1.8v1.5h-1.8zM217.4 630.1h1.5v1.2h-1.5zM274.6 609.0h2.3v1.8h-2.3zM271.5 605.6h1.2v1.0h-1.2zM279.7 598.6h3.1v2.5h-3.1zM282.1 605.5h1.1v0.9h-1.1zM148.8 601.6h3.2v2.5h-3.2zM144.9 601.9h2.6v2.1h-2.6zM110.7 704.2h1.1v0.9h-1.1zM106.2 702.5h1.2v0.9h-1.2zM114.7 702.7h1.1v0.9h-1.1zM115.3 697.2h3.0v2.4h-3.0zM104.6 712.5h1.1v0.9h-1.1zM179.8 635.9h2.0v1.6h-2.0zM178.7 639.1h2.8v2.2h-2.8zM174.8 638.9h1.9v1.5h-1.9zM174.4 638.6h1.1v0.9h-1.1zM226.1 675.7h2.0v1.6h-2.0zM262.4 619.7h1.3v1.0h-1.3zM265.0 628.4h1.3v1.1h-1.3zM229.5 606.6h2.0v1.6h-2.0zM228.8 602.4h1.8v1.4h-1.8zM231.3 612.3h2.2v1.8h-2.2zM230.1 641.0h2.2v1.7h-2.2zM224.4 640.4h2.7v2.1h-2.7zM226.1 639.1h1.4v1.1h-1.4zM230.9 650.4h1.3v1.1h-1.3zM158.2 708.3h1.6v1.3h-1.6zM151.7 710.6h2.1v1.7h-2.1zM199.3 717.5h3.3v2.6h-3.3zM203.0 713.9h1.5v1.2h-1.5zM205.3 722.5h1.9v1.5h-1.9zM192.2 721.7h1.2v1.0h-1.2zM212.6 721.8h1.8v1.4h-1.8zM98.0 619.5h2.3v1.8h-2.3zM95.7 620.1h1.2v0.9h-1.2zM99.0 625.8h1.4v1.1h-1.4zM90.4 613.1h3.0v2.4h-3.0zM106.0 618.9h1.2v1.0h-1.2zM104.8 626.4h1.9v1.5h-1.9zM291.4 619.5h1.1v0.9h-1.1zM254.7 663.6h1.9v1.6h-1.9zM202.7 638.1h1.8v1.4h-1.8zM203.2 639.1h1.5v1.2h-1.5zM190.3 697.3h2.0v1.6h-2.0zM187.9 701.8h1.3v1.0h-1.3zM187.9 700.3h2.8v2.3h-2.8zM192.7 688.6h3.1v2.5h-3.1zM192.6 690.7h2.1v1.7h-2.1zM200.4 703.2h1.4v1.1h-1.4zM197.3 647.3h1.5v1.2h-1.5zM240.5 629.9h1.3v1.0h-1.3zM234.5 631.6h1.2v0.9h-1.2zM234.1 636.5h1.6v1.3h-1.6zM236.4 622.5h1.9v1.5h-1.9zM212.5 653.3h1.3v1.0h-1.3zM214.8 650.5h1.2v0.9h-1.2zM294.6 667.6h1.1v0.9h-1.1zM294.4 663.7h1.1v0.9h-1.1zM301.0 661.4h2.9v2.4h-2.9zM253.9 686.1h2.4v1.9h-2.4zM248.7 681.6h1.3v1.0h-1.3zM248.1 683.1h1.5v1.2h-1.5zM254.9 681.1h2.5v2.0h-2.5zM258.6 692.9h1.6v1.3h-1.6zM225.3 655.6h3.1v2.5h-3.1zM227.8 660.1h3.1v2.5h-3.1zM240.6 717.9h1.7v1.4h-1.7zM238.0 720.6h2.0v1.6h-2.0zM236.1 719.7h1.6v1.3h-1.6zM228.2 628.4h1.2v1.0h-1.2zM226.0 630.9h2.3v1.9h-2.3zM226.4 622.2h1.1v0.9h-1.1zM234.2 632.8h2.8v2.2h-2.8zM199.5 628.0h1.2v1.0h-1.2zM206.7 632.7h1.6v1.3h-1.6zM204.5 627.8h1.2v1.0h-1.2zM248.3 603.1h1.4v1.1h-1.4zM251.8 606.5h1.5v1.2h-1.5zM196.9 629.3h1.9v1.5h-1.9zM197.0 626.4h1.5v1.2h-1.5zM199.9 646.4h1.8v1.5h-1.8zM145.7 654.9h2.9v2.3h-2.9zM150.4 652.2h1.1v0.9h-1.1zM156.6 662.7h1.5v1.2h-1.5zM160.9 666.5h1.5v1.2h-1.5zM208.4 661.4h2.1v1.7h-2.1zM212.2 663.2h1.3v1.1h-1.3zM209.6 658.2h1.5v1.2h-1.5zM286.6 652.7h2.3v1.8h-2.3zM219.7 612.2h1.2v1.0h-1.2zM167.2 655.4h1.3v1.1h-1.3zM160.3 662.1h1.4v1.1h-1.4zM161.9 662.8h1.1v0.9h-1.1zM172.2 649.0h2.2v1.8h-2.2zM244.2 605.2h1.1v0.9h-1.1zM243.7 611.5h3.1v2.5h-3.1zM256.0 644.5h2.3v1.8h-2.3zM139.1 601.0h1.2v0.9h-1.2zM264.4 610.6h1.1v0.9h-1.1zM264.6 626.7h1.1v0.9h-1.1zM267.4 628.6h1.3v1.0h-1.3zM257.3 631.5h1.3v1.0h-1.3zM226.7 615.2h3.0v2.4h-3.0zM231.1 616.5h1.6v1.3h-1.6zM226.6 621.9h1.5v1.2h-1.5zM220.1 622.3h1.6v1.2h-1.6zM212.9 601.2h2.8v2.2h-2.8zM210.6 598.2h1.1v0.9h-1.1zM210.8 609.6h1.3v1.0h-1.3zM137.3 646.7h1.8v1.5h-1.8zM139.7 664.2h1.1v0.9h-1.1zM140.6 656.6h2.7v2.2h-2.7zM129.9 645.8h1.4v1.1h-1.4zM276.1 647.4h1.3v1.1h-1.3zM273.7 617.1h2.5v2.0h-2.5zM263.5 616.2h1.6v1.3h-1.6zM140.5 690.2h1.5v1.2h-1.5zM137.2 682.5h2.7v2.2h-2.7zM141.9 688.5h1.2v1.0h-1.2zM139.8 698.9h1.9v1.6h-1.9zM129.3 689.1h1.3v1.1h-1.3zM133.5 695.8h1.2v1.0h-1.2zM239.9 644.4h2.4v1.9h-2.4zM241.7 639.1h1.3v1.0h-1.3zM246.3 644.4h2.5v2.0h-2.5zM243.1 639.8h1.1v0.9h-1.1zM225.6 655.9h1.2v1.0h-1.2zM173.3 607.7h2.3v1.9h-2.3zM178.2 609.9h1.8v1.5h-1.8zM166.8 604.8h1.4v1.1h-1.4zM210.0 653.0h1.9v1.5h-1.9zM206.1 654.8h1.2v1.0h-1.2zM209.8 657.4h2.1v1.6h-2.1zM211.1 649.5h1.1v0.9h-1.1zM216.8 659.1h2.9v2.3h-2.9zM203.3 656.8h2.2v1.8h-2.2zM154.8 603.9h2.3v1.8h-2.3zM160.4 599.4h2.7v2.1h-2.7zM201.8 605.3h3.0v2.4h-3.0zM205.5 604.5h3.1v2.5h-3.1zM235.2 681.3h1.1v0.9h-1.1zM231.0 681.0h1.3v1.0h-1.3zM233.2 676.5h2.8v2.3h-2.8zM157.5 693.9h2.0v1.6h-2.0zM278.1 618.1h1.4v1.1h-1.4zM270.1 626.1h2.2v1.8h-2.2zM267.4 622.8h1.5v1.2h-1.5zM266.9 599.1h1.9v1.5h-1.9zM268.5 596.1h2.7v2.1h-2.7zM270.2 601.3h1.8v1.4h-1.8zM276.5 598.5h1.3v1.0h-1.3zM96.6 721.9h2.4v1.9h-2.4zM223.9 651.3h1.2v0.9h-1.2zM218.5 656.7h2.5v2.0h-2.5zM247.4 601.4h1.3v1.0h-1.3zM232.3 679.6h1.4v1.1h-1.4zM239.1 684.9h1.5v1.2h-1.5zM233.5 689.6h3.1v2.5h-3.1zM105.2 679.7h1.3v1.0h-1.3zM271.2 711.1h1.3v1.1h-1.3zM272.3 714.3h1.7v1.4h-1.7zM235.7 724.9h1.5v1.2h-1.5zM237.6 720.5h1.3v1.0h-1.3zM182.6 642.0h2.7v2.2h-2.7zM159.7 697.6h1.3v1.0h-1.3zM249.5 604.9h1.9v1.5h-1.9zM242.9 611.6h1.6v1.3h-1.6zM246.5 613.7h2.0v1.6h-2.0zM245.9 612.0h1.2v1.0h-1.2zM255.4 612.4h1.9v1.5h-1.9zM249.9 615.6h2.6v2.1h-2.6zM149.1 599.6h2.9v2.4h-2.9zM148.1 597.4h1.1v0.9h-1.1zM108.7 706.4h3.3v2.6h-3.3zM115.6 705.9h3.2v2.6h-3.2zM97.3 703.7h3.1v2.5h-3.1zM120.1 714.8h1.5v1.2h-1.5zM164.0 687.2h2.0v1.6h-2.0zM164.3 693.9h1.7v1.4h-1.7zM158.4 685.2h1.6v1.3h-1.6zM242.0 623.7h3.1v2.5h-3.1zM246.9 624.4h1.2v0.9h-1.2zM243.5 616.6h1.2v1.0h-1.2zM261.4 655.6h1.9v1.5h-1.9zM261.7 643.1h1.4v1.1h-1.4zM202.3 682.3h1.8v1.5h-1.8zM205.1 684.0h1.1v0.9h-1.1zM209.1 679.8h1.2v0.9h-1.2zM198.9 689.3h1.5v1.2h-1.5zM207.5 684.4h2.8v2.2h-2.8zM143.6 699.3h1.3v1.1h-1.3zM145.8 702.7h1.3v1.1h-1.3zM145.8 706.4h1.1v0.9h-1.1zM137.9 696.6h2.8v2.2h-2.8zM273.5 602.7h3.0v2.4h-3.0zM271.4 600.0h1.7v1.4h-1.7zM273.5 599.3h2.0v1.6h-2.0zM241.6 606.9h1.2v0.9h-1.2zM246.5 605.9h1.4v1.1h-1.4zM244.8 609.7h2.7v2.2h-2.7zM88.9 656.6h1.5v1.2h-1.5zM88.2 655.9h1.4v1.1h-1.4zM100.3 653.7h1.7v1.3h-1.7zM185.8 645.8h3.2v2.5h-3.2zM227.2 635.6h1.1v0.9h-1.1zM223.6 637.0h1.3v1.1h-1.3zM228.0 642.1h1.1v0.9h-1.1zM224.0 629.8h1.1v0.9h-1.1zM225.3 625.3h1.6v1.3h-1.6zM221.0 644.5h1.3v1.0h-1.3zM193.5 703.3h1.9v1.5h-1.9zM191.5 702.0h1.1v0.9h-1.1zM218.6 666.8h2.6v2.1h-2.6zM215.2 667.6h1.2v1.0h-1.2zM268.0 616.3h1.2v0.9h-1.2zM272.7 622.2h1.3v1.0h-1.3zM226.9 624.6h1.2v1.0h-1.2zM230.3 626.7h1.3v1.1h-1.3zM233.6 630.9h1.1v0.9h-1.1zM231.0 632.6h1.5v1.2h-1.5zM238.6 625.6h1.6v1.3h-1.6zM152.1 692.8h1.9v1.5h-1.9zM231.3 619.7h1.2v1.0h-1.2zM229.6 616.7h2.6v2.1h-2.6zM236.9 598.2h1.1v0.9h-1.1zM257.6 604.5h1.7v1.4h-1.7zM232.8 602.7h3.2v2.6h-3.2zM187.6 647.6h1.1v0.9h-1.1zM181.3 643.5h3.0v2.4h-3.0zM182.6 641.8h2.5v2.0h-2.5zM194.3 638.2h3.1v2.5h-3.1zM266.3 717.6h2.9v2.3h-2.9zM266.3 714.5h1.6v1.3h-1.6zM262.8 714.4h1.9v1.5h-1.9zM272.5 711.3h1.4v1.2h-1.4zM268.1 706.3h1.1v0.9h-1.1zM229.2 658.8h1.8v1.4h-1.8zM233.6 657.1h2.8v2.2h-2.8zM235.7 662.0h1.3v1.0h-1.3zM219.5 664.7h1.8v1.5h-1.8zM234.3 662.5h1.4v1.2h-1.4zM143.6 701.7h1.6v1.3h-1.6zM148.5 704.4h1.1v0.9h-1.1zM143.3 649.2h1.8v1.4h-1.8zM136.5 650.9h1.2v0.9h-1.2zM132.5 644.2h1.7v1.4h-1.7zM146.6 639.5h1.5v1.2h-1.5zM142.5 635.6h2.0v1.6h-2.0zM136.3 635.1h1.5v1.2h-1.5zM150.7 654.2h2.2v1.7h-2.2zM239.5 617.1h1.2v1.0h-1.2zM235.1 618.5h1.2v0.9h-1.2zM167.4 666.9h2.6v2.1h-2.6zM166.3 671.5h2.3v1.8h-2.3zM242.3 601.5h1.4v1.1h-1.4zM183.6 616.0h2.9v2.3h-2.9zM190.5 619.4h1.1v0.9h-1.1zM253.9 653.6h1.8v1.4h-1.8zM254.3 650.2h1.5v1.2h-1.5zM253.8 637.1h1.2v0.9h-1.2zM130.5 677.8h2.5v2.0h-2.5zM291.9 702.3h1.2v1.0h-1.2zM295.1 700.2h1.1v0.9h-1.1zM226.5 626.0h1.1v0.9h-1.1zM222.0 603.3h1.2v1.0h-1.2zM237.5 700.1h1.5v1.2h-1.5zM275.0 596.2h1.9v1.5h-1.9zM214.7 638.4h3.2v2.6h-3.2zM213.1 643.3h1.3v1.0h-1.3zM219.7 643.1h1.9v1.5h-1.9zM220.9 640.1h2.0v1.6h-2.0zM270.8 643.0h1.4v1.1h-1.4zM129.5 726.2h1.1v0.9h-1.1zM125.8 607.2h1.3v1.0h-1.3zM127.3 602.6h2.2v1.7h-2.2zM190.0 615.7h1.1v0.9h-1.1zM180.4 603.7h1.3v1.0h-1.3zM181.7 605.6h1.2v0.9h-1.2zM226.4 625.9h1.5v1.2h-1.5zM229.9 621.6h1.1v0.9h-1.1zM230.5 627.7h2.1v1.7h-2.1zM141.3 640.2h2.7v2.1h-2.7zM143.0 642.4h1.5v1.2h-1.5zM144.6 639.0h1.6v1.3h-1.6zM140.1 631.5h1.1v0.9h-1.1zM222.3 629.4h2.2v1.7h-2.2zM222.4 626.6h2.4v1.9h-2.4zM222.1 624.4h1.2v0.9h-1.2zM186.0 677.5h1.2v1.0h-1.2zM181.8 676.8h1.5v1.2h-1.5zM188.5 682.3h1.4v1.1h-1.4zM194.2 676.0h2.3v1.8h-2.3zM178.6 676.6h1.3v1.1h-1.3zM132.8 636.8h2.0v1.6h-2.0zM199.9 658.8h2.2v1.8h-2.2zM203.3 668.2h1.2v1.0h-1.2zM209.0 660.7h1.1v0.9h-1.1zM186.3 639.3h1.1v0.9h-1.1zM185.1 641.1h1.3v1.0h-1.3zM183.8 632.1h1.3v1.1h-1.3zM225.6 664.2h1.1v0.9h-1.1zM224.3 653.9h1.3v1.1h-1.3zM221.6 666.5h1.3v1.0h-1.3zM221.5 658.7h1.5v1.2h-1.5zM225.4 664.7h1.4v1.1h-1.4zM216.2 656.2h1.1v0.9h-1.1zM217.5 663.4h2.1v1.7h-2.1zM219.6 663.5h1.2v1.0h-1.2zM115.6 647.2h1.6v1.3h-1.6zM116.5 641.8h2.4v1.9h-2.4zM92.2 716.2h1.4v1.2h-1.4zM91.5 712.3h2.9v2.3h-2.9zM90.8 726.9h2.9v2.3h-2.9zM166.6 670.6h2.4v1.9h-2.4zM165.2 671.9h1.2v1.0h-1.2zM172.0 678.9h1.5v1.2h-1.5zM230.7 710.7h1.2v1.0h-1.2zM135.0 666.6h2.1v1.7h-2.1zM130.9 668.2h1.4v1.1h-1.4zM132.4 670.9h1.1v0.9h-1.1zM140.9 672.2h1.5v1.2h-1.5zM130.0 656.0h1.2v0.9h-1.2zM138.4 674.9h1.7v1.3h-1.7zM163.9 711.5h1.5v1.2h-1.5zM180.4 712.2h1.1v0.9h-1.1zM179.3 715.9h1.2v0.9h-1.2zM185.0 706.5h2.6v2.1h-2.6zM185.5 715.1h1.9v1.5h-1.9zM177.5 701.8h2.3v1.8h-2.3zM230.1 714.2h3.2v2.5h-3.2zM143.2 677.1h1.2v0.9h-1.2zM137.1 674.3h1.3v1.1h-1.3zM148.9 680.4h1.2v0.9h-1.2zM145.4 682.0h2.3v1.8h-2.3zM152.9 670.7h1.5v1.2h-1.5zM133.7 665.9h1.4v1.2h-1.4zM99.1 685.9h1.9v1.5h-1.9zM104.7 687.0h1.1v0.9h-1.1zM94.5 680.5h2.0v1.6h-2.0zM93.3 686.4h1.5v1.2h-1.5zM95.7 692.6h2.2v1.8h-2.2zM112.8 690.6h1.1v0.9h-1.1zM220.7 706.9h2.3v1.8h-2.3zM219.6 706.1h1.1v0.9h-1.1zM222.9 707.1h1.1v0.9h-1.1zM213.2 702.7h1.1v0.9h-1.1zM206.9 714.3h1.1v0.9h-1.1zM180.1 711.1h2.8v2.2h-2.8zM173.8 709.2h1.4v1.1h-1.4zM174.7 714.9h2.6v2.1h-2.6zM177.1 706.3h1.2v0.9h-1.2zM238.2 667.1h1.3v1.1h-1.3zM256.1 709.3h2.9v2.3h-2.9zM259.6 713.3h1.3v1.1h-1.3zM165.4 726.6h1.2v1.0h-1.2zM169.9 716.0h2.4v1.9h-2.4zM191.9 697.9h1.3v1.0h-1.3zM193.0 700.6h1.1v0.9h-1.1zM189.0 703.0h1.1v0.9h-1.1zM188.3 695.3h2.0v1.6h-2.0zM183.1 692.8h2.7v2.2h-2.7zM190.6 706.8h2.0v1.6h-2.0zM192.9 705.0h1.9v1.5h-1.9zM184.4 711.4h2.6v2.1h-2.6zM195.2 712.4h2.5v2.0h-2.5zM251.4 701.8h2.5v2.0h-2.5zM244.4 697.7h2.6v2.1h-2.6zM136.1 682.1h1.3v1.0h-1.3zM134.3 685.5h1.7v1.3h-1.7zM236.0 699.5h1.4v1.1h-1.4zM243.1 697.6h2.3v1.8h-2.3zM181.9 698.6h2.4v1.9h-2.4zM203.7 687.7h1.9v1.5h-1.9zM200.4 686.8h1.4v1.1h-1.4zM206.1 691.4h1.7v1.3h-1.7zM284.0 606.7h3.2v2.6h-3.2zM288.8 614.1h1.1v0.9h-1.1zM284.9 614.2h1.2v0.9h-1.2zM285.2 612.5h2.4v2.0h-2.4zM205.2 702.5h1.5v1.2h-1.5zM136.3 703.2h1.7v1.4h-1.7zM137.0 699.1h1.4v1.1h-1.4zM127.9 699.0h1.3v1.0h-1.3zM180.2 599.6h1.1v0.9h-1.1zM183.5 596.8h1.2v0.9h-1.2zM179.8 595.2h1.7v1.4h-1.7zM179.2 605.3h1.1v0.9h-1.1zM172.4 595.9h1.5v1.2h-1.5zM182.6 605.1h2.6v2.1h-2.6zM159.3 685.4h1.1v0.9h-1.1zM159.3 678.6h1.4v1.1h-1.4zM152.8 689.2h1.6v1.3h-1.6zM154.0 679.6h1.1v0.9h-1.1zM227.9 633.1h3.3v2.6h-3.3zM227.0 684.5h2.9v2.3h-2.9zM223.8 682.4h1.3v1.1h-1.3zM130.8 614.1h1.2v0.9h-1.2zM133.3 617.3h1.4v1.1h-1.4zM137.7 611.9h2.6v2.1h-2.6zM131.2 643.2h3.2v2.6h-3.2zM133.3 648.0h2.9v2.4h-2.9zM136.5 643.8h3.0v2.4h-3.0zM137.7 653.7h1.2v1.0h-1.2zM138.3 639.3h2.0v1.6h-2.0zM204.5 602.6h1.7v1.3h-1.7zM203.9 624.6h2.8v2.3h-2.8zM202.9 627.2h1.4v1.1h-1.4zM208.7 619.4h1.6v1.3h-1.6zM199.5 623.3h2.6v2.1h-2.6zM211.7 629.1h2.3v1.8h-2.3zM205.1 617.3h1.3v1.0h-1.3zM190.9 623.6h3.1v2.5h-3.1zM167.4 671.2h3.3v2.7h-3.3zM172.5 670.3h2.3v1.8h-2.3zM169.8 676.7h3.2v2.6h-3.2zM228.0 619.1h1.3v1.0h-1.3zM229.7 622.9h1.6v1.3h-1.6zM228.1 623.5h1.1v0.9h-1.1zM219.1 618.2h1.3v1.0h-1.3zM239.6 617.9h1.1v0.9h-1.1zM276.8 674.0h1.2v0.9h-1.2zM277.1 667.1h1.1v0.9h-1.1zM273.1 676.0h1.1v0.9h-1.1zM276.0 678.7h2.0v1.6h-2.0zM272.0 677.1h3.2v2.6h-3.2zM129.3 702.8h2.5v2.0h-2.5zM125.6 704.2h1.1v0.9h-1.1zM127.7 698.1h3.0v2.4h-3.0zM131.9 712.0h1.1v0.9h-1.1zM134.1 711.7h2.9v2.3h-2.9zM123.5 704.2h2.1v1.7h-2.1zM119.2 699.2h2.3v1.8h-2.3zM121.1 696.7h1.3v1.0h-1.3zM261.3 659.6h1.5v1.2h-1.5zM256.3 658.1h1.2v1.0h-1.2zM258.4 650.7h1.1v0.9h-1.1zM273.1 660.3h1.3v1.0h-1.3zM269.3 651.7h1.2v1.0h-1.2zM242.2 715.5h1.1v0.9h-1.1zM235.5 716.7h1.5v1.2h-1.5zM144.4 699.9h1.1v0.9h-1.1zM137.0 698.4h2.4v1.9h-2.4zM181.2 600.8h2.1v1.7h-2.1zM140.2 677.7h1.6v1.3h-1.6zM137.5 674.7h1.1v0.9h-1.1zM229.2 722.0h1.3v1.0h-1.3zM225.4 723.4h1.1v0.9h-1.1zM228.8 715.6h1.1v0.9h-1.1zM234.6 637.1h2.0v1.6h-2.0zM229.7 639.4h1.8v1.4h-1.8zM225.0 639.9h1.7v1.3h-1.7zM188.1 631.4h2.0v1.6h-2.0zM186.5 636.2h1.2v0.9h-1.2zM274.1 652.8h1.3v1.1h-1.3zM264.4 654.5h1.2v1.0h-1.2zM133.0 610.5h1.5v1.2h-1.5zM131.0 611.5h1.4v1.1h-1.4zM131.3 604.7h2.2v1.8h-2.2zM141.4 605.9h1.5v1.2h-1.5zM112.0 692.5h1.8v1.4h-1.8zM188.8 665.6h2.2v1.7h-2.2zM190.7 659.2h2.9v2.3h-2.9zM195.6 662.9h1.8v1.4h-1.8zM197.3 653.7h1.2v0.9h-1.2zM200.0 655.1h1.4v1.1h-1.4zM219.4 635.0h1.5v1.2h-1.5zM213.3 639.8h2.4v1.9h-2.4zM297.1 719.3h1.2v0.9h-1.2zM206.5 714.1h1.1v0.9h-1.1zM208.6 717.7h1.1v0.9h-1.1zM205.9 723.2h1.1v0.9h-1.1zM210.6 706.1h2.7v2.2h-2.7zM200.0 604.4h2.3v1.9h-2.3zM198.0 600.8h1.3v1.0h-1.3zM195.9 611.7h1.1v0.9h-1.1zM242.6 683.0h3.1v2.5h-3.1zM152.5 703.0h1.3v1.1h-1.3zM132.8 624.8h1.3v1.1h-1.3zM153.3 726.2h2.3v1.8h-2.3zM235.5 613.9h1.9v1.5h-1.9zM232.4 610.5h1.2v1.0h-1.2zM234.2 621.2h1.5v1.2h-1.5zM230.6 620.1h1.8v1.4h-1.8zM235.7 607.9h1.8v1.4h-1.8zM228.4 615.4h1.9v1.5h-1.9zM241.8 613.5h1.8v1.4h-1.8zM105.5 633.0h2.1v1.7h-2.1zM110.0 634.3h2.4v1.9h-2.4zM293.4 718.2h1.4v1.1h-1.4zM297.3 721.5h1.8v1.4h-1.8zM298.8 708.8h1.6v1.3h-1.6zM291.2 712.4h1.4v1.1h-1.4zM253.5 653.6h1.3v1.0h-1.3zM255.4 649.9h1.2v0.9h-1.2zM252.8 662.1h1.2v1.0h-1.2zM258.2 653.8h1.9v1.5h-1.9zM258.9 656.6h2.3v1.8h-2.3zM227.6 621.5h2.7v2.1h-2.7zM234.9 620.1h1.9v1.6h-1.9zM221.6 633.8h1.5v1.2h-1.5zM224.7 631.8h1.4v1.1h-1.4zM220.8 621.0h1.9v1.5h-1.9zM245.3 630.0h1.6v1.3h-1.6zM240.6 624.3h1.5v1.2h-1.5zM244.6 639.0h1.2v1.0h-1.2zM246.4 639.5h1.5v1.2h-1.5zM252.2 633.2h1.1v0.9h-1.1zM251.6 638.8h1.2v1.0h-1.2z" fill="#2c1796"/></g></g>
<rect x="92.1" y="598.2" width="207" height="3" fill="url(#vg)"/><rect x="275" y="598.2" width="24.1" height="22" fill="url(#vr)"/>
<path d="M273 716.7h9" stroke="#c03030" stroke-width=".8" opacity=".7"/>
<g clip-path="url(#c3)"><rect x="92.1" y="743.1" width="207" height="129" fill="#d9d9d7"/><g filter="url(#soft)"><path d="M285.1 754.1h1v1h-1zM150.1 796.3h1.2v1.2h-1.2zM295.1 786.5h0.8v0.8h-0.8zM202.0 820.0h1.2v1.2h-1.2zM238.4 749.6h1.2v1.2h-1.2zM282.1 765.0h0.8v0.8h-0.8zM119.2 835.5h1.2v1.2h-1.2zM227.8 834.9h0.8v0.8h-0.8zM126.7 745.9h0.8v0.8h-0.8zM265.3 790.0h1v1h-1zM250.2 847.9h1.2v1.2h-1.2zM257.5 861.9h1v1h-1zM96.9 755.5h0.8v0.8h-0.8zM228.7 833.9h1v1h-1zM119.6 849.1h1.2v1.2h-1.2zM105.4 752.5h1v1h-1zM196.8 763.9h0.8v0.8h-0.8zM233.6 808.7h1v1h-1zM230.9 748.5h0.8v0.8h-0.8zM110.6 803.4h0.8v0.8h-0.8zM270.2 752.4h1v1h-1zM162.2 749.8h1v1h-1zM294.4 802.3h1.2v1.2h-1.2zM290.6 852.5h1v1h-1zM294.5 810.3h1.2v1.2h-1.2zM254.3 839.3h0.8v0.8h-0.8zM223.3 853.2h0.8v0.8h-0.8zM207.5 806.5h0.8v0.8h-0.8zM148.1 767.8h1v1h-1zM170.5 801.1h1.2v1.2h-1.2zM226.5 754.3h1v1h-1zM96.2 859.3h1.2v1.2h-1.2zM191.5 745.7h1v1h-1zM267.6 794.3h0.8v0.8h-0.8zM125.7 783.5h1.2v1.2h-1.2zM169.2 809.8h0.8v0.8h-0.8zM118.4 773.0h1.2v1.2h-1.2zM162.9 840.1h1.2v1.2h-1.2zM261.3 842.9h0.8v0.8h-0.8zM175.7 759.7h1.2v1.2h-1.2zM127.7 779.5h0.8v0.8h-0.8zM127.7 761.8h1v1h-1zM171.4 772.3h0.8v0.8h-0.8zM261.1 846.1h0.8v0.8h-0.8zM175.6 858.8h0.8v0.8h-0.8zM241.7 807.6h0.8v0.8h-0.8zM121.3 815.3h0.8v0.8h-0.8zM125.4 788.6h1v1h-1zM104.6 777.0h1v1h-1zM293.7 835.3h1v1h-1zM209.5 783.1h1v1h-1zM272.2 744.2h1v1h-1zM233.8 804.8h1.2v1.2h-1.2zM276.7 764.1h1.2v1.2h-1.2zM295.9 832.0h0.8v0.8h-0.8zM206.7 789.3h0.8v0.8h-0.8zM280.5 855.3h1.2v1.2h-1.2zM284.1 747.9h0.8v0.8h-0.8zM241.2 823.7h1.2v1.2h-1.2zM163.1 824.1h1.2v1.2h-1.2zM240.7 844.6h0.8v0.8h-0.8zM178.9 749.3h0.8v0.8h-0.8zM194.1 829.8h1v1h-1zM215.7 791.1h0.8v0.8h-0.8zM292.8 865.2h1.2v1.2h-1.2zM118.7 762.4h0.8v0.8h-0.8zM279.7 752.4h1.2v1.2h-1.2zM173.2 787.9h1.2v1.2h-1.2zM116.3 837.0h1v1h-1zM158.7 806.5h1v1h-1zM233.8 840.1h1.2v1.2h-1.2zM190.4 840.3h1v1h-1zM213.9 826.8h1.2v1.2h-1.2zM253.5 867.2h1.2v1.2h-1.2zM139.8 825.3h0.8v0.8h-0.8zM119.2 771.6h1v1h-1zM219.5 820.9h1.2v1.2h-1.2zM183.7 764.1h1v1h-1zM102.2 857.5h1.2v1.2h-1.2zM235.6 787.8h0.8v0.8h-0.8zM210.5 807.7h1v1h-1zM141.7 759.8h0.8v0.8h-0.8zM228.5 870.3h0.8v0.8h-0.8zM254.5 764.3h0.8v0.8h-0.8zM204.3 775.6h1.2v1.2h-1.2zM288.5 780.5h0.8v0.8h-0.8zM140.5 825.1h1.2v1.2h-1.2zM278.4 768.3h0.8v0.8h-0.8zM216.9 769.4h1v1h-1zM264.4 839.8h1v1h-1zM282.9 804.5h1v1h-1zM282.3 806.6h0.8v0.8h-0.8zM105.4 864.7h1.2v1.2h-1.2zM163.0 868.9h1v1h-1zM141.6 807.2h0.8v0.8h-0.8zM114.3 768.1h1.2v1.2h-1.2zM102.9 812.0h0.8v0.8h-0.8zM198.2 837.3h1v1h-1zM170.0 802.2h1v1h-1zM220.6 798.0h0.8v0.8h-0.8zM112.2 755.9h1v1h-1zM99.9 856.6h0.8v0.8h-0.8zM130.6 813.3h1.2v1.2h-1.2zM186.9 759.8h1v1h-1zM254.8 746.4h1.2v1.2h-1.2zM234.7 844.7h0.8v0.8h-0.8zM176.6 792.0h1v1h-1zM153.5 756.3h1.2v1.2h-1.2zM206.0 814.7h0.8v0.8h-0.8zM267.1 805.9h1v1h-1zM198.9 835.5h1v1h-1zM120.1 837.6h0.8v0.8h-0.8zM267.9 784.7h1.2v1.2h-1.2zM293.3 744.9h0.8v0.8h-0.8zM190.5 759.1h1v1h-1zM255.7 797.8h1.2v1.2h-1.2zM106.9 784.5h1v1h-1zM125.5 815.6h0.8v0.8h-0.8zM280.8 790.4h1v1h-1zM119.9 841.6h1.2v1.2h-1.2zM213.2 844.3h0.8v0.8h-0.8zM220.6 833.7h0.8v0.8h-0.8zM196.7 760.0h1v1h-1zM108.3 756.7h1v1h-1zM208.1 785.5h1v1h-1zM199.2 787.7h1v1h-1zM149.1 767.4h1v1h-1zM188.9 762.6h0.8v0.8h-0.8zM281.4 815.5h1v1h-1zM288.5 777.6h0.8v0.8h-0.8zM152.1 834.1h1v1h-1zM273.1 762.8h1.2v1.2h-1.2zM144.3 754.5h1v1h-1zM228.2 837.3h0.8v0.8h-0.8zM269.7 848.7h1v1h-1zM145.6 870.1h1.2v1.2h-1.2zM292.7 808.1h1v1h-1zM298.4 775.7h1.2v1.2h-1.2zM190.9 749.6h1.2v1.2h-1.2zM158.5 816.1h1.2v1.2h-1.2zM231.0 748.4h0.8v0.8h-0.8zM141.7 867.4h0.8v0.8h-0.8zM291.6 829.1h0.8v0.8h-0.8zM184.6 759.1h1.2v1.2h-1.2zM272.7 824.2h0.8v0.8h-0.8zM256.4 839.3h1.2v1.2h-1.2zM235.4 835.7h1.2v1.2h-1.2zM212.8 867.3h0.8v0.8h-0.8zM99.4 863.3h1v1h-1zM269.2 833.7h1.2v1.2h-1.2zM213.4 768.6h1v1h-1zM214.1 835.8h1v1h-1zM108.7 755.0h0.8v0.8h-0.8zM253.0 850.6h1.2v1.2h-1.2zM128.5 863.1h1v1h-1zM181.9 814.9h1v1h-1zM244.4 823.3h1v1h-1zM268.7 856.3h1v1h-1zM271.0 827.9h0.8v0.8h-0.8zM202.0 744.3h1.2v1.2h-1.2zM205.0 743.3h0.8v0.8h-0.8zM116.6 780.1h1.2v1.2h-1.2zM136.2 870.3h1.2v1.2h-1.2zM274.4 810.2h1v1h-1zM168.2 752.4h1.2v1.2h-1.2zM266.9 857.7h1v1h-1zM116.9 779.4h1.2v1.2h-1.2zM172.9 801.1h1v1h-1zM295.0 869.1h0.8v0.8h-0.8zM222.2 842.8h0.8v0.8h-0.8zM182.1 843.1h1v1h-1zM262.4 754.2h1v1h-1zM203.1 823.3h0.8v0.8h-0.8zM123.6 854.6h0.8v0.8h-0.8zM128.9 856.5h1v1h-1zM191.5 804.0h1.2v1.2h-1.2zM120.9 778.2h0.8v0.8h-0.8zM217.8 853.6h1v1h-1zM267.5 769.7h1.2v1.2h-1.2zM240.2 821.4h1.2v1.2h-1.2zM210.2 761.3h0.8v0.8h-0.8zM123.3 832.3h1v1h-1zM220.8 759.8h1.2v1.2h-1.2zM148.6 868.7h1.2v1.2h-1.2zM231.5 780.8h1.2v1.2h-1.2zM218.5 757.8h0.8v0.8h-0.8zM217.8 810.9h1.2v1.2h-1.2zM215.2 820.3h1.2v1.2h-1.2zM214.3 772.0h0.8v0.8h-0.8zM299.1 838.2h1v1h-1zM284.4 771.6h1v1h-1zM106.1 861.1h1.2v1.2h-1.2zM213.5 749.1h1v1h-1zM240.5 797.3h1.2v1.2h-1.2zM257.6 812.3h1v1h-1zM230.5 802.1h0.8v0.8h-0.8zM245.4 855.3h1v1h-1zM291.3 867.5h0.8v0.8h-0.8zM286.3 866.8h0.8v0.8h-0.8zM130.4 764.7h0.8v0.8h-0.8zM208.6 744.4h0.8v0.8h-0.8zM264.5 768.7h1v1h-1zM109.3 825.1h1.2v1.2h-1.2zM249.0 770.9h0.8v0.8h-0.8zM163.6 857.0h1v1h-1zM275.6 759.5h1.2v1.2h-1.2zM93.0 824.4h1.2v1.2h-1.2zM249.4 752.1h1v1h-1zM298.5 809.3h1v1h-1zM210.8 810.7h0.8v0.8h-0.8zM230.7 854.6h0.8v0.8h-0.8zM127.1 766.0h1.2v1.2h-1.2zM269.2 847.5h0.8v0.8h-0.8zM279.2 747.0h1v1h-1zM278.4 871.0h0.8v0.8h-0.8zM170.8 814.6h1.2v1.2h-1.2zM198.8 832.4h1v1h-1zM222.2 869.3h1.2v1.2h-1.2zM226.6 805.8h1.2v1.2h-1.2zM275.3 767.8h1v1h-1zM289.2 807.0h0.8v0.8h-0.8zM260.1 805.9h1v1h-1zM231.7 838.7h1v1h-1zM264.2 794.3h0.8v0.8h-0.8zM211.9 800.7h1.2v1.2h-1.2zM121.9 841.0h1v1h-1zM194.1 827.8h1.2v1.2h-1.2zM105.6 861.7h1.2v1.2h-1.2zM155.3 768.6h0.8v0.8h-0.8zM154.0 781.0h0.8v0.8h-0.8zM198.8 810.8h1.2v1.2h-1.2zM291.6 773.3h1.2v1.2h-1.2zM197.1 771.1h0.8v0.8h-0.8zM213.9 843.6h0.8v0.8h-0.8zM250.4 847.0h1.2v1.2h-1.2zM120.9 799.1h1v1h-1zM212.3 765.7h1v1h-1zM268.6 815.4h1.2v1.2h-1.2zM198.7 814.4h1.2v1.2h-1.2zM208.0 871.5h0.8v0.8h-0.8zM158.6 758.8h1v1h-1zM129.6 849.1h1v1h-1zM165.2 756.8h1v1h-1zM208.8 790.8h1v1h-1zM136.9 843.4h1v1h-1zM119.5 764.7h1v1h-1zM155.2 845.5h0.8v0.8h-0.8zM195.3 790.1h1v1h-1zM125.1 828.4h1.2v1.2h-1.2zM221.8 819.1h1.2v1.2h-1.2zM218.7 789.7h0.8v0.8h-0.8zM161.1 818.9h0.8v0.8h-0.8zM259.9 812.4h0.8v0.8h-0.8zM189.9 812.4h1v1h-1zM215.2 800.3h0.8v0.8h-0.8zM118.5 757.6h1v1h-1zM257.1 768.5h0.8v0.8h-0.8zM283.1 769.1h1v1h-1zM95.9 792.5h1.2v1.2h-1.2zM218.9 777.5h1.2v1.2h-1.2zM104.0 754.1h1v1h-1zM143.7 839.9h1.2v1.2h-1.2zM298.6 800.0h0.8v0.8h-0.8zM276.5 857.0h0.8v0.8h-0.8zM136.3 827.6h0.8v0.8h-0.8zM184.0 766.8h0.8v0.8h-0.8zM286.5 820.7h1.2v1.2h-1.2zM110.9 752.6h1.2v1.2h-1.2zM131.8 837.5h0.8v0.8h-0.8zM210.9 755.7h1.2v1.2h-1.2zM101.9 853.2h1.2v1.2h-1.2zM226.9 779.7h1.2v1.2h-1.2zM281.6 778.3h1v1h-1zM136.5 752.6h0.8v0.8h-0.8zM260.2 867.8h1.2v1.2h-1.2zM298.2 779.3h1v1h-1zM132.9 834.4h1.2v1.2h-1.2zM202.0 781.3h0.8v0.8h-0.8zM102.1 761.4h1v1h-1zM210.2 772.7h1v1h-1zM283.4 836.6h1v1h-1zM115.8 748.2h1.2v1.2h-1.2zM268.8 793.6h1.2v1.2h-1.2zM268.4 754.5h1.2v1.2h-1.2zM228.9 798.5h1v1h-1zM242.2 864.3h0.8v0.8h-0.8zM205.3 860.8h1v1h-1zM254.2 867.5h1v1h-1zM264.9 792.4h1.2v1.2h-1.2zM226.2 767.1h0.8v0.8h-0.8zM140.6 809.3h1.2v1.2h-1.2zM179.4 798.9h0.8v0.8h-0.8zM116.1 775.6h1.2v1.2h-1.2zM177.0 829.9h1.2v1.2h-1.2zM241.8 817.7h1.2v1.2h-1.2zM174.7 760.6h1v1h-1zM201.4 856.4h1v1h-1zM125.5 871.6h0.8v0.8h-0.8zM214.0 857.1h1.2v1.2h-1.2zM141.8 840.6h1.2v1.2h-1.2zM150.3 745.8h1v1h-1zM155.7 836.7h0.8v0.8h-0.8zM202.9 764.8h0.8v0.8h-0.8zM242.6 797.6h1v1h-1zM124.1 783.8h0.8v0.8h-0.8zM121.8 870.3h0.8v0.8h-0.8zM149.7 768.4h1v1h-1zM100.6 779.8h1.2v1.2h-1.2zM196.9 857.6h1.2v1.2h-1.2zM187.1 843.3h0.8v0.8h-0.8zM159.0 789.5h1v1h-1zM203.9 753.7h1.2v1.2h-1.2zM288.1 844.1h1.2v1.2h-1.2zM189.3 860.8h1.2v1.2h-1.2zM280.4 855.1h1v1h-1zM295.2 821.9h1.2v1.2h-1.2zM218.9 788.9h1.2v1.2h-1.2zM184.8 754.5h1.2v1.2h-1.2zM205.2 869.9h1v1h-1zM204.5 778.6h0.8v0.8h-0.8zM149.7 868.3h1v1h-1zM156.0 835.3h0.8v0.8h-0.8zM183.8 791.2h0.8v0.8h-0.8zM155.1 849.8h1v1h-1zM93.5 841.9h1.2v1.2h-1.2zM293.0 841.0h1v1h-1zM253.7 766.1h1.2v1.2h-1.2zM246.3 854.1h1v1h-1zM115.6 802.7h1v1h-1zM228.2 760.8h1.2v1.2h-1.2zM207.8 857.2h1.2v1.2h-1.2zM217.1 760.3h0.8v0.8h-0.8zM176.0 786.7h1.2v1.2h-1.2zM115.8 747.7h1v1h-1zM243.8 805.0h1v1h-1zM152.9 759.4h1v1h-1zM121.1 784.6h1.2v1.2h-1.2zM170.8 779.5h1v1h-1zM253.9 818.2h0.8v0.8h-0.8zM247.2 862.9h1.2v1.2h-1.2zM140.8 848.3h0.8v0.8h-0.8zM115.0 799.4h0.8v0.8h-0.8zM274.3 852.1h0.8v0.8h-0.8zM185.6 748.1h1v1h-1zM164.8 815.6h1.2v1.2h-1.2zM145.2 835.7h0.8v0.8h-0.8zM192.1 783.8h1v1h-1zM104.9 840.7h1.2v1.2h-1.2zM263.0 845.1h1.2v1.2h-1.2zM172.8 859.3h0.8v0.8h-0.8zM179.5 809.1h1.2v1.2h-1.2zM220.1 785.3h0.8v0.8h-0.8zM276.7 768.4h1v1h-1zM177.6 788.2h1v1h-1zM183.6 833.3h1.2v1.2h-1.2zM143.6 836.6h1v1h-1zM192.9 774.9h0.8v0.8h-0.8zM169.0 755.0h0.8v0.8h-0.8zM160.0 845.4h1v1h-1zM284.2 798.9h0.8v0.8h-0.8zM216.2 845.9h1v1h-1zM259.0 863.4h0.8v0.8h-0.8zM278.6 870.1h1.2v1.2h-1.2zM230.0 822.4h1.2v1.2h-1.2zM242.9 752.5h1v1h-1zM216.0 860.3h1v1h-1zM247.2 855.7h1v1h-1zM235.8 869.8h1v1h-1zM196.1 813.6h0.8v0.8h-0.8zM149.5 752.2h1v1h-1zM266.8 813.4h0.8v0.8h-0.8zM279.3 764.6h1.2v1.2h-1.2zM270.5 746.0h0.8v0.8h-0.8zM211.3 764.5h1v1h-1zM136.9 787.7h1v1h-1zM194.0 769.1h1.2v1.2h-1.2zM120.5 802.4h0.8v0.8h-0.8zM220.3 778.9h1v1h-1zM172.6 840.2h1.2v1.2h-1.2zM248.5 794.8h1v1h-1zM171.6 853.4h0.8v0.8h-0.8zM116.1 762.9h1v1h-1zM269.8 782.6h0.8v0.8h-0.8zM206.4 759.7h0.8v0.8h-0.8zM274.5 846.7h0.8v0.8h-0.8zM144.2 780.3h0.8v0.8h-0.8zM103.6 743.2h0.8v0.8h-0.8zM295.1 852.8h0.8v0.8h-0.8zM122.5 816.5h0.8v0.8h-0.8zM151.8 846.2h1.2v1.2h-1.2zM99.3 780.6h0.8v0.8h-0.8zM161.7 817.3h1.2v1.2h-1.2zM218.4 861.2h0.8v0.8h-0.8zM182.7 779.1h0.8v0.8h-0.8zM97.4 855.4h0.8v0.8h-0.8zM225.9 826.6h1.2v1.2h-1.2zM123.8 787.0h1v1h-1zM292.1 791.1h1v1h-1zM171.0 861.2h1.2v1.2h-1.2zM132.7 787.4h1v1h-1zM223.2 856.0h0.8v0.8h-0.8zM140.7 871.1h1.2v1.2h-1.2zM147.5 871.7h1.2v1.2h-1.2zM193.9 863.9h0.8v0.8h-0.8zM294.6 785.0h0.8v0.8h-0.8zM218.8 746.1h0.8v0.8h-0.8zM215.4 776.2h0.8v0.8h-0.8zM252.7 800.5h1v1h-1zM219.8 836.3h0.8v0.8h-0.8zM292.5 810.6h1.2v1.2h-1.2zM273.6 808.1h1v1h-1zM239.0 813.0h1v1h-1zM271.4 761.9h0.8v0.8h-0.8zM293.8 781.5h0.8v0.8h-0.8zM134.5 774.8h1.2v1.2h-1.2zM198.4 787.8h1.2v1.2h-1.2zM179.2 853.8h1v1h-1zM200.7 760.8h1.2v1.2h-1.2zM219.9 855.8h1.2v1.2h-1.2zM190.4 863.3h0.8v0.8h-0.8zM116.4 746.1h1.2v1.2h-1.2zM280.5 796.5h1v1h-1zM107.3 848.2h1.2v1.2h-1.2zM152.3 773.5h1.2v1.2h-1.2zM237.4 857.4h1.2v1.2h-1.2zM285.4 816.6h0.8v0.8h-0.8zM210.4 758.4h1v1h-1zM151.6 801.9h1.2v1.2h-1.2zM260.0 756.0h1.2v1.2h-1.2zM191.0 845.5h1v1h-1zM232.6 792.5h1.2v1.2h-1.2zM132.9 859.2h1v1h-1zM201.4 762.8h1v1h-1zM271.9 757.2h0.8v0.8h-0.8zM264.5 752.3h1.2v1.2h-1.2zM179.4 799.3h1.2v1.2h-1.2zM180.1 777.0h1v1h-1zM155.1 782.2h1v1h-1zM276.7 846.4h0.8v0.8h-0.8zM103.8 868.8h1v1h-1zM96.5 813.7h0.8v0.8h-0.8zM170.3 846.6h1v1h-1zM243.9 848.3h1v1h-1zM297.3 830.8h0.8v0.8h-0.8zM172.8 856.2h0.8v0.8h-0.8zM273.0 750.8h1.2v1.2h-1.2zM273.3 841.1h0.8v0.8h-0.8zM153.4 819.4h0.8v0.8h-0.8zM181.0 847.2h1v1h-1zM212.7 867.3h0.8v0.8h-0.8zM200.0 870.1h1v1h-1zM236.8 815.2h1v1h-1zM212.1 757.1h0.8v0.8h-0.8zM201.5 850.0h1v1h-1zM197.0 861.6h0.8v0.8h-0.8zM112.1 806.9h0.8v0.8h-0.8zM118.0 815.7h0.8v0.8h-0.8zM283.3 827.1h0.8v0.8h-0.8zM139.3 840.1h1v1h-1zM188.0 774.0h0.8v0.8h-0.8zM95.2 753.1h0.8v0.8h-0.8zM247.3 851.5h1.2v1.2h-1.2zM236.7 783.2h1.2v1.2h-1.2zM295.6 852.9h0.8v0.8h-0.8zM132.9 823.9h1v1h-1zM151.3 866.5h1v1h-1zM182.6 807.8h1.2v1.2h-1.2zM96.5 788.8h1v1h-1zM111.9 808.7h0.8v0.8h-0.8zM163.5 857.1h0.8v0.8h-0.8zM129.5 771.0h1v1h-1zM238.9 849.9h1v1h-1zM128.9 753.1h0.8v0.8h-0.8zM136.9 766.4h1.2v1.2h-1.2zM155.2 819.8h1v1h-1zM100.2 871.0h1.2v1.2h-1.2zM168.6 844.1h0.8v0.8h-0.8zM260.9 764.3h1v1h-1zM105.5 784.1h1v1h-1zM172.0 825.4h1v1h-1zM223.3 776.5h1v1h-1zM296.3 809.5h0.8v0.8h-0.8zM241.9 791.4h0.8v0.8h-0.8zM263.5 860.9h1.2v1.2h-1.2zM276.6 864.2h0.8v0.8h-0.8zM195.8 864.8h1.2v1.2h-1.2zM103.0 836.2h1.2v1.2h-1.2zM249.8 834.1h1v1h-1zM105.0 803.4h1v1h-1zM286.1 797.9h0.8v0.8h-0.8zM237.0 870.7h1v1h-1zM208.4 854.5h1v1h-1zM201.3 808.1h0.8v0.8h-0.8zM209.6 832.4h1v1h-1zM118.0 820.9h1v1h-1zM119.3 812.2h1v1h-1zM93.9 804.8h1v1h-1zM198.3 744.7h1.2v1.2h-1.2zM282.9 871.8h1v1h-1zM149.0 790.9h0.8v0.8h-0.8zM103.3 825.2h1v1h-1zM208.9 869.8h0.8v0.8h-0.8zM199.5 851.9h0.8v0.8h-0.8zM269.1 839.0h1.2v1.2h-1.2zM209.9 856.4h1.2v1.2h-1.2zM274.0 748.4h1v1h-1zM169.1 816.2h0.8v0.8h-0.8zM233.8 822.6h1v1h-1zM205.6 788.2h0.8v0.8h-0.8zM281.6 749.9h1.2v1.2h-1.2zM250.9 832.7h0.8v0.8h-0.8zM126.3 818.5h0.8v0.8h-0.8zM140.6 745.5h0.8v0.8h-0.8zM127.2 784.5h0.8v0.8h-0.8zM133.1 776.7h1v1h-1zM190.0 746.5h1.2v1.2h-1.2zM281.2 776.4h1.2v1.2h-1.2zM103.3 854.4h1.2v1.2h-1.2zM226.9 749.4h1v1h-1zM122.7 743.3h0.8v0.8h-0.8zM109.5 852.7h0.8v0.8h-0.8zM177.2 854.0h1.2v1.2h-1.2zM288.5 783.7h1.2v1.2h-1.2zM281.0 785.1h1v1h-1zM229.0 857.3h0.8v0.8h-0.8zM105.6 854.7h1.2v1.2h-1.2zM171.1 764.6h1.2v1.2h-1.2zM114.1 776.2h0.8v0.8h-0.8zM241.5 820.7h0.8v0.8h-0.8zM199.4 772.0h1.2v1.2h-1.2zM205.8 830.8h1v1h-1zM293.3 773.2h1v1h-1zM244.4 851.1h1v1h-1zM230.9 774.6h0.8v0.8h-0.8zM245.7 774.8h1.2v1.2h-1.2zM199.2 764.4h1v1h-1zM245.7 758.9h1.2v1.2h-1.2zM165.9 846.2h0.8v0.8h-0.8zM251.8 767.3h1v1h-1zM115.4 793.6h1.2v1.2h-1.2zM193.6 765.4h1v1h-1zM214.6 800.7h1.2v1.2h-1.2zM278.6 820.3h1.2v1.2h-1.2zM201.7 795.2h0.8v0.8h-0.8zM298.9 857.7h1v1h-1zM286.2 761.4h1v1h-1zM130.5 779.8h0.8v0.8h-0.8zM236.1 770.2h1v1h-1zM98.4 840.2h1v1h-1zM116.3 861.7h1.2v1.2h-1.2zM104.1 838.5h1v1h-1zM114.7 755.8h1.2v1.2h-1.2zM214.1 800.5h1v1h-1zM188.7 747.9h1v1h-1zM124.3 855.0h1.2v1.2h-1.2zM228.0 853.0h1.2v1.2h-1.2zM136.1 827.1h1.2v1.2h-1.2zM215.7 798.6h1v1h-1zM235.0 764.7h1.2v1.2h-1.2zM172.6 749.3h1.2v1.2h-1.2zM251.3 758.0h1.2v1.2h-1.2zM102.5 746.1h0.8v0.8h-0.8zM258.0 826.2h1v1h-1zM111.0 759.8h1v1h-1zM166.9 819.3h1v1h-1zM277.5 751.8h1.2v1.2h-1.2zM271.4 839.1h1.2v1.2h-1.2zM284.7 854.9h0.8v0.8h-0.8zM166.9 843.4h1.2v1.2h-1.2zM148.6 840.7h0.8v0.8h-0.8zM214.0 755.2h0.8v0.8h-0.8zM296.6 870.6h1v1h-1zM248.6 774.6h0.8v0.8h-0.8zM216.2 791.9h0.8v0.8h-0.8zM259.2 797.6h1v1h-1zM179.1 784.2h1.2v1.2h-1.2zM165.2 822.7h1.2v1.2h-1.2zM292.0 811.4h1v1h-1zM172.2 845.4h1v1h-1zM193.3 837.2h1.2v1.2h-1.2zM144.8 859.8h1.2v1.2h-1.2zM187.1 844.7h1.2v1.2h-1.2zM115.6 783.5h0.8v0.8h-0.8zM101.0 827.4h1v1h-1zM137.9 828.5h0.8v0.8h-0.8zM225.3 865.0h0.8v0.8h-0.8zM297.1 861.3h0.8v0.8h-0.8zM221.8 864.9h1.2v1.2h-1.2zM254.1 766.1h1v1h-1zM159.8 775.0h1.2v1.2h-1.2zM211.8 816.3h0.8v0.8h-0.8zM243.4 758.8h1v1h-1zM187.6 746.7h0.8v0.8h-0.8zM291.1 779.7h1v1h-1zM112.7 788.7h1.2v1.2h-1.2zM212.5 775.6h0.8v0.8h-0.8zM172.4 871.0h1.2v1.2h-1.2zM150.2 815.3h1.2v1.2h-1.2zM186.4 770.0h0.8v0.8h-0.8zM126.2 850.7h0.8v0.8h-0.8zM179.9 835.6h1.2v1.2h-1.2zM259.7 756.0h0.8v0.8h-0.8zM105.5 800.7h1.2v1.2h-1.2zM223.1 790.2h1v1h-1zM289.9 841.5h1v1h-1zM192.9 805.5h0.8v0.8h-0.8zM288.0 806.5h0.8v0.8h-0.8zM267.3 766.8h0.8v0.8h-0.8zM146.6 788.8h0.8v0.8h-0.8zM226.1 769.6h1v1h-1zM260.8 776.1h1.2v1.2h-1.2zM208.8 856.2h1v1h-1zM153.5 805.4h1v1h-1zM263.2 844.2h1v1h-1zM280.6 784.6h1v1h-1zM145.2 808.8h0.8v0.8h-0.8zM253.9 843.4h1.2v1.2h-1.2zM229.6 749.8h1.2v1.2h-1.2zM184.9 813.4h0.8v0.8h-0.8zM279.2 762.6h0.8v0.8h-0.8zM203.9 842.3h0.8v0.8h-0.8zM200.6 753.4h0.8v0.8h-0.8zM186.5 809.4h1v1h-1zM272.1 836.7h1.2v1.2h-1.2zM218.6 745.9h1.2v1.2h-1.2zM140.6 760.7h1v1h-1zM166.4 764.1h0.8v0.8h-0.8zM185.9 751.4h1.2v1.2h-1.2zM160.6 856.4h0.8v0.8h-0.8zM159.8 809.2h1.2v1.2h-1.2zM155.4 772.2h0.8v0.8h-0.8zM283.6 865.7h0.8v0.8h-0.8zM172.7 773.5h1.2v1.2h-1.2zM184.9 856.8h1v1h-1zM233.8 762.9h1v1h-1zM256.4 837.9h1.2v1.2h-1.2zM193.4 807.1h0.8v0.8h-0.8zM207.5 754.6h1.2v1.2h-1.2zM136.5 859.5h1v1h-1zM105.6 810.4h0.8v0.8h-0.8zM236.1 758.2h1v1h-1zM183.2 804.0h1v1h-1zM158.0 827.9h0.8v0.8h-0.8zM199.2 768.5h0.8v0.8h-0.8zM177.2 773.7h1v1h-1zM172.2 870.5h1.2v1.2h-1.2zM250.6 775.2h0.8v0.8h-0.8zM268.1 788.6h0.8v0.8h-0.8zM251.2 774.3h1.2v1.2h-1.2zM197.4 782.7h1.2v1.2h-1.2zM217.6 790.9h0.8v0.8h-0.8zM96.3 825.4h1v1h-1zM186.5 758.9h1v1h-1zM198.6 788.8h0.8v0.8h-0.8zM267.7 848.0h1.2v1.2h-1.2zM295.1 804.5h0.8v0.8h-0.8zM286.8 744.3h0.8v0.8h-0.8zM218.1 795.0h0.8v0.8h-0.8zM97.8 773.4h1v1h-1zM101.2 769.7h0.8v0.8h-0.8zM252.4 814.6h1.2v1.2h-1.2zM220.2 797.2h1v1h-1zM216.6 815.3h1v1h-1zM94.3 784.2h1v1h-1zM297.4 770.4h1v1h-1zM163.3 797.3h0.8v0.8h-0.8zM116.0 833.0h0.8v0.8h-0.8zM179.3 833.2h0.8v0.8h-0.8zM236.5 783.6h0.8v0.8h-0.8zM161.4 800.5h1v1h-1zM174.4 754.1h1.2v1.2h-1.2zM235.3 746.6h1v1h-1zM281.7 870.9h1.2v1.2h-1.2zM98.4 864.1h1v1h-1zM219.3 780.5h1.2v1.2h-1.2zM167.6 806.3h1v1h-1zM278.9 861.2h0.8v0.8h-0.8zM198.6 753.4h0.8v0.8h-0.8zM174.5 864.9h0.8v0.8h-0.8zM182.9 813.0h1.2v1.2h-1.2zM138.6 768.8h0.8v0.8h-0.8zM252.0 832.3h1v1h-1zM131.3 770.3h0.8v0.8h-0.8zM97.0 774.8h1.2v1.2h-1.2zM134.2 837.9h1.2v1.2h-1.2zM140.3 828.7h0.8v0.8h-0.8zM148.4 775.7h1v1h-1zM112.1 855.8h1.2v1.2h-1.2zM274.7 770.1h1.2v1.2h-1.2zM278.6 750.5h1.2v1.2h-1.2zM245.1 854.2h1v1h-1zM217.0 755.2h0.8v0.8h-0.8zM248.7 821.3h1v1h-1zM95.6 851.6h1v1h-1zM117.0 818.1h1.2v1.2h-1.2zM162.7 774.5h1.2v1.2h-1.2zM186.0 792.1h0.8v0.8h-0.8zM147.7 752.0h0.8v0.8h-0.8zM257.7 801.8h0.8v0.8h-0.8zM130.0 810.0h0.8v0.8h-0.8zM227.3 825.8h1v1h-1zM198.1 753.8h1v1h-1zM217.6 801.5h0.8v0.8h-0.8zM114.7 796.3h1v1h-1zM291.1 810.0h0.8v0.8h-0.8zM277.8 780.0h1v1h-1zM96.4 759.6h1v1h-1zM234.9 846.7h0.8v0.8h-0.8zM293.4 801.7h1.2v1.2h-1.2zM148.5 759.4h0.8v0.8h-0.8zM272.1 788.6h0.8v0.8h-0.8zM261.1 786.3h1v1h-1zM278.1 768.1h1v1h-1zM179.1 807.2h1.2v1.2h-1.2zM98.2 800.3h0.8v0.8h-0.8zM181.8 813.5h1v1h-1zM282.8 744.0h0.8v0.8h-0.8zM200.1 854.5h0.8v0.8h-0.8zM260.5 747.9h0.8v0.8h-0.8zM227.0 823.2h0.8v0.8h-0.8zM255.1 835.1h1v1h-1zM265.7 745.5h1.2v1.2h-1.2zM118.5 769.2h1.2v1.2h-1.2zM129.6 854.3h1.2v1.2h-1.2zM219.2 768.6h0.8v0.8h-0.8zM222.9 766.2h0.8v0.8h-0.8zM296.0 836.5h0.8v0.8h-0.8zM289.5 844.8h0.8v0.8h-0.8zM186.0 760.6h1v1h-1zM222.6 767.7h1.2v1.2h-1.2zM197.9 849.3h1v1h-1zM162.7 782.6h1v1h-1zM179.0 850.3h1.2v1.2h-1.2zM239.9 827.7h1v1h-1zM244.2 766.1h1v1h-1zM204.8 831.0h1v1h-1zM174.2 839.1h0.8v0.8h-0.8zM179.2 855.4h0.8v0.8h-0.8zM108.1 821.1h1v1h-1zM172.6 811.6h0.8v0.8h-0.8zM282.6 768.4h1.2v1.2h-1.2zM166.5 799.8h1.2v1.2h-1.2zM210.9 771.2h0.8v0.8h-0.8zM217.0 774.1h1v1h-1zM226.7 840.0h1v1h-1zM92.7 789.6h0.8v0.8h-0.8zM183.0 789.2h1.2v1.2h-1.2zM191.7 814.9h0.8v0.8h-0.8zM198.6 801.2h1.2v1.2h-1.2zM223.9 769.5h1v1h-1z" fill="#3b3566" opacity=".8"/><path filter="url(#halo3)" d="M161.6 818.6l1.1 -1.3l.8 -.4l-.3 1.0zM138.6 791.4l-1.1 .2l-.8 -.4l1.1 -.2zM210.4 752.9l1.1 -.6l.9 .0l-1.2 .6zM175.1 871.4l-2.8 -.8l-.6 -2.6l3.1 1.7zM171.7 868.8l-1.3 -.6l.0 -.6l.7 .1zM175.6 874.5l-.5 -1.0l1.7 -.7l-.1 1.5zM193.2 845.4l-.8 -.0l-1.9 -1.2l2.1 .2zM209.9 768.8l1.1 -.3l1.0 .3l-.9 .5zM215.1 773.4l-.9 .1l-.8 -2.3l2.0 1.7zM205.3 772.4l-1.1 -.2l-.9 -.8l1.4 .0zM99.3 838.2l-.6 .3l-.9 -.5l.8 -.1zM183.9 815.4l-3.6 1.0l-.9 -.9l1.0 -.7zM175.9 816.9l2.1 -.9l1.6 .3l-1.1 .7zM97.6 853.5l-.3 -1.2l.9 -1.7l.5 1.7zM130.4 826.6l-1.3 -.1l-.3 -.5l.8 -.1zM133.1 828.0l-1.5 -.4l.4 -.4l.8 .1zM148.8 818.9l-1.1 -.0l-1.5 -3.2l2.1 1.6zM150.1 820.3l-2.1 .7l-2.0 -1.2l1.6 -1.0zM172.9 827.1l.6 -.7l.9 .5l-.2 .4zM264.4 801.4l1.3 -1.2l1.5 -.3l-1.9 1.6zM244.9 765.2l-.9 -.2l-.1 -1.4l1.1 1.0zM207.9 803.6l-.0 -.5l1.2 -1.4l-.0 1.1zM227.9 750.2l-.5 .1l-.4 -1.4l.8 .4zM113.6 832.5l-1.1 -1.6l.6 -2.0l1.4 2.5zM110.8 827.2l-.7 .1l-.9 -.6l1.0 -.4zM108.2 833.8l.8 -1.8l1.3 -.5l-.4 1.1zM262.5 832.6l.1 -1.4l1.2 -.9l-.1 2.6zM287.1 783.6l-2.7 .1l-1.4 -1.0l1.3 .0zM281.6 782.5l-1.2 -.3l-.3 -1.2l1.1 -.0zM255.3 775.3l-.4 -1.1l1.1 -.7l-.0 .6zM256.5 778.8l-.8 -.3l-.2 -1.4l1.3 1.0zM252.3 778.3l-.8 -.5l-.7 -1.1l1.4 .0zM247.0 821.7l-3.0 -2.0l-.9 -1.1l2.6 .8zM131.9 759.5l-.7 .3l-.6 -.5l.5 -.1zM129.6 760.3l-1.1 .1l-.4 -.5l.6 -.0zM212.4 779.7l-.4 -.3l.4 -1.0l.2 .8zM215.4 779.6l.4 -.7l1.0 .2l-.9 .7zM99.5 847.2l-1.5 -.7l-.0 -1.6l1.5 .8zM240.2 760.4l-1.0 .3l-.8 -1.3l1.1 -.0zM279.6 833.0l.4 -1.1l1.3 -.2l-.6 .7zM277.5 835.0l-.2 -.8l.5 -.4l.2 .2zM252.7 747.0l-.7 -.6l.0 -1.3l.3 .7zM258.4 748.3l-2.1 -2.4l1.0 -1.5l1.1 1.9zM254.3 752.0l.1 -.6l.6 -.8l.4 1.0zM185.0 753.4l.0 -1.0l.5 -.8l.5 1.3zM214.6 797.0l.5 -.9l1.2 .7l-.7 .2zM213.4 794.9l-1.0 .2l-.3 -.4l.5 -.4zM212.5 795.9l-.8 -.2l-.1 -1.8l1.1 1.2zM105.1 761.1l-1.8 -2.1l1.3 -3.0l1.4 1.7zM107.5 756.7l.3 -1.5l.9 -.6l-.5 1.9zM239.6 762.4l.4 -.7l2.3 .9l-.7 .9zM241.1 759.6l.7 -1.1l.6 -.0l-.2 .7zM224.4 761.6l-.4 -1.2l.9 -.9l.8 .9zM243.4 784.3l-1.2 -.3l-.9 -1.4l1.6 .5zM248.4 784.9l-.6 .3l-1.4 -2.6l1.9 .2zM246.1 783.9l-.6 -.9l.3 -.8l.4 .4zM236.6 769.3l-.4 -.3l.7 -.9l.2 .9zM234.0 769.2l-1.4 .5l-1.3 -2.1l1.5 -.1zM225.9 842.7l-.4 -.9l.7 -1.6l.2 1.3zM167.0 760.6l.9 -2.5l1.1 -1.1l-.9 2.7zM163.9 764.5l1.2 -3.5l1.7 .3l1.3 1.8zM270.7 792.0l-.6 -1.2l.5 -2.5l.8 1.8zM272.7 787.4l.0 -.7l.8 -.4l-.1 .9zM212.8 760.9l-.3 -1.5l.8 -1.4l-.0 2.2zM214.9 757.7l-.9 .3l-.3 -.8l.4 -.3zM216.2 754.7l.7 -.8l1.2 .2l-1.0 1.0zM118.5 765.8l.4 -3.0l.8 -.8l.4 2.0zM115.5 764.4l-.2 -1.6l.7 -.6l.4 1.4zM125.7 763.5l.8 -.6l.7 .2l-.6 .3zM252.8 819.5l-1.2 .4l-1.6 -1.0l1.2 -.7zM216.5 853.1l.1 -.6l1.2 -.4l-.5 1.1zM220.7 851.2l.6 -.9l.6 -.2l-.7 1.2zM214.3 852.6l-.7 -1.3l-.0 -2.3l1.7 2.5zM146.7 816.0l-.8 .2l-.7 -.5l1.2 -.4zM143.5 815.7l-2.0 -.1l.2 -1.3l.9 .2zM150.1 813.4l.5 -1.2l2.7 -.1l-1.4 1.3zM290.1 859.4l-.6 -.3l-.5 -.8l1.0 .7zM256.4 864.4l-.5 -.4l-.2 -1.6l.7 .6zM173.8 859.6l-.5 .4l-1.7 -.7l1.6 -.0zM124.6 835.4l-.9 -1.3l-.1 -1.5l1.5 1.0zM123.2 832.1l-1.4 -1.0l-.4 -1.0l1.7 .7zM248.1 861.9l.2 -1.3l1.6 -.1l-.4 1.3zM249.5 863.6l1.0 -.6l1.3 .0l-.2 .9zM239.9 841.4l-1.1 -.5l.2 -.8l.7 .3zM235.5 843.7l-.6 -1.5l1.4 -1.9l.3 2.0zM238.0 836.1l-.0 -1.1l.7 -.2l-.1 .9zM165.4 833.9l-.1 -1.9l.8 -.4l.4 1.2zM231.2 810.2l-1.0 .1l-.6 -.5l1.3 -.2zM224.5 811.6l.2 -1.9l1.8 -1.2l.5 1.5zM212.5 798.4l-.6 .2l-1.1 -.5l1.1 .0zM264.2 832.5l.1 -1.6l.7 -1.0l.6 1.6zM170.1 773.1l-.8 .7l-1.8 -.9l1.7 -.5zM96.3 762.9l-1.2 -.3l-.5 -2.5l1.2 .5zM97.5 761.5l-1.8 -1.9l.6 -1.8l1.4 1.2zM94.9 757.1l-1.4 -1.0l-.0 -2.3l2.9 2.5zM299.2 751.8l-1.2 -.5l.0 -.4l.5 -.1zM96.4 800.3l2.5 -1.8l1.9 .4l-2.8 1.4zM256.1 841.7l-1.3 -.2l-.6 -1.6l1.1 .5zM273.7 749.7l.8 -.5l1.4 .1l-.9 .6zM273.6 801.1l-.5 .2l-.9 -.9l.7 -.1zM269.1 798.4l.0 -2.4l1.8 -1.7l-.0 1.8zM165.5 793.1l-.9 -.7l.2 -1.0l.6 .4zM122.7 830.6l-.5 -1.1l.4 -2.2l.7 1.8zM124.8 829.5l-.6 -1.4l2.0 -1.7l-.5 2.5zM120.2 836.5l-.3 -.9l.5 -1.1l.2 .8zM192.8 841.1l-1.7 1.1l-2.2 -1.3l1.3 -.9zM254.4 859.6l-.5 -.3l.3 -1.0l.4 1.0zM250.5 857.3l1.5 -2.1l1.7 -.5l-1.3 2.7zM145.8 759.0l.2 -1.1l2.0 -.5l-1.2 1.4zM149.3 761.2l-.6 -.5l.6 -1.2l.4 .8zM167.5 841.7l-2.6 -1.0l.2 -1.2l1.4 -.1zM131.2 810.7l1.1 -.4l.8 .4l-1.2 1.0zM205.4 848.4l-.7 -.9l.1 -1.1l.8 1.3zM202.7 849.2l-.2 -1.0l.6 -.3l-.0 1.2zM202.4 851.9l-2.6 1.1l-1.1 -1.2l1.7 -1.6zM277.2 797.7l-.2 -1.5l.9 -.1l-.0 .9zM211.6 754.2l-1.2 .3l-1.7 -.9l2.0 -.2zM214.7 750.5l-.5 2.0l-3.9 -1.6l2.2 -2.0zM208.9 757.8l-1.4 1.0l-1.9 -.9l2.2 -.7zM213.9 795.7l-1.6 -.7l.7 -1.1l1.0 .6zM228.1 847.4l-.0 -1.3l2.8 .5l-1.0 .9zM103.2 823.1l.7 -.3l1.2 .1l-.8 .9zM161.1 835.9l-.3 -2.4l.4 -1.7l.9 2.2zM157.4 836.2l.7 -1.7l2.6 -.6l-1.0 1.7zM155.4 835.9l1.7 -.7l.9 .0l-.9 .8zM121.5 774.0l-.1 -.8l1.6 -.3l-.6 1.0zM160.5 745.2l1.7 -2.3l1.0 -.3l-.7 1.8zM119.3 783.3l-1.1 -.7l.1 -2.4l.8 1.2zM230.9 811.4l-1.2 1.6l-2.2 -2.1l2.9 -.8zM171.9 759.5l-.2 -.9l.8 -1.7l.4 1.7zM169.6 759.6l.7 -.6l.6 .1l-.3 .5zM174.2 761.3l.9 -.5l.3 .3l-.9 .4zM180.4 797.9l.6 -.5l1.0 .0l-.9 .5zM182.9 793.7l.9 -.7l2.4 -.4l-1.5 1.9zM108.2 801.1l-1.0 -1.0l-.7 -3.1l1.5 1.0zM281.3 846.1l-1.8 .8l-1.8 -1.5l.8 -.6zM278.5 848.7l.1 -.8l.6 -.4l-.1 1.0zM246.8 774.7l-1.0 -.7l.5 -1.7l.6 1.4zM241.2 774.7l-1.1 -2.8l1.9 -1.0l.7 2.0zM144.1 814.3l1.1 -1.7l3.9 .7l-2.8 2.7zM143.7 814.7l-.2 -.6l.5 -1.2l.2 1.0zM148.3 817.0l-.3 -.3l-.4 -1.0l.5 .4zM140.3 786.9l-1.6 -1.1l.1 -1.2l1.7 .9zM250.4 780.1l2.7 -.8l.9 .8l-.7 .5zM260.5 766.6l-.3 .1l-.9 -.9l.7 .2zM95.2 823.4l-2.2 -.8l.1 -1.0l.9 -.3zM158.9 760.3l.8 -1.5l1.0 -.3l-.4 1.9zM156.7 758.3l-1.0 -.9l.1 -1.1l.6 .1zM158.5 766.2l-1.3 .4l-1.7 -1.6l1.8 .1zM161.8 756.3l.3 -2.0l1.1 -1.3l.2 2.6zM247.4 756.6l-1.1 -.4l-.4 -.8l.8 .2zM103.2 839.3l-.3 -2.9l2.4 -1.1l-.0 2.6zM101.3 839.7l-.5 .5l-1.0 -1.0l.8 -.3zM100.9 833.0l-.8 .8l-2.0 -.4l1.8 -.7zM194.4 747.7l-.0 -1.1l1.8 -.7l-.3 2.2zM192.4 745.3l-.3 -.4l.8 -.8l.1 .9zM145.3 854.0l-2.2 .9l-1.6 -.7l2.2 -1.2zM280.6 864.2l-1.3 -.6l-1.4 -1.8l1.5 .3zM276.1 869.3l1.5 -3.2l2.1 -.4l-.2 2.3zM283.3 858.9l-.5 -.0l-.3 -1.3l.8 .8zM283.3 827.5l-.3 -.4l.3 -1.1l.4 1.2zM284.1 832.3l-.0 -1.7l1.9 -.5l-.5 1.6zM283.1 834.2l.6 -.7l.3 -.1l-.2 1.1zM136.4 745.1l-.9 -.1l.0 -1.8l.8 .3zM166.5 781.9l-1.1 -.8l.1 -1.8l1.3 1.3zM165.7 784.8l-.1 -.8l1.0 -.3l-.1 .9zM232.3 798.6l-1.0 -1.2l1.0 -2.4l1.0 2.3zM229.0 797.3l-.7 -.7l.1 -1.7l.9 1.4zM239.0 796.2l-.0 -.7l.6 -.7l.0 .9zM136.3 795.2l-.8 -.7l.3 -1.0l.5 .9zM141.8 795.2l-1.6 -.9l-.7 -1.0l1.5 .4zM190.0 831.6l-.2 -1.2l1.4 -1.2l.2 1.4zM103.0 809.5l-.5 -.5l-.2 -.8l.8 .6zM289.4 821.9l-.5 -2.9l1.2 -2.1l.7 2.0zM288.6 823.4l.2 -2.0l1.2 .2l-.0 1.3zM293.4 824.0l-1.0 -.4l-.1 -.6l.8 .6zM221.6 781.7l-1.0 -.1l-.5 -.4l.6 -.1zM236.1 771.4l.5 -.7l1.1 .4l-.8 .5zM183.7 809.8l-.4 -1.0l.6 -.7l.2 1.0zM201.1 835.5l-1.1 .3l-.4 -.8l.8 -.1zM154.9 837.2l-.7 -.2l-.6 -1.2l1.3 .5zM258.6 789.4l1.0 -1.0l.4 .6l-.7 .5zM261.8 789.2l-.1 -1.0l.8 -.7l.1 1.1zM238.0 832.9l.2 -1.3l.8 .0l-.3 .9zM248.2 833.3l-.6 -.4l.2 -.9l.7 .1zM161.4 802.0l-.0 -1.1l.3 -.2l.1 .8zM120.9 870.2l-.5 -.9l1.2 -1.8l.7 1.8zM121.2 866.9l-.1 -.9l.7 -.7l.1 .8zM261.3 788.0l-.2 -1.0l1.5 -1.0l-.1 1.4zM261.4 786.1l-1.7 -.8l-.6 -1.3l1.5 .3zM263.7 794.0l-1.0 -.9l-.1 -2.0l.9 1.3zM174.2 815.1l1.9 -2.1l1.2 .3l-.5 1.1zM126.6 787.5l.2 -.6l1.1 .2l-.6 .7zM127.9 785.5l-1.6 -.3l.0 -.4l.9 -.2zM233.3 774.0l-2.8 .8l-1.1 -2.1l2.5 .1zM235.3 748.0l-.1 -.8l1.3 -.4l-.1 .9zM238.8 746.0l-2.3 .5l-1.6 -2.3l1.3 -.5zM162.4 761.5l-.5 -.9l.2 -1.0l.9 .1zM162.1 758.4l.2 -2.0l1.0 -.3l-.3 1.9zM159.2 763.4l-.9 -1.8l.1 -.7l.9 .8zM180.1 810.8l-.1 -3.3l.6 -.9l.5 2.4zM183.0 809.7l.1 -1.0l3.1 -.7l-1.3 1.4zM210.2 790.6l-.7 .3l-.3 -1.3l1.3 .2zM243.2 769.0l-1.0 -1.8l3.4 -1.1l-1.1 2.6zM240.9 770.7l1.5 -.5l1.4 -.1l-1.4 1.1zM147.8 837.9l.4 -1.5l2.7 -.6l-1.8 1.6zM188.0 746.9l.1 -1.0l1.5 -.5l-.3 .7zM188.1 748.7l-1.1 .4l-.2 -.9l1.1 -.1zM192.9 744.0l-1.0 .3l-1.4 -1.1l1.6 .1zM270.1 827.7l-.1 -1.4l1.0 -.9l.0 1.3zM269.9 825.0l.2 -.6l1.0 -.6l-.6 .8zM284.2 869.2l-1.1 -.5l-.0 -.6l.7 -.1zM287.5 872.3l-.9 -.2l-.3 -.5l.8 .1zM188.7 834.4l-.4 -1.1l.6 -.7l.1 .7zM186.2 830.1l-.0 -1.1l.3 -.5l.2 .6zM132.1 782.0l-1.1 .7l-.9 -.8l1.0 -.2zM131.0 785.5l-.9 -.2l-1.0 -1.0l1.4 .5zM160.6 836.9l.5 -.6l1.5 -.5l-.5 1.0zM235.3 764.3l-.4 -.2l.3 -1.6l.5 1.2zM238.0 761.7l-.7 -1.6l1.0 -1.5l.7 1.4zM242.4 767.7l-1.7 .4l-.4 -.9l.4 -.6zM255.5 870.0l.1 -.8l.8 -.3l-.5 1.1zM101.2 860.9l-.8 -.5l-.3 -1.4l1.0 1.1zM127.8 840.0l.8 -1.0l1.1 -.3l-.9 1.2zM130.5 842.3l.7 -1.4l.4 -.2l.1 1.4zM131.7 834.0l-.4 -.4l.3 -1.1l.4 1.1zM98.2 834.4l-1.8 -.0l-.9 -.9l1.6 .0zM93.6 828.8l2.5 -1.3l1.2 1.0l-1.6 1.5zM92.0 835.4l-.8 -.1l-.4 -.7l1.2 .3zM253.2 820.2l-1.3 -1.0l1.2 -1.9l.5 1.2zM251.8 816.5l-.7 -.4l-.3 -1.3l1.2 .8zM269.7 867.6l-1.4 -.4l-.2 -.4l.7 .0zM270.1 863.9l.7 -.8l.9 .1l-.2 .9zM250.4 757.6l.5 -1.0l.5 .4l-.6 .9zM247.5 759.1l-1.3 .3l-.2 -1.1l1.3 .2zM246.6 753.7l.2 -1.3l2.2 -.4l-.8 1.4zM269.3 774.4l.1 -.8l1.0 -.1l-.5 .8zM117.3 851.7l-.5 -.2l-.7 -1.2l1.1 .5zM146.6 836.1l.9 -.6l.8 -.0l-.6 .5zM143.6 832.4l.5 -.7l2.2 -.1l-1.8 1.7zM150.8 835.5l-1.0 -1.3l.5 -1.5l.9 1.7zM287.1 760.2l-1.5 -1.0l.2 -.8l1.4 .8zM284.8 757.3l.5 -1.5l.8 -.9l-.4 1.9zM283.4 751.8l-2.0 .3l-.8 -2.6l2.5 .3zM280.9 756.3l.5 -1.0l.5 -.2l-.3 .9zM169.9 858.4l-1.6 .8l-.8 -.7l1.1 -.7zM119.4 871.0l-.7 -.3l.0 -1.5l1.0 .8zM116.8 868.0l-.1 -1.4l.5 -.6l.0 1.5zM114.2 868.4l.4 -.7l1.3 -.1l-.5 .9zM271.2 763.2l-.1 -.8l1.2 -.9l-.2 .8zM278.2 829.2l-.3 -.3l-.0 -1.1l.4 .5zM250.7 785.8l-.6 -.8l.0 -.9l.7 1.3zM246.3 782.5l.2 -.6l.9 -.3l-.3 .9zM245.0 780.8l.9 -1.4l1.2 .0l-.9 1.3zM105.9 827.5l-1.1 .1l-.5 -.8l.8 .0zM102.1 828.6l.2 -.9l.5 -.6l-.2 1.3zM224.9 809.7l.4 -.9l.9 .0l-.5 1.0zM286.0 774.6l-.1 -1.0l.2 -.7l.3 .7zM289.0 757.8l.5 -1.9l2.1 -1.9l-.0 3.0zM192.8 806.1l.3 -1.3l2.9 -1.5l-1.4 1.9zM199.2 806.3l-.2 -2.1l.7 -.5l.5 1.7zM199.1 807.4l-.9 -1.2l.1 -.8l.8 .8zM106.7 811.7l-.6 -.1l-.9 -.9l.8 -.0zM162.4 842.8l1.2 -1.1l1.3 .3l-1.7 1.4zM216.5 806.6l-1.3 -1.6l-.0 -3.8l2.0 1.6zM246.0 852.7l-1.2 -1.2l1.7 -1.7l.7 2.1zM279.5 807.8l-.3 -2.4l1.1 -.2l.4 1.6zM275.5 806.2l-.8 -1.7l1.2 -.3l.5 1.3zM276.9 810.3l.1 -.9l1.5 -1.1l-.1 .7zM169.8 779.2l-.7 -1.7l.6 -1.0l.4 .9zM175.4 777.8l-.7 .7l-3.2 -.9l3.0 -.5zM279.2 754.5l-.2 -1.8l1.4 -.8l.7 .8zM252.7 849.8l.6 -.7l.7 .7l-.3 .5zM255.0 853.0l-.5 -1.5l4.2 -1.1l-2.1 2.6zM255.6 857.6l-1.5 -1.0l-.5 -1.7l1.0 .4zM110.9 767.6l-.2 -1.2l.3 -.7l.2 1.4zM96.1 837.9l1.3 -.5l.7 .3l-1.0 .6zM100.1 836.5l-.4 -1.0l.3 -.7l.4 .3zM120.2 820.3l-.0 -2.7l1.6 -.8l.1 2.3zM118.0 823.0l-.3 -1.1l.1 -.6l.3 .8zM127.3 819.0l-.6 -.5l.3 -.9l.6 .2zM205.2 766.5l-1.0 -.2l-.4 -.7l1.4 .6zM266.5 823.4l-.4 -.0l.4 -1.4l.1 .7zM261.0 823.3l.6 -.6l.8 -.2l-.4 .9zM250.0 774.7l.1 -1.7l.6 -.6l.0 1.8zM248.5 777.3l-.5 -1.3l1.3 -.6l.3 1.6zM246.0 774.4l-1.0 -.9l-.2 -1.1l.9 .4zM149.8 803.6l-1.0 1.2l-1.9 -1.2l1.8 -1.1zM147.1 805.2l-2.7 .2l-.8 -1.0l2.1 -.8zM144.4 806.3l-.3 -.4l.8 -.9l.2 .9zM159.8 783.0l.5 -1.0l1.8 -.0l-1.6 1.3zM254.0 803.8l.4 -.5l1.2 -.6l-.3 .9zM209.3 800.0l-.8 .1l-1.8 -.6l1.6 -.3zM208.6 796.8l-2.2 -.8l.9 -1.1l1.0 .7zM189.4 792.5l-1.6 -.4l-.0 -1.1l1.5 .5zM255.5 764.6l-1.0 -.8l-.3 -.7l.7 .4zM254.7 761.9l.1 -1.6l1.6 -1.7l-.1 2.2zM257.7 761.8l-2.7 -.7l-.3 -2.4l2.7 1.3zM291.9 848.1l-.9 -.4l-.1 -1.0l.5 .5zM290.7 843.6l-.6 -.2l-.5 -1.0l.8 .6zM292.9 846.0l.3 -1.3l1.1 -.7l.1 2.1zM202.3 865.0l-.5 -.9l.2 -.6l.5 .9zM201.3 859.5l-.1 -.9l.6 -.5l-.0 1.0zM101.1 849.9l1.3 -.4l1.5 .9l-1.9 .7zM107.1 853.2l-2.6 -.1l-1.6 -1.0l1.6 -.7zM217.4 861.2l-2.2 -2.3l.4 -2.6l1.5 1.3zM128.2 767.1l-1.7 -.5l-1.2 -2.6l4.3 1.4zM157.7 757.1l-1.2 -.4l-.4 -1.8l1.2 .7zM152.6 755.2l-.7 -.6l.5 -1.4l.7 .6zM110.9 777.8l-.4 -1.7l2.9 -1.7l-.7 3.9zM109.5 780.3l1.8 -.8l1.0 .8l-1.6 .6zM216.2 758.1l.9 -1.5l.5 .3l-.2 .8zM105.1 834.9l.3 -1.5l.9 -.8l-.1 1.0zM264.1 852.0l-1.4 -.2l-.5 -1.3l.6 -.1zM265.8 855.9l-.4 .4l-1.4 -.5l1.0 -.5zM245.5 814.5l.3 -2.0l3.3 -.3l-1.4 2.0zM243.6 814.0l-.3 -1.0l.6 -2.4l.7 1.8zM246.6 821.9l-.6 -1.0l.3 -1.0l.5 1.2zM220.8 772.7l.2 -.4l1.2 .2l-.9 .6zM164.6 756.1l-.9 -1.1l.3 -1.5l1.3 2.2zM125.1 823.0l.2 -.9l1.0 -.9l-.2 .8zM216.5 787.7l-1.4 -2.5l2.9 -1.1l.5 2.0zM169.9 859.7l1.1 -1.3l1.5 .9l-1.2 .8zM175.1 858.2l.5 -1.3l1.0 -.3l-.3 1.0zM246.3 808.6l-.7 .2l-.8 -1.3l1.0 .2zM220.2 825.3l-1.7 .0l-.8 -.5l2.2 -.1zM271.3 799.3l-.3 -.9l.7 -.8l.3 1.0zM275.2 800.5l-1.6 -2.6l.9 -1.6l1.9 2.7zM234.6 806.0l-1.3 -.3l.0 -.4l1.0 .1zM211.9 869.1l-.4 -.7l1.7 -1.2l.6 .7zM214.2 872.6l-1.1 -2.3l1.5 -2.3l.5 1.7zM207.9 870.6l-.1 -3.1l1.2 -1.9l.7 1.7zM102.3 867.1l-.7 .3l-1.0 -.6l.9 -.2zM97.7 865.7l.7 -1.2l.9 -.2l-.2 .8zM108.6 871.1l-.5 -.3l.1 -1.3l.7 .5zM247.9 801.6l-2.2 .4l-.6 -.8l1.6 -.1zM98.8 835.1l-1.6 -1.1l-.8 -1.9l2.2 1.7zM101.0 835.5l.4 -.9l.7 -.3l-.2 .7zM96.6 840.2l1.4 -.9l1.9 .7l-1.8 .6zM284.3 870.9l-.8 -1.2l.4 -1.9l1.0 1.9zM284.4 872.8l-1.3 -.4l-.1 -1.9l1.3 .8zM231.3 749.9l-1.9 .9l-1.1 -1.5l1.8 -1.1zM232.5 747.8l-.9 -.3l-.0 -1.6l.7 .4zM231.4 752.4l.4 -1.7l1.6 -.2l-.1 1.3zM165.7 829.4l-.3 .2l-.9 -.5l.9 -.3zM228.4 787.6l.3 -1.0l1.8 -1.2l-.4 1.3zM141.0 748.8l-.6 .6l-.9 -.8l.7 -.2zM279.1 789.9l-1.2 -2.1l.5 -1.9l1.3 2.8zM277.8 785.6l.6 -2.0l2.5 -.6l-.8 2.3zM273.5 787.6l.7 -.7l.6 .3l-.8 .8zM224.1 773.2l.4 -.8l.8 .0l-.8 1.0zM275.3 799.4l.9 -2.1l1.5 -.8l-.7 2.9zM138.4 806.4l1.2 -1.5l1.3 .2l-1.1 1.1zM219.4 769.9l2.2 -2.2l1.7 .1l-.7 2.0zM219.4 767.9l-.4 .2l-1.2 -.7l1.0 -.3zM215.9 769.2l-1.0 -2.5l1.8 -2.3l.9 2.8zM264.5 779.2l-.9 .8l-1.1 -.6l1.5 -.6zM153.9 858.2l.2 -2.2l3.0 .8l-1.0 1.0zM155.5 861.5l.3 -.6l1.5 -.6l-.6 1.3zM286.8 861.3l-.3 -.5l.9 -1.7l.8 .8zM256.5 814.6l-.8 -1.3l.5 -.6l.6 .6zM253.8 774.3l1.1 -.6l1.9 .3l-2.1 .8zM250.9 773.8l.6 -1.3l.6 .3l-.2 1.0zM253.9 771.3l.4 -.4l1.3 -.1l-.8 .8zM202.2 859.5l-.2 -.4l.4 -1.0l.2 .5zM259.6 809.1l1.3 -.9l1.4 .9l-1.6 1.3zM160.4 864.9l.2 -.6l1.2 -.1l-.5 .6zM176.9 789.6l-.9 -.6l-.5 -.9l.7 .3zM225.4 858.8l-1.2 -.7l-.0 -.5l.8 .7zM159.1 828.5l.4 -2.7l.9 -.8l.4 2.1zM289.8 816.2l-1.0 .1l-.5 -.4l.7 -.1zM291.6 816.8l.6 -.5l.7 .4l-.9 .4zM143.8 744.2l1.7 -1.2l2.9 1.0l-1.6 1.4zM149.2 746.3l-.5 .3l-1.1 -1.2l1.2 -.0zM172.5 766.8l-1.3 -.5l-.2 -1.5l1.2 1.1zM159.4 758.7l.4 -.5l1.3 .0l-.4 .7zM161.8 762.0l-.6 -.7l.4 -.9l.5 1.0zM98.3 838.9l-1.8 -.5l-.6 -2.6l2.5 1.0zM106.8 811.4l-1.2 .4l-1.9 -1.1l2.2 -.7zM107.5 813.5l.2 -.8l.9 -.1l-.3 .6zM100.4 812.3l2.4 -1.1l.6 .4l-.7 .6zM140.6 865.8l.9 -.7l1.8 -.3l-.6 1.0zM264.3 866.5l-.7 .4l-1.3 -1.2l1.6 .2zM234.7 829.7l.1 -.5l1.1 -.8l-.2 1.3zM233.8 828.5l-1.5 .3l-.8 -.6l1.1 -.7zM124.2 779.8l-1.8 .7l-.2 -.6l.5 -.6zM236.9 848.3l-.4 .6l-1.3 -1.0l1.2 -.0zM257.9 780.5l.8 -1.1l1.2 .0l-1.0 1.1zM261.4 777.7l-1.2 -.4l.1 -1.1l1.1 .5zM259.9 776.4l-.2 .1l-1.1 -.7l1.1 .2zM124.7 838.7l2.9 -.5l1.6 1.0l-1.7 1.0zM129.6 838.9l.2 -1.7l.9 -.8l-.4 2.2zM128.7 775.2l-.9 .0l-.4 -1.2l.7 .3zM127.0 771.9l-1.4 .1l-.2 -.3l.5 -.2zM126.9 770.6l-.1 -.7l1.3 -.4l-.4 1.1zM98.0 757.5l-.5 -.1l-1.1 -1.0l1.1 .3zM97.5 760.0l-1.4 -.8l.6 -1.2l1.4 1.7zM132.2 860.8l-.3 -1.5l2.5 -1.4l.1 1.6zM134.3 863.2l.6 -.4l.9 -.2l-.8 .7zM287.4 865.5l-.7 -.1l-1.0 -.9l1.2 .3zM288.6 861.5l1.7 -.7l2.9 .4l-2.0 1.2zM252.6 764.6l.2 -.7l1.4 -.1l-.5 .6zM166.5 863.6l-.8 -1.9l.4 -1.0l.7 .3zM145.6 838.6l.6 -1.1l1.3 -1.1l-.4 1.2zM146.7 844.0l-.7 -2.9l.9 -.8l.9 2.0zM146.0 834.7l-.2 -1.2l.2 -.2l.4 .4zM197.4 870.7l2.4 -.8l1.1 .3l-.5 1.3zM111.6 860.6l-.2 -1.2l2.0 -.9l-.7 1.7zM234.6 752.1l.0 -1.6l1.2 .0l.5 1.2zM170.0 758.6l.7 -.5l1.5 .2l-1.1 .6zM232.3 866.3l.7 -1.6l.5 .1l-.3 1.3zM244.8 784.7l-.8 -.2l-.6 -.7l1.3 .5zM247.4 789.0l-.8 .8l-2.4 -1.0l2.1 -.9zM181.7 807.1l-1.6 -.3l-.0 -1.3l.8 .4zM182.1 805.3l1.0 -1.4l1.3 -.6l-1.0 1.4zM179.7 803.6l.1 -.8l.7 -.8l.0 1.1zM150.5 825.2l-.9 -.9l.7 -.9l.4 .5zM184.1 758.1l1.6 -1.0l1.7 .7l-.9 .8zM291.8 746.9l-1.4 -1.0l.5 -.8l1.0 .3zM288.6 748.2l-.6 -.6l.4 -.8l.7 1.1zM157.8 848.2l-1.7 -1.9l1.1 -2.5l1.2 1.8zM163.9 846.5l-2.6 1.1l-2.9 -1.2l3.7 -1.4z" fill="#4a30c0" stroke="#4a30c0" stroke-width=".5" stroke-linejoin="round"/><path d="M137.1 790.8h1.0v0.8h-1.0zM175.2 873.0h1.5v1.2h-1.5zM203.8 771.4h0.9v0.7h-0.9zM177.2 816.0h1.3v1.0h-1.3zM97.4 851.7h1.2v0.9h-1.2zM146.8 816.9h1.7v1.4h-1.7zM147.0 819.3h1.7v1.3h-1.7zM227.1 749.4h0.7v0.6h-0.7zM112.3 830.0h1.9v1.5h-1.9zM108.4 832.3h1.2v1.0h-1.2zM262.6 831.2h1.6v1.2h-1.6zM283.7 782.5h1.9v1.5h-1.9zM255.2 773.9h0.8v0.7h-0.8zM251.3 777.1h1.1v0.9h-1.1zM131.0 759.2h0.7v0.6h-0.7zM215.5 779.0h0.7v0.6h-0.7zM238.4 759.5h1.2v0.9h-1.2zM279.8 831.9h1.0v0.8h-1.0zM251.8 745.8h0.8v0.6h-0.8zM254.5 750.9h0.8v0.6h-0.8zM185.0 752.2h0.8v0.6h-0.8zM215.1 796.5h0.7v0.6h-0.7zM241.5 758.6h0.8v0.7h-0.8zM224.2 760.0h1.4v1.1h-1.4zM245.4 782.6h0.8v0.6h-0.8zM232.0 768.0h1.7v1.3h-1.7zM225.6 841.1h0.9v0.7h-0.9zM167.2 758.0h1.9v1.5h-1.9zM164.8 762.1h2.1v1.7h-2.1zM269.7 789.5h1.9v1.5h-1.9zM272.7 786.4h0.9v0.7h-0.9zM216.5 754.2h0.9v0.7h-0.9zM126.1 763.0h0.7v0.6h-0.7zM250.9 818.4h1.6v1.3h-1.6zM213.3 850.0h1.8v1.5h-1.8zM145.7 815.5h0.7v0.6h-0.7zM141.8 814.6h1.3v1.1h-1.3zM150.4 811.9h1.7v1.4h-1.7zM255.7 863.1h0.8v0.6h-0.8zM248.6 860.8h1.1v0.9h-1.1zM237.9 834.9h0.8v0.6h-0.8zM165.4 831.9h1.2v1.0h-1.2zM224.9 809.4h1.5v1.2h-1.5zM211.3 798.0h0.8v0.7h-0.8zM263.8 830.9h1.6v1.3h-1.6zM168.1 772.4h1.6v1.3h-1.6zM94.8 761.1h1.4v1.1h-1.4zM96.0 759.0h2.0v1.6h-2.0zM298.0 751.0h0.8v0.6h-0.8zM274.3 749.2h0.8v0.7h-0.8zM269.2 795.3h2.0v1.6h-2.0zM164.8 791.9h0.8v0.6h-0.8zM122.0 828.3h1.5v1.2h-1.5zM189.7 840.8h1.7v1.4h-1.7zM251.5 855.2h2.2v1.8h-2.2zM146.2 757.6h1.3v1.0h-1.3zM204.7 847.1h0.8v0.6h-0.8zM276.9 796.3h1.2v1.0h-1.2zM209.6 753.1h1.6v1.3h-1.6zM212.2 749.8h2.1v1.7h-2.1zM212.8 794.6h1.1v0.9h-1.1zM228.4 846.3h1.6v1.3h-1.6zM103.7 822.9h0.8v0.6h-0.8zM156.2 835.0h1.3v1.0h-1.3zM228.2 810.6h2.0v1.6h-2.0zM171.6 757.6h1.1v0.9h-1.1zM180.9 797.2h0.7v0.6h-0.7zM183.8 792.6h1.6v1.3h-1.6zM106.6 797.9h1.9v1.5h-1.9zM278.5 845.3h1.8v1.4h-1.8zM246.0 773.2h1.0v0.8h-1.0zM240.5 771.8h2.2v1.7h-2.2zM143.5 813.6h0.7v0.6h-0.7zM147.6 816.2h0.8v0.7h-0.8zM251.7 779.3h1.6v1.3h-1.6zM155.6 756.7h1.1v0.9h-1.1zM161.9 754.1h1.8v1.5h-1.8zM246.1 755.7h1.2v0.9h-1.2zM103.0 836.7h2.2v1.7h-2.2zM100.1 839.3h0.8v0.7h-0.8zM98.7 832.6h1.5v1.2h-1.5zM192.3 744.6h0.7v0.6h-0.7zM142.6 853.4h1.5v1.2h-1.5zM278.6 862.2h1.5v1.2h-1.5zM283.0 826.7h0.7v0.6h-0.7zM284.0 830.3h1.7v1.3h-1.7zM165.3 780.2h1.0v0.8h-1.0zM231.2 796.3h2.0v1.6h-2.0zM135.5 794.1h0.7v0.6h-0.7zM102.4 808.6h0.7v0.6h-0.7zM288.9 818.6h1.9v1.5h-1.9zM288.6 821.7h1.3v1.0h-1.3zM292.4 823.3h0.7v0.6h-0.7zM183.4 808.5h0.7v0.6h-0.7zM199.8 835.1h0.7v0.6h-0.7zM261.8 788.0h0.8v0.6h-0.8zM238.2 831.8h0.8v0.6h-0.8zM120.5 868.8h1.3v1.1h-1.3zM259.4 784.2h1.3v1.1h-1.3zM262.4 792.3h1.2v0.9h-1.2zM175.1 813.3h1.6v1.3h-1.6zM230.5 772.8h1.9v1.5h-1.9zM236.0 744.7h1.7v1.3h-1.7zM161.8 760.0h1.0v0.8h-1.0zM162.0 756.7h1.1v0.9h-1.1zM158.4 761.4h1.1v0.9h-1.1zM179.3 807.9h2.2v1.8h-2.2zM183.4 808.2h2.1v1.7h-2.1zM209.3 789.8h0.9v0.7h-0.9zM243.1 766.9h1.7v1.4h-1.7zM241.8 770.1h1.1v0.9h-1.1zM147.8 836.2h1.8v1.5h-1.8zM188.3 745.6h1.1v0.9h-1.1zM187.0 748.3h0.7v0.6h-0.7zM191.2 743.4h1.1v0.9h-1.1zM270.0 824.1h0.8v0.6h-0.8zM283.1 868.2h0.7v0.6h-0.7zM286.7 871.7h0.7v0.6h-0.7zM188.2 833.1h1.1v0.8h-1.1zM186.0 828.8h0.7v0.6h-0.7zM130.7 781.7h0.9v0.7h-0.9zM129.5 784.4h1.2v0.9h-1.2zM160.9 836.0h1.0v0.8h-1.0zM234.8 763.3h0.9v0.7h-0.9zM255.5 869.1h0.9v0.7h-0.9zM128.1 839.0h1.2v0.9h-1.2zM130.9 841.0h1.0v0.8h-1.0zM131.3 833.1h0.7v0.6h-0.7zM96.2 833.5h1.2v0.9h-1.2zM94.7 828.0h1.9v1.5h-1.9zM91.2 834.8h0.8v0.6h-0.8zM252.0 818.1h1.6v1.3h-1.6zM251.0 815.4h0.9v0.7h-0.9zM250.5 756.9h0.7v0.6h-0.7zM246.9 752.1h1.7v1.3h-1.7zM269.5 773.6h0.7v0.6h-0.7zM116.4 850.6h0.8v0.6h-0.8zM147.3 835.4h0.8v0.6h-0.8zM144.0 831.7h1.5v1.2h-1.5zM286.0 759.0h1.0v0.8h-1.0zM284.8 755.9h1.1v0.9h-1.1zM280.9 750.0h2.0v1.6h-2.0zM281.1 755.4h0.7v0.6h-0.7zM168.0 858.0h1.1v0.9h-1.1zM118.7 869.7h1.1v0.9h-1.1zM116.4 866.7h1.0v0.8h-1.0zM271.1 762.0h1.1v0.9h-1.1zM277.7 828.1h0.7v0.6h-0.7zM250.0 784.8h0.8v0.6h-0.8zM246.4 781.9h0.7v0.6h-0.7zM102.1 827.7h0.8v0.6h-0.8zM193.3 804.3h1.7v1.4h-1.7zM198.3 806.2h0.7v0.6h-0.7zM245.4 850.8h1.4v1.1h-1.4zM274.9 804.8h1.2v1.0h-1.2zM279.1 752.1h1.5v1.2h-1.5zM252.8 849.5h0.8v0.6h-0.8zM255.1 851.2h2.1v1.7h-2.1zM253.9 855.6h1.3v1.0h-1.3zM110.5 766.3h1.0v0.8h-1.0zM96.7 837.6h0.7v0.6h-0.7zM119.8 817.4h2.1v1.7h-2.1zM126.8 817.9h0.8v0.6h-0.8zM204.2 765.9h0.8v0.6h-0.8zM266.0 822.6h0.7v0.6h-0.7zM261.3 822.8h0.7v0.6h-0.7zM147.3 803.1h1.9v1.5h-1.9zM144.0 803.6h1.8v1.4h-1.8zM144.3 805.2h0.7v0.6h-0.7zM254.6 803.0h0.9v0.7h-0.9zM188.1 791.5h0.9v0.7h-0.9zM254.8 759.7h1.5v1.2h-1.5zM255.6 760.0h1.7v1.4h-1.7zM290.8 847.0h0.8v0.7h-0.8zM201.7 864.0h0.7v0.6h-0.7zM201.1 858.5h0.9v0.7h-0.9zM101.7 849.7h1.1v0.9h-1.1zM103.5 851.5h2.2v1.8h-2.2zM152.0 754.0h0.9v0.7h-0.9zM111.1 775.6h2.1v1.7h-2.1zM216.6 757.0h0.9v0.7h-0.9zM104.9 833.3h1.4v1.1h-1.4zM262.2 850.7h1.4v1.1h-1.4zM221.1 772.3h0.8v0.6h-0.8zM163.9 754.5h1.3v1.1h-1.3zM125.3 821.7h0.8v0.7h-0.8zM215.6 785.2h2.0v1.6h-2.0zM245.0 807.7h1.0v0.8h-1.0zM271.3 798.1h0.7v0.6h-0.7zM273.8 797.7h2.1v1.7h-2.1zM233.5 805.2h0.7v0.6h-0.7zM211.9 867.5h1.4v1.1h-1.4zM213.2 869.5h1.8v1.5h-1.8zM207.6 867.2h2.2v1.8h-2.2zM101.2 866.7h0.9v0.7h-0.9zM98.2 864.7h0.8v0.6h-0.8zM108.0 870.2h0.7v0.6h-0.7zM245.7 801.0h1.3v1.0h-1.3zM97.0 833.1h1.4v1.1h-1.4zM97.2 839.5h1.5v1.2h-1.5zM283.4 869.1h1.6v1.3h-1.6zM283.1 871.5h1.3v1.0h-1.3zM228.7 748.7h1.7v1.3h-1.7zM231.5 750.9h1.8v1.4h-1.8zM228.8 786.0h1.3v1.0h-1.3zM224.2 772.6h0.7v0.6h-0.7zM275.7 797.3h1.6v1.3h-1.6zM138.8 805.0h1.6v1.3h-1.6zM218.3 767.3h0.7v0.6h-0.7zM263.1 779.0h0.8v0.7h-0.8zM154.5 856.4h1.9v1.5h-1.9zM155.9 860.5h1.0v0.8h-1.0zM286.7 859.7h1.2v1.0h-1.2zM255.8 813.1h0.8v0.6h-0.8zM254.4 773.7h1.3v1.0h-1.3zM254.3 770.8h0.8v0.6h-0.8zM202.0 858.5h0.8v0.6h-0.8zM160.7 864.3h0.7v0.6h-0.7zM224.3 857.9h0.7v0.6h-0.7zM159.1 826.3h1.7v1.3h-1.7zM145.3 743.4h2.2v1.8h-2.2zM171.0 765.4h1.3v1.0h-1.3zM161.3 760.9h0.7v0.6h-0.7zM96.4 836.9h2.0v1.6h-2.0zM104.7 810.6h1.4v1.1h-1.4zM107.6 812.7h0.7v0.6h-0.7zM101.6 811.3h1.4v1.1h-1.4zM141.0 864.9h1.4v1.1h-1.4zM234.8 829.0h0.8v0.7h-0.8zM232.0 827.8h1.0v0.8h-1.0zM258.5 779.4h1.2v1.0h-1.2zM260.2 776.6h0.9v0.7h-0.9zM259.0 775.9h0.7v0.6h-0.7zM129.5 837.4h1.2v1.0h-1.2zM127.5 774.4h1.0v0.8h-1.0zM125.7 771.5h0.7v0.6h-0.7zM127.1 769.6h1.0v0.8h-1.0zM97.0 756.6h0.7v0.6h-0.7zM96.5 758.8h1.1v0.9h-1.1zM132.3 858.4h1.9v1.6h-1.9zM252.9 763.8h0.8v0.7h-0.8zM146.1 837.0h1.1v0.9h-1.1zM145.9 841.4h1.7v1.4h-1.7zM145.8 833.5h0.7v0.6h-0.7zM198.6 870.1h1.6v1.2h-1.6zM234.5 750.9h1.3v1.0h-1.3zM170.5 758.0h1.1v0.9h-1.1zM232.6 865.0h1.0v0.8h-1.0zM245.3 788.2h1.3v1.1h-1.3zM180.4 805.9h1.1v0.9h-1.1zM179.8 802.4h0.7v0.6h-0.7zM185.1 757.1h1.3v1.1h-1.3zM288.1 747.1h0.9v0.7h-0.9zM156.5 845.7h1.8v1.4h-1.8zM160.1 845.5h2.2v1.7h-2.2z" fill="#2e1c96"/></g></g>
<path d="M274 862.3h9M278.5 859v6" stroke="#c03030" stroke-width="1" fill="none"/>
<path d="M397.6,501.80V763.0H572.6" stroke="#2a2a2a" stroke-width="1.3" fill="none"/>
<line x1="397.60" y1="697.70" x2="405.60" y2="697.70" stroke="#2a2a2a" stroke-width="1.3"/>
<line x1="397.60" y1="632.40" x2="405.60" y2="632.40" stroke="#2a2a2a" stroke-width="1.3"/>
<line x1="397.60" y1="567.10" x2="405.60" y2="567.10" stroke="#2a2a2a" stroke-width="1.3"/>
<line x1="397.60" y1="501.80" x2="405.60" y2="501.80" stroke="#2a2a2a" stroke-width="1.3"/>
<text x="390.30" y="769.40" text-anchor="end" font-size="20.6" fill="#1a1a1a">0</text>
<text x="390.30" y="704.10" text-anchor="end" font-size="20.6" fill="#1a1a1a">200</text>
<text x="390.30" y="638.80" text-anchor="end" font-size="20.6" fill="#1a1a1a">400</text>
<text x="390.30" y="573.50" text-anchor="end" font-size="20.6" fill="#1a1a1a">600</text>
<text x="390.30" y="508.20" text-anchor="end" font-size="20.6" fill="#1a1a1a">800</text>
<text x="349.00" y="634.00" text-anchor="middle" font-size="20.4" fill="#1a1a1a" transform="rotate(-90 349.00 634.00)">Migration cell number</text>
<path d="M432.00,499.30V483.80H536.50V499.30" stroke="#2a2a2a" stroke-width="1.3" fill="none"/>
<path d="M432.00,554.30V538.80H479.50V604.50" stroke="#2a2a2a" stroke-width="1.3" fill="none"/>
<path d="M489.50,604.50V538.80H536.50V671.70" stroke="#2a2a2a" stroke-width="1.3" fill="none"/>
<text x="484.30" y="481.70" text-anchor="middle" font-size="20.4" fill="#1a1a1a">**</text>
<text x="456.30" y="532.50" text-anchor="middle" font-size="20.4" fill="#1a1a1a">ns</text>
<text x="513.80" y="536.70" text-anchor="middle" font-size="20.4" fill="#1a1a1a">**</text>
<path d="M416.80,763.00V607.50H448.00V763.00" stroke="#cc4040" stroke-width="1.0" fill="none"/>
<line x1="432.40" y1="569.30" x2="432.40" y2="607.50" stroke="#cc4040" stroke-width="1.1"/>
<line x1="423.65" y1="569.30" x2="441.15" y2="569.30" stroke="#cc4040" stroke-width="1.1"/>
<path d="M468.80,763.00V626.30H500.50V763.00" stroke="#8fa9d2" stroke-width="1.0" fill="none"/>
<line x1="484.60" y1="619.70" x2="484.60" y2="626.30" stroke="#8a969e" stroke-width="1.1"/>
<line x1="475.85" y1="619.70" x2="493.35" y2="619.70" stroke="#8a969e" stroke-width="1.1"/>
<path d="M520.60,763.00V694.20H552.70V763.00" stroke="#111" stroke-width="1.3" fill="none"/>
<line x1="536.80" y1="687.30" x2="536.80" y2="694.20" stroke="#111" stroke-width="1.3"/>
<line x1="528.05" y1="687.30" x2="545.55" y2="687.30" stroke="#111" stroke-width="1.3"/>
<text x="439.50" y="778.00" text-anchor="end" font-size="20.4" fill="#1a1a1a" transform="rotate(-45 439.50 778.00)">Fn-9</text>
<text x="491.00" y="778.00" text-anchor="end" font-size="20.4" fill="#1a1a1a" transform="rotate(-45 491.00 778.00)">Fn-ATCC</text>
<text x="543.00" y="778.00" text-anchor="end" font-size="20.4" fill="#1a1a1a" transform="rotate(-45 543.00 778.00)">Control</text>
<path d="M660,525.90V759.1H818" stroke="#2a2a2a" stroke-width="1.3" fill="none"/>
<line x1="660.00" y1="700.80" x2="668.00" y2="700.80" stroke="#2a2a2a" stroke-width="1.3"/>
<line x1="660.00" y1="642.50" x2="668.00" y2="642.50" stroke="#2a2a2a" stroke-width="1.3"/>
<line x1="660.00" y1="584.20" x2="668.00" y2="584.20" stroke="#2a2a2a" stroke-width="1.3"/>
<line x1="660.00" y1="525.90" x2="668.00" y2="525.90" stroke="#2a2a2a" stroke-width="1.3"/>
<text x="653.20" y="766.50" text-anchor="end" font-size="20.6" fill="#1a1a1a">0</text>
<text x="653.20" y="708.20" text-anchor="end" font-size="20.6" fill="#1a1a1a">50</text>
<text x="653.20" y="649.90" text-anchor="end" font-size="20.6" fill="#1a1a1a">100</text>
<text x="653.20" y="591.60" text-anchor="end" font-size="20.6" fill="#1a1a1a">150</text>
<text x="653.20" y="533.30" text-anchor="end" font-size="20.6" fill="#1a1a1a">200</text>
<text x="613.50" y="642.50" text-anchor="middle" font-size="20.4" fill="#1a1a1a" transform="rotate(-90 613.50 642.50)">TNF-α (pg/mL)</text>
<path d="M690.80,489.30V476.30H784.30V489.30" stroke="#2a2a2a" stroke-width="1.3" fill="none"/>
<path d="M690.80,527.50V513.80H733.30V527.50" stroke="#2a2a2a" stroke-width="1.3" fill="none"/>
<path d="M742.00,527.50V513.80H784.30V527.50" stroke="#2a2a2a" stroke-width="1.3" fill="none"/>
<text x="738.00" y="474.50" text-anchor="middle" font-size="20.4" fill="#1a1a1a">***</text>
<text x="711.80" y="513.30" text-anchor="middle" font-size="20.4" fill="#1a1a1a">**</text>
<text x="764.30" y="507.50" text-anchor="middle" font-size="20.4" fill="#1a1a1a">ns</text>
<path d="M677.20,759.10V619.30H705.00V759.10" stroke="#e02020" stroke-width="1.3" fill="none"/>
<line x1="691.20" y1="568.80" x2="691.20" y2="666.40" stroke="#e02020" stroke-width="1.3"/>
<line x1="683.20" y1="568.80" x2="699.20" y2="568.80" stroke="#e02020" stroke-width="1.3"/>
<line x1="683.20" y1="666.40" x2="699.20" y2="666.40" stroke="#e02020" stroke-width="1.3"/>
<circle cx="687.00" cy="545.80" r="4.1" fill="#e6000e"/>
<circle cx="695.00" cy="541.30" r="4.1" fill="#e6000e"/>
<circle cx="690.80" cy="603.00" r="4.1" fill="#e6000e"/>
<circle cx="679.00" cy="647.30" r="4.1" fill="#e6000e"/>
<circle cx="679.00" cy="655.50" r="4.1" fill="#e6000e"/>
<circle cx="694.70" cy="646.00" r="4.1" fill="#e6000e"/>
<circle cx="694.70" cy="653.60" r="4.1" fill="#e6000e"/>
<circle cx="703.10" cy="649.40" r="4.1" fill="#e6000e"/>
<path d="M723.50,759.10V685.80H751.50V759.10" stroke="#8cbcdc" stroke-width="1.1" fill="none"/>
<line x1="737.50" y1="664.90" x2="737.50" y2="703.00" stroke="#6f9fcc" stroke-width="1.1"/>
<line x1="729.50" y1="664.90" x2="745.50" y2="664.90" stroke="#6f9fcc" stroke-width="1.1"/>
<line x1="729.50" y1="703.00" x2="745.50" y2="703.00" stroke="#6f9fcc" stroke-width="1.1"/>
<rect x="726.60" y="652.50" width="8" height="8" fill="#5296e6"/>
<rect x="740.70" y="655.30" width="8" height="8" fill="#5296e6"/>
<rect x="733.80" y="668.40" width="8" height="8" fill="#5296e6"/>
<rect x="726.60" y="685.50" width="8" height="8" fill="#5296e6"/>
<rect x="726.60" y="693.00" width="8" height="8" fill="#5296e6"/>
<rect x="726.60" y="700.50" width="8" height="8" fill="#5296e6"/>
<rect x="740.70" y="690.50" width="8" height="8" fill="#5296e6"/>
<rect x="740.70" y="700.50" width="8" height="8" fill="#5296e6"/>
<path d="M770.20,759.10V692.00H798.30V759.10" stroke="#111" stroke-width="1.3" fill="none"/>
<line x1="784.30" y1="664.90" x2="784.30" y2="716.00" stroke="#111" stroke-width="1.3"/>
<line x1="776.30" y1="664.90" x2="792.30" y2="664.90" stroke="#111" stroke-width="1.3"/>
<line x1="776.30" y1="716.00" x2="792.30" y2="716.00" stroke="#111" stroke-width="1.3"/>
<path d="M784.30,648.90l4.60,8.20h-9.20z" fill="#000"/>
<path d="M777.40,660.80l4.60,8.20h-9.20z" fill="#000"/>
<path d="M791.50,661.40l4.60,8.20h-9.20z" fill="#000"/>
<path d="M784.30,693.20l4.60,8.20h-9.20z" fill="#000"/>
<path d="M777.40,704.10l4.60,8.20h-9.20z" fill="#000"/>
<path d="M791.50,703.50l4.60,8.20h-9.20z" fill="#000"/>
<path d="M777.40,712.20l4.60,8.20h-9.20z" fill="#000"/>
<path d="M791.50,712.20l4.60,8.20h-9.20z" fill="#000"/>
<text x="697.00" y="774.50" text-anchor="end" font-size="20.4" fill="#1a1a1a" transform="rotate(-45 697.00 774.50)">Fn-9</text>
<text x="744.00" y="774.50" text-anchor="end" font-size="20.4" fill="#1a1a1a" transform="rotate(-45 744.00 774.50)">Fn-ATCC</text>
<text x="791.00" y="774.50" text-anchor="end" font-size="20.4" fill="#1a1a1a" transform="rotate(-45 791.00 774.50)">DH5α</text>
<path d="M915.8,510.88V755.0H1080" stroke="#2a2a2a" stroke-width="1.3" fill="none"/>
<line x1="915.80" y1="706.17" x2="923.80" y2="706.17" stroke="#2a2a2a" stroke-width="1.3"/>
<line x1="915.80" y1="657.35" x2="923.80" y2="657.35" stroke="#2a2a2a" stroke-width="1.3"/>
<line x1="915.80" y1="608.52" x2="923.80" y2="608.52" stroke="#2a2a2a" stroke-width="1.3"/>
<line x1="915.80" y1="559.70" x2="923.80" y2="559.70" stroke="#2a2a2a" stroke-width="1.3"/>
<line x1="915.80" y1="510.88" x2="923.80" y2="510.88" stroke="#2a2a2a" stroke-width="1.3"/>
<text x="908.50" y="761.90" text-anchor="end" font-size="20.6" fill="#1a1a1a">0</text>
<text x="908.50" y="713.07" text-anchor="end" font-size="20.6" fill="#1a1a1a">50</text>
<text x="908.50" y="664.25" text-anchor="end" font-size="20.6" fill="#1a1a1a">100</text>
<text x="908.50" y="615.42" text-anchor="end" font-size="20.6" fill="#1a1a1a">150</text>
<text x="908.50" y="566.60" text-anchor="end" font-size="20.6" fill="#1a1a1a">200</text>
<text x="908.50" y="517.77" text-anchor="end" font-size="20.6" fill="#1a1a1a">250</text>
<text x="864.00" y="638.50" text-anchor="middle" font-size="20.4" fill="#1a1a1a" transform="rotate(-90 864.00 638.50)">IL-1β (pg/mL)</text>
<path d="M948.00,501.30V486.80H1045.80V501.30" stroke="#2a2a2a" stroke-width="1.3" fill="none"/>
<path d="M948.00,534.50V520.50H992.00V621.30" stroke="#2a2a2a" stroke-width="1.3" fill="none"/>
<path d="M1001.80,621.30V520.50H1045.80V631.30" stroke="#2a2a2a" stroke-width="1.3" fill="none"/>
<text x="995.50" y="478.80" text-anchor="middle" font-size="20.4" fill="#1a1a1a">ns</text>
<text x="970.80" y="512.50" text-anchor="middle" font-size="20.4" fill="#1a1a1a">ns</text>
<text x="1024.50" y="512.50" text-anchor="middle" font-size="20.4" fill="#1a1a1a">ns</text>
<path d="M933.50,755.00V643.00H963.00V755.00" stroke="#e02020" stroke-width="1.3" fill="none"/>
<line x1="948.00" y1="576.50" x2="948.00" y2="707.00" stroke="#e02020" stroke-width="1.3"/>
<line x1="939.25" y1="576.50" x2="956.75" y2="576.50" stroke="#e02020" stroke-width="1.3"/>
<line x1="939.25" y1="707.00" x2="956.75" y2="707.00" stroke="#e02020" stroke-width="1.3"/>
<circle cx="940.80" cy="550.00" r="4.1" fill="#e6000e"/>
<circle cx="955.50" cy="549.00" r="4.1" fill="#e6000e"/>
<circle cx="948.00" cy="619.30" r="4.1" fill="#e6000e"/>
<circle cx="948.00" cy="628.80" r="4.1" fill="#e6000e"/>
<circle cx="941.00" cy="694.20" r="4.1" fill="#e6000e"/>
<circle cx="941.00" cy="703.90" r="4.1" fill="#e6000e"/>
<circle cx="955.70" cy="690.50" r="4.1" fill="#e6000e"/>
<circle cx="955.70" cy="698.30" r="4.1" fill="#e6000e"/>
<path d="M982.50,755.00V679.50H1011.80V755.00" stroke="#8cbcdc" stroke-width="1.1" fill="none"/>
<line x1="997.00" y1="643.70" x2="997.00" y2="709.80" stroke="#6f9fcc" stroke-width="1.1"/>
<line x1="988.25" y1="643.70" x2="1005.75" y2="643.70" stroke="#6f9fcc" stroke-width="1.1"/>
<line x1="988.25" y1="709.80" x2="1005.75" y2="709.80" stroke="#6f9fcc" stroke-width="1.1"/>
<rect x="986.00" y="636.50" width="8" height="8" fill="#5296e6"/>
<rect x="1000.30" y="631.90" width="8" height="8" fill="#5296e6"/>
<rect x="986.00" y="655.30" width="8" height="8" fill="#5296e6"/>
<rect x="1000.30" y="649.00" width="8" height="8" fill="#5296e6"/>
<rect x="986.00" y="700.50" width="8" height="8" fill="#5296e6"/>
<rect x="1000.30" y="698.30" width="8" height="8" fill="#5296e6"/>
<rect x="986.00" y="710.50" width="8" height="8" fill="#5296e6"/>
<rect x="1000.30" y="709.20" width="8" height="8" fill="#5296e6"/>
<path d="M1031.50,755.00V696.00H1060.50V755.00" stroke="#111" stroke-width="1.3" fill="none"/>
<line x1="1046.00" y1="659.30" x2="1046.00" y2="730.40" stroke="#111" stroke-width="1.3"/>
<line x1="1037.25" y1="659.30" x2="1054.75" y2="659.30" stroke="#111" stroke-width="1.3"/>
<line x1="1037.25" y1="730.40" x2="1054.75" y2="730.40" stroke="#111" stroke-width="1.3"/>
<path d="M1038.60,644.90l4.60,8.20h-9.20z" fill="#000"/>
<path d="M1053.30,641.80l4.60,8.20h-9.20z" fill="#000"/>
<path d="M1046.00,670.80l4.60,8.20h-9.20z" fill="#000"/>
<path d="M1046.00,679.50l4.60,8.20h-9.20z" fill="#000"/>
<path d="M1038.60,718.20l4.60,8.20h-9.20z" fill="#000"/>
<path d="M1053.30,717.50l4.60,8.20h-9.20z" fill="#000"/>
<path d="M1038.60,726.90l4.60,8.20h-9.20z" fill="#000"/>
<path d="M1053.30,725.30l4.60,8.20h-9.20z" fill="#000"/>
<text x="955.50" y="770.00" text-anchor="end" font-size="20.4" fill="#1a1a1a" transform="rotate(-45 955.50 770.00)">Fn-9</text>
<text x="1006.00" y="770.00" text-anchor="end" font-size="20.4" fill="#1a1a1a" transform="rotate(-45 1006.00 770.00)">Fn-ATCC</text>
<text x="1053.00" y="770.00" text-anchor="end" font-size="20.4" fill="#1a1a1a" transform="rotate(-45 1053.00 770.00)">DH5α</text>
</g>
</svg>
</body></html>
